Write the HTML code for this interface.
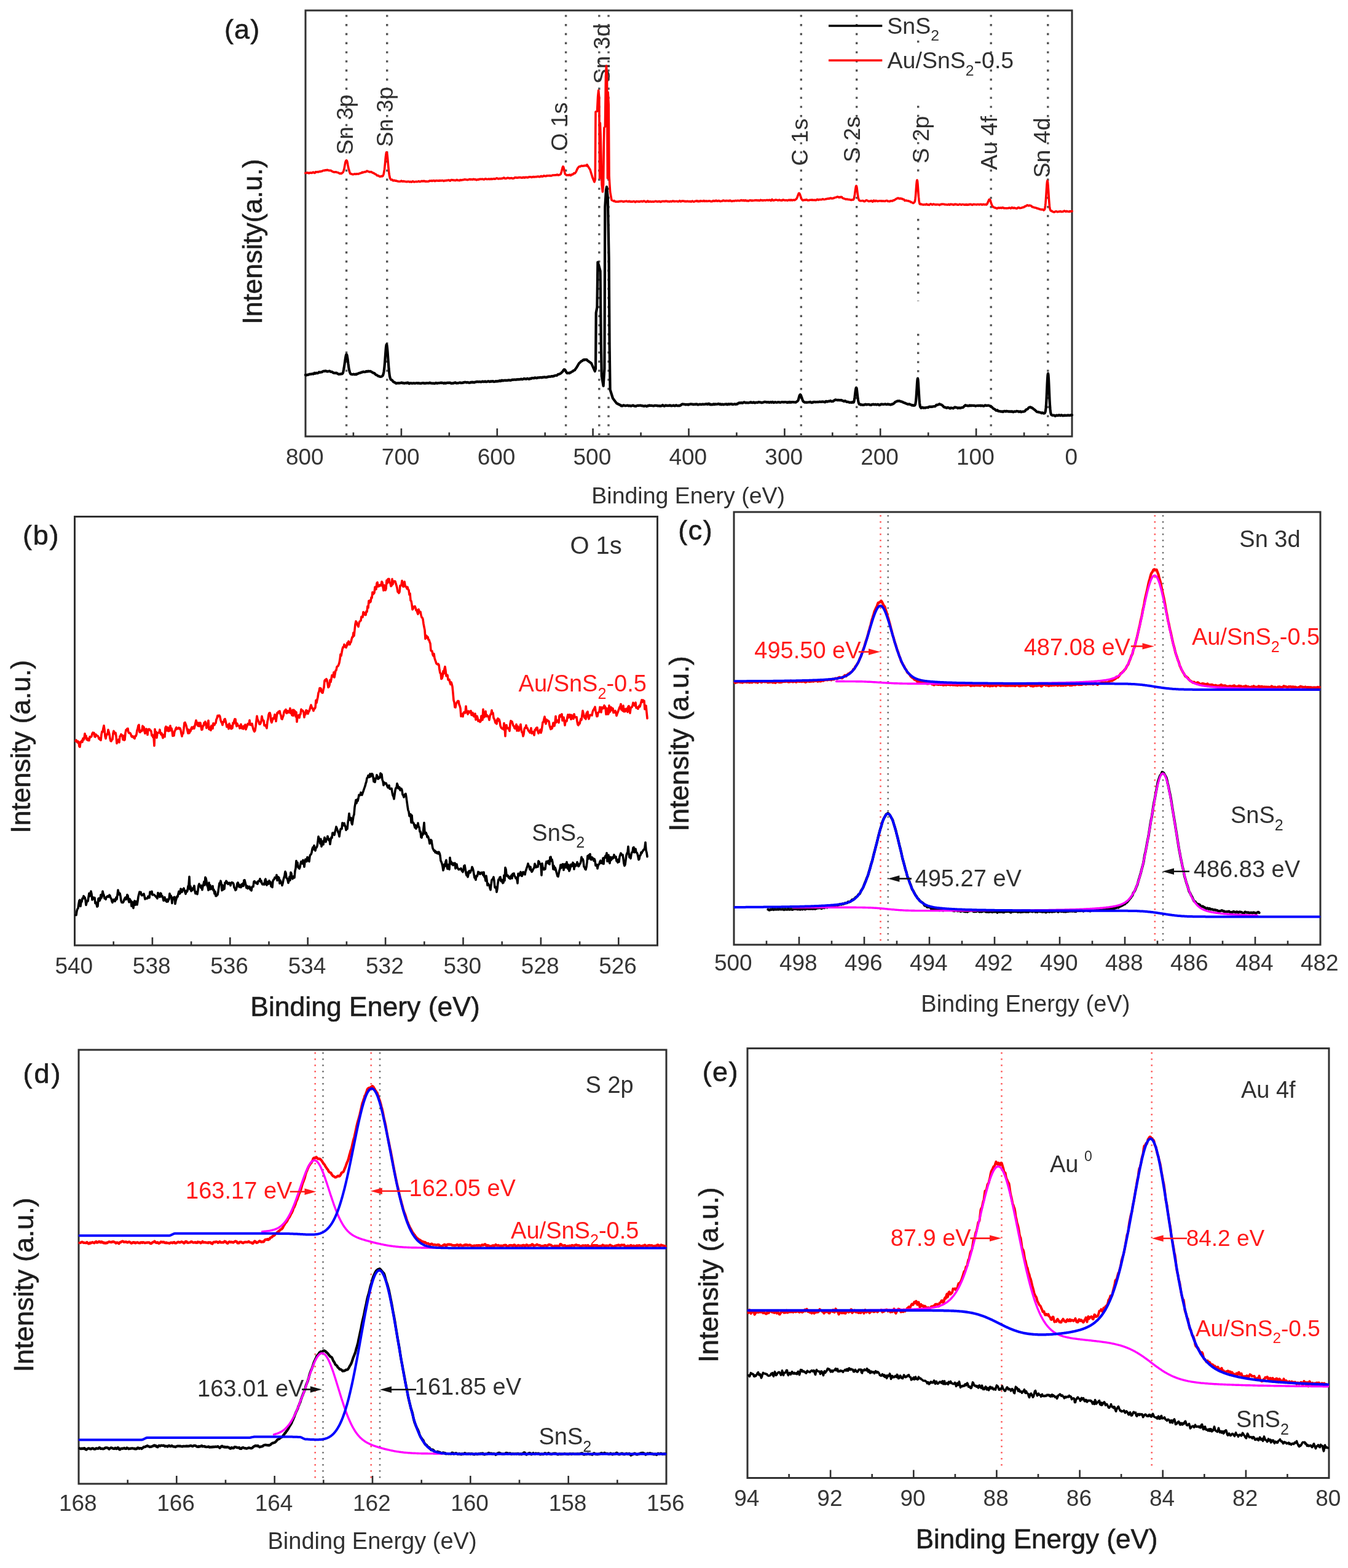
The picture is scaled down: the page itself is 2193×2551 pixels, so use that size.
<!DOCTYPE html>
<html><head><meta charset="utf-8"><style>
html,body{margin:0;padding:0;background:#fff;}
svg{display:block;font-family:"Liberation Sans",Arial,sans-serif;font-kerning:none;}
</style></head><body>
<svg width="2193" height="2551" viewBox="0 0 2193 2551">
<rect width="2193" height="2551" fill="#fff"/>
<rect x="497" y="17" width="1247" height="693" fill="none" stroke="#303030" stroke-width="3"/>
<path d="M1588.1 710V697M1432.2 710V697M1276.4 710V697M1120.5 710V697M964.6 710V697M808.8 710V697M652.9 710V697M1666.1 710V703.5M1510.2 710V703.5M1354.3 710V703.5M1198.4 710V703.5M1042.6 710V703.5M886.7 710V703.5M730.8 710V703.5M574.9 710V703.5" stroke="#303030" stroke-width="2.6" fill="none"/>
<text x="495.8" y="756" font-size="37" fill="#353535" text-anchor="middle">800</text>
<text x="651.7" y="756" font-size="37" fill="#353535" text-anchor="middle">700</text>
<text x="807.5" y="756" font-size="37" fill="#353535" text-anchor="middle">600</text>
<text x="963.4" y="756" font-size="37" fill="#353535" text-anchor="middle">500</text>
<text x="1119.3" y="756" font-size="37" fill="#353535" text-anchor="middle">400</text>
<text x="1275.2" y="756" font-size="37" fill="#353535" text-anchor="middle">300</text>
<text x="1431" y="756" font-size="37" fill="#353535" text-anchor="middle">200</text>
<text x="1586.9" y="756" font-size="37" fill="#353535" text-anchor="middle">100</text>
<text x="1742.8" y="756" font-size="37" fill="#353535" text-anchor="middle">0</text>
<text x="962.3" y="819.3" font-size="37.5" fill="#303030">Binding Enery (eV)</text>
<text transform="translate(425.6,527.5) rotate(-90)" font-size="44.4" fill="#1c1c1c" stroke="#1c1c1c" stroke-width="0.6">Intensity(a.u.)</text>
<text x="364.9" y="62.5" font-size="45" fill="#1c1c1c" letter-spacing="1.2" stroke="#1c1c1c" stroke-width="0.6">(a)</text>
<line x1="563.6" y1="24.2" x2="563.6" y2="708" stroke="#555" stroke-width="3.4" stroke-dasharray="3.4 11.4" opacity="1.0"/>
<line x1="629.7" y1="24.2" x2="629.7" y2="708" stroke="#555" stroke-width="3.4" stroke-dasharray="3.4 11.4" opacity="1.0"/>
<line x1="920.6" y1="24.2" x2="920.6" y2="708" stroke="#555" stroke-width="3.4" stroke-dasharray="3.4 11.4" opacity="1.0"/>
<line x1="974.8" y1="24.2" x2="974.8" y2="708" stroke="#555" stroke-width="3.4" stroke-dasharray="3.4 11.4" opacity="1.0"/>
<line x1="990" y1="24.2" x2="990" y2="708" stroke="#555" stroke-width="3.4" stroke-dasharray="3.4 11.4" opacity="1.0"/>
<line x1="1303.3" y1="24.2" x2="1303.3" y2="708" stroke="#555" stroke-width="3.4" stroke-dasharray="3.4 11.4" opacity="1.0"/>
<line x1="1393.7" y1="24.2" x2="1393.7" y2="708" stroke="#555" stroke-width="3.4" stroke-dasharray="3.4 11.4" opacity="1.0"/>
<line x1="1612.2" y1="24.2" x2="1612.2" y2="708" stroke="#555" stroke-width="3.4" stroke-dasharray="3.4 11.4" opacity="1.0"/>
<line x1="1704.8" y1="24.2" x2="1704.8" y2="708" stroke="#555" stroke-width="3.4" stroke-dasharray="3.4 11.4" opacity="1.0"/>
<line x1="1493.7" y1="66" x2="1493.7" y2="72" stroke="#555" stroke-width="3.4" stroke-dasharray="3.4 11.4" opacity="1.0"/>
<line x1="1493.7" y1="172" x2="1493.7" y2="282" stroke="#555" stroke-width="3.4" stroke-dasharray="3.4 11.4" opacity="1.0"/>
<line x1="1493.7" y1="356" x2="1493.7" y2="490" stroke="#555" stroke-width="3.4" stroke-dasharray="3.4 11.4" opacity="1.0"/>
<line x1="1493.7" y1="543" x2="1493.7" y2="607" stroke="#555" stroke-width="3.4" stroke-dasharray="3.4 11.4" opacity="1.0"/>
<text transform="translate(573.6,251.7) rotate(-90)" font-size="37.5" fill="#303030">Sn 3p</text>
<text transform="translate(639.3,239.2) rotate(-90)" font-size="37.5" fill="#303030">Sn 3p</text>
<text transform="translate(922.8,245.8) rotate(-90)" font-size="37.5" fill="#303030">O 1s</text>
<text transform="translate(992,136.7) rotate(-90)" font-size="37.5" fill="#303030">Sn 3d</text>
<text transform="translate(1314,269.9) rotate(-90)" font-size="37.5" fill="#303030">C 1s</text>
<text transform="translate(1398.8,264.2) rotate(-90)" font-size="37.5" fill="#303030">S 2s</text>
<text transform="translate(1510.5,265.7) rotate(-90)" font-size="37.5" fill="#303030">S 2p</text>
<text transform="translate(1622,276.6) rotate(-90)" font-size="37.5" fill="#303030">Au 4f</text>
<text transform="translate(1707.6,289.5) rotate(-90)" font-size="37.5" fill="#303030">Sn 4d</text>
<line x1="1348" y1="42.1" x2="1435.3" y2="42.1" stroke="#000" stroke-width="3.5"/>
<line x1="1348" y1="98.3" x2="1435.3" y2="98.3" stroke="#ff0000" stroke-width="3.5"/>
<text x="1443.3" y="54.7" font-size="37.5" fill="#303030"><tspan>SnS</tspan><tspan font-size="24.8" dy="11.6">2</tspan></text>
<text x="1443.6" y="110.9" font-size="37.5" fill="#303030"><tspan>Au/SnS</tspan><tspan font-size="24.8" dy="11.6">2</tspan><tspan dy="-11.6">-0.5</tspan></text>
<rect x="121.5" y="840.5" width="948" height="697.5" fill="none" stroke="#303030" stroke-width="3"/>
<path d="M247.9 1538V1525M374.3 1538V1525M500.7 1538V1525M627.1 1538V1525M753.5 1538V1525M879.9 1538V1525M1006.3 1538V1525M184.7 1538V1531.5M311.1 1538V1531.5M437.5 1538V1531.5M563.9 1538V1531.5M690.3 1538V1531.5M816.7 1538V1531.5M943.1 1538V1531.5" stroke="#303030" stroke-width="2.6" fill="none"/>
<text x="120.3" y="1584" font-size="37" fill="#353535" text-anchor="middle">540</text>
<text x="246.7" y="1584" font-size="37" fill="#353535" text-anchor="middle">538</text>
<text x="373.1" y="1584" font-size="37" fill="#353535" text-anchor="middle">536</text>
<text x="499.5" y="1584" font-size="37" fill="#353535" text-anchor="middle">534</text>
<text x="625.9" y="1584" font-size="37" fill="#353535" text-anchor="middle">532</text>
<text x="752.3" y="1584" font-size="37" fill="#353535" text-anchor="middle">530</text>
<text x="878.7" y="1584" font-size="37" fill="#353535" text-anchor="middle">528</text>
<text x="1005.1" y="1584" font-size="37" fill="#353535" text-anchor="middle">526</text>
<text x="407.3" y="1652.7" font-size="44.5" fill="#1c1c1c" stroke="#1c1c1c" stroke-width="0.6">Binding Enery (eV)</text>
<text transform="translate(49,1355.6) rotate(-90)" font-size="44.5" fill="#1c1c1c" stroke="#1c1c1c" stroke-width="0.6">Intensity (a.u.)</text>
<text x="37" y="886.3" font-size="45" fill="#1c1c1c" letter-spacing="1.8" stroke="#1c1c1c" stroke-width="0.6">(b)</text>
<text x="927.4" y="901" font-size="40" fill="#303030">O 1s</text>
<text x="843.6" y="1124.8" font-size="38" fill="#ff1a1a"><tspan>Au/SnS</tspan><tspan font-size="25.1" dy="11.8">2</tspan><tspan dy="-11.8">-0.5</tspan></text>
<text x="865.3" y="1367.5" font-size="38" fill="#303030"><tspan>SnS</tspan><tspan font-size="25.1" dy="11.8">2</tspan></text>
<rect x="1194" y="833" width="954" height="704" fill="none" stroke="#303030" stroke-width="3"/>
<path d="M1300 1537V1524M1406 1537V1524M1512 1537V1524M1618 1537V1524M1724 1537V1524M1830 1537V1524M1936 1537V1524M2042 1537V1524M1247 1537V1530.5M1353 1537V1530.5M1459 1537V1530.5M1565 1537V1530.5M1671 1537V1530.5M1777 1537V1530.5M1883 1537V1530.5M1989 1537V1530.5M2095 1537V1530.5" stroke="#303030" stroke-width="2.6" fill="none"/>
<text x="1192.8" y="1578.6" font-size="37" fill="#353535" text-anchor="middle">500</text>
<text x="1298.8" y="1578.6" font-size="37" fill="#353535" text-anchor="middle">498</text>
<text x="1404.8" y="1578.6" font-size="37" fill="#353535" text-anchor="middle">496</text>
<text x="1510.8" y="1578.6" font-size="37" fill="#353535" text-anchor="middle">494</text>
<text x="1616.8" y="1578.6" font-size="37" fill="#353535" text-anchor="middle">492</text>
<text x="1722.8" y="1578.6" font-size="37" fill="#353535" text-anchor="middle">490</text>
<text x="1828.8" y="1578.6" font-size="37" fill="#353535" text-anchor="middle">488</text>
<text x="1934.8" y="1578.6" font-size="37" fill="#353535" text-anchor="middle">486</text>
<text x="2040.8" y="1578.6" font-size="37" fill="#353535" text-anchor="middle">484</text>
<text x="2146.8" y="1578.6" font-size="37" fill="#353535" text-anchor="middle">482</text>
<text x="1498.3" y="1646" font-size="38" fill="#303030">Binding Energy (eV)</text>
<text transform="translate(1119.5,1352.5) rotate(-90)" font-size="45" fill="#1c1c1c" stroke="#1c1c1c" stroke-width="0.6">Intensity (a.u.)</text>
<text x="1103.2" y="878" font-size="45" fill="#1c1c1c" letter-spacing="1.6" stroke="#1c1c1c" stroke-width="0.6">(c)</text>
<text x="2016.3" y="890" font-size="38" fill="#303030">Sn 3d</text>
<text x="1227.3" y="1071" font-size="38" fill="#ff1a1a">495.50 eV</text>
<text x="1665.7" y="1066.4" font-size="38" fill="#ff1a1a">487.08 eV</text>
<text x="1938.9" y="1049" font-size="38" fill="#ff1a1a"><tspan>Au/SnS</tspan><tspan font-size="25.1" dy="11.8">2</tspan><tspan dy="-11.8">-0.5</tspan></text>
<text x="1488.6" y="1442" font-size="38" fill="#303030">495.27 eV</text>
<text x="1941.8" y="1427.4" font-size="38" fill="#303030">486.83 eV</text>
<text x="2002" y="1339" font-size="38" fill="#303030"><tspan>SnS</tspan><tspan font-size="25.1" dy="11.8">2</tspan></text>
<line x1="1432.5" y1="838" x2="1432.5" y2="1533" stroke="#ff2a2a" stroke-width="2.6" stroke-dasharray="2.6 7.4" opacity="0.75"/>
<line x1="1878.8" y1="838" x2="1878.8" y2="1533" stroke="#ff2a2a" stroke-width="2.6" stroke-dasharray="2.6 7.4" opacity="0.75"/>
<line x1="1444.7" y1="838" x2="1444.7" y2="1533" stroke="#444" stroke-width="2.6" stroke-dasharray="2.6 7.4" opacity="0.75"/>
<line x1="1892" y1="838" x2="1892" y2="1533" stroke="#444" stroke-width="2.6" stroke-dasharray="2.6 7.4" opacity="0.75"/>
<rect x="128" y="1708" width="956" height="706" fill="none" stroke="#303030" stroke-width="3"/>
<path d="M287.3 2414V2401M446.7 2414V2401M606 2414V2401M765.3 2414V2401M924.7 2414V2401M207.7 2414V2407.5M367 2414V2407.5M526.3 2414V2407.5M685.7 2414V2407.5M845 2414V2407.5M1004.3 2414V2407.5" stroke="#303030" stroke-width="2.6" fill="none"/>
<text x="126.8" y="2457.7" font-size="37" fill="#353535" text-anchor="middle">168</text>
<text x="286.1" y="2457.7" font-size="37" fill="#353535" text-anchor="middle">166</text>
<text x="445.5" y="2457.7" font-size="37" fill="#353535" text-anchor="middle">164</text>
<text x="604.8" y="2457.7" font-size="37" fill="#353535" text-anchor="middle">162</text>
<text x="764.1" y="2457.7" font-size="37" fill="#353535" text-anchor="middle">160</text>
<text x="923.5" y="2457.7" font-size="37" fill="#353535" text-anchor="middle">158</text>
<text x="1082.8" y="2457.7" font-size="37" fill="#353535" text-anchor="middle">156</text>
<text x="435.5" y="2520" font-size="38" fill="#303030">Binding Energy (eV)</text>
<text transform="translate(53.7,2232.3) rotate(-90)" font-size="44.8" fill="#1c1c1c" stroke="#1c1c1c" stroke-width="0.6">Intensity (a.u.)</text>
<text x="37.6" y="1761.5" font-size="45" fill="#1c1c1c" letter-spacing="3" stroke="#1c1c1c" stroke-width="0.6">(d)</text>
<text x="952.5" y="1777.7" font-size="38" fill="#303030">S 2p</text>
<text x="302.1" y="1949.5" font-size="38" fill="#ff1a1a">163.17 eV</text>
<text x="665.6" y="1946" font-size="38" fill="#ff1a1a">162.05 eV</text>
<text x="831.1" y="2014.6" font-size="38" fill="#ff1a1a"><tspan>Au/SnS</tspan><tspan font-size="25.1" dy="11.8">2</tspan><tspan dy="-11.8">-0.5</tspan></text>
<text x="321.1" y="2272.4" font-size="38" fill="#303030">163.01 eV</text>
<text x="674.8" y="2269" font-size="38" fill="#303030">161.85 eV</text>
<text x="876.5" y="2350" font-size="38" fill="#303030"><tspan>SnS</tspan><tspan font-size="25.1" dy="11.8">2</tspan></text>
<line x1="512.7" y1="1712" x2="512.7" y2="2410" stroke="#ff2a2a" stroke-width="2.6" stroke-dasharray="2.6 7.4" opacity="0.75"/>
<line x1="603.7" y1="1712" x2="603.7" y2="2410" stroke="#ff2a2a" stroke-width="2.6" stroke-dasharray="2.6 7.4" opacity="0.75"/>
<line x1="525.5" y1="1712" x2="525.5" y2="2410" stroke="#444" stroke-width="2.6" stroke-dasharray="2.6 7.4" opacity="0.75"/>
<line x1="618" y1="1712" x2="618" y2="2410" stroke="#444" stroke-width="2.6" stroke-dasharray="2.6 7.4" opacity="0.75"/>
<rect x="1216" y="1705.6" width="946" height="698.9" fill="none" stroke="#303030" stroke-width="3"/>
<path d="M1351.1 2404.5V2391.5M1486.3 2404.5V2391.5M1621.4 2404.5V2391.5M1756.6 2404.5V2391.5M1891.7 2404.5V2391.5M2026.9 2404.5V2391.5M1283.6 2404.5V2398M1418.7 2404.5V2398M1553.9 2404.5V2398M1689 2404.5V2398M1824.1 2404.5V2398M1959.3 2404.5V2398M2094.4 2404.5V2398" stroke="#303030" stroke-width="2.6" fill="none"/>
<text x="1214.8" y="2450" font-size="37" fill="#353535" text-anchor="middle">94</text>
<text x="1349.9" y="2450" font-size="37" fill="#353535" text-anchor="middle">92</text>
<text x="1485.1" y="2450" font-size="37" fill="#353535" text-anchor="middle">90</text>
<text x="1620.2" y="2450" font-size="37" fill="#353535" text-anchor="middle">88</text>
<text x="1755.4" y="2450" font-size="37" fill="#353535" text-anchor="middle">86</text>
<text x="1890.5" y="2450" font-size="37" fill="#353535" text-anchor="middle">84</text>
<text x="2025.7" y="2450" font-size="37" fill="#353535" text-anchor="middle">82</text>
<text x="2160.8" y="2450" font-size="37" fill="#353535" text-anchor="middle">80</text>
<text x="1489.7" y="2519" font-size="44" fill="#1c1c1c" stroke="#1c1c1c" stroke-width="0.6">Binding Energy (eV)</text>
<text transform="translate(1168,2216.7) rotate(-90)" font-size="45" fill="#1c1c1c" stroke="#1c1c1c" stroke-width="0.6">Intensity (a.u.)</text>
<text x="1142.7" y="1759" font-size="45" fill="#1c1c1c" letter-spacing="1.4" stroke="#1c1c1c" stroke-width="0.6">(e)</text>
<text x="2018.9" y="1786" font-size="38" fill="#303030">Au 4f</text>
<text x="1707.9" y="1907.4" font-size="38" fill="#303030">Au</text>
<text x="1763.9" y="1888.5" font-size="23" fill="#303030">0</text>
<text x="1448.7" y="2027" font-size="38" fill="#ff1a1a">87.9 eV</text>
<text x="1929.7" y="2027.3" font-size="37" fill="#ff1a1a">84.2 eV</text>
<text x="1944.9" y="2173.8" font-size="37" fill="#ff1a1a"><tspan>Au/SnS</tspan><tspan font-size="24.4" dy="11.5">2</tspan><tspan dy="-11.5">-0.5</tspan></text>
<text x="2011.1" y="2322.4" font-size="38" fill="#303030"><tspan>SnS</tspan><tspan font-size="25.1" dy="11.8">2</tspan></text>
<line x1="1629.5" y1="1712" x2="1629.5" y2="2392" stroke="#ff2a2a" stroke-width="2.6" stroke-dasharray="2.6 7.4" opacity="0.75"/>
<line x1="1873.7" y1="1712" x2="1873.7" y2="2392" stroke="#ff2a2a" stroke-width="2.6" stroke-dasharray="2.6 7.4" opacity="0.75"/>
<polyline points="497.0,610.0 497.5,610.2 498.0,610.3 498.5,610.3 499.0,610.4 499.5,610.0 500.0,609.6 500.5,609.7 501.0,609.9 501.5,609.7 502.0,609.5 502.5,609.4 503.0,608.9 503.5,608.8 504.0,608.8 504.5,608.5 505.0,608.7 505.5,608.6 506.0,608.8 506.5,608.7 507.0,608.3 507.5,608.3 508.0,608.0 508.5,608.2 509.0,608.4 509.5,608.6 510.0,608.0 510.5,607.6 511.0,607.4 511.5,606.8 512.0,607.3 512.5,607.8 513.0,607.3 513.5,607.4 514.0,607.3 514.5,606.7 515.0,607.2 515.5,607.0 516.0,607.1 516.5,607.2 517.0,607.1 517.5,606.7 518.0,606.3 518.5,605.8 519.0,605.3 519.5,605.5 520.0,605.9 520.5,605.9 521.0,605.8 521.5,605.7 522.0,605.5 522.5,605.4 523.0,605.4 523.5,605.5 524.0,605.2 524.5,604.8 525.0,604.4 525.5,604.3 526.0,603.8 526.5,604.0 527.0,603.9 527.5,603.7 528.0,604.0 528.5,603.7 529.0,603.8 529.5,603.5 530.0,603.4 530.5,603.8 531.0,603.9 531.5,604.1 532.0,604.4 532.5,604.2 533.0,604.4 533.5,604.4 534.0,604.2 534.5,604.2 535.0,603.9 535.5,603.7 536.0,603.6 536.5,603.9 537.0,604.2 537.5,604.4 538.0,605.0 538.5,604.9 539.0,604.9 539.5,605.0 540.0,604.8 540.5,605.3 541.0,605.6 541.5,605.9 542.0,606.4 542.5,606.4 543.0,606.5 543.5,607.0 544.0,607.0 544.5,607.0 545.0,606.9 545.5,607.1 546.0,606.7 546.5,606.8 547.0,606.8 547.5,606.6 548.0,607.2 548.5,607.4 549.0,607.8 549.5,608.0 550.0,608.3 550.5,608.7 551.0,608.9 551.5,608.9 552.0,608.6 552.5,608.5 553.0,608.5 553.5,608.7 554.0,608.6 554.5,608.3 555.0,608.1 555.5,608.1 556.0,607.9 556.5,608.3 557.0,608.0 557.5,607.3 558.0,606.5 558.5,604.3 559.0,601.9 559.5,599.2 560.0,596.0 560.5,592.7 561.0,589.4 561.5,585.9 562.0,582.5 562.5,579.7 563.0,577.5 563.5,576.6 564.0,576.7 564.5,578.0 565.0,580.6 565.5,583.5 566.0,587.5 566.5,591.7 567.0,595.2 567.5,598.9 568.0,601.6 568.5,603.3 569.0,605.3 569.5,606.5 570.0,607.6 570.5,608.4 571.0,608.7 571.5,608.8 572.0,608.9 572.5,609.0 573.0,609.2 573.5,609.2 574.0,609.1 574.5,608.9 575.0,608.7 575.5,609.0 576.0,608.9 576.5,609.1 577.0,609.3 577.5,608.9 578.0,609.2 578.5,609.0 579.0,608.7 579.5,609.2 580.0,608.4 580.5,608.7 581.0,608.7 581.5,608.3 582.0,608.2 582.5,607.8 583.0,607.3 583.5,607.3 584.0,607.2 584.5,606.9 585.0,606.9 585.5,606.5 586.0,606.6 586.5,606.6 587.0,606.4 587.5,606.1 588.0,605.6 588.5,605.5 589.0,605.6 589.5,605.5 590.0,605.3 590.5,605.0 591.0,604.7 591.5,604.9 592.0,605.1 592.5,605.1 593.0,605.2 593.5,605.2 594.0,605.1 594.5,605.0 595.0,604.7 595.5,604.2 596.0,604.2 596.5,604.2 597.0,604.5 597.5,604.7 598.0,604.3 598.5,604.1 599.0,603.7 599.5,603.8 600.0,604.3 600.5,604.2 601.0,604.2 601.5,604.1 602.0,603.9 602.5,604.0 603.0,604.3 603.5,604.5 604.0,604.7 604.5,605.1 605.0,605.2 605.5,605.7 606.0,605.9 606.5,606.2 607.0,606.7 607.5,606.8 608.0,606.8 608.5,607.0 609.0,607.1 609.5,607.5 610.0,608.3 610.5,608.8 611.0,609.2 611.5,609.7 612.0,609.6 612.5,610.0 613.0,610.4 613.5,610.5 614.0,610.9 614.5,611.1 615.0,611.6 615.5,611.9 616.0,612.0 616.5,612.2 617.0,612.2 617.5,612.5 618.0,612.8 618.5,612.8 619.0,612.9 619.5,612.8 620.0,612.7 620.5,612.6 621.0,612.3 621.5,612.2 622.0,611.8 622.5,611.3 623.0,610.6 623.5,609.0 624.0,607.1 624.5,604.6 625.0,600.7 625.5,596.0 626.0,590.4 626.5,583.8 627.0,576.9 627.5,570.3 628.0,564.5 628.5,561.2 629.0,560.3 629.5,562.1 630.0,566.4 630.5,571.7 631.0,578.6 631.5,585.8 632.0,592.6 632.5,599.3 633.0,604.3 633.5,608.4 634.0,612.1 634.5,614.0 635.0,615.8 635.5,617.1 636.0,617.5 636.5,617.9 637.0,618.2 637.5,618.5 638.0,618.6 638.5,619.5 639.0,620.0 639.5,620.6 640.0,621.3 640.5,621.5 641.0,621.7 641.5,621.7 642.0,622.1 642.5,622.4 643.0,623.0 643.5,623.2 644.0,623.3 644.5,623.8 645.0,623.3 645.5,623.3 646.0,623.3 646.5,623.2 647.0,623.3 647.5,623.5 648.0,623.4 648.5,623.0 649.0,623.2 649.5,623.4 650.0,623.4 650.5,623.3 651.0,623.2 651.5,623.0 652.0,622.8 652.5,622.9 653.0,622.9 653.5,622.5 654.0,623.1 654.5,622.9 655.0,623.0 655.5,623.3 656.0,622.9 656.5,623.4 657.0,623.4 657.5,623.3 658.0,623.6 658.5,623.5 659.0,623.3 659.5,623.2 660.0,623.1 660.5,623.0 661.0,622.9 661.5,623.3 662.0,622.9 662.5,622.8 663.0,622.9 663.5,622.5 664.0,622.8 664.5,623.6 665.0,623.8 665.5,624.2 666.0,624.1 666.5,623.4 667.0,623.4 667.5,623.4 668.0,623.4 668.5,623.4 669.0,623.3 669.5,623.3 670.0,623.6 670.5,623.7 671.0,623.7 671.5,623.5 672.0,623.5 672.5,623.3 673.0,623.3 673.5,623.5 674.0,623.4 674.5,623.7 675.0,623.5 675.5,623.6 676.0,623.5 676.5,623.4 677.0,623.4 677.5,623.2 678.0,623.1 678.5,623.3 679.0,623.4 679.5,623.6 680.0,623.6 680.5,623.1 681.0,623.3 681.5,623.3 682.0,623.4 682.5,623.7 683.0,623.7 683.5,623.5 684.0,623.8 684.5,623.7 685.0,623.8 685.5,623.6 686.0,623.3 686.5,623.5 687.0,623.2 687.5,623.1 688.0,623.2 688.5,623.2 689.0,623.2 689.5,623.6 690.0,623.4 690.5,623.4 691.0,623.6 691.5,623.7 692.0,623.7 692.5,623.5 693.0,623.3 693.5,623.2 694.0,623.4 694.5,623.3 695.0,623.2 695.5,623.3 696.0,623.2 696.5,623.5 697.0,623.5 697.5,623.5 698.0,623.2 698.5,622.9 699.0,622.7 699.5,622.7 700.0,623.2 700.5,623.4 701.0,623.5 701.5,623.4 702.0,623.5 702.5,623.6 703.0,623.7 703.5,623.7 704.0,623.5 704.5,623.6 705.0,623.7 705.5,623.6 706.0,623.8 706.5,623.5 707.0,623.8 707.5,623.8 708.0,623.5 708.5,623.5 709.0,622.9 709.5,623.1 710.0,623.3 710.5,623.2 711.0,623.6 711.5,623.6 712.0,623.3 712.5,623.4 713.0,623.2 713.5,623.1 714.0,623.2 714.5,623.1 715.0,623.2 715.5,623.1 716.0,622.9 716.5,622.7 717.0,623.0 717.5,622.7 718.0,623.1 718.5,623.1 719.0,622.7 719.5,622.9 720.0,623.0 720.5,623.0 721.0,623.4 721.5,623.6 722.0,623.4 722.5,623.6 723.0,623.3 723.5,622.9 724.0,623.2 724.5,623.3 725.0,623.7 725.5,623.5 726.0,623.2 726.5,622.8 727.0,623.0 727.5,623.0 728.0,622.8 728.5,622.9 729.0,622.6 729.5,622.7 730.0,622.9 730.5,623.0 731.0,623.0 731.5,622.7 732.0,622.5 732.5,622.8 733.0,622.8 733.5,623.4 734.0,623.8 734.5,623.7 735.0,623.7 735.5,623.7 736.0,623.3 736.5,623.5 737.0,623.6 737.5,623.4 738.0,623.4 738.5,622.9 739.0,622.8 739.5,622.6 740.0,622.5 740.5,622.4 741.0,622.4 741.5,622.7 742.0,623.2 742.5,623.5 743.0,623.4 743.5,623.3 744.0,623.3 744.5,623.2 745.0,623.3 745.5,623.3 746.0,623.0 746.5,622.9 747.0,622.8 747.5,622.6 748.0,622.4 748.5,622.5 749.0,622.5 749.5,622.8 750.0,623.1 750.5,623.0 751.0,622.8 751.5,622.8 752.0,623.0 752.5,622.6 753.0,622.8 753.5,622.6 754.0,622.2 754.5,622.5 755.0,622.2 755.5,621.9 756.0,622.0 756.5,621.9 757.0,622.0 757.5,621.9 758.0,622.0 758.5,622.3 759.0,622.1 759.5,622.4 760.0,622.1 760.5,621.9 761.0,622.1 761.5,622.1 762.0,622.4 762.5,622.6 763.0,622.8 763.5,622.7 764.0,622.6 764.5,622.7 765.0,622.2 765.5,622.0 766.0,622.1 766.5,621.7 767.0,621.8 767.5,622.1 768.0,621.7 768.5,621.9 769.0,622.1 769.5,621.7 770.0,622.0 770.5,622.1 771.0,621.9 771.5,622.3 772.0,621.9 772.5,621.7 773.0,621.8 773.5,621.5 774.0,621.4 774.5,621.5 775.0,621.1 775.5,621.0 776.0,621.0 776.5,620.8 777.0,621.1 777.5,621.2 778.0,621.2 778.5,621.3 779.0,621.1 779.5,620.9 780.0,621.2 780.5,621.0 781.0,621.2 781.5,621.3 782.0,621.2 782.5,621.4 783.0,621.4 783.5,621.2 784.0,621.1 784.5,620.5 785.0,620.6 785.5,620.6 786.0,620.6 786.5,621.1 787.0,621.2 787.5,621.2 788.0,620.8 788.5,620.8 789.0,620.4 789.5,620.5 790.0,621.0 790.5,620.8 791.0,621.0 791.5,621.2 792.0,621.1 792.5,620.9 793.0,620.8 793.5,620.5 794.0,620.2 794.5,620.4 795.0,620.3 795.5,620.6 796.0,620.9 796.5,621.1 797.0,621.0 797.5,621.0 798.0,620.5 798.5,620.3 799.0,620.6 799.5,620.3 800.0,620.6 800.5,620.6 801.0,620.2 801.5,620.3 802.0,620.1 802.5,620.4 803.0,620.9 803.5,621.1 804.0,621.0 804.5,621.0 805.0,620.7 805.5,620.5 806.0,620.7 806.5,620.2 807.0,620.2 807.5,620.2 808.0,620.4 808.5,620.6 809.0,620.5 809.5,620.3 810.0,619.9 810.5,620.1 811.0,620.2 811.5,620.3 812.0,620.0 812.5,619.4 813.0,619.3 813.5,619.4 814.0,619.8 814.5,620.1 815.0,619.9 815.5,619.4 816.0,619.0 816.5,618.6 817.0,618.7 817.5,619.1 818.0,619.4 818.5,619.5 819.0,619.1 819.5,619.1 820.0,618.9 820.5,618.8 821.0,618.9 821.5,618.8 822.0,618.6 822.5,619.0 823.0,619.1 823.5,618.9 824.0,619.0 824.5,618.9 825.0,619.1 825.5,618.9 826.0,618.7 826.5,618.6 827.0,618.3 827.5,618.6 828.0,618.7 828.5,618.4 829.0,618.6 829.5,618.6 830.0,618.5 830.5,618.9 831.0,618.8 831.5,618.7 832.0,618.3 832.5,618.1 833.0,617.9 833.5,617.7 834.0,617.9 834.5,618.1 835.0,617.9 835.5,617.8 836.0,617.6 836.5,617.5 837.0,617.7 837.5,617.6 838.0,617.8 838.5,617.7 839.0,617.8 839.5,617.6 840.0,617.4 840.5,617.7 841.0,617.3 841.5,617.5 842.0,617.3 842.5,617.2 843.0,617.1 843.5,617.4 844.0,617.5 844.5,617.3 845.0,617.3 845.5,617.1 846.0,617.2 846.5,617.2 847.0,617.0 847.5,616.6 848.0,616.5 848.5,616.9 849.0,617.0 849.5,617.3 850.0,617.1 850.5,616.9 851.0,616.7 851.5,616.6 852.0,616.4 852.5,616.0 853.0,616.3 853.5,616.1 854.0,616.3 854.5,616.5 855.0,616.4 855.5,616.7 856.0,616.8 856.5,616.5 857.0,616.4 857.5,616.0 858.0,615.7 858.5,616.2 859.0,616.0 859.5,616.3 860.0,616.6 860.5,616.7 861.0,616.8 861.5,616.5 862.0,616.3 862.5,615.7 863.0,616.0 863.5,616.2 864.0,615.7 864.5,615.7 865.0,615.5 865.5,615.0 866.0,615.2 866.5,615.2 867.0,615.0 867.5,615.1 868.0,615.1 868.5,615.4 869.0,614.9 869.5,614.8 870.0,614.6 870.5,614.3 871.0,614.6 871.5,614.7 872.0,614.9 872.5,615.2 873.0,615.0 873.5,614.8 874.0,614.9 874.5,614.4 875.0,614.6 875.5,614.4 876.0,614.3 876.5,614.3 877.0,614.3 877.5,614.4 878.0,614.1 878.5,614.0 879.0,614.1 879.5,613.9 880.0,614.1 880.5,614.2 881.0,614.1 881.5,614.4 882.0,614.1 882.5,614.2 883.0,613.6 883.5,613.7 884.0,613.8 884.5,613.5 885.0,613.7 885.5,613.6 886.0,613.3 886.5,613.6 887.0,613.6 887.5,613.7 888.0,614.0 888.5,614.0 889.0,613.8 889.5,613.6 890.0,613.6 890.5,613.1 891.0,613.4 891.5,613.1 892.0,612.9 892.5,612.9 893.0,612.6 893.5,612.5 894.0,612.6 894.5,612.8 895.0,612.8 895.5,612.7 896.0,612.7 896.5,612.4 897.0,612.2 897.5,612.0 898.0,612.1 898.5,612.1 899.0,612.5 899.5,612.4 900.0,611.9 900.5,612.1 901.0,611.7 901.5,611.7 902.0,611.7 902.5,611.1 903.0,611.2 903.5,610.8 904.0,610.8 904.5,610.7 905.0,610.8 905.5,610.9 906.0,610.8 906.5,610.5 907.0,609.9 907.5,609.5 908.0,608.9 908.5,608.9 909.0,608.8 909.5,608.7 910.0,608.6 910.5,608.4 911.0,608.0 911.5,607.7 912.0,607.5 912.5,607.2 913.0,606.8 913.5,606.2 914.0,605.7 914.5,605.4 915.0,604.7 915.5,604.5 916.0,603.4 916.5,602.4 917.0,602.0 917.5,601.3 918.0,601.1 918.5,601.3 919.0,601.5 919.5,602.3 920.0,603.4 920.5,604.2 921.0,605.1 921.5,605.9 922.0,606.5 922.5,607.0 923.0,607.2 923.5,606.9 924.0,606.7 924.5,606.8 925.0,606.7 925.5,606.9 926.0,607.2 926.5,606.7 927.0,606.8 927.5,606.4 928.0,605.9 928.5,606.1 929.0,605.6 929.5,605.3 930.0,605.0 930.5,604.6 931.0,604.4 931.5,604.2 932.0,604.0 932.5,603.5 933.0,602.9 933.5,602.8 934.0,602.6 934.5,602.4 935.0,602.3 935.5,601.6 936.0,600.6 936.5,599.9 937.0,599.3 937.5,598.6 938.0,597.8 938.5,597.3 939.0,596.1 939.5,595.5 940.0,594.7 940.5,593.5 941.0,592.9 941.5,591.9 942.0,591.1 942.5,590.5 943.0,590.2 943.5,589.8 944.0,589.4 944.5,588.8 945.0,588.1 945.5,587.8 946.0,587.5 946.5,587.4 947.0,587.2 947.5,587.0 948.0,586.3 948.5,585.9 949.0,585.5 949.5,585.3 950.0,585.2 950.5,585.1 951.0,585.5 951.5,585.1 952.0,585.2 952.5,585.2 953.0,585.0 953.5,585.3 954.0,585.0 954.5,585.0 955.0,586.0 962.0,591.0 967.8,604.0 969.0,600.0 969.7,509.0 971.4,500.0 972.4,426.5 974.0,431.0 976.6,441.0 977.8,560.0 978.8,612.0 981.6,628.0 983.4,600.0 984.3,337.0 986.0,309.0 987.0,304.0 988.8,322.0 990.6,420.0 991.6,562.0 992.6,634.0 997.0,648.0 1003.0,656.0 1010.0,659.5 1010.5,660.2 1011.0,659.8 1011.5,660.0 1012.0,660.4 1012.5,660.2 1013.0,660.4 1013.5,659.8 1014.0,659.4 1014.5,659.5 1015.0,659.4 1015.5,659.5 1016.0,659.8 1016.5,659.8 1017.0,660.1 1017.5,660.2 1018.0,660.1 1018.5,659.9 1019.0,660.0 1019.5,659.8 1020.0,659.7 1020.5,659.7 1021.0,659.6 1021.5,659.6 1022.0,659.8 1022.5,660.4 1023.0,660.3 1023.5,660.1 1024.0,660.2 1024.5,659.9 1025.0,659.9 1025.5,660.4 1026.0,660.4 1026.5,660.6 1027.0,660.5 1027.5,660.2 1028.0,660.0 1028.5,659.9 1029.0,659.6 1029.5,659.9 1030.0,659.5 1030.5,659.6 1031.0,660.3 1031.5,660.4 1032.0,660.6 1032.5,660.6 1033.0,660.5 1033.5,660.6 1034.0,661.0 1034.5,661.0 1035.0,660.6 1035.5,660.3 1036.0,660.1 1036.5,659.9 1037.0,659.8 1037.5,659.8 1038.0,659.6 1038.5,659.6 1039.0,660.0 1039.5,659.8 1040.0,659.8 1040.5,659.7 1041.0,659.5 1041.5,659.7 1042.0,659.7 1042.5,659.6 1043.0,659.9 1043.5,659.9 1044.0,659.9 1044.5,660.3 1045.0,660.1 1045.5,660.1 1046.0,660.2 1046.5,660.5 1047.0,660.7 1047.5,660.8 1048.0,660.8 1048.5,660.4 1049.0,660.5 1049.5,660.1 1050.0,660.3 1050.5,660.4 1051.0,660.5 1051.5,660.8 1052.0,661.1 1052.5,660.7 1053.0,660.6 1053.5,660.6 1054.0,660.0 1054.5,660.3 1055.0,659.9 1055.5,659.7 1056.0,659.9 1056.5,659.5 1057.0,659.9 1057.5,659.9 1058.0,659.7 1058.5,660.0 1059.0,659.8 1059.5,659.7 1060.0,659.8 1060.5,659.9 1061.0,660.1 1061.5,660.0 1062.0,660.2 1062.5,660.3 1063.0,660.3 1063.5,660.5 1064.0,660.2 1064.5,660.0 1065.0,659.7 1065.5,659.7 1066.0,659.8 1066.5,659.7 1067.0,659.8 1067.5,659.8 1068.0,660.0 1068.5,660.0 1069.0,659.9 1069.5,660.2 1070.0,660.4 1070.5,660.5 1071.0,660.4 1071.5,660.3 1072.0,660.1 1072.5,660.1 1073.0,660.3 1073.5,660.6 1074.0,660.7 1074.5,660.4 1075.0,660.5 1075.5,660.3 1076.0,660.5 1076.5,660.2 1077.0,659.9 1077.5,659.5 1078.0,659.0 1078.5,659.5 1079.0,659.7 1079.5,660.1 1080.0,660.5 1080.5,660.5 1081.0,660.7 1081.5,660.5 1082.0,659.9 1082.5,659.8 1083.0,659.4 1083.5,659.4 1084.0,659.8 1084.5,659.8 1085.0,660.2 1085.5,660.0 1086.0,659.8 1086.5,659.9 1087.0,659.8 1087.5,659.9 1088.0,660.1 1088.5,660.0 1089.0,659.6 1089.5,659.5 1090.0,659.3 1090.5,659.6 1091.0,659.8 1091.5,660.2 1092.0,660.4 1092.5,660.0 1093.0,660.1 1093.5,659.9 1094.0,660.1 1094.5,659.9 1095.0,659.8 1095.5,659.9 1096.0,659.5 1096.5,659.9 1097.0,659.9 1097.5,660.1 1098.0,660.4 1098.5,660.0 1099.0,659.8 1099.5,659.4 1100.0,659.2 1100.5,659.5 1101.0,659.7 1101.5,660.0 1102.0,660.1 1102.5,660.2 1103.0,660.2 1103.5,660.1 1104.0,659.8 1104.5,659.9 1105.0,660.1 1105.5,659.9 1106.0,660.1 1106.5,659.7 1107.0,659.4 1107.5,659.3 1108.0,658.7 1108.5,658.5 1109.0,657.9 1109.5,657.7 1110.0,657.5 1110.5,657.4 1111.0,657.6 1111.5,657.6 1112.0,657.7 1112.5,657.7 1113.0,657.8 1113.5,657.8 1114.0,657.8 1114.5,658.0 1115.0,658.3 1115.5,658.1 1116.0,658.4 1116.5,658.2 1117.0,658.0 1117.5,658.2 1118.0,657.8 1118.5,658.1 1119.0,658.4 1119.5,658.4 1120.0,658.6 1120.5,658.2 1121.0,657.7 1121.5,657.8 1122.0,657.8 1122.5,657.6 1123.0,657.6 1123.5,657.4 1124.0,657.3 1124.5,657.4 1125.0,657.6 1125.5,657.7 1126.0,657.5 1126.5,657.8 1127.0,657.6 1127.5,657.9 1128.0,658.2 1128.5,658.1 1129.0,658.0 1129.5,657.8 1130.0,657.7 1130.5,657.6 1131.0,657.8 1131.5,657.7 1132.0,657.9 1132.5,657.7 1133.0,657.4 1133.5,657.6 1134.0,657.5 1134.5,657.9 1135.0,658.4 1135.5,658.4 1136.0,658.5 1136.5,658.3 1137.0,658.1 1137.5,658.0 1138.0,657.9 1138.5,657.7 1139.0,657.7 1139.5,657.8 1140.0,657.9 1140.5,658.2 1141.0,658.1 1141.5,657.9 1142.0,657.9 1142.5,657.6 1143.0,657.5 1143.5,657.7 1144.0,657.5 1144.5,657.8 1145.0,658.0 1145.5,657.8 1146.0,657.7 1146.5,657.7 1147.0,657.7 1147.5,657.6 1148.0,657.6 1148.5,657.1 1149.0,657.1 1149.5,657.4 1150.0,657.5 1150.5,657.8 1151.0,657.9 1151.5,657.1 1152.0,657.0 1152.5,657.1 1153.0,656.7 1153.5,657.5 1154.0,657.7 1154.5,657.3 1155.0,658.0 1155.5,657.7 1156.0,658.0 1156.5,658.4 1157.0,657.9 1157.5,658.1 1158.0,658.2 1158.5,658.3 1159.0,658.3 1159.5,658.2 1160.0,657.6 1160.5,657.3 1161.0,657.8 1161.5,657.4 1162.0,658.1 1162.5,657.9 1163.0,657.4 1163.5,657.8 1164.0,657.3 1164.5,657.6 1165.0,657.6 1165.5,657.6 1166.0,657.7 1166.5,657.7 1167.0,657.7 1167.5,657.3 1168.0,657.3 1168.5,656.9 1169.0,656.9 1169.5,657.3 1170.0,657.5 1170.5,657.8 1171.0,657.4 1171.5,657.4 1172.0,657.4 1172.5,657.5 1173.0,658.2 1173.5,658.3 1174.0,657.8 1174.5,657.8 1175.0,657.5 1175.5,657.6 1176.0,658.1 1176.5,658.1 1177.0,658.3 1177.5,658.2 1178.0,657.9 1178.5,657.8 1179.0,657.7 1179.5,657.5 1180.0,657.5 1180.5,657.6 1181.0,657.4 1181.5,657.3 1182.0,657.5 1182.5,657.7 1183.0,658.3 1183.5,658.2 1184.0,658.1 1184.5,657.7 1185.0,657.2 1185.5,657.5 1186.0,657.5 1186.5,657.8 1187.0,657.4 1187.5,657.4 1188.0,657.5 1188.5,657.4 1189.0,657.5 1189.5,657.5 1190.0,657.1 1190.5,657.3 1191.0,657.9 1191.5,657.9 1192.0,658.1 1192.5,657.9 1193.0,657.7 1193.5,657.8 1194.0,657.5 1194.5,657.5 1195.0,657.2 1195.5,657.5 1196.0,657.6 1196.5,657.8 1197.0,657.8 1197.5,657.4 1198.0,657.6 1198.5,657.3 1199.0,657.5 1199.5,657.5 1200.0,656.8 1200.5,656.6 1201.0,656.2 1201.5,655.5 1202.0,655.5 1202.5,655.6 1203.0,655.2 1203.5,655.5 1204.0,655.6 1204.5,655.3 1205.0,655.3 1205.5,655.1 1206.0,655.0 1206.5,655.3 1207.0,655.6 1207.5,655.6 1208.0,655.7 1208.5,655.5 1209.0,655.0 1209.5,654.8 1210.0,654.7 1210.5,654.4 1211.0,654.3 1211.5,654.6 1212.0,654.7 1212.5,655.0 1213.0,655.3 1213.5,655.1 1214.0,655.3 1214.5,655.1 1215.0,655.1 1215.5,655.2 1216.0,655.3 1216.5,655.2 1217.0,655.4 1217.5,655.3 1218.0,655.2 1218.5,655.3 1219.0,655.0 1219.5,655.0 1220.0,654.7 1220.5,654.4 1221.0,654.4 1221.5,654.3 1222.0,654.3 1222.5,655.0 1223.0,655.0 1223.5,654.9 1224.0,655.2 1224.5,654.9 1225.0,654.8 1225.5,654.9 1226.0,654.4 1226.5,654.4 1227.0,654.8 1227.5,655.0 1228.0,655.5 1228.5,655.4 1229.0,654.8 1229.5,654.8 1230.0,654.6 1230.5,654.7 1231.0,654.8 1231.5,654.8 1232.0,654.9 1232.5,654.8 1233.0,654.8 1233.5,654.4 1234.0,654.0 1234.5,654.2 1235.0,654.1 1235.5,654.3 1236.0,654.5 1236.5,654.6 1237.0,654.6 1237.5,654.7 1238.0,654.6 1238.5,654.8 1239.0,655.1 1239.5,655.2 1240.0,655.0 1240.5,654.7 1241.0,654.6 1241.5,654.5 1242.0,654.6 1242.5,654.4 1243.0,654.0 1243.5,653.9 1244.0,654.0 1244.5,653.9 1245.0,654.1 1245.5,653.9 1246.0,654.2 1246.5,654.3 1247.0,654.2 1247.5,654.6 1248.0,654.5 1248.5,654.4 1249.0,654.4 1249.5,654.2 1250.0,654.2 1250.5,654.4 1251.0,654.8 1251.5,654.9 1252.0,654.6 1252.5,654.5 1253.0,654.0 1253.5,654.0 1254.0,654.3 1254.5,654.5 1255.0,654.8 1255.5,654.6 1256.0,654.5 1256.5,653.8 1257.0,653.8 1257.5,654.2 1258.0,654.5 1258.5,655.0 1259.0,655.1 1259.5,654.7 1260.0,654.4 1260.5,654.4 1261.0,654.4 1261.5,654.2 1262.0,654.4 1262.5,654.6 1263.0,654.7 1263.5,654.8 1264.0,654.7 1264.5,654.6 1265.0,654.4 1265.5,654.2 1266.0,654.5 1266.5,654.3 1267.0,654.2 1267.5,654.4 1268.0,654.3 1268.5,654.6 1269.0,654.8 1269.5,654.8 1270.0,654.7 1270.5,654.3 1271.0,654.3 1271.5,654.1 1272.0,654.0 1272.5,654.1 1273.0,654.2 1273.5,654.1 1274.0,654.3 1274.5,654.3 1275.0,654.1 1275.5,654.3 1276.0,654.3 1276.5,654.0 1277.0,654.0 1277.5,654.1 1278.0,654.1 1278.5,654.1 1279.0,654.3 1279.5,654.4 1280.0,654.4 1280.5,654.9 1281.0,654.9 1281.5,654.6 1282.0,654.3 1282.5,654.1 1283.0,654.6 1283.5,654.5 1284.0,654.6 1284.5,654.7 1285.0,653.9 1285.5,654.3 1286.0,654.6 1286.5,654.5 1287.0,654.7 1287.5,654.2 1288.0,654.1 1288.5,654.2 1289.0,654.0 1289.5,654.3 1290.0,654.2 1290.5,654.0 1291.0,654.4 1291.5,654.4 1292.0,654.4 1292.5,654.4 1293.0,654.5 1293.5,654.3 1294.0,654.4 1294.5,654.7 1295.0,654.3 1295.5,654.0 1296.0,653.7 1296.5,653.1 1297.0,652.9 1297.5,652.7 1298.0,651.9 1298.5,651.2 1299.0,649.8 1299.5,647.6 1300.0,646.0 1300.5,644.1 1301.0,642.9 1301.5,642.2 1302.0,641.9 1302.5,642.4 1303.0,643.2 1303.5,644.6 1304.0,646.0 1304.5,647.3 1305.0,648.9 1305.5,650.3 1306.0,652.0 1306.5,652.8 1307.0,653.0 1307.5,653.7 1308.0,653.7 1308.5,654.0 1309.0,654.6 1309.5,654.4 1310.0,654.6 1310.5,654.5 1311.0,654.6 1311.5,654.7 1312.0,654.6 1312.5,654.8 1313.0,654.5 1313.5,654.6 1314.0,654.5 1314.5,654.5 1315.0,654.5 1315.5,654.4 1316.0,654.5 1316.5,654.5 1317.0,654.3 1317.5,654.3 1318.0,653.9 1318.5,653.8 1319.0,654.2 1319.5,654.6 1320.0,655.0 1320.5,655.1 1321.0,655.2 1321.5,654.9 1322.0,654.5 1322.5,654.2 1323.0,654.0 1323.5,653.9 1324.0,654.3 1324.5,654.2 1325.0,653.8 1325.5,653.8 1326.0,654.0 1326.5,654.0 1327.0,654.4 1327.5,654.3 1328.0,654.0 1328.5,654.0 1329.0,654.0 1329.5,653.9 1330.0,654.0 1330.5,654.2 1331.0,654.0 1331.5,654.0 1332.0,654.0 1332.5,653.8 1333.0,653.5 1333.5,653.7 1334.0,653.6 1334.5,653.7 1335.0,653.8 1335.5,653.8 1336.0,653.9 1336.5,653.5 1337.0,653.7 1337.5,653.7 1338.0,653.4 1338.5,653.7 1339.0,653.7 1339.5,653.5 1340.0,653.6 1340.5,653.8 1341.0,653.8 1341.5,654.3 1342.0,654.4 1342.5,653.9 1343.0,653.5 1343.5,653.0 1344.0,652.8 1344.5,653.0 1345.0,653.4 1345.5,653.2 1346.0,653.6 1346.5,653.4 1347.0,653.0 1347.5,652.9 1348.0,652.7 1348.5,652.9 1349.0,653.0 1349.5,652.7 1350.0,652.4 1350.5,652.4 1351.0,651.9 1351.5,652.6 1352.0,652.7 1352.5,652.8 1353.0,653.1 1353.5,652.8 1354.0,652.8 1354.5,653.0 1355.0,652.7 1355.5,652.8 1356.0,652.2 1356.5,651.7 1357.0,651.7 1357.5,651.2 1358.0,650.9 1358.5,650.7 1359.0,650.4 1359.5,650.3 1360.0,650.6 1360.5,650.6 1361.0,650.7 1361.5,650.9 1362.0,650.9 1362.5,650.9 1363.0,651.2 1363.5,650.9 1364.0,650.9 1364.5,651.0 1365.0,650.8 1365.5,651.1 1366.0,651.0 1366.5,651.0 1367.0,651.1 1367.5,650.9 1368.0,651.2 1368.5,651.3 1369.0,651.0 1369.5,651.4 1370.0,651.5 1370.5,651.8 1371.0,652.2 1371.5,652.3 1372.0,652.3 1372.5,652.6 1373.0,652.9 1373.5,652.9 1374.0,652.7 1374.5,652.2 1375.0,652.3 1375.5,652.4 1376.0,652.9 1376.5,653.3 1377.0,653.7 1377.5,653.8 1378.0,654.0 1378.5,654.0 1379.0,653.7 1379.5,653.9 1380.0,654.0 1380.5,654.1 1381.0,654.4 1381.5,654.4 1382.0,654.6 1382.5,654.9 1383.0,654.7 1383.5,654.6 1384.0,654.7 1384.5,654.5 1385.0,654.9 1385.5,655.0 1386.0,654.5 1386.5,654.2 1387.0,654.0 1387.5,654.0 1388.0,654.7 1388.5,654.7 1389.0,654.0 1389.5,652.7 1390.0,649.6 1390.5,646.2 1391.0,642.1 1391.5,638.0 1392.0,634.4 1392.5,631.6 1393.0,630.8 1393.5,631.5 1394.0,634.5 1394.5,638.9 1395.0,643.4 1395.5,647.5 1396.0,651.0 1396.5,654.0 1397.0,655.7 1397.5,657.0 1398.0,657.6 1398.5,657.2 1399.0,657.7 1399.5,657.7 1400.0,658.2 1400.5,658.7 1401.0,658.6 1401.5,658.4 1402.0,658.5 1402.5,658.3 1403.0,658.7 1403.5,658.9 1404.0,658.8 1404.5,658.9 1405.0,658.6 1405.5,658.4 1406.0,658.7 1406.5,658.4 1407.0,658.1 1407.5,658.2 1408.0,657.7 1408.5,658.0 1409.0,658.2 1409.5,658.4 1410.0,658.5 1410.5,658.2 1411.0,658.2 1411.5,658.1 1412.0,658.0 1412.5,658.0 1413.0,658.0 1413.5,657.9 1414.0,658.2 1414.5,658.5 1415.0,658.6 1415.5,658.6 1416.0,658.7 1416.5,659.0 1417.0,658.7 1417.5,658.8 1418.0,658.4 1418.5,658.1 1419.0,658.2 1419.5,658.0 1420.0,657.8 1420.5,657.7 1421.0,657.7 1421.5,658.0 1422.0,658.3 1422.5,658.3 1423.0,658.2 1423.5,657.8 1424.0,657.8 1424.5,657.9 1425.0,658.1 1425.5,658.5 1426.0,658.5 1426.5,658.4 1427.0,658.3 1427.5,658.0 1428.0,657.8 1428.5,657.9 1429.0,658.3 1429.5,658.4 1430.0,658.6 1430.5,659.0 1431.0,658.7 1431.5,658.7 1432.0,658.6 1432.5,658.0 1433.0,657.7 1433.5,657.9 1434.0,657.6 1434.5,657.5 1435.0,657.7 1435.5,657.7 1436.0,657.9 1436.5,657.9 1437.0,657.9 1437.5,657.8 1438.0,657.8 1438.5,657.7 1439.0,657.7 1439.5,657.5 1440.0,657.5 1440.5,657.4 1441.0,657.6 1441.5,657.8 1442.0,658.0 1442.5,658.1 1443.0,657.9 1443.5,657.9 1444.0,657.6 1444.5,657.3 1445.0,657.7 1445.5,657.7 1446.0,657.8 1446.5,658.1 1447.0,658.0 1447.5,657.9 1448.0,658.1 1448.5,658.4 1449.0,658.6 1449.5,658.4 1450.0,658.0 1450.5,657.7 1451.0,657.3 1451.5,657.6 1452.0,657.6 1452.5,657.3 1453.0,657.0 1453.5,656.8 1454.0,656.3 1454.5,656.2 1455.0,655.6 1455.5,654.8 1456.0,654.4 1456.5,653.9 1457.0,653.8 1457.5,653.6 1458.0,653.5 1458.5,653.0 1459.0,652.7 1459.5,652.6 1460.0,652.3 1460.5,652.7 1461.0,652.6 1461.5,652.4 1462.0,652.3 1462.5,652.3 1463.0,652.2 1463.5,652.3 1464.0,652.6 1464.5,652.7 1465.0,653.1 1465.5,653.2 1466.0,653.5 1466.5,653.4 1467.0,653.5 1467.5,653.6 1468.0,653.7 1468.5,654.2 1469.0,654.2 1469.5,654.7 1470.0,655.0 1470.5,655.1 1471.0,655.3 1471.5,655.5 1472.0,655.6 1472.5,655.6 1473.0,656.1 1473.5,656.3 1474.0,656.5 1474.5,656.8 1475.0,656.9 1475.5,657.1 1476.0,657.2 1476.5,657.5 1477.0,657.7 1477.5,657.7 1478.0,657.6 1478.5,657.6 1479.0,657.3 1479.5,657.4 1480.0,657.6 1480.5,657.9 1481.0,658.2 1481.5,658.4 1482.0,658.6 1482.5,658.6 1483.0,658.9 1483.5,659.4 1484.0,659.3 1484.5,659.5 1485.0,659.6 1485.5,659.2 1486.0,659.7 1486.5,659.8 1487.0,659.6 1487.5,659.6 1488.0,659.6 1488.5,659.0 1489.0,658.2 1489.5,655.9 1490.0,652.2 1490.5,647.1 1491.0,639.7 1491.5,631.8 1492.0,623.5 1492.5,617.7 1493.0,615.6 1493.5,617.8 1494.0,623.9 1494.5,632.5 1495.0,641.2 1495.5,649.1 1496.0,655.2 1496.5,659.0 1497.0,661.5 1497.5,662.5 1498.0,663.0 1498.5,663.8 1499.0,663.7 1499.5,663.4 1500.0,663.1 1500.5,662.6 1501.0,662.8 1501.5,663.1 1502.0,663.5 1502.5,663.6 1503.0,663.6 1503.5,663.3 1504.0,663.3 1504.5,663.5 1505.0,663.4 1505.5,663.6 1506.0,663.3 1506.5,663.0 1507.0,663.0 1507.5,663.0 1508.0,662.8 1508.5,662.8 1509.0,662.9 1509.5,662.7 1510.0,663.0 1510.5,662.5 1511.0,662.1 1511.5,661.9 1512.0,661.6 1512.5,661.6 1513.0,661.8 1513.5,661.9 1514.0,661.6 1514.5,661.8 1515.0,661.6 1515.5,661.6 1516.0,662.0 1516.5,661.8 1517.0,661.6 1517.5,661.4 1518.0,661.3 1518.5,661.4 1519.0,661.3 1519.5,661.2 1520.0,661.0 1520.5,661.2 1521.0,661.2 1521.5,661.1 1522.0,660.6 1522.5,659.8 1523.0,659.2 1523.5,658.7 1524.0,658.8 1524.5,658.8 1525.0,658.9 1525.5,658.6 1526.0,658.5 1526.5,658.5 1527.0,657.9 1527.5,657.7 1528.0,657.3 1528.5,657.2 1529.0,657.6 1529.5,658.1 1530.0,658.1 1530.5,658.2 1531.0,658.4 1531.5,658.4 1532.0,659.0 1532.5,659.0 1533.0,659.5 1533.5,660.0 1534.0,660.2 1534.5,661.3 1535.0,661.6 1535.5,662.1 1536.0,662.5 1536.5,662.3 1537.0,662.6 1537.5,662.7 1538.0,662.7 1538.5,663.1 1539.0,663.4 1539.5,663.6 1540.0,663.7 1540.5,663.5 1541.0,663.4 1541.5,662.9 1542.0,662.8 1542.5,663.2 1543.0,663.1 1543.5,663.5 1544.0,663.6 1544.5,663.8 1545.0,664.3 1545.5,664.2 1546.0,664.4 1546.5,663.9 1547.0,663.4 1547.5,663.7 1548.0,663.7 1548.5,663.8 1549.0,663.8 1549.5,664.0 1550.0,664.0 1550.5,664.3 1551.0,664.3 1551.5,663.8 1552.0,663.4 1552.5,663.0 1553.0,662.6 1553.5,662.4 1554.0,662.5 1554.5,662.8 1555.0,662.8 1555.5,663.0 1556.0,662.8 1556.5,663.2 1557.0,663.4 1557.5,663.3 1558.0,664.0 1558.5,663.5 1559.0,663.6 1559.5,663.6 1560.0,663.4 1560.5,663.3 1561.0,663.6 1561.5,663.8 1562.0,663.7 1562.5,664.0 1563.0,663.7 1563.5,663.4 1564.0,663.4 1564.5,663.2 1565.0,663.0 1565.5,663.0 1566.0,663.1 1566.5,662.7 1567.0,662.7 1567.5,662.0 1568.0,661.4 1568.5,661.0 1569.0,660.5 1569.5,660.2 1570.0,659.6 1570.5,659.2 1571.0,659.8 1571.5,659.6 1572.0,659.8 1572.5,660.0 1573.0,659.6 1573.5,660.0 1574.0,660.3 1574.5,660.4 1575.0,660.3 1575.5,660.0 1576.0,660.1 1576.5,660.3 1577.0,659.7 1577.5,659.8 1578.0,659.4 1578.5,659.9 1579.0,660.1 1579.5,660.0 1580.0,660.1 1580.5,659.5 1581.0,659.6 1581.5,659.7 1582.0,659.8 1582.5,659.9 1583.0,660.0 1583.5,660.0 1584.0,659.7 1584.5,659.8 1585.0,659.8 1585.5,660.0 1586.0,660.3 1586.5,660.4 1587.0,660.6 1587.5,660.3 1588.0,660.3 1588.5,660.2 1589.0,660.0 1589.5,660.0 1590.0,660.0 1590.5,659.9 1591.0,660.0 1591.5,660.1 1592.0,659.8 1592.5,660.0 1593.0,659.8 1593.5,660.0 1594.0,660.0 1594.5,659.8 1595.0,660.2 1595.5,659.7 1596.0,660.0 1596.5,660.1 1597.0,659.9 1597.5,660.2 1598.0,659.9 1598.5,660.2 1599.0,660.2 1599.5,660.3 1600.0,660.6 1600.5,660.5 1601.0,660.5 1601.5,660.2 1602.0,659.8 1602.5,659.4 1603.0,659.3 1603.5,659.6 1604.0,659.6 1604.5,659.8 1605.0,660.0 1605.5,659.7 1606.0,659.9 1606.5,659.8 1607.0,659.7 1607.5,659.6 1608.0,659.6 1608.5,659.7 1609.0,659.8 1609.5,660.2 1610.0,660.3 1610.5,660.7 1611.0,660.7 1611.5,660.5 1612.0,660.9 1612.5,661.2 1613.0,661.7 1613.5,662.5 1614.0,662.6 1614.5,663.3 1615.0,663.8 1615.5,664.3 1616.0,664.7 1616.5,665.0 1617.0,665.1 1617.5,665.2 1618.0,665.9 1618.5,665.8 1619.0,666.4 1619.5,666.9 1620.0,667.2 1620.5,667.9 1621.0,667.6 1621.5,667.5 1622.0,667.5 1622.5,667.2 1623.0,667.8 1623.5,668.5 1624.0,668.5 1624.5,669.0 1625.0,669.0 1625.5,668.8 1626.0,669.1 1626.5,669.2 1627.0,669.2 1627.5,669.2 1628.0,669.6 1628.5,669.5 1629.0,669.7 1629.5,669.5 1630.0,669.3 1630.5,669.4 1631.0,669.4 1631.5,670.0 1632.0,669.6 1632.5,669.6 1633.0,669.3 1633.5,668.8 1634.0,668.8 1634.5,668.8 1635.0,669.1 1635.5,669.2 1636.0,669.5 1636.5,669.0 1637.0,668.9 1637.5,669.0 1638.0,668.9 1638.5,669.3 1639.0,669.1 1639.5,669.1 1640.0,669.1 1640.5,669.2 1641.0,669.7 1641.5,669.7 1642.0,669.6 1642.5,669.7 1643.0,669.2 1643.5,669.5 1644.0,669.6 1644.5,669.5 1645.0,669.8 1645.5,669.3 1646.0,669.3 1646.5,669.2 1647.0,669.5 1647.5,670.0 1648.0,670.3 1648.5,670.4 1649.0,670.0 1649.5,669.9 1650.0,669.5 1650.5,669.3 1651.0,669.6 1651.5,669.5 1652.0,669.7 1652.5,669.5 1653.0,669.2 1653.5,669.0 1654.0,668.8 1654.5,669.2 1655.0,669.1 1655.5,669.0 1656.0,669.4 1656.5,669.5 1657.0,669.4 1657.5,670.0 1658.0,669.8 1658.5,669.8 1659.0,669.5 1659.5,669.4 1660.0,669.3 1660.5,669.5 1661.0,670.2 1661.5,669.8 1662.0,670.1 1662.5,670.0 1663.0,669.7 1663.5,669.6 1664.0,669.6 1664.5,669.5 1665.0,669.6 1665.5,669.7 1666.0,669.4 1666.5,669.2 1667.0,669.1 1667.5,668.9 1668.0,668.1 1668.5,667.5 1669.0,666.6 1669.5,666.4 1670.0,666.3 1670.5,666.0 1671.0,665.9 1671.5,665.7 1672.0,665.3 1672.5,664.6 1673.0,663.9 1673.5,663.3 1674.0,662.9 1674.5,662.9 1675.0,662.7 1675.5,662.3 1676.0,662.3 1676.5,662.5 1677.0,662.6 1677.5,663.1 1678.0,663.4 1678.5,663.2 1679.0,663.4 1679.5,663.9 1680.0,664.0 1680.5,664.6 1681.0,665.2 1681.5,665.5 1682.0,665.9 1682.5,666.2 1683.0,666.5 1683.5,666.8 1684.0,667.4 1684.5,667.8 1685.0,668.2 1685.5,668.8 1686.0,669.3 1686.5,669.7 1687.0,670.0 1687.5,670.2 1688.0,670.2 1688.5,670.3 1689.0,670.2 1689.5,670.5 1690.0,670.7 1690.5,670.6 1691.0,670.8 1691.5,670.9 1692.0,671.0 1692.5,671.0 1693.0,671.5 1693.5,671.5 1694.0,671.6 1694.5,672.0 1695.0,671.6 1695.5,671.4 1696.0,671.5 1696.5,671.7 1697.0,671.9 1697.5,672.4 1698.0,672.6 1698.5,672.5 1699.0,672.4 1699.5,672.3 1700.0,671.3 1700.5,670.5 1701.0,667.9 1701.5,663.9 1702.0,657.8 1702.5,648.5 1703.0,638.2 1703.5,626.7 1704.0,616.6 1704.5,610.0 1705.0,607.6 1705.5,609.7 1706.0,617.0 1706.5,627.2 1707.0,638.5 1707.5,649.9 1708.0,658.7 1708.5,665.2 1709.0,669.9 1709.5,672.5 1710.0,674.1 1710.5,675.1 1711.0,675.3 1711.5,675.4 1712.0,675.7 1712.5,675.6 1713.0,675.8 1713.5,675.7 1714.0,675.5 1714.5,675.6 1715.0,675.6 1715.5,676.0 1716.0,676.3 1716.5,676.9 1717.0,676.6 1717.5,676.7 1718.0,676.1 1718.5,675.5 1719.0,675.6 1719.5,675.6 1720.0,675.9 1720.5,676.0 1721.0,676.2 1721.5,675.9 1722.0,675.6 1722.5,675.6 1723.0,675.1 1723.5,675.5 1724.0,675.7 1724.5,675.6 1725.0,676.0 1725.5,675.6 1726.0,675.6 1726.5,675.3 1727.0,675.2 1727.5,675.5 1728.0,675.8 1728.5,676.1 1729.0,676.3 1729.5,676.3 1730.0,675.8 1730.5,675.9 1731.0,675.7 1731.5,675.6 1732.0,676.0 1732.5,675.7 1733.0,675.6 1733.5,675.8 1734.0,675.8 1734.5,675.9 1735.0,676.0 1735.5,675.9 1736.0,675.9 1736.5,675.9 1737.0,675.5 1737.5,675.4 1738.0,675.6 1738.5,675.5 1739.0,675.8 1739.5,676.0 1740.0,675.7 1740.5,675.7 1741.0,675.7 1741.5,675.5 1742.0,675.4 1742.5,675.6 1743.0,675.3 1743.5,675.1 1744.0,675.3" fill="none" stroke="#000" stroke-width="4.2" stroke-linejoin="round" stroke-linecap="round"/>
<polyline points="497.0,281.6 497.5,281.4 498.0,281.3 498.5,281.5 499.0,281.1 499.5,281.0 500.0,281.2 500.5,281.2 501.0,281.0 501.5,281.6 502.0,281.6 502.5,281.4 503.0,281.8 503.5,281.3 504.0,281.1 504.5,281.3 505.0,280.9 505.5,281.0 506.0,281.2 506.5,281.3 507.0,281.4 507.5,281.4 508.0,280.8 508.5,280.5 509.0,280.6 509.5,280.1 510.0,280.4 510.5,280.6 511.0,281.0 511.5,281.3 512.0,281.4 512.5,280.9 513.0,280.1 513.5,279.7 514.0,279.6 514.5,279.8 515.0,279.9 515.5,279.8 516.0,279.7 516.5,279.6 517.0,279.6 517.5,279.9 518.0,279.8 518.5,279.6 519.0,279.3 519.5,279.0 520.0,279.2 520.5,279.1 521.0,279.2 521.5,279.1 522.0,278.8 522.5,278.8 523.0,278.8 523.5,278.7 524.0,278.4 524.5,278.2 525.0,277.8 525.5,277.6 526.0,277.4 526.5,277.3 527.0,277.5 527.5,277.3 528.0,277.5 528.5,277.1 529.0,276.8 529.5,276.9 530.0,276.7 530.5,277.0 531.0,276.9 531.5,276.6 532.0,276.5 532.5,276.4 533.0,276.7 533.5,276.7 534.0,276.9 534.5,277.3 535.0,277.2 535.5,277.3 536.0,277.5 536.5,277.3 537.0,277.4 537.5,277.3 538.0,277.5 538.5,277.6 539.0,277.9 539.5,278.2 540.0,278.5 540.5,278.9 541.0,279.2 541.5,279.5 542.0,279.5 542.5,279.7 543.0,279.9 543.5,280.1 544.0,280.1 544.5,280.0 545.0,279.8 545.5,279.7 546.0,279.9 546.5,280.0 547.0,279.9 547.5,280.2 548.0,280.4 548.5,280.5 549.0,280.6 549.5,280.7 550.0,280.8 550.5,281.0 551.0,281.3 551.5,281.7 552.0,282.0 552.5,282.1 553.0,282.4 553.5,282.2 554.0,282.0 554.5,282.4 555.0,282.4 555.5,282.3 556.0,282.0 556.5,281.4 557.0,281.0 557.5,280.7 558.0,280.2 558.5,279.3 559.0,278.1 559.5,276.2 560.0,274.2 560.5,271.7 561.0,268.8 561.5,266.2 562.0,263.7 562.5,262.3 563.0,261.3 563.5,260.9 564.0,261.1 564.5,261.9 565.0,263.6 565.5,266.1 566.0,269.0 566.5,271.4 567.0,274.1 567.5,275.7 568.0,277.3 568.5,279.3 569.0,280.5 569.5,282.0 570.0,282.7 570.5,282.7 571.0,282.6 571.5,282.8 572.0,283.2 572.5,283.2 573.0,283.6 573.5,283.7 574.0,283.6 574.5,283.8 575.0,283.6 575.5,283.5 576.0,283.2 576.5,283.1 577.0,283.0 577.5,283.0 578.0,283.2 578.5,283.3 579.0,283.4 579.5,283.2 580.0,282.9 580.5,283.0 581.0,282.9 581.5,282.9 582.0,283.0 582.5,282.9 583.0,283.0 583.5,283.0 584.0,282.6 584.5,282.3 585.0,282.0 585.5,282.0 586.0,281.9 586.5,281.8 587.0,281.7 587.5,281.5 588.0,281.0 588.5,280.8 589.0,280.8 589.5,280.2 590.0,280.9 590.5,280.7 591.0,280.4 591.5,280.3 592.0,279.9 592.5,279.8 593.0,279.6 593.5,279.7 594.0,279.5 594.5,279.6 595.0,279.6 595.5,279.3 596.0,279.0 596.5,278.3 597.0,278.1 597.5,278.3 598.0,278.5 598.5,278.9 599.0,279.0 599.5,279.2 600.0,279.3 600.5,279.5 601.0,279.8 601.5,279.6 602.0,279.9 602.5,279.7 603.0,279.6 603.5,279.8 604.0,279.6 604.5,279.9 605.0,280.2 605.5,280.7 606.0,281.0 606.5,281.3 607.0,281.4 607.5,281.3 608.0,281.7 608.5,281.7 609.0,282.5 609.5,282.7 610.0,282.9 610.5,283.3 611.0,283.4 611.5,283.7 612.0,283.9 612.5,284.6 613.0,284.8 613.5,285.6 614.0,285.8 614.5,285.5 615.0,285.8 615.5,285.5 616.0,286.0 616.5,286.5 617.0,286.8 617.5,287.1 618.0,287.3 618.5,287.3 619.0,287.3 619.5,287.1 620.0,286.6 620.5,286.5 621.0,286.6 621.5,286.9 622.0,286.8 622.5,286.6 623.0,286.0 623.5,284.8 624.0,283.7 624.5,281.1 625.0,278.3 625.5,275.2 626.0,270.4 626.5,265.7 627.0,260.0 627.5,254.5 628.0,250.8 628.5,248.0 629.0,247.6 629.5,248.9 630.0,251.7 630.5,256.4 631.0,261.8 631.5,267.8 632.0,273.5 632.5,278.3 633.0,282.6 633.5,285.8 634.0,287.8 634.5,289.8 635.0,290.8 635.5,291.6 636.0,292.5 636.5,292.5 637.0,292.6 637.5,292.2 638.0,292.3 638.5,293.0 639.0,293.3 639.5,294.0 640.0,294.0 640.5,293.6 641.0,293.4 641.5,293.4 642.0,293.5 642.5,293.7 643.0,294.2 643.5,294.0 644.0,294.1 644.5,294.2 645.0,294.1 645.5,294.5 646.0,294.6 646.5,294.8 647.0,294.9 647.5,295.0 648.0,295.2 648.5,295.2 649.0,295.3 649.5,295.2 650.0,295.3 650.5,295.2 651.0,295.4 651.5,295.0 652.0,294.7 652.5,294.5 653.0,294.2 653.5,294.7 654.0,294.8 654.5,295.3 655.0,295.0 655.5,295.0 656.0,295.1 656.5,294.7 657.0,295.1 657.5,295.3 658.0,295.2 658.5,295.1 659.0,295.3 659.5,295.3 660.0,295.5 660.5,295.8 661.0,295.6 661.5,295.6 662.0,295.6 662.5,295.4 663.0,295.6 663.5,295.4 664.0,295.3 664.5,295.2 665.0,295.3 665.5,295.4 666.0,295.9 666.5,296.0 667.0,295.6 667.5,295.6 668.0,295.5 668.5,295.7 669.0,295.9 669.5,296.2 670.0,295.8 670.5,295.5 671.0,295.3 671.5,294.9 672.0,295.1 672.5,295.5 673.0,295.7 673.5,296.0 674.0,295.8 674.5,295.9 675.0,295.7 675.5,295.7 676.0,295.6 676.5,295.4 677.0,295.5 677.5,295.4 678.0,295.7 678.5,295.6 679.0,295.6 679.5,295.5 680.0,295.2 680.5,295.1 681.0,294.8 681.5,294.8 682.0,295.4 682.5,295.6 683.0,295.7 683.5,295.6 684.0,295.4 684.5,295.1 685.0,295.0 685.5,294.9 686.0,294.5 686.5,294.4 687.0,294.8 687.5,295.0 688.0,294.9 688.5,294.9 689.0,294.6 689.5,294.3 690.0,294.3 690.5,294.7 691.0,294.8 691.5,295.1 692.0,295.4 692.5,295.0 693.0,295.2 693.5,295.1 694.0,295.0 694.5,295.4 695.0,295.3 695.5,295.2 696.0,295.2 696.5,295.1 697.0,295.2 697.5,295.1 698.0,294.8 698.5,294.3 699.0,294.0 699.5,294.2 700.0,294.4 700.5,294.2 701.0,294.3 701.5,294.0 702.0,293.9 702.5,294.5 703.0,294.3 703.5,294.4 704.0,294.1 704.5,294.0 705.0,293.8 705.5,293.7 706.0,293.7 706.5,293.9 707.0,294.5 707.5,294.7 708.0,294.6 708.5,294.4 709.0,293.8 709.5,293.9 710.0,293.9 710.5,293.8 711.0,293.9 711.5,293.9 712.0,294.0 712.5,294.3 713.0,294.3 713.5,293.9 714.0,294.1 714.5,293.8 715.0,293.6 715.5,294.2 716.0,293.8 716.5,293.9 717.0,293.8 717.5,293.8 718.0,293.9 718.5,293.9 719.0,293.8 719.5,293.8 720.0,293.6 720.5,293.7 721.0,294.1 721.5,294.1 722.0,294.6 722.5,294.2 723.0,294.0 723.5,293.8 724.0,293.6 724.5,294.0 725.0,293.9 725.5,293.7 726.0,293.6 726.5,293.7 727.0,293.4 727.5,293.6 728.0,293.4 728.5,293.3 729.0,293.2 729.5,293.1 730.0,293.2 730.5,293.0 731.0,293.7 731.5,294.0 732.0,293.9 732.5,294.2 733.0,293.6 733.5,293.0 734.0,292.9 734.5,292.5 735.0,292.8 735.5,292.7 736.0,293.0 736.5,292.9 737.0,292.9 737.5,293.2 738.0,293.3 738.5,293.4 739.0,293.1 739.5,293.4 740.0,293.3 740.5,293.3 741.0,293.7 741.5,293.2 742.0,293.2 742.5,292.9 743.0,292.5 743.5,292.7 744.0,292.8 744.5,293.1 745.0,293.5 745.5,293.4 746.0,293.2 746.5,293.5 747.0,293.6 747.5,293.6 748.0,293.6 748.5,292.9 749.0,292.6 749.5,292.8 750.0,293.1 750.5,293.2 751.0,293.1 751.5,292.9 752.0,292.7 752.5,292.6 753.0,292.6 753.5,292.7 754.0,292.4 754.5,292.3 755.0,292.3 755.5,291.9 756.0,292.2 756.5,292.1 757.0,292.0 757.5,292.1 758.0,292.1 758.5,292.2 759.0,292.5 759.5,292.5 760.0,292.6 760.5,292.7 761.0,292.4 761.5,292.2 762.0,292.3 762.5,292.2 763.0,292.0 763.5,291.7 764.0,291.6 764.5,291.5 765.0,291.8 765.5,292.1 766.0,291.9 766.5,292.0 767.0,291.8 767.5,291.9 768.0,292.1 768.5,292.2 769.0,292.1 769.5,291.9 770.0,291.5 770.5,291.3 771.0,291.7 771.5,292.0 772.0,291.9 772.5,291.9 773.0,291.9 773.5,291.8 774.0,292.4 774.5,292.2 775.0,292.3 775.5,292.8 776.0,292.2 776.5,292.2 777.0,292.1 777.5,292.2 778.0,292.1 778.5,292.3 779.0,292.2 779.5,291.5 780.0,291.7 780.5,291.5 781.0,291.4 781.5,291.2 782.0,291.6 782.5,291.5 783.0,291.4 783.5,291.5 784.0,291.2 784.5,291.4 785.0,291.3 785.5,291.3 786.0,291.7 786.5,291.8 787.0,291.9 787.5,292.1 788.0,291.6 788.5,291.5 789.0,291.2 789.5,290.9 790.0,290.8 790.5,291.0 791.0,291.3 791.5,291.5 792.0,291.7 792.5,291.5 793.0,291.5 793.5,291.6 794.0,291.5 794.5,291.3 795.0,291.1 795.5,291.1 796.0,291.3 796.5,291.6 797.0,291.4 797.5,291.4 798.0,291.2 798.5,291.1 799.0,291.4 799.5,291.0 800.0,291.2 800.5,291.5 801.0,291.3 801.5,291.3 802.0,291.0 802.5,291.0 803.0,290.7 803.5,290.9 804.0,291.1 804.5,290.8 805.0,291.2 805.5,291.2 806.0,291.0 806.5,290.8 807.0,290.5 807.5,290.1 808.0,289.8 808.5,290.0 809.0,290.1 809.5,290.3 810.0,290.6 810.5,290.9 811.0,291.0 811.5,290.7 812.0,290.8 812.5,290.4 813.0,290.5 813.5,290.8 814.0,290.6 814.5,290.5 815.0,290.3 815.5,290.6 816.0,290.4 816.5,290.4 817.0,290.4 817.5,290.1 818.0,289.8 818.5,289.9 819.0,289.3 819.5,289.1 820.0,289.4 820.5,289.4 821.0,290.0 821.5,290.4 822.0,290.5 822.5,290.4 823.0,290.4 823.5,290.2 824.0,290.3 824.5,289.9 825.0,289.5 825.5,289.4 826.0,289.2 826.5,289.2 827.0,289.5 827.5,289.7 828.0,289.8 828.5,290.1 829.0,290.2 829.5,289.9 830.0,289.9 830.5,290.0 831.0,289.7 831.5,289.7 832.0,289.6 832.5,289.7 833.0,290.0 833.5,290.2 834.0,290.4 834.5,290.3 835.0,290.1 835.5,290.1 836.0,289.8 836.5,289.6 837.0,289.5 837.5,288.9 838.0,288.9 838.5,289.0 839.0,288.7 839.5,288.9 840.0,289.1 840.5,289.0 841.0,289.2 841.5,289.4 842.0,289.2 842.5,289.0 843.0,288.9 843.5,288.8 844.0,288.6 844.5,288.9 845.0,288.8 845.5,288.6 846.0,288.8 846.5,288.6 847.0,288.8 847.5,288.9 848.0,289.2 848.5,289.1 849.0,289.2 849.5,289.3 850.0,289.2 850.5,288.7 851.0,288.4 851.5,288.7 852.0,288.6 852.5,288.9 853.0,289.2 853.5,288.5 854.0,288.6 854.5,288.9 855.0,288.3 855.5,288.4 856.0,288.5 856.5,288.3 857.0,288.6 857.5,288.6 858.0,288.5 858.5,288.9 859.0,288.6 859.5,288.5 860.0,288.3 860.5,287.9 861.0,287.9 861.5,287.9 862.0,287.7 862.5,287.7 863.0,287.9 863.5,288.0 864.0,288.2 864.5,288.4 865.0,288.5 865.5,288.1 866.0,287.9 866.5,287.8 867.0,287.7 867.5,287.6 868.0,287.9 868.5,287.7 869.0,287.6 869.5,288.0 870.0,287.8 870.5,287.8 871.0,287.7 871.5,287.6 872.0,287.5 872.5,287.7 873.0,287.8 873.5,287.5 874.0,287.2 874.5,287.3 875.0,287.0 875.5,287.2 876.0,287.5 876.5,287.3 877.0,287.7 877.5,287.7 878.0,287.7 878.5,287.6 879.0,287.0 879.5,286.8 880.0,286.6 880.5,286.4 881.0,287.0 881.5,286.9 882.0,287.3 882.5,287.2 883.0,287.0 883.5,286.9 884.0,286.2 884.5,286.1 885.0,285.9 885.5,286.0 886.0,286.4 886.5,286.4 887.0,286.6 887.5,286.6 888.0,286.5 888.5,286.6 889.0,286.0 889.5,285.8 890.0,285.8 890.5,285.8 891.0,286.0 891.5,285.8 892.0,285.8 892.5,285.8 893.0,285.8 893.5,286.0 894.0,285.8 894.5,285.5 895.0,285.7 895.5,286.0 896.0,286.1 896.5,286.0 897.0,286.0 897.5,285.7 898.0,285.5 898.5,285.4 899.0,285.0 899.5,285.0 900.0,284.9 900.5,285.0 901.0,285.0 901.5,285.0 902.0,285.0 902.5,284.8 903.0,284.8 903.5,284.7 904.0,284.7 904.5,285.0 905.0,284.7 905.5,284.3 906.0,284.4 906.5,284.1 907.0,284.5 907.5,284.9 908.0,284.5 908.5,284.9 909.0,284.7 909.5,284.7 910.0,284.7 910.5,284.3 911.0,284.0 911.5,283.8 912.0,283.6 912.5,282.3 913.0,281.0 913.5,279.2 914.0,277.1 914.5,275.2 915.0,273.1 915.5,271.8 916.0,271.0 916.5,271.3 917.0,273.0 917.5,274.6 918.0,277.6 918.5,280.1 919.0,281.9 919.5,283.4 920.0,283.6 920.5,284.1 921.0,284.5 921.5,284.7 922.0,285.0 922.5,285.1 923.0,285.0 923.5,284.7 924.0,284.9 924.5,284.8 925.0,285.0 925.5,285.2 926.0,284.6 926.5,284.3 927.0,284.2 927.5,284.6 928.0,285.3 928.5,285.5 929.0,285.0 929.5,284.5 930.0,284.0 930.5,283.8 931.0,283.9 931.5,284.0 932.0,283.6 932.5,282.9 933.0,282.5 933.5,281.9 934.0,282.2 934.5,282.3 935.0,281.9 935.5,281.8 936.0,281.0 936.5,280.3 937.0,279.7 937.5,278.8 938.0,277.6 938.5,276.4 939.0,275.4 939.5,274.4 940.0,273.4 940.5,272.9 941.0,272.2 941.5,271.5 942.0,271.2 942.5,271.0 943.0,270.7 943.5,270.9 944.0,271.0 944.5,270.4 945.0,270.4 945.5,270.0 946.0,269.6 946.5,269.9 947.0,269.8 947.5,270.0 948.0,270.1 948.5,270.1 949.0,269.9 949.5,269.7 950.0,269.8 950.5,269.3 951.0,269.7 951.5,269.6 952.0,269.6 952.5,269.5 953.0,269.1 953.5,269.3 954.0,269.2 954.5,269.8 955.0,268.0 960.0,276.0 964.0,289.0 967.0,296.0 968.3,292.0 969.0,182.0 971.5,181.0 972.6,158.0 973.7,147.0 974.8,160.0 975.6,290.0 976.3,200.0 977.0,217.0 978.0,255.0 979.0,300.0 980.4,312.0 981.6,300.0 982.4,230.0 982.9,208.0 984.4,206.0 985.5,125.0 986.4,107.0 987.5,122.0 988.4,290.0 989.1,150.0 990.2,170.0 991.0,286.0 992.6,312.0 995.0,325.5 999.0,327.5 999.5,326.6 1000.0,327.3 1000.5,327.7 1001.0,327.8 1001.5,328.2 1002.0,328.2 1002.5,328.2 1003.0,328.2 1003.5,328.0 1004.0,328.0 1004.5,328.1 1005.0,328.2 1005.5,328.3 1006.0,328.1 1006.5,328.0 1007.0,327.5 1007.5,327.5 1008.0,327.9 1008.5,327.7 1009.0,327.6 1009.5,327.6 1010.0,327.2 1010.5,327.3 1011.0,327.5 1011.5,327.5 1012.0,327.4 1012.5,327.7 1013.0,327.8 1013.5,327.9 1014.0,328.2 1014.5,327.9 1015.0,328.0 1015.5,327.9 1016.0,327.6 1016.5,327.6 1017.0,327.6 1017.5,327.5 1018.0,327.4 1018.5,327.3 1019.0,327.1 1019.5,327.5 1020.0,327.7 1020.5,327.7 1021.0,327.9 1021.5,327.9 1022.0,327.7 1022.5,328.0 1023.0,327.5 1023.5,327.2 1024.0,327.6 1024.5,327.7 1025.0,328.1 1025.5,328.2 1026.0,328.1 1026.5,327.7 1027.0,328.0 1027.5,328.3 1028.0,328.2 1028.5,328.2 1029.0,328.1 1029.5,327.8 1030.0,327.6 1030.5,327.7 1031.0,327.5 1031.5,327.7 1032.0,327.8 1032.5,328.1 1033.0,328.7 1033.5,328.5 1034.0,328.6 1034.5,328.3 1035.0,327.7 1035.5,327.6 1036.0,327.6 1036.5,327.7 1037.0,327.8 1037.5,328.0 1038.0,327.9 1038.5,327.8 1039.0,327.8 1039.5,328.3 1040.0,328.1 1040.5,328.1 1041.0,327.8 1041.5,327.5 1042.0,327.6 1042.5,327.6 1043.0,327.6 1043.5,327.4 1044.0,327.3 1044.5,327.8 1045.0,327.9 1045.5,327.8 1046.0,328.0 1046.5,327.3 1047.0,327.1 1047.5,327.1 1048.0,327.1 1048.5,327.2 1049.0,327.7 1049.5,327.9 1050.0,328.1 1050.5,328.5 1051.0,328.2 1051.5,328.5 1052.0,328.3 1052.5,327.8 1053.0,327.4 1053.5,327.0 1054.0,327.1 1054.5,327.4 1055.0,328.2 1055.5,328.1 1056.0,328.1 1056.5,328.2 1057.0,327.7 1057.5,327.8 1058.0,327.7 1058.5,327.8 1059.0,328.2 1059.5,328.3 1060.0,328.1 1060.5,328.1 1061.0,328.0 1061.5,327.9 1062.0,328.1 1062.5,328.1 1063.0,328.1 1063.5,328.2 1064.0,328.1 1064.5,328.0 1065.0,327.8 1065.5,327.7 1066.0,327.5 1066.5,327.3 1067.0,327.3 1067.5,327.5 1068.0,327.6 1068.5,328.0 1069.0,328.0 1069.5,328.1 1070.0,327.9 1070.5,327.9 1071.0,328.0 1071.5,327.6 1072.0,327.6 1072.5,327.6 1073.0,327.5 1073.5,327.7 1074.0,328.4 1074.5,328.3 1075.0,328.3 1075.5,328.4 1076.0,327.8 1076.5,327.6 1077.0,327.7 1077.5,327.4 1078.0,327.5 1078.5,327.5 1079.0,327.5 1079.5,327.3 1080.0,327.6 1080.5,327.6 1081.0,327.7 1081.5,327.8 1082.0,327.3 1082.5,327.3 1083.0,327.1 1083.5,327.4 1084.0,327.5 1084.5,327.3 1085.0,327.4 1085.5,327.4 1086.0,327.8 1086.5,327.9 1087.0,327.9 1087.5,327.7 1088.0,327.7 1088.5,327.9 1089.0,328.1 1089.5,327.9 1090.0,327.9 1090.5,327.5 1091.0,327.4 1091.5,327.8 1092.0,327.8 1092.5,327.9 1093.0,327.8 1093.5,327.5 1094.0,327.1 1094.5,327.2 1095.0,327.1 1095.5,327.4 1096.0,327.6 1096.5,327.4 1097.0,327.7 1097.5,327.7 1098.0,327.6 1098.5,327.7 1099.0,327.5 1099.5,327.5 1100.0,327.5 1100.5,327.5 1101.0,327.4 1101.5,327.4 1102.0,327.7 1102.5,327.7 1103.0,328.0 1103.5,328.0 1104.0,327.7 1104.5,327.5 1105.0,327.1 1105.5,326.6 1106.0,326.8 1106.5,327.1 1107.0,327.4 1107.5,327.9 1108.0,327.6 1108.5,327.5 1109.0,327.4 1109.5,326.9 1110.0,327.0 1110.5,327.2 1111.0,327.1 1111.5,327.1 1112.0,327.2 1112.5,327.1 1113.0,327.4 1113.5,327.7 1114.0,327.6 1114.5,327.6 1115.0,327.3 1115.5,327.5 1116.0,327.9 1116.5,327.9 1117.0,327.5 1117.5,327.5 1118.0,327.2 1118.5,327.4 1119.0,327.8 1119.5,327.6 1120.0,327.8 1120.5,327.8 1121.0,327.6 1121.5,327.9 1122.0,327.8 1122.5,327.6 1123.0,327.6 1123.5,327.6 1124.0,328.1 1124.5,328.1 1125.0,327.9 1125.5,327.7 1126.0,327.1 1126.5,327.1 1127.0,327.3 1127.5,327.7 1128.0,328.0 1128.5,328.2 1129.0,328.1 1129.5,327.7 1130.0,327.9 1130.5,327.3 1131.0,327.4 1131.5,327.2 1132.0,327.1 1132.5,327.1 1133.0,327.0 1133.5,327.3 1134.0,326.7 1134.5,327.4 1135.0,327.4 1135.5,327.7 1136.0,327.9 1136.5,327.2 1137.0,327.2 1137.5,327.0 1138.0,327.6 1138.5,327.7 1139.0,327.4 1139.5,327.2 1140.0,326.7 1140.5,327.0 1141.0,327.1 1141.5,327.2 1142.0,327.2 1142.5,327.3 1143.0,327.3 1143.5,327.4 1144.0,326.8 1144.5,326.5 1145.0,326.6 1145.5,326.6 1146.0,327.1 1146.5,327.5 1147.0,327.4 1147.5,327.2 1148.0,327.2 1148.5,327.0 1149.0,326.8 1149.5,327.2 1150.0,327.5 1150.5,327.3 1151.0,327.3 1151.5,327.2 1152.0,327.1 1152.5,327.1 1153.0,327.1 1153.5,327.0 1154.0,326.8 1154.5,326.9 1155.0,327.0 1155.5,327.3 1156.0,327.7 1156.5,327.5 1157.0,327.8 1157.5,327.6 1158.0,327.7 1158.5,327.6 1159.0,327.4 1159.5,327.4 1160.0,326.6 1160.5,326.7 1161.0,326.9 1161.5,326.6 1162.0,326.9 1162.5,327.2 1163.0,327.0 1163.5,327.1 1164.0,326.6 1164.5,326.3 1165.0,326.1 1165.5,326.3 1166.0,327.0 1166.5,327.1 1167.0,327.3 1167.5,327.3 1168.0,326.9 1168.5,326.6 1169.0,326.7 1169.5,326.6 1170.0,326.6 1170.5,326.9 1171.0,327.3 1171.5,327.4 1172.0,327.6 1172.5,327.4 1173.0,327.2 1173.5,327.2 1174.0,327.2 1174.5,327.2 1175.0,327.0 1175.5,326.5 1176.0,326.3 1176.5,326.2 1177.0,326.0 1177.5,326.7 1178.0,326.5 1178.5,326.6 1179.0,326.8 1179.5,326.6 1180.0,327.0 1180.5,326.7 1181.0,326.7 1181.5,326.4 1182.0,326.4 1182.5,326.8 1183.0,326.8 1183.5,326.8 1184.0,326.5 1184.5,326.4 1185.0,326.8 1185.5,326.9 1186.0,327.0 1186.5,326.8 1187.0,326.4 1187.5,326.0 1188.0,326.4 1188.5,326.6 1189.0,326.6 1189.5,327.3 1190.0,327.0 1190.5,327.3 1191.0,327.4 1191.5,327.2 1192.0,327.1 1192.5,326.8 1193.0,326.8 1193.5,326.7 1194.0,326.9 1194.5,327.0 1195.0,326.9 1195.5,326.7 1196.0,326.5 1196.5,326.4 1197.0,326.4 1197.5,326.5 1198.0,326.6 1198.5,326.8 1199.0,326.7 1199.5,326.3 1200.0,326.3 1200.5,326.2 1201.0,326.2 1201.5,326.5 1202.0,326.6 1202.5,326.6 1203.0,326.7 1203.5,326.5 1204.0,326.3 1204.5,326.2 1205.0,325.8 1205.5,326.1 1206.0,325.6 1206.5,325.7 1207.0,326.1 1207.5,326.1 1208.0,326.3 1208.5,326.4 1209.0,325.9 1209.5,325.7 1210.0,326.2 1210.5,326.1 1211.0,326.7 1211.5,326.6 1212.0,326.0 1212.5,325.8 1213.0,325.8 1213.5,326.2 1214.0,326.7 1214.5,326.8 1215.0,326.6 1215.5,326.4 1216.0,326.7 1216.5,326.7 1217.0,327.0 1217.5,327.0 1218.0,326.7 1218.5,326.5 1219.0,326.1 1219.5,326.2 1220.0,325.9 1220.5,326.0 1221.0,326.0 1221.5,325.8 1222.0,326.2 1222.5,326.5 1223.0,326.2 1223.5,326.6 1224.0,326.3 1224.5,326.1 1225.0,326.3 1225.5,326.2 1226.0,326.3 1226.5,326.2 1227.0,326.2 1227.5,325.8 1228.0,326.0 1228.5,326.0 1229.0,325.8 1229.5,325.9 1230.0,325.6 1230.5,325.9 1231.0,325.9 1231.5,326.1 1232.0,326.0 1232.5,326.1 1233.0,326.2 1233.5,325.8 1234.0,326.2 1234.5,326.0 1235.0,326.3 1235.5,326.4 1236.0,326.1 1236.5,326.0 1237.0,325.4 1237.5,325.4 1238.0,325.7 1238.5,325.9 1239.0,325.7 1239.5,326.0 1240.0,325.8 1240.5,325.8 1241.0,326.3 1241.5,326.1 1242.0,326.0 1242.5,325.9 1243.0,325.7 1243.5,325.8 1244.0,325.8 1244.5,325.9 1245.0,326.1 1245.5,325.9 1246.0,325.8 1246.5,325.5 1247.0,325.5 1247.5,325.6 1248.0,325.6 1248.5,325.5 1249.0,325.7 1249.5,325.6 1250.0,325.6 1250.5,325.9 1251.0,325.5 1251.5,325.5 1252.0,325.3 1252.5,325.2 1253.0,325.7 1253.5,326.0 1254.0,326.5 1254.5,326.5 1255.0,325.8 1255.5,325.4 1256.0,324.5 1256.5,324.8 1257.0,325.4 1257.5,325.6 1258.0,326.2 1258.5,326.0 1259.0,325.8 1259.5,325.9 1260.0,325.6 1260.5,325.5 1261.0,325.5 1261.5,325.1 1262.0,325.1 1262.5,325.2 1263.0,325.3 1263.5,325.2 1264.0,325.5 1264.5,325.5 1265.0,325.5 1265.5,326.0 1266.0,325.9 1266.5,325.6 1267.0,325.4 1267.5,325.3 1268.0,325.1 1268.5,325.5 1269.0,325.8 1269.5,326.0 1270.0,326.0 1270.5,325.9 1271.0,325.7 1271.5,326.1 1272.0,326.2 1272.5,325.7 1273.0,325.6 1273.5,325.2 1274.0,325.0 1274.5,325.4 1275.0,325.4 1275.5,325.4 1276.0,325.8 1276.5,325.8 1277.0,325.9 1277.5,326.0 1278.0,325.9 1278.5,325.7 1279.0,325.8 1279.5,325.7 1280.0,325.8 1280.5,326.2 1281.0,326.1 1281.5,326.1 1282.0,325.8 1282.5,325.7 1283.0,325.3 1283.5,325.3 1284.0,325.2 1284.5,325.3 1285.0,325.9 1285.5,325.8 1286.0,325.8 1286.5,325.4 1287.0,325.1 1287.5,325.4 1288.0,325.8 1288.5,325.8 1289.0,325.9 1289.5,325.8 1290.0,325.3 1290.5,325.5 1291.0,325.2 1291.5,325.3 1292.0,325.4 1292.5,325.6 1293.0,325.6 1293.5,325.2 1294.0,324.9 1294.5,324.5 1295.0,324.0 1295.5,323.7 1296.0,323.2 1296.5,321.9 1297.0,321.0 1297.5,319.8 1298.0,318.1 1298.5,316.9 1299.0,315.5 1299.5,314.5 1300.0,314.3 1300.5,314.6 1301.0,315.5 1301.5,316.6 1302.0,317.9 1302.5,319.8 1303.0,321.0 1303.5,322.4 1304.0,323.8 1304.5,324.3 1305.0,324.9 1305.5,325.6 1306.0,326.0 1306.5,325.9 1307.0,325.8 1307.5,325.6 1308.0,325.3 1308.5,325.3 1309.0,325.4 1309.5,325.2 1310.0,325.2 1310.5,325.5 1311.0,325.2 1311.5,324.9 1312.0,325.1 1312.5,324.8 1313.0,325.2 1313.5,325.7 1314.0,325.7 1314.5,326.0 1315.0,325.9 1315.5,325.8 1316.0,325.7 1316.5,325.6 1317.0,325.6 1317.5,325.3 1318.0,325.3 1318.5,325.2 1319.0,325.2 1319.5,325.3 1320.0,325.4 1320.5,325.1 1321.0,325.1 1321.5,325.5 1322.0,325.1 1322.5,325.5 1323.0,325.7 1323.5,325.5 1324.0,325.4 1324.5,325.5 1325.0,325.4 1325.5,325.4 1326.0,325.7 1326.5,325.5 1327.0,325.7 1327.5,325.8 1328.0,325.4 1328.5,325.2 1329.0,325.0 1329.5,324.3 1330.0,324.8 1330.5,324.8 1331.0,324.9 1331.5,325.3 1332.0,324.9 1332.5,324.9 1333.0,324.7 1333.5,324.6 1334.0,324.7 1334.5,324.8 1335.0,324.8 1335.5,324.6 1336.0,324.7 1336.5,324.7 1337.0,324.6 1337.5,324.4 1338.0,324.0 1338.5,323.8 1339.0,323.8 1339.5,324.2 1340.0,324.3 1340.5,324.5 1341.0,324.5 1341.5,324.5 1342.0,324.2 1342.5,324.2 1343.0,324.0 1343.5,323.7 1344.0,323.8 1344.5,323.6 1345.0,323.7 1345.5,323.2 1346.0,323.2 1346.5,323.3 1347.0,323.0 1347.5,323.1 1348.0,323.4 1348.5,323.0 1349.0,323.1 1349.5,323.1 1350.0,322.6 1350.5,322.5 1351.0,322.2 1351.5,322.6 1352.0,322.5 1352.5,322.6 1353.0,322.9 1353.5,322.6 1354.0,322.7 1354.5,322.8 1355.0,322.9 1355.5,322.7 1356.0,322.4 1356.5,322.3 1357.0,321.7 1357.5,321.6 1358.0,321.6 1358.5,321.4 1359.0,321.3 1359.5,321.3 1360.0,321.0 1360.5,320.9 1361.0,320.8 1361.5,320.4 1362.0,320.4 1362.5,320.1 1363.0,320.2 1363.5,320.5 1364.0,320.6 1364.5,320.8 1365.0,321.3 1365.5,320.7 1366.0,321.0 1366.5,321.0 1367.0,320.6 1367.5,320.9 1368.0,320.4 1368.5,320.4 1369.0,320.5 1369.5,320.6 1370.0,321.3 1370.5,321.9 1371.0,322.3 1371.5,322.7 1372.0,322.8 1372.5,322.8 1373.0,323.1 1373.5,323.2 1374.0,323.4 1374.5,323.6 1375.0,323.7 1375.5,324.1 1376.0,324.1 1376.5,324.2 1377.0,324.1 1377.5,324.1 1378.0,324.0 1378.5,324.1 1379.0,324.4 1379.5,324.3 1380.0,324.5 1380.5,324.7 1381.0,324.6 1381.5,324.8 1382.0,324.6 1382.5,324.7 1383.0,325.0 1383.5,325.0 1384.0,325.3 1384.5,325.4 1385.0,325.4 1385.5,325.1 1386.0,325.1 1386.5,325.0 1387.0,325.0 1387.5,325.1 1388.0,325.0 1388.5,324.6 1389.0,323.6 1389.5,322.1 1390.0,319.5 1390.5,316.6 1391.0,312.9 1391.5,309.2 1392.0,306.0 1392.5,303.4 1393.0,302.4 1393.5,303.1 1394.0,305.7 1394.5,309.4 1395.0,313.6 1395.5,317.4 1396.0,320.4 1396.5,322.8 1397.0,324.4 1397.5,325.6 1398.0,326.1 1398.5,326.4 1399.0,326.5 1399.5,326.7 1400.0,326.9 1400.5,326.7 1401.0,326.7 1401.5,326.7 1402.0,326.7 1402.5,326.6 1403.0,326.5 1403.5,326.6 1404.0,326.5 1404.5,326.8 1405.0,327.3 1405.5,327.5 1406.0,327.7 1406.5,327.7 1407.0,327.4 1407.5,327.1 1408.0,326.6 1408.5,326.3 1409.0,325.9 1409.5,325.8 1410.0,325.9 1410.5,326.0 1411.0,326.4 1411.5,326.5 1412.0,326.9 1412.5,327.2 1413.0,327.4 1413.5,327.6 1414.0,327.5 1414.5,327.3 1415.0,327.2 1415.5,327.0 1416.0,326.9 1416.5,327.1 1417.0,326.8 1417.5,326.6 1418.0,326.7 1418.5,326.9 1419.0,327.3 1419.5,328.2 1420.0,327.9 1420.5,327.5 1421.0,326.9 1421.5,326.1 1422.0,326.7 1422.5,327.1 1423.0,327.3 1423.5,327.4 1424.0,326.9 1424.5,326.4 1425.0,326.5 1425.5,326.5 1426.0,326.7 1426.5,327.0 1427.0,327.1 1427.5,327.4 1428.0,327.4 1428.5,327.3 1429.0,327.2 1429.5,327.0 1430.0,327.0 1430.5,326.9 1431.0,326.8 1431.5,326.8 1432.0,326.7 1432.5,327.0 1433.0,326.8 1433.5,326.8 1434.0,327.1 1434.5,326.9 1435.0,327.2 1435.5,327.0 1436.0,327.2 1436.5,327.2 1437.0,327.0 1437.5,327.2 1438.0,327.1 1438.5,327.2 1439.0,327.3 1439.5,327.4 1440.0,327.1 1440.5,326.9 1441.0,326.7 1441.5,326.7 1442.0,326.5 1442.5,326.4 1443.0,326.6 1443.5,326.5 1444.0,327.2 1444.5,327.5 1445.0,327.4 1445.5,327.5 1446.0,327.4 1446.5,327.5 1447.0,327.8 1447.5,327.7 1448.0,327.2 1448.5,326.8 1449.0,327.0 1449.5,326.9 1450.0,326.8 1450.5,327.0 1451.0,326.8 1451.5,326.7 1452.0,326.9 1452.5,326.4 1453.0,326.0 1453.5,325.7 1454.0,325.8 1454.5,325.9 1455.0,325.7 1455.5,325.4 1456.0,324.8 1456.5,324.6 1457.0,324.2 1457.5,323.9 1458.0,323.5 1458.5,323.2 1459.0,323.0 1459.5,323.0 1460.0,322.7 1460.5,322.5 1461.0,322.1 1461.5,322.3 1462.0,322.7 1462.5,322.9 1463.0,323.3 1463.5,323.2 1464.0,322.9 1464.5,322.7 1465.0,323.0 1465.5,322.9 1466.0,323.3 1466.5,323.5 1467.0,323.1 1467.5,323.3 1468.0,323.6 1468.5,324.1 1469.0,324.3 1469.5,324.3 1470.0,324.3 1470.5,324.4 1471.0,325.2 1471.5,325.9 1472.0,326.4 1472.5,326.3 1473.0,326.1 1473.5,326.1 1474.0,326.0 1474.5,326.2 1475.0,326.5 1475.5,326.4 1476.0,326.8 1476.5,326.7 1477.0,326.7 1477.5,326.8 1478.0,326.8 1478.5,327.1 1479.0,327.5 1479.5,327.5 1480.0,327.5 1480.5,327.9 1481.0,328.0 1481.5,328.4 1482.0,328.9 1482.5,328.7 1483.0,329.0 1483.5,329.3 1484.0,329.4 1484.5,329.8 1485.0,330.2 1485.5,330.5 1486.0,330.3 1486.5,330.0 1487.0,329.5 1487.5,329.0 1488.0,328.4 1488.5,326.9 1489.0,324.0 1489.5,319.1 1490.0,312.7 1490.5,305.7 1491.0,299.1 1491.5,294.7 1492.0,293.0 1492.5,294.6 1493.0,299.5 1493.5,306.5 1494.0,313.8 1494.5,320.5 1495.0,325.5 1495.5,328.8 1496.0,331.2 1496.5,332.0 1497.0,332.2 1497.5,332.4 1498.0,331.9 1498.5,332.1 1499.0,332.4 1499.5,332.3 1500.0,332.6 1500.5,332.8 1501.0,332.8 1501.5,333.0 1502.0,333.1 1502.5,332.9 1503.0,333.0 1503.5,332.9 1504.0,332.7 1504.5,332.7 1505.0,332.9 1505.5,332.9 1506.0,332.7 1506.5,332.9 1507.0,332.1 1507.5,332.1 1508.0,332.5 1508.5,332.6 1509.0,333.1 1509.5,333.0 1510.0,333.2 1510.5,333.1 1511.0,333.3 1511.5,333.4 1512.0,333.1 1512.5,332.6 1513.0,332.5 1513.5,332.2 1514.0,331.9 1514.5,331.9 1515.0,332.1 1515.5,332.6 1516.0,332.7 1516.5,333.1 1517.0,332.9 1517.5,332.4 1518.0,332.5 1518.5,332.0 1519.0,332.0 1519.5,332.4 1520.0,332.3 1520.5,332.7 1521.0,332.9 1521.5,332.7 1522.0,332.9 1522.5,332.8 1523.0,332.5 1523.5,333.0 1524.0,332.8 1524.5,332.7 1525.0,332.8 1525.5,332.6 1526.0,332.8 1526.5,332.7 1527.0,333.0 1527.5,333.2 1528.0,333.4 1528.5,333.6 1529.0,333.3 1529.5,332.8 1530.0,332.5 1530.5,332.4 1531.0,332.5 1531.5,332.6 1532.0,332.1 1532.5,332.1 1533.0,332.1 1533.5,332.1 1534.0,332.3 1534.5,332.3 1535.0,332.3 1535.5,332.1 1536.0,332.5 1536.5,332.5 1537.0,332.6 1537.5,332.9 1538.0,332.7 1538.5,332.7 1539.0,332.8 1539.5,332.8 1540.0,333.0 1540.5,333.0 1541.0,333.1 1541.5,333.1 1542.0,332.7 1542.5,332.7 1543.0,332.5 1543.5,332.3 1544.0,332.9 1544.5,333.2 1545.0,333.2 1545.5,333.1 1546.0,332.6 1546.5,332.2 1547.0,332.5 1547.5,332.2 1548.0,332.5 1548.5,332.6 1549.0,332.3 1549.5,332.6 1550.0,332.8 1550.5,333.0 1551.0,333.1 1551.5,333.3 1552.0,332.6 1552.5,332.9 1553.0,332.5 1553.5,332.2 1554.0,332.7 1554.5,332.2 1555.0,332.2 1555.5,332.5 1556.0,332.3 1556.5,332.7 1557.0,333.1 1557.5,332.8 1558.0,333.2 1558.5,333.0 1559.0,333.3 1559.5,333.1 1560.0,332.7 1560.5,332.6 1561.0,332.3 1561.5,332.2 1562.0,332.3 1562.5,332.7 1563.0,332.7 1563.5,333.1 1564.0,333.2 1564.5,332.9 1565.0,332.7 1565.5,332.6 1566.0,332.5 1566.5,332.5 1567.0,332.6 1567.5,332.8 1568.0,332.9 1568.5,333.1 1569.0,333.1 1569.5,332.8 1570.0,333.0 1570.5,332.8 1571.0,333.3 1571.5,333.2 1572.0,332.6 1572.5,333.1 1573.0,332.7 1573.5,333.0 1574.0,333.4 1574.5,333.0 1575.0,333.2 1575.5,332.9 1576.0,332.9 1576.5,332.9 1577.0,332.4 1577.5,332.5 1578.0,332.3 1578.5,332.3 1579.0,332.7 1579.5,332.4 1580.0,332.6 1580.5,332.7 1581.0,333.0 1581.5,333.4 1582.0,333.3 1582.5,333.1 1583.0,332.8 1583.5,332.4 1584.0,332.4 1584.5,332.5 1585.0,332.4 1585.5,332.7 1586.0,332.7 1586.5,332.8 1587.0,332.6 1587.5,332.8 1588.0,332.8 1588.5,332.8 1589.0,333.0 1589.5,332.6 1590.0,332.6 1590.5,332.5 1591.0,332.4 1591.5,332.5 1592.0,332.6 1592.5,332.8 1593.0,333.0 1593.5,332.8 1594.0,332.7 1594.5,332.5 1595.0,332.2 1595.5,332.5 1596.0,332.6 1596.5,332.4 1597.0,332.9 1597.5,333.1 1598.0,332.8 1598.5,333.0 1599.0,332.6 1599.5,332.4 1600.0,332.4 1600.5,332.5 1601.0,332.8 1601.5,332.9 1602.0,332.8 1602.5,332.6 1603.0,332.6 1603.5,332.6 1604.0,332.9 1604.5,333.0 1605.0,332.9 1605.5,332.3 1606.0,331.6 1606.5,330.7 1607.0,329.5 1607.5,328.3 1608.0,327.2 1608.5,326.1 1609.0,324.9 1609.5,324.6 1610.0,324.3 1610.5,324.5 1611.0,326.0 1611.5,327.2 1612.0,328.9 1612.5,330.7 1613.0,332.0 1613.5,333.1 1614.0,334.3 1614.5,335.1 1615.0,335.9 1615.5,336.7 1616.0,336.8 1616.5,337.0 1617.0,337.2 1617.5,337.7 1618.0,337.9 1618.5,338.1 1619.0,338.2 1619.5,338.0 1620.0,338.3 1620.5,338.5 1621.0,338.9 1621.5,339.1 1622.0,339.2 1622.5,339.0 1623.0,338.6 1623.5,338.4 1624.0,338.0 1624.5,338.0 1625.0,338.1 1625.5,338.5 1626.0,338.5 1626.5,338.3 1627.0,338.2 1627.5,338.0 1628.0,337.9 1628.5,338.3 1629.0,338.5 1629.5,338.4 1630.0,338.4 1630.5,337.8 1631.0,337.5 1631.5,337.8 1632.0,337.7 1632.5,338.3 1633.0,338.6 1633.5,338.5 1634.0,338.8 1634.5,338.6 1635.0,338.7 1635.5,338.8 1636.0,338.7 1636.5,338.7 1637.0,338.8 1637.5,338.9 1638.0,338.7 1638.5,338.8 1639.0,338.6 1639.5,338.8 1640.0,338.8 1640.5,338.6 1641.0,338.4 1641.5,338.2 1642.0,338.0 1642.5,338.3 1643.0,338.3 1643.5,338.4 1644.0,338.9 1644.5,339.0 1645.0,338.7 1645.5,338.2 1646.0,337.5 1646.5,337.7 1647.0,338.0 1647.5,338.1 1648.0,338.6 1648.5,338.3 1649.0,338.3 1649.5,338.4 1650.0,338.4 1650.5,338.1 1651.0,338.4 1651.5,338.7 1652.0,338.7 1652.5,338.9 1653.0,338.9 1653.5,339.1 1654.0,339.1 1654.5,339.2 1655.0,338.8 1655.5,338.4 1656.0,338.0 1656.5,337.5 1657.0,337.6 1657.5,337.5 1658.0,338.1 1658.5,338.5 1659.0,338.5 1659.5,338.6 1660.0,338.5 1660.5,338.5 1661.0,338.2 1661.5,338.3 1662.0,338.1 1662.5,337.8 1663.0,337.8 1663.5,337.3 1664.0,337.4 1664.5,337.5 1665.0,337.2 1665.5,337.0 1666.0,336.9 1666.5,336.4 1667.0,335.8 1667.5,336.0 1668.0,335.5 1668.5,335.3 1669.0,335.4 1669.5,334.8 1670.0,334.7 1670.5,334.3 1671.0,333.8 1671.5,333.8 1672.0,334.0 1672.5,334.3 1673.0,334.7 1673.5,334.8 1674.0,334.6 1674.5,334.2 1675.0,334.1 1675.5,334.4 1676.0,334.4 1676.5,334.6 1677.0,334.6 1677.5,334.8 1678.0,335.3 1678.5,335.8 1679.0,336.6 1679.5,336.5 1680.0,336.6 1680.5,336.9 1681.0,337.1 1681.5,337.2 1682.0,337.5 1682.5,337.7 1683.0,337.5 1683.5,337.9 1684.0,337.8 1684.5,338.0 1685.0,338.1 1685.5,338.2 1686.0,338.4 1686.5,338.5 1687.0,338.9 1687.5,339.3 1688.0,339.1 1688.5,339.3 1689.0,339.4 1689.5,339.4 1690.0,339.6 1690.5,339.9 1691.0,340.3 1691.5,340.4 1692.0,340.6 1692.5,340.7 1693.0,340.5 1693.5,340.7 1694.0,341.0 1694.5,340.9 1695.0,341.0 1695.5,341.0 1696.0,340.7 1696.5,341.1 1697.0,341.2 1697.5,341.4 1698.0,342.0 1698.5,341.6 1699.0,341.3 1699.5,340.5 1700.0,338.3 1700.5,335.0 1701.0,330.2 1701.5,323.7 1702.0,316.3 1702.5,308.2 1703.0,300.8 1703.5,295.8 1704.0,293.9 1704.5,296.1 1705.0,301.5 1705.5,308.5 1706.0,316.6 1706.5,324.3 1707.0,330.5 1707.5,335.9 1708.0,339.2 1708.5,341.1 1709.0,342.3 1709.5,343.0 1710.0,342.9 1710.5,343.2 1711.0,343.4 1711.5,343.4 1712.0,344.2 1712.5,344.3 1713.0,344.5 1713.5,344.8 1714.0,344.8 1714.5,344.8 1715.0,345.1 1715.5,344.9 1716.0,344.7 1716.5,344.5 1717.0,344.1 1717.5,344.0 1718.0,343.8 1718.5,343.8 1719.0,344.3 1719.5,344.4 1720.0,344.5 1720.5,344.8 1721.0,344.7 1721.5,344.4 1722.0,344.3 1722.5,344.3 1723.0,344.0 1723.5,344.3 1724.0,344.3 1724.5,343.8 1725.0,344.0 1725.5,343.8 1726.0,344.0 1726.5,344.5 1727.0,344.4 1727.5,344.5 1728.0,344.5 1728.5,344.3 1729.0,344.1 1729.5,344.2 1730.0,343.9 1730.5,343.5 1731.0,343.4 1731.5,343.1 1732.0,343.2 1732.5,343.5 1733.0,343.6 1733.5,344.2 1734.0,344.2 1734.5,344.1 1735.0,344.0 1735.5,343.5 1736.0,344.0 1736.5,344.0 1737.0,344.0 1737.5,344.2 1738.0,344.2 1738.5,344.3 1739.0,344.2 1739.5,344.5 1740.0,343.9 1740.5,343.6 1741.0,343.9 1741.5,343.9 1742.0,343.7 1742.5,343.9 1743.0,343.7 1743.5,343.3 1744.0,343.6" fill="none" stroke="#ff0000" stroke-width="3.6" stroke-linejoin="round" stroke-linecap="round"/>
<polyline points="123.0,1205.6 124.0,1204.1 125.0,1207.0 126.0,1207.9 127.0,1206.1 128.0,1207.5 129.0,1214.5 130.0,1215.1 131.0,1207.0 132.0,1207.9 133.0,1205.1 134.0,1207.1 135.0,1201.3 136.0,1203.7 137.0,1201.5 138.0,1193.5 139.0,1199.5 140.0,1197.1 141.0,1203.3 142.0,1201.1 143.0,1204.5 144.0,1204.5 145.0,1204.7 146.0,1198.6 147.0,1199.5 148.0,1198.8 149.0,1197.9 150.0,1193.6 151.0,1191.9 152.0,1193.0 153.0,1192.3 154.0,1198.4 155.0,1198.8 156.0,1194.9 157.0,1196.7 158.0,1196.8 159.0,1197.3 160.0,1198.7 161.0,1201.9 162.0,1200.9 163.0,1203.5 164.0,1204.2 165.0,1195.2 166.0,1190.2 167.0,1190.7 168.0,1184.8 169.0,1180.6 170.0,1187.2 171.0,1197.7 172.0,1201.6 173.0,1196.6 174.0,1194.4 175.0,1194.7 176.0,1187.2 177.0,1190.8 178.0,1194.7 179.0,1201.3 180.0,1205.3 181.0,1205.8 182.0,1203.6 183.0,1202.9 184.0,1193.0 185.0,1189.3 186.0,1191.9 187.0,1193.5 188.0,1192.1 189.0,1198.1 190.0,1209.4 191.0,1204.6 192.0,1205.3 193.0,1203.2 194.0,1207.8 195.0,1198.0 196.0,1197.4 197.0,1194.6 198.0,1195.8 199.0,1196.4 200.0,1203.2 201.0,1197.1 202.0,1204.1 203.0,1203.6 204.0,1192.5 205.0,1187.5 206.0,1188.2 207.0,1185.4 208.0,1185.2 209.0,1191.7 210.0,1192.6 211.0,1192.2 212.0,1192.9 213.0,1195.1 214.0,1198.3 215.0,1198.9 216.0,1197.7 217.0,1199.0 218.0,1200.6 219.0,1201.5 220.0,1197.4 221.0,1197.5 222.0,1194.8 223.0,1188.4 224.0,1185.6 225.0,1180.6 226.0,1179.3 227.0,1190.9 228.0,1191.3 229.0,1189.9 230.0,1188.3 231.0,1189.0 232.0,1181.1 233.0,1184.4 234.0,1183.0 235.0,1190.0 236.0,1193.2 237.0,1191.1 238.0,1185.9 239.0,1188.2 240.0,1195.5 241.0,1186.9 242.0,1186.3 243.0,1186.2 244.0,1188.1 245.0,1188.3 246.0,1190.2 247.0,1196.7 248.0,1195.5 249.0,1199.5 250.0,1198.4 251.0,1213.3 252.0,1186.4 253.0,1195.7 254.0,1190.7 255.0,1200.2 256.0,1193.1 257.0,1192.3 258.0,1191.8 259.0,1192.0 260.0,1187.2 261.0,1193.0 262.0,1195.0 263.0,1192.8 264.0,1197.0 265.0,1200.6 266.0,1195.6 267.0,1197.9 268.0,1198.6 269.0,1184.3 270.0,1182.1 271.0,1188.8 272.0,1184.2 273.0,1183.5 274.0,1189.5 275.0,1189.1 276.0,1188.8 277.0,1180.7 278.0,1188.3 279.0,1184.9 280.0,1189.1 281.0,1197.3 282.0,1193.7 283.0,1196.8 284.0,1190.0 285.0,1188.3 286.0,1185.4 287.0,1183.5 288.0,1185.9 289.0,1185.4 290.0,1185.3 291.0,1183.9 292.0,1185.8 293.0,1185.0 294.0,1187.7 295.0,1193.6 296.0,1197.8 297.0,1193.1 298.0,1193.2 299.0,1185.5 300.0,1176.1 301.0,1175.5 302.0,1178.0 303.0,1180.6 304.0,1184.8 305.0,1188.9 306.0,1193.0 307.0,1187.0 308.0,1192.7 309.0,1190.0 310.0,1189.7 311.0,1185.4 312.0,1183.2 313.0,1185.7 314.0,1184.4 315.0,1182.3 316.0,1185.2 317.0,1180.9 318.0,1176.1 319.0,1172.0 320.0,1175.5 321.0,1179.3 322.0,1180.9 323.0,1176.2 324.0,1181.5 325.0,1176.0 326.0,1176.1 327.0,1181.6 328.0,1187.2 329.0,1186.9 330.0,1181.1 331.0,1181.0 332.0,1176.1 333.0,1178.6 334.0,1174.2 335.0,1177.8 336.0,1184.4 337.0,1177.9 338.0,1178.1 339.0,1172.2 340.0,1186.4 341.0,1183.3 342.0,1187.3 343.0,1188.0 344.0,1180.6 345.0,1184.5 346.0,1185.2 347.0,1176.8 348.0,1177.8 349.0,1179.4 350.0,1176.9 351.0,1176.2 352.0,1170.3 353.0,1168.5 354.0,1164.3 355.0,1165.6 356.0,1164.0 357.0,1164.0 358.0,1166.2 359.0,1171.7 360.0,1174.8 361.0,1176.0 362.0,1179.5 363.0,1174.2 364.0,1174.6 365.0,1170.4 366.0,1169.6 367.0,1172.8 368.0,1177.5 369.0,1182.6 370.0,1179.7 371.0,1179.6 372.0,1185.7 373.0,1177.2 374.0,1181.7 375.0,1180.6 376.0,1185.7 377.0,1185.1 378.0,1184.5 379.0,1176.0 380.0,1177.5 381.0,1172.7 382.0,1169.9 383.0,1170.1 384.0,1177.7 385.0,1181.6 386.0,1177.2 387.0,1180.3 388.0,1180.7 389.0,1180.9 390.0,1184.8 391.0,1184.4 392.0,1178.4 393.0,1182.3 394.0,1185.1 395.0,1182.0 396.0,1185.8 397.0,1181.2 398.0,1182.8 399.0,1179.0 400.0,1186.8 401.0,1183.7 402.0,1181.1 403.0,1177.7 404.0,1178.8 405.0,1178.6 406.0,1171.8 407.0,1179.3 408.0,1179.0 409.0,1179.7 410.0,1177.4 411.0,1181.8 412.0,1186.0 413.0,1188.7 414.0,1190.1 415.0,1188.3 416.0,1182.0 417.0,1173.2 418.0,1165.1 419.0,1170.2 420.0,1172.2 421.0,1174.5 422.0,1178.1 423.0,1178.2 424.0,1176.4 425.0,1173.3 426.0,1165.4 427.0,1170.4 428.0,1171.7 429.0,1172.4 430.0,1180.3 431.0,1180.6 432.0,1179.8 433.0,1182.0 434.0,1184.7 435.0,1174.1 436.0,1170.4 437.0,1163.1 438.0,1160.0 439.0,1159.8 440.0,1163.4 441.0,1173.0 442.0,1175.5 443.0,1172.5 444.0,1168.5 445.0,1169.5 446.0,1167.2 447.0,1162.6 448.0,1166.8 449.0,1173.4 450.0,1166.3 451.0,1159.7 452.0,1160.4 453.0,1157.8 454.0,1157.7 455.0,1156.8 456.0,1161.6 457.0,1163.5 458.0,1169.3 459.0,1170.0 460.0,1166.9 461.0,1164.4 462.0,1159.0 463.0,1156.5 464.0,1155.8 465.0,1154.3 466.0,1160.1 467.0,1160.1 468.0,1156.5 469.0,1158.0 470.0,1159.1 471.0,1157.6 472.0,1152.4 473.0,1160.3 474.0,1159.6 475.0,1163.6 476.0,1155.0 477.0,1164.4 478.0,1155.0 479.0,1159.6 480.0,1156.9 481.0,1165.8 482.0,1158.9 483.0,1174.3 484.0,1165.9 485.0,1164.6 486.0,1163.3 487.0,1167.7 488.0,1162.7 489.0,1161.6 490.0,1154.0 491.0,1156.4 492.0,1155.8 493.0,1156.6 494.0,1159.2 495.0,1166.9 496.0,1159.5 497.0,1162.3 498.0,1155.5 499.0,1157.6 500.0,1156.5 501.0,1161.3 502.0,1158.2 503.0,1156.9 504.0,1154.1 505.0,1150.0 506.0,1147.0 507.0,1150.2 508.0,1152.6 509.0,1153.4 510.0,1156.5 511.0,1152.7 512.0,1153.0 513.0,1151.2 514.0,1139.4 515.0,1143.4 516.0,1138.5 517.0,1134.3 518.0,1127.3 519.0,1125.2 520.0,1119.6 521.0,1119.5 522.0,1120.1 523.0,1125.7 524.0,1127.0 525.0,1127.2 526.0,1122.1 527.0,1118.5 528.0,1107.5 529.0,1106.1 530.0,1107.6 531.0,1104.7 532.0,1106.8 533.0,1112.0 534.0,1118.2 535.0,1117.5 536.0,1114.5 537.0,1106.2 538.0,1109.6 539.0,1104.3 540.0,1098.6 541.0,1099.8 542.0,1100.8 543.0,1093.8 544.0,1102.0 545.0,1096.4 546.0,1090.9 547.0,1090.5 548.0,1085.1 549.0,1084.1 550.0,1083.5 551.0,1081.3 552.0,1078.1 553.0,1072.7 554.0,1064.5 555.0,1066.8 556.0,1061.6 557.0,1056.1 558.0,1052.9 559.0,1053.1 560.0,1048.6 561.0,1050.0 562.0,1052.2 563.0,1053.5 564.0,1051.1 565.0,1046.0 566.0,1048.8 567.0,1043.3 568.0,1047.2 569.0,1048.6 570.0,1045.6 571.0,1044.6 572.0,1040.0 573.0,1036.5 574.0,1036.5 575.0,1029.2 576.0,1034.4 577.0,1024.9 578.0,1015.3 579.0,1010.8 580.0,1012.1 581.0,1015.6 582.0,1017.4 583.0,1019.6 584.0,1014.0 585.0,1011.1 586.0,1010.4 587.0,1009.6 588.0,1003.4 589.0,1003.6 590.0,1004.0 591.0,995.7 592.0,997.6 593.0,997.1 594.0,1000.4 595.0,1000.5 596.0,994.5 597.0,995.4 598.0,986.3 599.0,988.8 600.0,977.6 601.0,980.9 602.0,976.9 603.0,979.1 604.0,972.0 605.0,972.9 606.0,963.5 607.0,966.7 608.0,965.9 609.0,964.3 610.0,955.1 611.0,959.0 612.0,958.4 613.0,948.9 614.0,947.5 615.0,954.3 616.0,952.5 617.0,953.5 618.0,951.6 619.0,952.8 620.0,952.7 621.0,946.2 622.0,947.7 623.0,955.0 624.0,960.6 625.0,952.1 626.0,959.5 627.0,960.2 628.0,957.8 629.0,944.2 630.0,949.0 631.0,942.5 632.0,941.7 633.0,942.0 634.0,948.2 635.0,949.0 636.0,953.7 637.0,952.8 638.0,942.1 639.0,950.6 640.0,946.7 641.0,945.5 642.0,945.5 643.0,945.9 644.0,949.6 645.0,952.8 646.0,956.5 647.0,962.8 648.0,963.5 649.0,964.9 650.0,963.2 651.0,952.7 652.0,952.8 653.0,951.6 654.0,944.8 655.0,952.2 656.0,954.5 657.0,953.9 658.0,946.4 659.0,952.0 660.0,954.5 661.0,954.7 662.0,957.6 663.0,955.2 664.0,959.1 665.0,960.1 666.0,967.5 667.0,965.6 668.0,976.9 669.0,977.8 670.0,983.4 671.0,991.6 672.0,990.5 673.0,987.0 674.0,987.4 675.0,986.3 676.0,988.9 677.0,993.0 678.0,992.5 679.0,996.7 680.0,999.1 681.0,991.3 682.0,995.0 683.0,996.5 684.0,995.4 685.0,1000.7 686.0,1004.4 687.0,1004.8 688.0,1007.4 689.0,1014.8 690.0,1020.1 691.0,1025.0 692.0,1039.3 693.0,1033.8 694.0,1034.7 695.0,1037.8 696.0,1036.5 697.0,1040.8 698.0,1041.0 699.0,1044.5 700.0,1046.9 701.0,1058.2 702.0,1059.2 703.0,1059.2 704.0,1064.9 705.0,1067.1 706.0,1063.7 707.0,1070.7 708.0,1073.9 709.0,1076.6 710.0,1079.6 711.0,1080.4 712.0,1081.0 713.0,1080.1 714.0,1081.8 715.0,1089.7 716.0,1095.0 717.0,1095.5 718.0,1104.5 719.0,1103.7 720.0,1100.4 721.0,1091.9 722.0,1096.0 723.0,1088.2 724.0,1084.7 725.0,1091.1 726.0,1099.8 727.0,1098.5 728.0,1098.4 729.0,1105.8 730.0,1106.6 731.0,1105.7 732.0,1110.5 733.0,1113.4 734.0,1109.9 735.0,1112.8 736.0,1117.2 737.0,1127.6 738.0,1139.2 739.0,1142.4 740.0,1150.5 741.0,1150.9 742.0,1145.0 743.0,1143.4 744.0,1141.7 745.0,1140.4 746.0,1140.6 747.0,1146.4 748.0,1148.4 749.0,1152.4 750.0,1165.4 751.0,1161.5 752.0,1164.8 753.0,1165.7 754.0,1159.8 755.0,1158.5 756.0,1158.5 757.0,1159.9 758.0,1149.0 759.0,1158.1 760.0,1157.3 761.0,1161.9 762.0,1157.1 763.0,1159.5 764.0,1157.6 765.0,1159.2 766.0,1156.5 767.0,1163.3 768.0,1163.4 769.0,1159.5 770.0,1163.9 771.0,1165.7 772.0,1164.6 773.0,1161.2 774.0,1170.9 775.0,1168.7 776.0,1165.1 777.0,1168.1 778.0,1173.3 779.0,1171.5 780.0,1172.9 781.0,1174.5 782.0,1173.6 783.0,1164.8 784.0,1171.0 785.0,1171.2 786.0,1154.1 787.0,1167.4 788.0,1166.2 789.0,1161.6 790.0,1157.3 791.0,1165.6 792.0,1163.4 793.0,1164.8 794.0,1165.4 795.0,1167.4 796.0,1171.3 797.0,1165.3 798.0,1162.2 799.0,1161.6 800.0,1155.5 801.0,1161.2 802.0,1159.9 803.0,1167.8 804.0,1169.7 805.0,1172.4 806.0,1176.0 807.0,1172.7 808.0,1177.8 809.0,1170.4 810.0,1169.0 811.0,1172.6 812.0,1170.3 813.0,1173.8 814.0,1180.7 815.0,1183.1 816.0,1184.8 817.0,1185.4 818.0,1184.8 819.0,1186.6 820.0,1176.6 821.0,1183.2 822.0,1197.7 823.0,1180.0 824.0,1179.9 825.0,1184.9 826.0,1184.9 827.0,1184.5 828.0,1185.9 829.0,1189.2 830.0,1177.5 831.0,1172.8 832.0,1174.6 833.0,1174.1 834.0,1177.2 835.0,1180.9 836.0,1181.1 837.0,1184.6 838.0,1185.4 839.0,1184.7 840.0,1178.6 841.0,1188.9 842.0,1181.6 843.0,1184.0 844.0,1189.0 845.0,1184.8 846.0,1182.1 847.0,1178.5 848.0,1187.3 849.0,1191.2 850.0,1192.0 851.0,1197.7 852.0,1194.4 853.0,1186.3 854.0,1184.0 855.0,1184.2 856.0,1180.0 857.0,1184.7 858.0,1184.5 859.0,1187.4 860.0,1189.2 861.0,1190.1 862.0,1192.0 863.0,1189.7 864.0,1184.5 865.0,1193.1 866.0,1190.5 867.0,1190.8 868.0,1193.0 869.0,1196.0 870.0,1187.6 871.0,1188.0 872.0,1184.9 873.0,1183.9 874.0,1183.9 875.0,1189.6 876.0,1193.1 877.0,1189.9 878.0,1190.1 879.0,1187.1 880.0,1192.2 881.0,1189.0 882.0,1182.3 883.0,1175.1 884.0,1175.1 885.0,1170.2 886.0,1166.1 887.0,1170.2 888.0,1177.6 889.0,1170.7 890.0,1171.4 891.0,1172.9 892.0,1172.5 893.0,1173.8 894.0,1179.9 895.0,1183.4 896.0,1186.3 897.0,1182.5 898.0,1185.3 899.0,1182.3 900.0,1176.1 901.0,1177.1 902.0,1181.0 903.0,1175.6 904.0,1165.2 905.0,1175.1 906.0,1173.2 907.0,1172.1 908.0,1172.3 909.0,1175.7 910.0,1164.7 911.0,1163.3 912.0,1165.9 913.0,1164.6 914.0,1161.9 915.0,1172.3 916.0,1168.7 917.0,1167.1 918.0,1172.9 919.0,1180.0 920.0,1172.7 921.0,1173.8 922.0,1173.1 923.0,1166.8 924.0,1162.8 925.0,1167.5 926.0,1164.0 927.0,1162.6 928.0,1165.1 929.0,1170.3 930.0,1163.3 931.0,1168.5 932.0,1169.0 933.0,1169.3 934.0,1161.7 935.0,1166.1 936.0,1166.4 937.0,1167.6 938.0,1166.6 939.0,1174.2 940.0,1178.9 941.0,1179.8 942.0,1176.0 943.0,1177.3 944.0,1173.1 945.0,1169.5 946.0,1171.1 947.0,1163.8 948.0,1156.3 949.0,1160.5 950.0,1164.4 951.0,1167.9 952.0,1164.8 953.0,1169.9 954.0,1160.7 955.0,1159.3 956.0,1157.8 957.0,1166.7 958.0,1169.6 959.0,1165.9 960.0,1163.2 961.0,1163.3 962.0,1163.4 963.0,1163.8 964.0,1158.6 965.0,1155.5 966.0,1154.2 967.0,1152.4 968.0,1150.1 969.0,1156.6 970.0,1160.9 971.0,1165.5 972.0,1165.3 973.0,1159.3 974.0,1158.8 975.0,1157.9 976.0,1150.4 977.0,1155.2 978.0,1158.8 979.0,1150.8 980.0,1152.9 981.0,1151.1 982.0,1152.4 983.0,1147.8 984.0,1149.3 985.0,1150.9 986.0,1162.2 987.0,1155.4 988.0,1152.6 989.0,1162.0 990.0,1161.2 991.0,1147.8 992.0,1158.5 993.0,1155.3 994.0,1150.5 995.0,1155.8 996.0,1152.2 997.0,1152.6 998.0,1159.4 999.0,1158.5 1000.0,1159.0 1001.0,1156.4 1002.0,1159.4 1003.0,1164.4 1004.0,1161.4 1005.0,1159.0 1006.0,1156.0 1007.0,1153.6 1008.0,1150.7 1009.0,1149.5 1010.0,1145.5 1011.0,1154.8 1012.0,1151.8 1013.0,1156.4 1014.0,1148.1 1015.0,1157.6 1016.0,1153.6 1017.0,1157.6 1018.0,1154.1 1019.0,1153.0 1020.0,1154.3 1021.0,1158.4 1022.0,1149.6 1023.0,1148.7 1024.0,1153.4 1025.0,1160.1 1026.0,1152.2 1027.0,1150.6 1028.0,1150.7 1029.0,1148.1 1030.0,1143.3 1031.0,1147.3 1032.0,1145.1 1033.0,1148.1 1034.0,1143.0 1035.0,1151.6 1036.0,1151.5 1037.0,1150.8 1038.0,1153.2 1039.0,1150.2 1040.0,1148.2 1041.0,1149.8 1042.0,1146.2 1043.0,1142.4 1044.0,1138.9 1045.0,1142.1 1046.0,1139.0 1047.0,1140.9 1048.0,1140.3 1049.0,1153.8 1050.0,1152.3 1051.0,1148.2 1052.0,1158.9 1053.0,1168.7" fill="none" stroke="#ff0000" stroke-width="3.6" stroke-linejoin="round" stroke-linecap="round"/>
<polyline points="123.0,1488.7 124.0,1488.7 125.0,1482.0 126.0,1478.8 127.0,1477.6 128.0,1470.5 129.0,1465.1 130.0,1464.2 131.0,1474.5 132.0,1467.2 133.0,1467.2 134.0,1461.6 135.0,1462.0 136.0,1457.8 137.0,1459.1 138.0,1460.2 139.0,1463.9 140.0,1472.4 141.0,1468.0 142.0,1465.8 143.0,1466.1 144.0,1459.6 145.0,1453.3 146.0,1457.9 147.0,1455.3 148.0,1450.1 149.0,1454.4 150.0,1463.9 151.0,1459.6 152.0,1462.4 153.0,1462.5 154.0,1460.5 155.0,1469.5 156.0,1467.7 157.0,1471.3 158.0,1475.1 159.0,1474.4 160.0,1462.2 161.0,1461.3 162.0,1465.5 163.0,1463.4 164.0,1455.7 165.0,1460.8 166.0,1456.7 167.0,1450.0 168.0,1454.4 169.0,1456.4 170.0,1461.7 171.0,1461.5 172.0,1463.2 173.0,1459.6 174.0,1458.8 175.0,1457.8 176.0,1459.1 177.0,1459.0 178.0,1456.1 179.0,1457.6 180.0,1460.9 181.0,1461.8 182.0,1466.5 183.0,1468.3 184.0,1464.0 185.0,1463.5 186.0,1463.3 187.0,1466.4 188.0,1464.4 189.0,1460.1 190.0,1463.1 191.0,1456.0 192.0,1448.1 193.0,1452.5 194.0,1455.5 195.0,1453.3 196.0,1458.1 197.0,1465.3 198.0,1468.1 199.0,1467.5 200.0,1468.3 201.0,1467.0 202.0,1463.5 203.0,1461.5 204.0,1460.1 205.0,1463.4 206.0,1460.6 207.0,1455.7 208.0,1457.3 209.0,1464.6 210.0,1467.7 211.0,1462.6 212.0,1464.4 213.0,1465.6 214.0,1474.3 215.0,1467.4 216.0,1472.1 217.0,1477.4 218.0,1468.4 219.0,1465.7 220.0,1472.2 221.0,1471.2 222.0,1466.6 223.0,1472.0 224.0,1466.1 225.0,1459.0 226.0,1454.9 227.0,1451.2 228.0,1453.5 229.0,1451.3 230.0,1455.9 231.0,1456.8 232.0,1456.4 233.0,1455.0 234.0,1454.2 235.0,1458.3 236.0,1462.8 237.0,1461.2 238.0,1461.5 239.0,1461.9 240.0,1461.5 241.0,1458.2 242.0,1458.3 243.0,1460.5 244.0,1451.1 245.0,1452.4 246.0,1453.9 247.0,1450.3 248.0,1456.0 249.0,1455.1 250.0,1455.8 251.0,1455.7 252.0,1457.2 253.0,1458.0 254.0,1459.2 255.0,1460.2 256.0,1461.7 257.0,1452.5 258.0,1458.5 259.0,1457.7 260.0,1459.3 261.0,1453.1 262.0,1453.8 263.0,1458.8 264.0,1457.6 265.0,1460.4 266.0,1465.2 267.0,1464.3 268.0,1459.8 269.0,1465.1 270.0,1464.8 271.0,1467.1 272.0,1463.2 273.0,1466.9 274.0,1464.4 275.0,1462.8 276.0,1453.7 277.0,1459.3 278.0,1457.1 279.0,1461.6 280.0,1469.4 281.0,1460.3 282.0,1462.5 283.0,1459.8 284.0,1459.3 285.0,1470.5 286.0,1465.1 287.0,1462.0 288.0,1458.4 289.0,1458.9 290.0,1454.2 291.0,1450.3 292.0,1454.1 293.0,1453.5 294.0,1446.0 295.0,1450.5 296.0,1451.2 297.0,1447.1 298.0,1447.4 299.0,1445.2 300.0,1448.8 301.0,1451.2 302.0,1454.3 303.0,1449.2 304.0,1451.0 305.0,1449.1 306.0,1441.9 307.0,1440.0 308.0,1426.4 309.0,1446.8 310.0,1441.9 311.0,1449.8 312.0,1448.5 313.0,1448.2 314.0,1444.5 315.0,1444.3 316.0,1441.1 317.0,1449.9 318.0,1453.7 319.0,1451.5 320.0,1450.9 321.0,1454.7 322.0,1448.6 323.0,1440.9 324.0,1438.0 325.0,1441.9 326.0,1440.9 327.0,1444.4 328.0,1440.7 329.0,1447.8 330.0,1441.9 331.0,1438.5 332.0,1434.4 333.0,1440.0 334.0,1427.4 335.0,1429.2 336.0,1434.1 337.0,1440.9 338.0,1442.4 339.0,1448.2 340.0,1436.1 341.0,1447.0 342.0,1440.0 343.0,1446.6 344.0,1443.6 345.0,1445.9 346.0,1441.6 347.0,1448.5 348.0,1447.5 349.0,1453.9 350.0,1450.4 351.0,1457.7 352.0,1457.8 353.0,1456.3 354.0,1455.6 355.0,1450.0 356.0,1443.4 357.0,1436.7 358.0,1437.1 359.0,1433.2 360.0,1437.6 361.0,1448.6 362.0,1440.1 363.0,1447.4 364.0,1446.0 365.0,1446.1 366.0,1436.0 367.0,1437.2 368.0,1433.3 369.0,1434.5 370.0,1436.5 371.0,1438.4 372.0,1437.0 373.0,1436.1 374.0,1437.4 375.0,1440.7 376.0,1436.5 377.0,1435.6 378.0,1435.9 379.0,1436.4 380.0,1438.3 381.0,1443.9 382.0,1445.1 383.0,1448.3 384.0,1447.6 385.0,1443.9 386.0,1437.3 387.0,1435.9 388.0,1438.3 389.0,1443.0 390.0,1439.9 391.0,1443.4 392.0,1443.6 393.0,1438.7 394.0,1441.7 395.0,1437.3 396.0,1441.4 397.0,1432.0 398.0,1431.9 399.0,1435.9 400.0,1440.1 401.0,1444.5 402.0,1441.5 403.0,1445.6 404.0,1442.6 405.0,1442.8 406.0,1442.4 407.0,1447.2 408.0,1446.5 409.0,1448.9 410.0,1443.1 411.0,1442.2 412.0,1442.5 413.0,1434.6 414.0,1433.6 415.0,1435.9 416.0,1435.6 417.0,1437.1 418.0,1435.5 419.0,1438.1 420.0,1433.6 421.0,1433.2 422.0,1433.0 423.0,1429.8 424.0,1434.7 425.0,1432.8 426.0,1437.2 427.0,1439.0 428.0,1438.8 429.0,1437.7 430.0,1439.1 431.0,1432.2 432.0,1430.2 433.0,1438.6 434.0,1440.0 435.0,1434.4 436.0,1437.1 437.0,1438.1 438.0,1432.8 439.0,1436.6 440.0,1434.9 441.0,1441.9 442.0,1441.3 443.0,1443.5 444.0,1433.4 445.0,1431.2 446.0,1430.7 447.0,1427.7 448.0,1428.3 449.0,1428.6 450.0,1423.6 451.0,1432.4 452.0,1426.6 453.0,1427.0 454.0,1428.3 455.0,1437.2 456.0,1432.3 457.0,1435.6 458.0,1436.4 459.0,1440.6 460.0,1437.1 461.0,1431.2 462.0,1428.1 463.0,1424.1 464.0,1418.1 465.0,1420.3 466.0,1428.3 467.0,1429.0 468.0,1431.9 469.0,1436.4 470.0,1432.9 471.0,1426.2 472.0,1432.2 473.0,1419.3 474.0,1421.0 475.0,1428.3 476.0,1429.8 477.0,1426.1 478.0,1428.0 479.0,1427.9 480.0,1416.8 481.0,1412.9 482.0,1400.5 483.0,1405.1 484.0,1403.4 485.0,1411.3 486.0,1411.9 487.0,1413.2 488.0,1410.9 489.0,1404.7 490.0,1401.6 491.0,1402.4 492.0,1405.0 493.0,1399.3 494.0,1403.8 495.0,1410.3 496.0,1402.3 497.0,1398.0 498.0,1400.7 499.0,1401.6 500.0,1394.5 501.0,1396.0 502.0,1399.5 503.0,1401.6 504.0,1393.2 505.0,1390.5 506.0,1389.9 507.0,1387.2 508.0,1381.4 509.0,1378.5 510.0,1381.8 511.0,1375.6 512.0,1380.3 513.0,1383.9 514.0,1379.3 515.0,1378.9 516.0,1376.2 517.0,1369.9 518.0,1361.1 519.0,1363.9 520.0,1365.3 521.0,1372.5 522.0,1365.1 523.0,1377.2 524.0,1373.0 525.0,1368.8 526.0,1373.9 527.0,1367.5 528.0,1362.5 529.0,1366.2 530.0,1369.7 531.0,1365.9 532.0,1365.0 533.0,1360.5 534.0,1364.5 535.0,1367.0 536.0,1365.1 537.0,1373.5 538.0,1366.6 539.0,1362.4 540.0,1363.0 541.0,1355.0 542.0,1357.0 543.0,1355.3 544.0,1358.5 545.0,1353.3 546.0,1350.0 547.0,1345.2 548.0,1347.6 549.0,1350.6 550.0,1353.9 551.0,1355.8 552.0,1361.0 553.0,1353.4 554.0,1349.0 555.0,1348.2 556.0,1348.5 557.0,1338.7 558.0,1342.1 559.0,1342.8 560.0,1339.3 561.0,1342.7 562.0,1344.9 563.0,1350.5 564.0,1345.3 565.0,1348.6 566.0,1338.4 567.0,1332.5 568.0,1323.5 569.0,1333.9 570.0,1334.2 571.0,1330.5 572.0,1339.1 573.0,1341.3 574.0,1334.7 575.0,1328.0 576.0,1325.2 577.0,1313.3 578.0,1307.6 579.0,1301.6 580.0,1306.8 581.0,1300.7 582.0,1303.2 583.0,1298.7 584.0,1293.2 585.0,1294.0 586.0,1293.6 587.0,1289.4 588.0,1290.6 589.0,1293.3 590.0,1290.2 591.0,1287.4 592.0,1284.3 593.0,1281.5 594.0,1278.7 595.0,1274.7 596.0,1271.8 597.0,1266.0 598.0,1265.3 599.0,1261.7 600.0,1261.3 601.0,1264.3 602.0,1259.0 603.0,1263.3 604.0,1260.8 605.0,1258.8 606.0,1259.7 607.0,1264.0 608.0,1271.5 609.0,1266.4 610.0,1272.5 611.0,1267.3 612.0,1265.9 613.0,1260.9 614.0,1263.1 615.0,1267.3 616.0,1266.6 617.0,1264.7 618.0,1265.3 619.0,1258.0 620.0,1260.3 621.0,1259.9 622.0,1268.6 623.0,1271.2 624.0,1277.5 625.0,1272.9 626.0,1274.9 627.0,1275.1 628.0,1274.1 629.0,1276.5 630.0,1279.1 631.0,1281.4 632.0,1278.3 633.0,1277.8 634.0,1283.5 635.0,1283.5 636.0,1283.4 637.0,1282.8 638.0,1288.8 639.0,1294.0 640.0,1295.6 641.0,1299.8 642.0,1292.4 643.0,1285.7 644.0,1282.0 645.0,1281.9 646.0,1274.8 647.0,1277.3 648.0,1282.8 649.0,1280.4 650.0,1280.8 651.0,1285.7 652.0,1283.7 653.0,1283.1 654.0,1285.4 655.0,1292.8 656.0,1293.9 657.0,1297.0 658.0,1293.4 659.0,1292.1 660.0,1291.3 661.0,1297.2 662.0,1304.5 663.0,1311.8 664.0,1318.1 665.0,1320.5 666.0,1327.6 667.0,1324.5 668.0,1324.7 669.0,1338.1 670.0,1326.5 671.0,1338.4 672.0,1338.0 673.0,1339.5 674.0,1343.0 675.0,1346.4 676.0,1342.4 677.0,1348.2 678.0,1345.7 679.0,1345.3 680.0,1339.0 681.0,1344.6 682.0,1345.9 683.0,1352.9 684.0,1352.8 685.0,1362.0 686.0,1362.8 687.0,1356.1 688.0,1358.2 689.0,1347.8 690.0,1338.5 691.0,1354.5 692.0,1356.7 693.0,1354.7 694.0,1357.2 695.0,1362.0 696.0,1360.2 697.0,1362.7 698.0,1366.8 699.0,1372.4 700.0,1368.3 701.0,1366.3 702.0,1367.5 703.0,1374.4 704.0,1380.0 705.0,1382.1 706.0,1384.3 707.0,1383.6 708.0,1386.8 709.0,1385.2 710.0,1387.7 711.0,1388.1 712.0,1386.3 713.0,1388.9 714.0,1386.1 715.0,1388.0 716.0,1391.8 717.0,1400.2 718.0,1402.3 719.0,1405.1 720.0,1409.3 721.0,1415.9 722.0,1412.6 723.0,1406.1 724.0,1409.0 725.0,1402.2 726.0,1399.4 727.0,1409.7 728.0,1413.6 729.0,1406.8 730.0,1409.8 731.0,1414.4 732.0,1395.3 733.0,1402.7 734.0,1401.9 735.0,1406.1 736.0,1404.1 737.0,1407.6 738.0,1404.4 739.0,1404.8 740.0,1404.1 741.0,1413.0 742.0,1406.4 743.0,1406.0 744.0,1411.3 745.0,1412.9 746.0,1414.6 747.0,1414.7 748.0,1413.9 749.0,1413.5 750.0,1412.8 751.0,1416.2 752.0,1417.2 753.0,1418.7 754.0,1414.5 755.0,1408.6 756.0,1407.9 757.0,1413.5 758.0,1420.2 759.0,1424.1 760.0,1419.3 761.0,1426.8 762.0,1422.9 763.0,1417.1 764.0,1416.8 765.0,1419.7 766.0,1416.7 767.0,1415.4 768.0,1410.5 769.0,1412.6 770.0,1416.2 771.0,1422.1 772.0,1428.0 773.0,1428.6 774.0,1431.4 775.0,1424.9 776.0,1425.8 777.0,1423.5 778.0,1418.4 779.0,1421.1 780.0,1419.5 781.0,1422.1 782.0,1420.1 783.0,1421.1 784.0,1419.4 785.0,1420.0 786.0,1423.8 787.0,1419.1 788.0,1426.8 789.0,1427.4 790.0,1433.0 791.0,1425.0 792.0,1431.8 793.0,1440.4 794.0,1437.4 795.0,1440.0 796.0,1440.1 797.0,1444.7 798.0,1447.7 799.0,1438.8 800.0,1431.7 801.0,1430.6 802.0,1429.4 803.0,1426.9 804.0,1433.4 805.0,1443.4 806.0,1444.6 807.0,1443.3 808.0,1451.2 809.0,1446.1 810.0,1436.9 811.0,1430.8 812.0,1431.2 813.0,1427.4 814.0,1426.9 815.0,1433.6 816.0,1431.2 817.0,1434.3 818.0,1436.7 819.0,1435.8 820.0,1424.0 821.0,1432.7 822.0,1411.5 823.0,1414.3 824.0,1423.6 825.0,1425.5 826.0,1424.1 827.0,1426.5 828.0,1428.4 829.0,1426.3 830.0,1429.7 831.0,1427.0 832.0,1424.2 833.0,1429.0 834.0,1421.6 835.0,1421.6 836.0,1421.0 837.0,1424.9 838.0,1426.3 839.0,1428.7 840.0,1428.0 841.0,1430.7 842.0,1436.9 843.0,1421.3 844.0,1425.3 845.0,1421.4 846.0,1422.9 847.0,1418.5 848.0,1424.7 849.0,1425.2 850.0,1423.6 851.0,1418.7 852.0,1420.5 853.0,1419.5 854.0,1422.8 855.0,1417.7 856.0,1414.8 857.0,1411.7 858.0,1409.2 859.0,1405.1 860.0,1408.2 861.0,1409.9 862.0,1414.7 863.0,1410.3 864.0,1416.1 865.0,1418.3 866.0,1417.4 867.0,1415.0 868.0,1413.1 869.0,1411.7 870.0,1405.4 871.0,1407.5 872.0,1411.1 873.0,1409.8 874.0,1409.8 875.0,1410.3 876.0,1400.9 877.0,1401.9 878.0,1405.2 879.0,1405.5 880.0,1408.2 881.0,1424.0 882.0,1404.8 883.0,1411.2 884.0,1413.5 885.0,1414.8 886.0,1412.7 887.0,1413.8 888.0,1405.6 889.0,1401.5 890.0,1403.8 891.0,1402.9 892.0,1400.5 893.0,1405.4 894.0,1406.0 895.0,1394.6 896.0,1394.1 897.0,1400.7 898.0,1398.5 899.0,1403.1 900.0,1414.0 901.0,1408.6 902.0,1414.6 903.0,1411.4 904.0,1414.3 905.0,1418.2 906.0,1421.9 907.0,1425.4 908.0,1426.2 909.0,1421.5 910.0,1416.3 911.0,1413.4 912.0,1407.0 913.0,1412.2 914.0,1410.4 915.0,1406.0 916.0,1405.9 917.0,1415.5 918.0,1407.0 919.0,1406.0 920.0,1411.4 921.0,1407.4 922.0,1402.6 923.0,1411.9 924.0,1413.6 925.0,1406.8 926.0,1417.0 927.0,1414.7 928.0,1410.9 929.0,1406.3 930.0,1409.4 931.0,1408.5 932.0,1403.4 933.0,1405.0 934.0,1414.1 935.0,1406.1 936.0,1409.3 937.0,1406.7 938.0,1408.0 939.0,1402.5 940.0,1405.3 941.0,1409.5 942.0,1408.8 943.0,1405.8 944.0,1404.9 945.0,1401.8 946.0,1394.4 947.0,1398.1 948.0,1397.6 949.0,1400.6 950.0,1410.1 951.0,1411.1 952.0,1414.0 953.0,1414.7 954.0,1410.4 955.0,1403.0 956.0,1392.5 957.0,1397.4 958.0,1391.0 959.0,1393.9 960.0,1389.5 961.0,1398.2 962.0,1398.6 963.0,1394.8 964.0,1395.7 965.0,1397.6 966.0,1400.3 967.0,1397.4 968.0,1400.4 969.0,1408.2 970.0,1408.3 971.0,1406.8 972.0,1413.0 973.0,1408.4 974.0,1406.5 975.0,1405.4 976.0,1401.9 977.0,1400.1 978.0,1404.1 979.0,1402.2 980.0,1404.6 981.0,1396.0 982.0,1405.5 983.0,1395.3 984.0,1395.5 985.0,1392.4 986.0,1395.2 987.0,1387.7 988.0,1401.3 989.0,1398.0 990.0,1391.1 991.0,1401.6 992.0,1404.4 993.0,1394.2 994.0,1399.5 995.0,1398.0 996.0,1394.8 997.0,1396.7 998.0,1394.5 999.0,1390.7 1000.0,1393.6 1001.0,1395.9 1002.0,1393.8 1003.0,1400.7 1004.0,1400.1 1005.0,1403.2 1006.0,1398.4 1007.0,1402.2 1008.0,1394.0 1009.0,1390.9 1010.0,1388.1 1011.0,1389.9 1012.0,1391.1 1013.0,1390.6 1014.0,1396.7 1015.0,1404.8 1016.0,1408.6 1017.0,1406.5 1018.0,1399.2 1019.0,1391.4 1020.0,1388.2 1021.0,1386.9 1022.0,1377.3 1023.0,1388.6 1024.0,1394.8 1025.0,1393.8 1026.0,1396.6 1027.0,1389.7 1028.0,1386.6 1029.0,1386.3 1030.0,1379.2 1031.0,1378.5 1032.0,1386.7 1033.0,1383.2 1034.0,1381.1 1035.0,1386.6 1036.0,1387.2 1037.0,1389.1 1038.0,1393.3 1039.0,1398.8 1040.0,1397.4 1041.0,1391.9 1042.0,1391.4 1043.0,1386.9 1044.0,1387.9 1045.0,1385.3 1046.0,1384.4 1047.0,1382.4 1048.0,1382.0 1049.0,1379.0 1050.0,1370.5 1051.0,1383.5 1052.0,1386.9 1053.0,1393.7" fill="none" stroke="#000" stroke-width="3.6" stroke-linejoin="round" stroke-linecap="round"/>
<polyline points="1195.5,1110.2 1196.5,1110.8 1197.5,1110.3 1198.5,1109.3 1199.5,1110.0 1200.5,1109.8 1201.5,1109.2 1202.5,1109.5 1203.5,1109.8 1204.5,1110.2 1205.5,1109.6 1206.5,1109.9 1207.5,1110.6 1208.5,1110.1 1209.5,1109.6 1210.5,1109.6 1211.5,1109.2 1212.5,1109.1 1213.5,1109.6 1214.5,1109.9 1215.5,1109.9 1216.5,1109.5 1217.5,1109.7 1218.5,1110.2 1219.5,1110.4 1220.5,1109.9 1221.5,1109.5 1222.5,1110.1 1223.5,1110.3 1224.5,1109.2 1225.5,1109.3 1226.5,1109.0 1227.5,1108.7 1228.5,1109.7 1229.5,1109.9 1230.5,1109.5 1231.5,1109.8 1232.5,1110.5 1233.5,1109.7 1234.5,1108.8 1235.5,1108.9 1236.5,1108.8 1237.5,1109.3 1238.5,1110.1 1239.5,1109.9 1240.5,1109.1 1241.5,1108.5 1242.5,1108.8 1243.5,1109.2 1244.5,1109.4 1245.5,1109.2 1246.5,1108.8 1247.5,1109.1 1248.5,1109.8 1249.5,1110.3 1250.5,1110.0 1251.5,1109.8 1252.5,1109.9 1253.5,1109.0 1254.5,1109.1 1255.5,1109.7 1256.5,1110.0 1257.5,1110.5 1258.5,1110.3 1259.5,1109.7 1260.5,1110.4 1261.5,1110.9 1262.5,1109.8 1263.5,1109.3 1264.5,1109.3 1265.5,1108.7 1266.5,1109.1 1267.5,1110.2 1268.5,1109.6 1269.5,1109.9 1270.5,1110.1 1271.5,1109.8 1272.5,1109.3 1273.5,1109.2 1274.5,1109.0 1275.5,1108.3 1276.5,1108.9 1277.5,1109.1 1278.5,1108.4 1279.5,1108.6 1280.5,1108.4 1281.5,1109.1 1282.5,1109.5 1283.5,1108.4 1284.5,1109.4 1285.5,1109.2 1286.5,1107.6 1287.5,1108.2 1288.5,1109.0 1289.5,1109.4 1290.5,1109.4 1291.5,1108.3 1292.5,1108.4 1293.5,1108.9 1294.5,1109.4 1295.5,1109.6 1296.5,1108.7 1297.5,1108.2 1298.5,1108.6 1299.5,1108.7 1300.5,1108.8 1301.5,1109.0 1302.5,1108.4 1303.5,1108.4 1304.5,1109.2 1305.5,1108.6 1306.5,1107.6 1307.5,1108.4 1308.5,1109.2 1309.5,1109.3 1310.5,1109.8 1311.5,1109.3 1312.5,1108.1 1313.5,1108.2 1314.5,1108.3 1315.5,1108.4 1316.5,1108.9 1317.5,1108.8 1318.5,1108.7 1319.5,1108.6 1320.5,1108.4 1321.5,1107.9 1322.5,1108.5 1323.5,1108.6 1324.5,1107.7 1325.5,1107.7 1326.5,1107.7 1327.5,1107.8 1328.5,1107.0 1329.5,1107.8 1330.5,1108.7 1331.5,1107.9 1332.5,1107.7 1333.5,1108.2 1334.5,1108.5 1335.5,1108.1 1336.5,1108.0 1337.5,1106.7 1338.5,1106.6 1339.5,1107.5 1340.5,1106.7 1341.5,1106.2 1342.5,1106.4 1343.5,1106.0 1344.5,1106.0 1345.5,1106.3 1346.5,1106.3 1347.5,1105.7 1348.5,1105.5 1349.5,1105.9 1350.5,1105.1 1351.5,1105.6 1352.5,1106.4 1353.5,1105.3 1354.5,1104.6 1355.5,1105.4 1356.5,1105.4 1357.5,1104.4 1358.5,1103.7 1359.5,1103.5 1360.5,1103.9 1361.5,1104.4 1362.5,1103.8 1363.5,1102.8 1364.5,1102.4 1365.5,1101.8 1366.5,1102.1 1367.5,1102.6 1368.5,1102.6 1369.5,1103.3 1370.5,1103.1 1371.5,1101.7 1372.5,1100.6 1373.5,1099.9 1374.5,1098.7 1375.5,1099.6 1376.5,1100.2 1377.5,1098.2 1378.5,1097.8 1379.5,1097.0 1380.5,1095.9 1381.5,1096.2 1382.5,1095.2 1383.5,1094.1 1384.5,1093.8 1385.5,1092.9 1386.5,1092.0 1387.5,1090.3 1388.5,1088.5 1389.5,1088.7 1390.5,1087.1 1391.5,1084.5 1392.5,1083.4 1393.5,1081.9 1394.5,1080.3 1395.5,1079.0 1396.5,1077.2 1397.5,1074.8 1398.5,1072.2 1399.5,1069.9 1400.5,1068.0 1401.5,1065.0 1402.5,1061.8 1403.5,1059.0 1404.5,1056.3 1405.5,1053.9 1406.5,1050.6 1407.5,1047.0 1408.5,1043.6 1409.5,1041.1 1410.5,1037.8 1411.5,1034.4 1412.5,1030.8 1413.5,1026.6 1414.5,1023.6 1415.5,1019.9 1416.5,1016.5 1417.5,1012.2 1418.5,1008.2 1419.5,1005.4 1420.5,1001.8 1421.5,998.8 1422.5,995.0 1423.5,992.8 1424.5,990.7 1425.5,988.3 1426.5,986.6 1427.5,983.6 1428.5,981.0 1429.5,980.3 1430.5,980.4 1431.5,979.6 1432.5,978.5 1433.5,977.5 1434.5,978.7 1435.5,980.7 1436.5,982.7 1437.5,984.7 1438.5,986.1 1439.5,987.4 1440.5,990.8 1441.5,993.8 1442.5,996.6 1443.5,1001.2 1444.5,1004.5 1445.5,1007.3 1446.5,1011.2 1447.5,1014.7 1448.5,1018.5 1449.5,1022.5 1450.5,1026.0 1451.5,1030.2 1452.5,1034.2 1453.5,1036.7 1454.5,1040.5 1455.5,1044.5 1456.5,1047.2 1457.5,1050.1 1458.5,1053.7 1459.5,1057.1 1460.5,1059.5 1461.5,1062.0 1462.5,1065.7 1463.5,1068.6 1464.5,1070.5 1465.5,1074.2 1466.5,1076.8 1467.5,1078.3 1468.5,1080.3 1469.5,1082.0 1470.5,1083.4 1471.5,1085.5 1472.5,1087.8 1473.5,1088.8 1474.5,1090.2 1475.5,1092.8 1476.5,1094.4 1477.5,1095.0 1478.5,1095.9 1479.5,1096.9 1480.5,1098.5 1481.5,1100.2 1482.5,1101.1 1483.5,1102.1 1484.5,1102.6 1485.5,1102.8 1486.5,1104.2 1487.5,1105.6 1488.5,1105.9 1489.5,1106.5 1490.5,1106.9 1491.5,1107.5 1492.5,1109.0 1493.5,1108.9 1494.5,1108.9 1495.5,1109.8 1496.5,1109.7 1497.5,1109.6 1498.5,1109.9 1499.5,1110.6 1500.5,1111.4 1501.5,1110.9 1502.5,1110.4 1503.5,1111.2 1504.5,1111.4 1505.5,1111.2 1506.5,1112.0 1507.5,1112.2 1508.5,1112.4 1509.5,1112.5 1510.5,1112.2 1511.5,1111.9 1512.5,1111.1 1513.5,1111.3 1514.5,1111.6 1515.5,1112.2 1516.5,1113.4 1517.5,1113.3 1518.5,1113.5 1519.5,1114.3 1520.5,1113.1 1521.5,1112.3 1522.5,1113.4 1523.5,1113.4 1524.5,1113.1 1525.5,1113.7 1526.5,1114.0 1527.5,1113.0 1528.5,1113.5 1529.5,1113.8 1530.5,1113.3 1531.5,1113.9 1532.5,1113.2 1533.5,1113.7 1534.5,1114.7 1535.5,1114.2 1536.5,1114.3 1537.5,1114.1 1538.5,1114.1 1539.5,1114.5 1540.5,1113.3 1541.5,1112.6 1542.5,1113.9 1543.5,1114.0 1544.5,1113.9 1545.5,1114.3 1546.5,1114.4 1547.5,1113.7 1548.5,1113.5 1549.5,1114.3 1550.5,1114.4 1551.5,1114.5 1552.5,1114.5 1553.5,1114.5 1554.5,1114.7 1555.5,1114.4 1556.5,1114.8 1557.5,1115.1 1558.5,1114.2 1559.5,1114.5 1560.5,1114.2 1561.5,1114.4 1562.5,1114.9 1563.5,1114.4 1564.5,1114.6 1565.5,1114.8 1566.5,1114.5 1567.5,1114.2 1568.5,1114.6 1569.5,1114.5 1570.5,1114.4 1571.5,1114.6 1572.5,1114.5 1573.5,1114.2 1574.5,1114.0 1575.5,1114.2 1576.5,1114.0 1577.5,1113.7 1578.5,1115.4 1579.5,1115.9 1580.5,1115.2 1581.5,1115.3 1582.5,1115.2 1583.5,1115.2 1584.5,1115.3 1585.5,1115.4 1586.5,1115.1 1587.5,1114.5 1588.5,1114.8 1589.5,1115.2 1590.5,1114.8 1591.5,1115.1 1592.5,1115.2 1593.5,1115.0 1594.5,1115.5 1595.5,1115.1 1596.5,1113.8 1597.5,1114.0 1598.5,1113.9 1599.5,1114.0 1600.5,1115.5 1601.5,1116.2 1602.5,1115.2 1603.5,1114.7 1604.5,1114.7 1605.5,1114.7 1606.5,1115.8 1607.5,1115.4 1608.5,1115.4 1609.5,1115.8 1610.5,1116.3 1611.5,1115.9 1612.5,1114.5 1613.5,1115.3 1614.5,1116.0 1615.5,1115.8 1616.5,1115.1 1617.5,1114.9 1618.5,1115.0 1619.5,1115.6 1620.5,1116.1 1621.5,1115.2 1622.5,1114.6 1623.5,1114.2 1624.5,1114.3 1625.5,1114.9 1626.5,1115.4 1627.5,1115.8 1628.5,1115.5 1629.5,1115.5 1630.5,1114.9 1631.5,1114.3 1632.5,1115.5 1633.5,1115.3 1634.5,1115.1 1635.5,1115.7 1636.5,1115.3 1637.5,1115.1 1638.5,1115.8 1639.5,1115.2 1640.5,1115.2 1641.5,1115.7 1642.5,1114.6 1643.5,1114.8 1644.5,1115.7 1645.5,1115.5 1646.5,1115.3 1647.5,1115.6 1648.5,1115.5 1649.5,1115.3 1650.5,1115.7 1651.5,1115.9 1652.5,1115.6 1653.5,1114.5 1654.5,1113.9 1655.5,1114.5 1656.5,1115.6 1657.5,1115.9 1658.5,1116.2 1659.5,1116.2 1660.5,1115.6 1661.5,1115.3 1662.5,1115.6 1663.5,1115.2 1664.5,1114.8 1665.5,1115.3 1666.5,1114.9 1667.5,1115.4 1668.5,1115.9 1669.5,1115.6 1670.5,1115.2 1671.5,1114.4 1672.5,1114.0 1673.5,1113.5 1674.5,1113.5 1675.5,1114.7 1676.5,1115.9 1677.5,1115.3 1678.5,1115.2 1679.5,1116.4 1680.5,1116.4 1681.5,1116.3 1682.5,1115.8 1683.5,1114.9 1684.5,1115.0 1685.5,1115.6 1686.5,1115.7 1687.5,1115.4 1688.5,1115.5 1689.5,1115.0 1690.5,1115.0 1691.5,1114.6 1692.5,1114.8 1693.5,1116.2 1694.5,1116.6 1695.5,1115.6 1696.5,1114.4 1697.5,1114.3 1698.5,1113.9 1699.5,1113.4 1700.5,1114.3 1701.5,1115.2 1702.5,1114.8 1703.5,1114.1 1704.5,1114.2 1705.5,1115.8 1706.5,1115.8 1707.5,1115.3 1708.5,1114.7 1709.5,1114.8 1710.5,1115.3 1711.5,1114.9 1712.5,1115.0 1713.5,1114.8 1714.5,1115.0 1715.5,1115.0 1716.5,1114.5 1717.5,1114.1 1718.5,1113.8 1719.5,1114.6 1720.5,1115.5 1721.5,1115.1 1722.5,1114.5 1723.5,1114.3 1724.5,1114.5 1725.5,1115.3 1726.5,1115.3 1727.5,1114.4 1728.5,1114.8 1729.5,1115.3 1730.5,1114.1 1731.5,1113.5 1732.5,1114.8 1733.5,1115.1 1734.5,1114.6 1735.5,1114.5 1736.5,1114.0 1737.5,1113.3 1738.5,1113.8 1739.5,1114.3 1740.5,1115.0 1741.5,1114.9 1742.5,1114.3 1743.5,1115.0 1744.5,1114.6 1745.5,1113.8 1746.5,1114.0 1747.5,1114.2 1748.5,1114.2 1749.5,1114.4 1750.5,1113.7 1751.5,1112.8 1752.5,1113.3 1753.5,1113.1 1754.5,1113.8 1755.5,1114.1 1756.5,1113.1 1757.5,1113.7 1758.5,1114.0 1759.5,1114.0 1760.5,1113.8 1761.5,1112.9 1762.5,1112.8 1763.5,1113.0 1764.5,1112.3 1765.5,1112.4 1766.5,1113.5 1767.5,1113.2 1768.5,1112.4 1769.5,1112.4 1770.5,1113.0 1771.5,1112.4 1772.5,1112.2 1773.5,1113.0 1774.5,1112.7 1775.5,1112.2 1776.5,1112.1 1777.5,1113.2 1778.5,1113.4 1779.5,1112.3 1780.5,1112.5 1781.5,1112.0 1782.5,1112.1 1783.5,1112.5 1784.5,1113.0 1785.5,1113.9 1786.5,1113.0 1787.5,1112.1 1788.5,1111.6 1789.5,1111.6 1790.5,1111.9 1791.5,1111.0 1792.5,1109.9 1793.5,1110.6 1794.5,1110.9 1795.5,1110.6 1796.5,1110.7 1797.5,1110.6 1798.5,1110.3 1799.5,1110.3 1800.5,1110.9 1801.5,1111.1 1802.5,1110.1 1803.5,1109.2 1804.5,1109.1 1805.5,1108.0 1806.5,1107.0 1807.5,1107.1 1808.5,1107.6 1809.5,1107.5 1810.5,1106.5 1811.5,1105.9 1812.5,1105.6 1813.5,1104.5 1814.5,1104.4 1815.5,1103.2 1816.5,1101.1 1817.5,1101.9 1818.5,1102.1 1819.5,1100.8 1820.5,1099.9 1821.5,1098.4 1822.5,1097.0 1823.5,1095.5 1824.5,1095.1 1825.5,1094.3 1826.5,1093.0 1827.5,1092.4 1828.5,1091.1 1829.5,1089.7 1830.5,1088.9 1831.5,1087.5 1832.5,1085.3 1833.5,1083.4 1834.5,1082.0 1835.5,1080.7 1836.5,1077.7 1837.5,1075.1 1838.5,1072.9 1839.5,1070.1 1840.5,1067.1 1841.5,1065.3 1842.5,1063.0 1843.5,1058.2 1844.5,1055.2 1845.5,1053.5 1846.5,1049.6 1847.5,1045.2 1848.5,1041.4 1849.5,1037.9 1850.5,1033.5 1851.5,1029.1 1852.5,1024.4 1853.5,1020.3 1854.5,1015.9 1855.5,1010.5 1856.5,1006.4 1857.5,1002.2 1858.5,996.8 1859.5,991.2 1860.5,987.2 1861.5,982.2 1862.5,976.2 1863.5,971.4 1864.5,967.2 1865.5,962.9 1866.5,958.4 1867.5,953.9 1868.5,949.0 1869.5,945.1 1870.5,941.8 1871.5,937.8 1872.5,934.2 1873.5,932.0 1874.5,930.8 1875.5,928.9 1876.5,927.0 1877.5,926.4 1878.5,926.3 1879.5,926.8 1880.5,927.0 1881.5,926.9 1882.5,929.4 1883.5,932.0 1884.5,934.5 1885.5,938.7 1886.5,942.4 1887.5,945.6 1888.5,949.6 1889.5,954.8 1890.5,959.6 1891.5,964.6 1892.5,968.9 1893.5,973.2 1894.5,978.6 1895.5,984.0 1896.5,989.8 1897.5,995.4 1898.5,1000.2 1899.5,1005.7 1900.5,1011.0 1901.5,1014.8 1902.5,1020.0 1903.5,1024.7 1904.5,1028.3 1905.5,1033.2 1906.5,1038.0 1907.5,1042.4 1908.5,1046.8 1909.5,1050.5 1910.5,1054.0 1911.5,1058.4 1912.5,1062.4 1913.5,1065.4 1914.5,1068.2 1915.5,1071.4 1916.5,1074.3 1917.5,1076.5 1918.5,1080.0 1919.5,1083.4 1920.5,1085.2 1921.5,1087.8 1922.5,1090.0 1923.5,1091.6 1924.5,1093.7 1925.5,1095.2 1926.5,1096.7 1927.5,1098.8 1928.5,1100.6 1929.5,1100.4 1930.5,1101.5 1931.5,1102.5 1932.5,1102.8 1933.5,1104.9 1934.5,1105.7 1935.5,1106.8 1936.5,1107.8 1937.5,1108.1 1938.5,1108.9 1939.5,1109.5 1940.5,1110.4 1941.5,1109.8 1942.5,1109.6 1943.5,1110.6 1944.5,1111.3 1945.5,1111.7 1946.5,1111.4 1947.5,1110.7 1948.5,1110.3 1949.5,1110.7 1950.5,1111.6 1951.5,1112.2 1952.5,1112.8 1953.5,1113.0 1954.5,1112.8 1955.5,1112.2 1956.5,1112.1 1957.5,1112.6 1958.5,1112.4 1959.5,1113.3 1960.5,1113.7 1961.5,1113.2 1962.5,1113.4 1963.5,1113.0 1964.5,1112.4 1965.5,1113.9 1966.5,1114.7 1967.5,1114.0 1968.5,1114.2 1969.5,1114.1 1970.5,1114.0 1971.5,1113.9 1972.5,1114.3 1973.5,1114.7 1974.5,1115.1 1975.5,1115.9 1976.5,1115.1 1977.5,1114.8 1978.5,1115.1 1979.5,1115.8 1980.5,1116.2 1981.5,1115.7 1982.5,1115.5 1983.5,1115.7 1984.5,1115.6 1985.5,1114.6 1986.5,1114.0 1987.5,1114.5 1988.5,1115.5 1989.5,1115.6 1990.5,1115.5 1991.5,1115.4 1992.5,1115.8 1993.5,1115.4 1994.5,1116.3 1995.5,1117.8 1996.5,1117.1 1997.5,1116.5 1998.5,1116.7 1999.5,1116.8 2000.5,1116.2 2001.5,1116.1 2002.5,1117.2 2003.5,1117.1 2004.5,1116.3 2005.5,1116.0 2006.5,1115.9 2007.5,1115.4 2008.5,1115.6 2009.5,1117.1 2010.5,1117.3 2011.5,1116.9 2012.5,1116.8 2013.5,1116.8 2014.5,1116.4 2015.5,1115.6 2016.5,1116.9 2017.5,1117.9 2018.5,1116.2 2019.5,1116.7 2020.5,1117.5 2021.5,1117.3 2022.5,1117.4 2023.5,1116.7 2024.5,1117.2 2025.5,1117.3 2026.5,1115.9 2027.5,1116.4 2028.5,1117.4 2029.5,1117.1 2030.5,1117.1 2031.5,1117.3 2032.5,1118.1 2033.5,1118.4 2034.5,1117.9 2035.5,1117.5 2036.5,1117.1 2037.5,1117.8 2038.5,1117.3 2039.5,1116.2 2040.5,1117.0 2041.5,1117.5 2042.5,1117.7 2043.5,1117.5 2044.5,1118.2 2045.5,1118.9 2046.5,1117.3 2047.5,1116.4 2048.5,1116.6 2049.5,1117.6 2050.5,1118.1 2051.5,1116.8 2052.5,1116.9 2053.5,1117.0 2054.5,1117.2 2055.5,1118.0 2056.5,1117.5 2057.5,1117.3 2058.5,1118.0 2059.5,1117.6 2060.5,1117.7 2061.5,1117.7 2062.5,1117.8 2063.5,1118.1 2064.5,1117.6 2065.5,1118.3 2066.5,1118.9 2067.5,1118.2 2068.5,1116.4 2069.5,1116.7 2070.5,1117.8 2071.5,1117.9 2072.5,1118.1 2073.5,1117.8 2074.5,1117.7 2075.5,1118.4 2076.5,1119.2 2077.5,1119.2 2078.5,1118.0 2079.5,1117.3 2080.5,1117.9 2081.5,1117.2 2082.5,1117.6 2083.5,1118.0 2084.5,1118.0 2085.5,1118.2 2086.5,1118.0 2087.5,1117.4 2088.5,1116.2 2089.5,1116.6 2090.5,1117.1 2091.5,1116.9 2092.5,1117.2 2093.5,1117.9 2094.5,1118.5 2095.5,1118.0 2096.5,1117.0 2097.5,1117.3 2098.5,1117.5 2099.5,1117.0 2100.5,1117.3 2101.5,1118.3 2102.5,1118.6 2103.5,1117.3 2104.5,1118.0 2105.5,1118.3 2106.5,1117.5 2107.5,1117.8 2108.5,1118.1 2109.5,1118.7 2110.5,1118.8 2111.5,1118.7 2112.5,1118.1 2113.5,1118.6 2114.5,1117.8 2115.5,1116.7 2116.5,1116.9 2117.5,1117.4 2118.5,1117.9 2119.5,1117.6 2120.5,1118.1 2121.5,1118.7 2122.5,1118.2 2123.5,1117.4 2124.5,1118.5 2125.5,1119.3 2126.5,1118.1 2127.5,1118.0 2128.5,1118.5 2129.5,1118.1 2130.5,1118.3 2131.5,1118.6 2132.5,1118.1 2133.5,1118.6 2134.5,1118.6 2135.5,1118.7 2136.5,1118.9 2137.5,1118.3 2138.5,1118.7 2139.5,1118.7 2140.5,1118.4 2141.5,1119.2 2142.5,1118.8 2143.5,1117.9 2144.5,1118.4 2145.5,1119.1 2146.5,1117.9" fill="none" stroke="#ff0000" stroke-width="4.2" stroke-linejoin="round" stroke-linecap="round"/>
<polyline points="1360.5,1108.5 1361.5,1108.5 1362.5,1108.5 1363.5,1108.5 1364.5,1108.5 1365.5,1108.5 1366.5,1108.5 1367.5,1108.5 1368.5,1108.5 1369.5,1108.5 1370.5,1108.5 1371.5,1108.5 1372.5,1108.5 1373.5,1108.5 1374.5,1108.6 1375.5,1108.6 1376.5,1108.6 1377.5,1108.6 1378.5,1108.6 1379.5,1108.6 1380.5,1108.6 1381.5,1108.6 1382.5,1108.6 1383.5,1108.6 1384.5,1108.6 1385.5,1108.6 1386.5,1108.6 1387.5,1108.6 1388.5,1108.6 1389.5,1108.6 1390.5,1108.6 1391.5,1108.6 1392.5,1108.7 1393.5,1108.7 1394.5,1108.7 1395.5,1108.7 1396.5,1108.7 1397.5,1108.7 1398.5,1108.8 1399.5,1108.8 1400.5,1108.8 1401.5,1108.8 1402.5,1108.8 1403.5,1108.9 1404.5,1108.9 1405.5,1108.9 1406.5,1109.0 1407.5,1109.0 1408.5,1109.0 1409.5,1109.1 1410.5,1109.1 1411.5,1109.2 1412.5,1109.2 1413.5,1109.2 1414.5,1109.3 1415.5,1109.3 1416.5,1109.4 1417.5,1109.4 1418.5,1109.5 1419.5,1109.6 1420.5,1109.6 1421.5,1109.7 1422.5,1109.7 1423.5,1109.8 1424.5,1109.9 1425.5,1109.9 1426.5,1110.0 1427.5,1110.1 1428.5,1110.1 1429.5,1110.2 1430.5,1110.3 1431.5,1110.3 1432.5,1110.4 1433.5,1110.5 1434.5,1110.5 1435.5,1110.6 1436.5,1110.7 1437.5,1110.7 1438.5,1110.8 1439.5,1110.9 1440.5,1110.9 1441.5,1111.0 1442.5,1111.0 1443.5,1111.1 1444.5,1111.2 1445.5,1111.2 1446.5,1111.3 1447.5,1111.3 1448.5,1111.4 1449.5,1111.4 1450.5,1111.5 1451.5,1111.5 1452.5,1111.6 1453.5,1111.6 1454.5,1111.7 1455.5,1111.7 1456.5,1111.7 1457.5,1111.8 1458.5,1111.8 1459.5,1111.8 1460.5,1111.9 1461.5,1111.9 1462.5,1111.9 1463.5,1112.0 1464.5,1112.0 1465.5,1112.0 1466.5,1112.0 1467.5,1112.0 1468.5,1112.1 1469.5,1112.1 1470.5,1112.1 1471.5,1112.1 1472.5,1112.1 1473.5,1112.1 1474.5,1112.1 1475.5,1112.1 1476.5,1112.2 1477.5,1112.2 1478.5,1112.2 1479.5,1112.2 1480.5,1112.2 1481.5,1112.2 1482.5,1112.2 1483.5,1112.2 1484.5,1112.2 1485.5,1112.2 1486.5,1112.2 1487.5,1112.2 1488.5,1112.2 1489.5,1112.2 1490.5,1112.2 1491.5,1112.2 1492.5,1112.2 1493.5,1112.2 1494.5,1112.2 1495.5,1112.2 1496.5,1112.2 1497.5,1112.2 1498.5,1112.2 1499.5,1112.2 1500.5,1112.2 1501.5,1112.2 1502.5,1112.2 1503.5,1112.2 1504.5,1112.2 1505.5,1112.2 1506.5,1112.2 1507.5,1112.2 1508.5,1112.2 1509.5,1112.2 1510.5,1112.2 1511.5,1112.2 1512.5,1112.2 1513.5,1112.2 1514.5,1112.2 1515.5,1112.2 1516.5,1112.2 1517.5,1112.2 1518.5,1112.2 1519.5,1112.2 1520.5,1112.2 1521.5,1112.2 1522.5,1112.2 1523.5,1112.2 1524.5,1112.2 1525.5,1112.2 1526.5,1112.2 1527.5,1112.2 1528.5,1112.2 1529.5,1112.2 1530.5,1112.2 1531.5,1112.2 1532.5,1112.2 1533.5,1112.1 1534.5,1112.1 1535.5,1112.1 1536.5,1112.1 1537.5,1112.1 1538.5,1112.1 1539.5,1112.1 1540.5,1112.1 1541.5,1112.1 1542.5,1112.1 1543.5,1112.1 1544.5,1112.1 1545.5,1112.1 1546.5,1112.1 1547.5,1112.1 1548.5,1112.1 1549.5,1112.1 1550.5,1112.1 1551.5,1112.1 1552.5,1112.1 1553.5,1112.1 1554.5,1112.1 1555.5,1112.1 1556.5,1112.1 1557.5,1112.1 1558.5,1112.1 1559.5,1112.1 1560.5,1112.1 1561.5,1112.1 1562.5,1112.1 1563.5,1112.1 1564.5,1112.1 1565.5,1112.1 1566.5,1112.1 1567.5,1112.1 1568.5,1112.1 1569.5,1112.1 1570.5,1112.1 1571.5,1112.1 1572.5,1112.1 1573.5,1112.1 1574.5,1112.0 1575.5,1112.0 1576.5,1112.0 1577.5,1112.0 1578.5,1112.0 1579.5,1112.0 1580.5,1112.0 1581.5,1112.0 1582.5,1112.0 1583.5,1112.0 1584.5,1112.0 1585.5,1112.0 1586.5,1112.0 1587.5,1112.0 1588.5,1112.0 1589.5,1112.0 1590.5,1112.0 1591.5,1112.0 1592.5,1112.0 1593.5,1112.0 1594.5,1112.0 1595.5,1112.0 1596.5,1112.0 1597.5,1112.0 1598.5,1112.0 1599.5,1112.0 1600.5,1112.0 1601.5,1112.0 1602.5,1112.0 1603.5,1112.0 1604.5,1111.9 1605.5,1111.9 1606.5,1111.9 1607.5,1111.9 1608.5,1111.9 1609.5,1111.9 1610.5,1111.9 1611.5,1111.9 1612.5,1111.9 1613.5,1111.9 1614.5,1111.9 1615.5,1111.9 1616.5,1111.9 1617.5,1111.9 1618.5,1111.9 1619.5,1111.9 1620.5,1111.9 1621.5,1111.9 1622.5,1111.9 1623.5,1111.9 1624.5,1111.9 1625.5,1111.9 1626.5,1111.8 1627.5,1111.8 1628.5,1111.8 1629.5,1111.8 1630.5,1111.8 1631.5,1111.8 1632.5,1111.8 1633.5,1111.8 1634.5,1111.8 1635.5,1111.8 1636.5,1111.8 1637.5,1111.8 1638.5,1111.8 1639.5,1111.8 1640.5,1111.8 1641.5,1111.8 1642.5,1111.8 1643.5,1111.8 1644.5,1111.7 1645.5,1111.7 1646.5,1111.7 1647.5,1111.7 1648.5,1111.7 1649.5,1111.7 1650.5,1111.7 1651.5,1111.7 1652.5,1111.7 1653.5,1111.7 1654.5,1111.7 1655.5,1111.7 1656.5,1111.7 1657.5,1111.7 1658.5,1111.6 1659.5,1111.6 1660.5,1111.6 1661.5,1111.6 1662.5,1111.6 1663.5,1111.6 1664.5,1111.6 1665.5,1111.6 1666.5,1111.6 1667.5,1111.6 1668.5,1111.6 1669.5,1111.6 1670.5,1111.5 1671.5,1111.5 1672.5,1111.5 1673.5,1111.5 1674.5,1111.5 1675.5,1111.5 1676.5,1111.5 1677.5,1111.5 1678.5,1111.5 1679.5,1111.5 1680.5,1111.4 1681.5,1111.4 1682.5,1111.4 1683.5,1111.4 1684.5,1111.4 1685.5,1111.4 1686.5,1111.4 1687.5,1111.4 1688.5,1111.4 1689.5,1111.3 1690.5,1111.3 1691.5,1111.3 1692.5,1111.3 1693.5,1111.3 1694.5,1111.3 1695.5,1111.3 1696.5,1111.3 1697.5,1111.2 1698.5,1111.2 1699.5,1111.2 1700.5,1111.2 1701.5,1111.2 1702.5,1111.2 1703.5,1111.2 1704.5,1111.1 1705.5,1111.1 1706.5,1111.1 1707.5,1111.1 1708.5,1111.1 1709.5,1111.1 1710.5,1111.1 1711.5,1111.0 1712.5,1111.0 1713.5,1111.0 1714.5,1111.0 1715.5,1111.0 1716.5,1110.9 1717.5,1110.9 1718.5,1110.9 1719.5,1110.9 1720.5,1110.9 1721.5,1110.8 1722.5,1110.8 1723.5,1110.8 1724.5,1110.8 1725.5,1110.8 1726.5,1110.7 1727.5,1110.7 1728.5,1110.7 1729.5,1110.7 1730.5,1110.6 1731.5,1110.6 1732.5,1110.6 1733.5,1110.6 1734.5,1110.5 1735.5,1110.5 1736.5,1110.5 1737.5,1110.5 1738.5,1110.4 1739.5,1110.4 1740.5,1110.4 1741.5,1110.3 1742.5,1110.3 1743.5,1110.3 1744.5,1110.3 1745.5,1110.2 1746.5,1110.2 1747.5,1110.2 1748.5,1110.1 1749.5,1110.1 1750.5,1110.0 1751.5,1110.0 1752.5,1110.0 1753.5,1109.9 1754.5,1109.9 1755.5,1109.9 1756.5,1109.8 1757.5,1109.8 1758.5,1109.7 1759.5,1109.7 1760.5,1109.6 1761.5,1109.6 1762.5,1109.5 1763.5,1109.5 1764.5,1109.4 1765.5,1109.4 1766.5,1109.3 1767.5,1109.3 1768.5,1109.2 1769.5,1109.2 1770.5,1109.1 1771.5,1109.0 1772.5,1109.0 1773.5,1108.9 1774.5,1108.9 1775.5,1108.8 1776.5,1108.7 1777.5,1108.6 1778.5,1108.6 1779.5,1108.5 1780.5,1108.4 1781.5,1108.3 1782.5,1108.3 1783.5,1108.2 1784.5,1108.1 1785.5,1108.0 1786.5,1107.9 1787.5,1107.8 1788.5,1107.7 1789.5,1107.6 1790.5,1107.5 1791.5,1107.4 1792.5,1107.3 1793.5,1107.1 1794.5,1107.0 1795.5,1106.9 1796.5,1106.7 1797.5,1106.6 1798.5,1106.5 1799.5,1106.3 1800.5,1106.1 1801.5,1105.9 1802.5,1105.8 1803.5,1105.6 1804.5,1105.3 1805.5,1105.1 1806.5,1104.9 1807.5,1104.6 1808.5,1104.3 1809.5,1104.0 1810.5,1103.7 1811.5,1103.4 1812.5,1103.0 1813.5,1102.6 1814.5,1102.2 1815.5,1101.7 1816.5,1101.2 1817.5,1100.7 1818.5,1100.1 1819.5,1099.5 1820.5,1098.8 1821.5,1098.1 1822.5,1097.3 1823.5,1096.5 1824.5,1095.5 1825.5,1094.6 1826.5,1093.5 1827.5,1092.3 1828.5,1091.1 1829.5,1089.8 1830.5,1088.4 1831.5,1086.8 1832.5,1085.2 1833.5,1083.5 1834.5,1081.6 1835.5,1079.6 1836.5,1077.5 1837.5,1075.3 1838.5,1072.9 1839.5,1070.4 1840.5,1067.8 1841.5,1065.0 1842.5,1062.1 1843.5,1059.1 1844.5,1055.9 1845.5,1052.5 1846.5,1049.1 1847.5,1045.4 1848.5,1041.7 1849.5,1037.8 1850.5,1033.8 1851.5,1029.7 1852.5,1025.5 1853.5,1021.2 1854.5,1016.8 1855.5,1012.4 1856.5,1007.8 1857.5,1003.3 1858.5,998.7 1859.5,994.0 1860.5,989.4 1861.5,984.9 1862.5,980.3 1863.5,975.9 1864.5,971.5 1865.5,967.3 1866.5,963.2 1867.5,959.3 1868.5,955.6 1869.5,952.2 1870.5,949.0 1871.5,946.1 1872.5,943.5 1873.5,941.3 1874.5,939.5 1875.5,938.0 1876.5,937.0 1877.5,936.4 1878.5,936.2 1879.5,936.5 1880.5,937.2 1881.5,938.3 1882.5,939.9 1883.5,941.8 1884.5,944.1 1885.5,946.8 1886.5,949.8 1887.5,953.2 1888.5,956.8 1889.5,960.6 1890.5,964.7 1891.5,969.0 1892.5,973.4 1893.5,978.0 1894.5,982.6 1895.5,987.4 1896.5,992.2 1897.5,997.0 1898.5,1001.9 1899.5,1006.7 1900.5,1011.5 1901.5,1016.3 1902.5,1021.0 1903.5,1025.6 1904.5,1030.1 1905.5,1034.5 1906.5,1038.9 1907.5,1043.1 1908.5,1047.2 1909.5,1051.1 1910.5,1054.9 1911.5,1058.6 1912.5,1062.1 1913.5,1065.5 1914.5,1068.8 1915.5,1071.8 1916.5,1074.8 1917.5,1077.6 1918.5,1080.2 1919.5,1082.7 1920.5,1085.1 1921.5,1087.3 1922.5,1089.4 1923.5,1091.4 1924.5,1093.3 1925.5,1095.0 1926.5,1096.6 1927.5,1098.2 1928.5,1099.6 1929.5,1100.9 1930.5,1102.1 1931.5,1103.2 1932.5,1104.3 1933.5,1105.3 1934.5,1106.2 1935.5,1107.0 1936.5,1107.8 1937.5,1108.5 1938.5,1109.2 1939.5,1109.8 1940.5,1110.4 1941.5,1110.9 1942.5,1111.4 1943.5,1111.8 1944.5,1112.3 1945.5,1112.6 1946.5,1113.0 1947.5,1113.3 1948.5,1113.7 1949.5,1113.9 1950.5,1114.2 1951.5,1114.5 1952.5,1114.7 1953.5,1114.9 1954.5,1115.1 1955.5,1115.3 1956.5,1115.5 1957.5,1115.7 1958.5,1115.9 1959.5,1116.0 1960.5,1116.2 1961.5,1116.3 1962.5,1116.4 1963.5,1116.6 1964.5,1116.7 1965.5,1116.8 1966.5,1116.9 1967.5,1117.0 1968.5,1117.2 1969.5,1117.3 1970.5,1117.4 1971.5,1117.5 1972.5,1117.5 1973.5,1117.6 1974.5,1117.7 1975.5,1117.8 1976.5,1117.9 1977.5,1118.0 1978.5,1118.0 1979.5,1118.1 1980.5,1118.2 1981.5,1118.3 1982.5,1118.3 1983.5,1118.4 1984.5,1118.5 1985.5,1118.5 1986.5,1118.6 1987.5,1118.6 1988.5,1118.7 1989.5,1118.8 1990.5,1118.8 1991.5,1118.9 1992.5,1118.9 1993.5,1119.0 1994.5,1119.0 1995.5,1119.1 1996.5,1119.1 1997.5,1119.2 1998.5,1119.2 1999.5,1119.2 2000.5,1119.3 2001.5,1119.3 2002.5,1119.4 2003.5,1119.4 2004.5,1119.5 2005.5,1119.5 2006.5,1119.5 2007.5,1119.6 2008.5,1119.6 2009.5,1119.6 2010.5,1119.7 2011.5,1119.7 2012.5,1119.7 2013.5,1119.8 2014.5,1119.8 2015.5,1119.8 2016.5,1119.9 2017.5,1119.9 2018.5,1119.9 2019.5,1119.9 2020.5,1120.0 2021.5,1120.0 2022.5,1120.0 2023.5,1120.1 2024.5,1120.1 2025.5,1120.1 2026.5,1120.1 2027.5,1120.2 2028.5,1120.2 2029.5,1120.2 2030.5,1120.2 2031.5,1120.2 2032.5,1120.3 2033.5,1120.3 2034.5,1120.3 2035.5,1120.3 2036.5,1120.4 2037.5,1120.4 2038.5,1120.4 2039.5,1120.4 2040.5,1120.4 2041.5,1120.5 2042.5,1120.5 2043.5,1120.5 2044.5,1120.5 2045.5,1120.5 2046.5,1120.5 2047.5,1120.6 2048.5,1120.6 2049.5,1120.6 2050.5,1120.6 2051.5,1120.6 2052.5,1120.6 2053.5,1120.7 2054.5,1120.7 2055.5,1120.7 2056.5,1120.7 2057.5,1120.7 2058.5,1120.7 2059.5,1120.7 2060.5,1120.8 2061.5,1120.8 2062.5,1120.8 2063.5,1120.8 2064.5,1120.8 2065.5,1120.8 2066.5,1120.8 2067.5,1120.8 2068.5,1120.9 2069.5,1120.9 2070.5,1120.9 2071.5,1120.9 2072.5,1120.9 2073.5,1120.9 2074.5,1120.9 2075.5,1120.9 2076.5,1120.9 2077.5,1121.0 2078.5,1121.0 2079.5,1121.0 2080.5,1121.0 2081.5,1121.0 2082.5,1121.0 2083.5,1121.0 2084.5,1121.0 2085.5,1121.0 2086.5,1121.0 2087.5,1121.1 2088.5,1121.1 2089.5,1121.1 2090.5,1121.1 2091.5,1121.1 2092.5,1121.1 2093.5,1121.1 2094.5,1121.1 2095.5,1121.1 2096.5,1121.1 2097.5,1121.1 2098.5,1121.1 2099.5,1121.1 2100.5,1121.2 2101.5,1121.2 2102.5,1121.2 2103.5,1121.2 2104.5,1121.2 2105.5,1121.2 2106.5,1121.2 2107.5,1121.2 2108.5,1121.2 2109.5,1121.2 2110.5,1121.2 2111.5,1121.2 2112.5,1121.2 2113.5,1121.2 2114.5,1121.3 2115.5,1121.3 2116.5,1121.3 2117.5,1121.3 2118.5,1121.3 2119.5,1121.3 2120.5,1121.3 2121.5,1121.3 2122.5,1121.3 2123.5,1121.3 2124.5,1121.3" fill="none" stroke="#ff00ff" stroke-width="3.4" stroke-linejoin="round" stroke-linecap="round"/>
<polyline points="1195.5,1108.2 1196.5,1108.2 1197.5,1108.2 1198.5,1108.2 1199.5,1108.2 1200.5,1108.2 1201.5,1108.2 1202.5,1108.2 1203.5,1108.2 1204.5,1108.2 1205.5,1108.2 1206.5,1108.2 1207.5,1108.2 1208.5,1108.2 1209.5,1108.2 1210.5,1108.2 1211.5,1108.2 1212.5,1108.2 1213.5,1108.2 1214.5,1108.2 1215.5,1108.1 1216.5,1108.1 1217.5,1108.1 1218.5,1108.1 1219.5,1108.1 1220.5,1108.1 1221.5,1108.1 1222.5,1108.1 1223.5,1108.1 1224.5,1108.1 1225.5,1108.1 1226.5,1108.1 1227.5,1108.1 1228.5,1108.1 1229.5,1108.1 1230.5,1108.1 1231.5,1108.1 1232.5,1108.1 1233.5,1108.0 1234.5,1108.0 1235.5,1108.0 1236.5,1108.0 1237.5,1108.0 1238.5,1108.0 1239.5,1108.0 1240.5,1108.0 1241.5,1108.0 1242.5,1108.0 1243.5,1108.0 1244.5,1108.0 1245.5,1108.0 1246.5,1108.0 1247.5,1107.9 1248.5,1107.9 1249.5,1107.9 1250.5,1107.9 1251.5,1107.9 1252.5,1107.9 1253.5,1107.9 1254.5,1107.9 1255.5,1107.9 1256.5,1107.9 1257.5,1107.9 1258.5,1107.8 1259.5,1107.8 1260.5,1107.8 1261.5,1107.8 1262.5,1107.8 1263.5,1107.8 1264.5,1107.8 1265.5,1107.8 1266.5,1107.8 1267.5,1107.8 1268.5,1107.7 1269.5,1107.7 1270.5,1107.7 1271.5,1107.7 1272.5,1107.7 1273.5,1107.7 1274.5,1107.7 1275.5,1107.7 1276.5,1107.6 1277.5,1107.6 1278.5,1107.6 1279.5,1107.6 1280.5,1107.6 1281.5,1107.6 1282.5,1107.6 1283.5,1107.5 1284.5,1107.5 1285.5,1107.5 1286.5,1107.5 1287.5,1107.5 1288.5,1107.5 1289.5,1107.5 1290.5,1107.4 1291.5,1107.4 1292.5,1107.4 1293.5,1107.4 1294.5,1107.4 1295.5,1107.3 1296.5,1107.3 1297.5,1107.3 1298.5,1107.3 1299.5,1107.3 1300.5,1107.2 1301.5,1107.2 1302.5,1107.2 1303.5,1107.2 1304.5,1107.2 1305.5,1107.1 1306.5,1107.1 1307.5,1107.1 1308.5,1107.1 1309.5,1107.0 1310.5,1107.0 1311.5,1107.0 1312.5,1106.9 1313.5,1106.9 1314.5,1106.9 1315.5,1106.9 1316.5,1106.8 1317.5,1106.8 1318.5,1106.8 1319.5,1106.7 1320.5,1106.7 1321.5,1106.7 1322.5,1106.6 1323.5,1106.6 1324.5,1106.6 1325.5,1106.5 1326.5,1106.5 1327.5,1106.4 1328.5,1106.4 1329.5,1106.4 1330.5,1106.3 1331.5,1106.3 1332.5,1106.2 1333.5,1106.2 1334.5,1106.1 1335.5,1106.1 1336.5,1106.0 1337.5,1106.0 1338.5,1105.9 1339.5,1105.9 1340.5,1105.8 1341.5,1105.7 1342.5,1105.7 1343.5,1105.6 1344.5,1105.5 1345.5,1105.5 1346.5,1105.4 1347.5,1105.3 1348.5,1105.2 1349.5,1105.2 1350.5,1105.1 1351.5,1105.0 1352.5,1104.9 1353.5,1104.8 1354.5,1104.7 1355.5,1104.6 1356.5,1104.5 1357.5,1104.4 1358.5,1104.2 1359.5,1104.1 1360.5,1104.0 1361.5,1103.8 1362.5,1103.6 1363.5,1103.5 1364.5,1103.3 1365.5,1103.1 1366.5,1102.9 1367.5,1102.6 1368.5,1102.4 1369.5,1102.1 1370.5,1101.8 1371.5,1101.5 1372.5,1101.2 1373.5,1100.8 1374.5,1100.4 1375.5,1100.0 1376.5,1099.5 1377.5,1099.0 1378.5,1098.5 1379.5,1097.9 1380.5,1097.2 1381.5,1096.5 1382.5,1095.7 1383.5,1094.9 1384.5,1094.0 1385.5,1093.1 1386.5,1092.0 1387.5,1090.9 1388.5,1089.7 1389.5,1088.5 1390.5,1087.1 1391.5,1085.6 1392.5,1084.1 1393.5,1082.4 1394.5,1080.7 1395.5,1078.8 1396.5,1076.9 1397.5,1074.8 1398.5,1072.6 1399.5,1070.3 1400.5,1067.9 1401.5,1065.4 1402.5,1062.8 1403.5,1060.1 1404.5,1057.3 1405.5,1054.3 1406.5,1051.4 1407.5,1048.3 1408.5,1045.1 1409.5,1041.9 1410.5,1038.6 1411.5,1035.3 1412.5,1031.9 1413.5,1028.6 1414.5,1025.2 1415.5,1021.8 1416.5,1018.5 1417.5,1015.2 1418.5,1011.9 1419.5,1008.8 1420.5,1005.7 1421.5,1002.8 1422.5,1000.0 1423.5,997.5 1424.5,995.1 1425.5,992.9 1426.5,991.0 1427.5,989.3 1428.5,987.9 1429.5,986.9 1430.5,986.1 1431.5,985.7 1432.5,985.6 1433.5,985.8 1434.5,986.4 1435.5,987.3 1436.5,988.5 1437.5,990.0 1438.5,991.8 1439.5,993.8 1440.5,996.1 1441.5,998.7 1442.5,1001.4 1443.5,1004.3 1444.5,1007.3 1445.5,1010.5 1446.5,1013.7 1447.5,1017.1 1448.5,1020.5 1449.5,1023.9 1450.5,1027.4 1451.5,1030.9 1452.5,1034.4 1453.5,1037.8 1454.5,1041.2 1455.5,1044.6 1456.5,1047.9 1457.5,1051.1 1458.5,1054.2 1459.5,1057.3 1460.5,1060.3 1461.5,1063.2 1462.5,1065.9 1463.5,1068.6 1464.5,1071.1 1465.5,1073.6 1466.5,1075.9 1467.5,1078.2 1468.5,1080.3 1469.5,1082.3 1470.5,1084.2 1471.5,1085.9 1472.5,1087.6 1473.5,1089.2 1474.5,1090.7 1475.5,1092.1 1476.5,1093.4 1477.5,1094.6 1478.5,1095.7 1479.5,1096.8 1480.5,1097.7 1481.5,1098.6 1482.5,1099.5 1483.5,1100.2 1484.5,1100.9 1485.5,1101.6 1486.5,1102.2 1487.5,1102.8 1488.5,1103.3 1489.5,1103.8 1490.5,1104.2 1491.5,1104.6 1492.5,1105.0 1493.5,1105.3 1494.5,1105.6 1495.5,1105.9 1496.5,1106.2 1497.5,1106.4 1498.5,1106.7 1499.5,1106.9 1500.5,1107.1 1501.5,1107.3 1502.5,1107.4 1503.5,1107.6 1504.5,1107.8 1505.5,1107.9 1506.5,1108.0 1507.5,1108.2 1508.5,1108.3 1509.5,1108.4 1510.5,1108.5 1511.5,1108.6 1512.5,1108.7 1513.5,1108.8 1514.5,1108.9 1515.5,1109.0 1516.5,1109.0 1517.5,1109.1 1518.5,1109.2 1519.5,1109.3 1520.5,1109.3 1521.5,1109.4 1522.5,1109.5 1523.5,1109.5 1524.5,1109.6 1525.5,1109.7 1526.5,1109.7 1527.5,1109.8 1528.5,1109.8 1529.5,1109.9 1530.5,1109.9 1531.5,1110.0 1532.5,1110.0 1533.5,1110.1 1534.5,1110.1 1535.5,1110.2 1536.5,1110.2 1537.5,1110.2 1538.5,1110.3 1539.5,1110.3 1540.5,1110.4 1541.5,1110.4 1542.5,1110.4 1543.5,1110.5 1544.5,1110.5 1545.5,1110.5 1546.5,1110.6 1547.5,1110.6 1548.5,1110.6 1549.5,1110.7 1550.5,1110.7 1551.5,1110.7 1552.5,1110.7 1553.5,1110.8 1554.5,1110.8 1555.5,1110.8 1556.5,1110.9 1557.5,1110.9 1558.5,1110.9 1559.5,1110.9 1560.5,1111.0 1561.5,1111.0 1562.5,1111.0 1563.5,1111.0 1564.5,1111.0 1565.5,1111.1 1566.5,1111.1 1567.5,1111.1 1568.5,1111.1 1569.5,1111.1 1570.5,1111.2 1571.5,1111.2 1572.5,1111.2 1573.5,1111.2 1574.5,1111.2 1575.5,1111.3 1576.5,1111.3 1577.5,1111.3 1578.5,1111.3 1579.5,1111.3 1580.5,1111.3 1581.5,1111.3 1582.5,1111.4 1583.5,1111.4 1584.5,1111.4 1585.5,1111.4 1586.5,1111.4 1587.5,1111.4 1588.5,1111.4 1589.5,1111.5 1590.5,1111.5 1591.5,1111.5 1592.5,1111.5 1593.5,1111.5 1594.5,1111.5 1595.5,1111.5 1596.5,1111.5 1597.5,1111.6 1598.5,1111.6 1599.5,1111.6 1600.5,1111.6 1601.5,1111.6 1602.5,1111.6 1603.5,1111.6 1604.5,1111.6 1605.5,1111.6 1606.5,1111.6 1607.5,1111.7 1608.5,1111.7 1609.5,1111.7 1610.5,1111.7 1611.5,1111.7 1612.5,1111.7 1613.5,1111.7 1614.5,1111.7 1615.5,1111.7 1616.5,1111.7 1617.5,1111.7 1618.5,1111.8 1619.5,1111.8 1620.5,1111.8 1621.5,1111.8 1622.5,1111.8 1623.5,1111.8 1624.5,1111.8 1625.5,1111.8 1626.5,1111.8 1627.5,1111.8 1628.5,1111.8 1629.5,1111.8 1630.5,1111.8 1631.5,1111.8 1632.5,1111.9 1633.5,1111.9 1634.5,1111.9 1635.5,1111.9 1636.5,1111.9 1637.5,1111.9 1638.5,1111.9 1639.5,1111.9 1640.5,1111.9 1641.5,1111.9 1642.5,1111.9 1643.5,1111.9 1644.5,1111.9 1645.5,1111.9 1646.5,1111.9 1647.5,1111.9 1648.5,1111.9 1649.5,1111.9 1650.5,1112.0 1651.5,1112.0 1652.5,1112.0 1653.5,1112.0 1654.5,1112.0 1655.5,1112.0 1656.5,1112.0 1657.5,1112.0 1658.5,1112.0 1659.5,1112.0 1660.5,1112.0 1661.5,1112.0 1662.5,1112.0 1663.5,1112.0 1664.5,1112.0 1665.5,1112.0 1666.5,1112.0 1667.5,1112.0 1668.5,1112.0 1669.5,1112.0 1670.5,1112.0 1671.5,1112.0 1672.5,1112.0 1673.5,1112.1 1674.5,1112.1 1675.5,1112.1 1676.5,1112.1 1677.5,1112.1 1678.5,1112.1 1679.5,1112.1 1680.5,1112.1 1681.5,1112.1 1682.5,1112.1 1683.5,1112.1 1684.5,1112.1 1685.5,1112.1 1686.5,1112.1 1687.5,1112.1 1688.5,1112.1 1689.5,1112.1 1690.5,1112.1 1691.5,1112.1 1692.5,1112.1 1693.5,1112.1 1694.5,1112.1 1695.5,1112.1 1696.5,1112.1 1697.5,1112.1 1698.5,1112.1 1699.5,1112.1 1700.5,1112.1 1701.5,1112.1 1702.5,1112.1 1703.5,1112.1 1704.5,1112.1 1705.5,1112.2 1706.5,1112.2 1707.5,1112.2 1708.5,1112.2 1709.5,1112.2 1710.5,1112.2 1711.5,1112.2 1712.5,1112.2 1713.5,1112.2 1714.5,1112.2 1715.5,1112.2 1716.5,1112.2 1717.5,1112.2 1718.5,1112.2 1719.5,1112.2 1720.5,1112.2 1721.5,1112.2 1722.5,1112.2 1723.5,1112.2 1724.5,1112.2 1725.5,1112.2 1726.5,1112.2 1727.5,1112.2 1728.5,1112.2 1729.5,1112.2 1730.5,1112.2 1731.5,1112.2 1732.5,1112.2 1733.5,1112.2 1734.5,1112.2 1735.5,1112.2 1736.5,1112.2 1737.5,1112.2 1738.5,1112.2 1739.5,1112.2 1740.5,1112.2 1741.5,1112.2 1742.5,1112.2 1743.5,1112.2 1744.5,1112.2 1745.5,1112.2 1746.5,1112.2 1747.5,1112.2 1748.5,1112.2 1749.5,1112.2 1750.5,1112.2 1751.5,1112.2 1752.5,1112.2 1753.5,1112.2 1754.5,1112.2 1755.5,1112.2 1756.5,1112.3 1757.5,1112.3 1758.5,1112.3 1759.5,1112.3 1760.5,1112.3 1761.5,1112.3 1762.5,1112.3 1763.5,1112.3 1764.5,1112.3 1765.5,1112.3 1766.5,1112.3 1767.5,1112.3 1768.5,1112.3 1769.5,1112.3 1770.5,1112.3 1771.5,1112.3 1772.5,1112.3 1773.5,1112.3 1774.5,1112.3 1775.5,1112.3 1776.5,1112.3 1777.5,1112.3 1778.5,1112.3 1779.5,1112.3 1780.5,1112.3 1781.5,1112.3 1782.5,1112.3 1783.5,1112.3 1784.5,1112.3 1785.5,1112.3 1786.5,1112.3 1787.5,1112.3 1788.5,1112.3 1789.5,1112.3 1790.5,1112.3 1791.5,1112.3 1792.5,1112.3 1793.5,1112.3 1794.5,1112.3 1795.5,1112.3 1796.5,1112.3 1797.5,1112.3 1798.5,1112.3 1799.5,1112.3 1800.5,1112.3 1801.5,1112.3 1802.5,1112.3 1803.5,1112.3 1804.5,1112.3 1805.5,1112.3 1806.5,1112.3 1807.5,1112.3 1808.5,1112.3 1809.5,1112.3 1810.5,1112.3 1811.5,1112.3 1812.5,1112.3 1813.5,1112.4 1814.5,1112.4 1815.5,1112.4 1816.5,1112.4 1817.5,1112.4 1818.5,1112.4 1819.5,1112.4 1820.5,1112.4 1821.5,1112.4 1822.5,1112.4 1823.5,1112.4 1824.5,1112.4 1825.5,1112.5 1826.5,1112.5 1827.5,1112.5 1828.5,1112.5 1829.5,1112.5 1830.5,1112.5 1831.5,1112.6 1832.5,1112.6 1833.5,1112.6 1834.5,1112.6 1835.5,1112.7 1836.5,1112.7 1837.5,1112.7 1838.5,1112.8 1839.5,1112.8 1840.5,1112.9 1841.5,1112.9 1842.5,1113.0 1843.5,1113.0 1844.5,1113.1 1845.5,1113.1 1846.5,1113.2 1847.5,1113.3 1848.5,1113.3 1849.5,1113.4 1850.5,1113.5 1851.5,1113.6 1852.5,1113.7 1853.5,1113.7 1854.5,1113.8 1855.5,1113.9 1856.5,1114.0 1857.5,1114.1 1858.5,1114.2 1859.5,1114.4 1860.5,1114.5 1861.5,1114.6 1862.5,1114.7 1863.5,1114.9 1864.5,1115.0 1865.5,1115.1 1866.5,1115.3 1867.5,1115.4 1868.5,1115.5 1869.5,1115.7 1870.5,1115.8 1871.5,1116.0 1872.5,1116.1 1873.5,1116.3 1874.5,1116.4 1875.5,1116.6 1876.5,1116.8 1877.5,1116.9 1878.5,1117.1 1879.5,1117.2 1880.5,1117.4 1881.5,1117.6 1882.5,1117.7 1883.5,1117.9 1884.5,1118.0 1885.5,1118.2 1886.5,1118.3 1887.5,1118.5 1888.5,1118.6 1889.5,1118.8 1890.5,1118.9 1891.5,1119.0 1892.5,1119.2 1893.5,1119.3 1894.5,1119.4 1895.5,1119.6 1896.5,1119.7 1897.5,1119.8 1898.5,1119.9 1899.5,1120.0 1900.5,1120.1 1901.5,1120.2 1902.5,1120.3 1903.5,1120.4 1904.5,1120.5 1905.5,1120.6 1906.5,1120.7 1907.5,1120.8 1908.5,1120.9 1909.5,1120.9 1910.5,1121.0 1911.5,1121.1 1912.5,1121.1 1913.5,1121.2 1914.5,1121.2 1915.5,1121.3 1916.5,1121.3 1917.5,1121.4 1918.5,1121.4 1919.5,1121.5 1920.5,1121.5 1921.5,1121.5 1922.5,1121.6 1923.5,1121.6 1924.5,1121.6 1925.5,1121.6 1926.5,1121.7 1927.5,1121.7 1928.5,1121.7 1929.5,1121.7 1930.5,1121.7 1931.5,1121.8 1932.5,1121.8 1933.5,1121.8 1934.5,1121.8 1935.5,1121.8 1936.5,1121.8 1937.5,1121.8 1938.5,1121.8 1939.5,1121.8 1940.5,1121.9 1941.5,1121.9 1942.5,1121.9 1943.5,1121.9 1944.5,1121.9 1945.5,1121.9 1946.5,1121.9 1947.5,1121.9 1948.5,1121.9 1949.5,1121.9 1950.5,1121.9 1951.5,1121.9 1952.5,1121.9 1953.5,1121.9 1954.5,1121.9 1955.5,1121.9 1956.5,1121.9 1957.5,1121.9 1958.5,1121.9 1959.5,1121.9 1960.5,1121.9 1961.5,1121.9 1962.5,1121.9 1963.5,1121.9 1964.5,1121.9 1965.5,1121.9 1966.5,1121.9 1967.5,1121.9 1968.5,1121.9 1969.5,1121.9 1970.5,1121.9 1971.5,1121.9 1972.5,1121.9 1973.5,1121.9 1974.5,1121.9 1975.5,1121.9 1976.5,1121.9 1977.5,1121.9 1978.5,1121.9 1979.5,1121.9 1980.5,1121.9 1981.5,1121.9 1982.5,1121.9 1983.5,1121.9 1984.5,1121.9 1985.5,1121.9 1986.5,1121.9 1987.5,1121.9 1988.5,1121.9 1989.5,1121.9 1990.5,1121.9 1991.5,1121.9 1992.5,1121.9 1993.5,1121.9 1994.5,1121.9 1995.5,1121.9 1996.5,1121.9 1997.5,1121.9 1998.5,1121.9 1999.5,1121.9 2000.5,1121.9 2001.5,1121.9 2002.5,1121.9 2003.5,1121.9 2004.5,1121.9 2005.5,1121.9 2006.5,1121.9 2007.5,1121.9 2008.5,1121.9 2009.5,1121.9 2010.5,1121.9 2011.5,1121.9 2012.5,1121.9 2013.5,1121.9 2014.5,1121.9 2015.5,1121.9 2016.5,1121.9 2017.5,1121.9 2018.5,1121.9 2019.5,1121.9 2020.5,1121.9 2021.5,1121.9 2022.5,1121.9 2023.5,1121.9 2024.5,1121.9 2025.5,1121.9 2026.5,1121.9 2027.5,1121.9 2028.5,1121.9 2029.5,1121.9 2030.5,1121.9 2031.5,1121.9 2032.5,1121.9 2033.5,1121.9 2034.5,1121.9 2035.5,1121.9 2036.5,1121.9 2037.5,1121.9 2038.5,1121.9 2039.5,1121.9 2040.5,1121.9 2041.5,1121.9 2042.5,1121.9 2043.5,1121.9 2044.5,1121.9 2045.5,1121.9 2046.5,1121.9 2047.5,1121.9 2048.5,1121.9 2049.5,1121.9 2050.5,1121.9 2051.5,1121.9 2052.5,1121.9 2053.5,1121.9 2054.5,1121.9 2055.5,1121.9 2056.5,1121.9 2057.5,1121.9 2058.5,1121.9 2059.5,1121.9 2060.5,1121.9 2061.5,1121.9 2062.5,1121.9 2063.5,1121.9 2064.5,1121.9 2065.5,1121.9 2066.5,1121.9 2067.5,1121.9 2068.5,1121.9 2069.5,1121.9 2070.5,1121.9 2071.5,1121.9 2072.5,1121.9 2073.5,1121.9 2074.5,1121.9 2075.5,1121.9 2076.5,1121.9 2077.5,1121.9 2078.5,1121.9 2079.5,1121.9 2080.5,1121.9 2081.5,1121.9 2082.5,1121.9 2083.5,1121.9 2084.5,1121.9 2085.5,1121.9 2086.5,1121.9 2087.5,1121.9 2088.5,1121.9 2089.5,1121.9 2090.5,1121.9 2091.5,1121.9 2092.5,1121.9 2093.5,1121.9 2094.5,1121.9 2095.5,1121.9 2096.5,1121.9 2097.5,1121.9 2098.5,1121.9 2099.5,1121.9 2100.5,1121.9 2101.5,1121.9 2102.5,1121.9 2103.5,1121.9 2104.5,1121.9 2105.5,1121.9 2106.5,1121.9 2107.5,1121.9 2108.5,1121.9 2109.5,1121.9 2110.5,1121.9 2111.5,1121.9 2112.5,1121.9 2113.5,1121.9 2114.5,1121.9 2115.5,1121.9 2116.5,1121.9 2117.5,1121.9 2118.5,1121.9 2119.5,1121.9 2120.5,1121.9 2121.5,1121.9 2122.5,1121.9 2123.5,1121.9 2124.5,1121.9 2125.5,1121.9 2126.5,1121.9 2127.5,1121.9 2128.5,1121.9 2129.5,1121.9 2130.5,1121.9 2131.5,1121.9 2132.5,1121.9 2133.5,1121.9 2134.5,1121.9 2135.5,1121.9 2136.5,1121.9 2137.5,1121.9 2138.5,1121.9 2139.5,1121.9 2140.5,1121.9 2141.5,1121.9 2142.5,1121.9 2143.5,1121.9 2144.5,1121.9 2145.5,1121.9 2146.5,1121.9" fill="none" stroke="#0000ff" stroke-width="4.0" stroke-linejoin="round" stroke-linecap="round"/>
<polyline points="1249.5,1479.5 1250.5,1480.1 1251.5,1480.7 1252.5,1480.4 1253.5,1479.4 1254.5,1479.5 1255.5,1479.9 1256.5,1478.8 1257.5,1479.1 1258.5,1480.1 1259.5,1479.3 1260.5,1479.2 1261.5,1479.7 1262.5,1479.3 1263.5,1479.6 1264.5,1479.5 1265.5,1479.0 1266.5,1479.6 1267.5,1478.8 1268.5,1478.8 1269.5,1479.3 1270.5,1479.3 1271.5,1479.4 1272.5,1479.4 1273.5,1479.2 1274.5,1479.3 1275.5,1480.1 1276.5,1479.3 1277.5,1479.1 1278.5,1479.6 1279.5,1479.6 1280.5,1479.4 1281.5,1479.6 1282.5,1478.8 1283.5,1479.4 1284.5,1479.8 1285.5,1479.2 1286.5,1479.4 1287.5,1479.2 1288.5,1479.9 1289.5,1480.0 1290.5,1479.1 1291.5,1479.0 1292.5,1478.9 1293.5,1478.4 1294.5,1479.0 1295.5,1479.0 1296.5,1479.1 1297.5,1479.5 1298.5,1479.3 1299.5,1479.2 1300.5,1478.7 1301.5,1479.7 1302.5,1479.6 1303.5,1478.2 1304.5,1478.6 1305.5,1479.5 1306.5,1478.8 1307.5,1477.9 1308.5,1478.8 1309.5,1479.4 1310.5,1479.3 1311.5,1478.6 1312.5,1478.5 1313.5,1478.3 1314.5,1478.4 1315.5,1478.7 1316.5,1478.6 1317.5,1478.4 1318.5,1478.6 1319.5,1478.7 1320.5,1478.0 1321.5,1478.6 1322.5,1478.9 1323.5,1478.2 1324.5,1478.0 1325.5,1478.7 1326.5,1478.8 1327.5,1478.2 1328.5,1477.8 1329.5,1477.4 1330.5,1477.5 1331.5,1477.2 1332.5,1477.0 1333.5,1477.1 1334.5,1476.9 1335.5,1477.2 1336.5,1478.0 1337.5,1477.2 1338.5,1476.9 1339.5,1476.9 1340.5,1476.7 1341.5,1477.1 1342.5,1476.1 1343.5,1474.7 1344.5,1475.4 1345.5,1476.5 1346.5,1476.1 1347.5,1475.5 1348.5,1475.0 1349.5,1473.9 1350.5,1474.6 1351.5,1474.6 1352.5,1473.9 1353.5,1474.5 1354.5,1474.4 1355.5,1473.7 1356.5,1473.0 1357.5,1473.5 1358.5,1473.2 1359.5,1472.8 1360.5,1472.5 1361.5,1472.3 1362.5,1472.8 1363.5,1472.5 1364.5,1472.3 1365.5,1471.6 1366.5,1470.9 1367.5,1471.0 1368.5,1471.6 1369.5,1471.2 1370.5,1470.4 1371.5,1470.8 1372.5,1470.7 1373.5,1470.2 1374.5,1469.4 1375.5,1469.2 1376.5,1469.3 1377.5,1468.8 1378.5,1468.8 1379.5,1467.4 1380.5,1467.2 1381.5,1467.5 1382.5,1467.1 1383.5,1466.7 1384.5,1465.8 1385.5,1464.7 1386.5,1463.6 1387.5,1464.1 1388.5,1463.5 1389.5,1462.5 1390.5,1462.0 1391.5,1460.6 1392.5,1459.6 1393.5,1459.1 1394.5,1458.4 1395.5,1457.2 1396.5,1455.4 1397.5,1454.9 1398.5,1454.4 1399.5,1452.4 1400.5,1449.7 1401.5,1448.2 1402.5,1446.6 1403.5,1445.1 1404.5,1443.3 1405.5,1440.3 1406.5,1437.9 1407.5,1435.4 1408.5,1433.0 1409.5,1430.2 1410.5,1427.6 1411.5,1425.6 1412.5,1422.7 1413.5,1418.9 1414.5,1415.6 1415.5,1412.4 1416.5,1408.2 1417.5,1404.8 1418.5,1402.1 1419.5,1398.5 1420.5,1394.1 1421.5,1389.9 1422.5,1386.1 1423.5,1382.5 1424.5,1378.6 1425.5,1374.9 1426.5,1371.1 1427.5,1367.1 1428.5,1362.6 1429.5,1358.5 1430.5,1354.8 1431.5,1351.1 1432.5,1347.6 1433.5,1345.1 1434.5,1341.2 1435.5,1337.3 1436.5,1334.8 1437.5,1332.3 1438.5,1330.4 1439.5,1328.9 1440.5,1327.1 1441.5,1324.9 1442.5,1324.2 1443.5,1324.0 1444.5,1322.9 1445.5,1323.7 1446.5,1324.8 1447.5,1325.7 1448.5,1327.9 1449.5,1329.5 1450.5,1331.1 1451.5,1332.6 1452.5,1334.8 1453.5,1338.5 1454.5,1341.8 1455.5,1344.8 1456.5,1348.3 1457.5,1351.6 1458.5,1356.0 1459.5,1359.8 1460.5,1363.3 1461.5,1367.7 1462.5,1372.0 1463.5,1376.2 1464.5,1379.9 1465.5,1383.9 1466.5,1388.3 1467.5,1393.4 1468.5,1397.9 1469.5,1401.0 1470.5,1404.6 1471.5,1408.3 1472.5,1412.6 1473.5,1416.2 1474.5,1418.6 1475.5,1423.7 1476.5,1427.0 1477.5,1428.2 1478.5,1431.1 1479.5,1434.4 1480.5,1437.3 1481.5,1439.4 1482.5,1442.5 1483.5,1445.8 1484.5,1447.8 1485.5,1448.8 1486.5,1450.9 1487.5,1452.9 1488.5,1454.6 1489.5,1456.6 1490.5,1457.6 1491.5,1459.3 1492.5,1461.1 1493.5,1462.1 1494.5,1462.9 1495.5,1464.4 1496.5,1465.7 1497.5,1466.4 1498.5,1467.2 1499.5,1467.6 1500.5,1468.4 1501.5,1469.1 1502.5,1470.2 1503.5,1472.1 1504.5,1473.5 1505.5,1473.2 1506.5,1473.0 1507.5,1474.6 1508.5,1475.8 1509.5,1475.7 1510.5,1475.7 1511.5,1475.9 1512.5,1475.5 1513.5,1475.8 1514.5,1478.0 1515.5,1479.2 1516.5,1478.5 1517.5,1478.5 1518.5,1479.1 1519.5,1478.7 1520.5,1478.2 1521.5,1478.4 1522.5,1479.0 1523.5,1479.9 1524.5,1480.1 1525.5,1479.7 1526.5,1479.6 1527.5,1480.2 1528.5,1481.1 1529.5,1480.8 1530.5,1480.1 1531.5,1480.3 1532.5,1480.7 1533.5,1481.1 1534.5,1481.4 1535.5,1480.7 1536.5,1480.3 1537.5,1480.5 1538.5,1480.9 1539.5,1480.7 1540.5,1479.8 1541.5,1480.3 1542.5,1480.9 1543.5,1480.8 1544.5,1481.0 1545.5,1480.8 1546.5,1481.0 1547.5,1480.9 1548.5,1480.5 1549.5,1481.2 1550.5,1481.6 1551.5,1481.9 1552.5,1482.2 1553.5,1481.5 1554.5,1481.2 1555.5,1481.1 1556.5,1481.4 1557.5,1482.1 1558.5,1482.1 1559.5,1482.0 1560.5,1481.7 1561.5,1482.1 1562.5,1482.8 1563.5,1482.7 1564.5,1482.1 1565.5,1481.6 1566.5,1481.8 1567.5,1482.6 1568.5,1482.8 1569.5,1483.1 1570.5,1483.4 1571.5,1482.3 1572.5,1482.6 1573.5,1483.6 1574.5,1483.1 1575.5,1482.1 1576.5,1482.2 1577.5,1482.0 1578.5,1481.6 1579.5,1481.2 1580.5,1481.4 1581.5,1481.8 1582.5,1482.1 1583.5,1482.8 1584.5,1483.2 1585.5,1483.2 1586.5,1482.7 1587.5,1483.1 1588.5,1483.0 1589.5,1481.6 1590.5,1481.3 1591.5,1482.0 1592.5,1482.8 1593.5,1483.5 1594.5,1482.8 1595.5,1482.9 1596.5,1483.5 1597.5,1483.3 1598.5,1482.7 1599.5,1482.4 1600.5,1481.9 1601.5,1482.1 1602.5,1482.8 1603.5,1483.1 1604.5,1483.7 1605.5,1483.1 1606.5,1483.0 1607.5,1483.8 1608.5,1483.4 1609.5,1483.7 1610.5,1483.5 1611.5,1482.2 1612.5,1482.5 1613.5,1483.8 1614.5,1484.0 1615.5,1482.6 1616.5,1482.2 1617.5,1483.4 1618.5,1483.3 1619.5,1482.8 1620.5,1482.7 1621.5,1483.5 1622.5,1484.7 1623.5,1483.3 1624.5,1481.9 1625.5,1482.7 1626.5,1483.6 1627.5,1483.4 1628.5,1483.3 1629.5,1483.2 1630.5,1483.5 1631.5,1484.0 1632.5,1484.1 1633.5,1484.2 1634.5,1483.4 1635.5,1482.9 1636.5,1483.0 1637.5,1483.2 1638.5,1483.0 1639.5,1482.7 1640.5,1482.8 1641.5,1483.0 1642.5,1483.0 1643.5,1483.9 1644.5,1484.5 1645.5,1483.6 1646.5,1483.1 1647.5,1483.2 1648.5,1482.8 1649.5,1483.2 1650.5,1482.7 1651.5,1482.6 1652.5,1483.2 1653.5,1482.6 1654.5,1482.9 1655.5,1483.8 1656.5,1483.7 1657.5,1483.5 1658.5,1483.0 1659.5,1483.0 1660.5,1484.0 1661.5,1483.4 1662.5,1483.7 1663.5,1483.4 1664.5,1482.8 1665.5,1483.3 1666.5,1483.0 1667.5,1483.3 1668.5,1483.2 1669.5,1483.6 1670.5,1483.5 1671.5,1483.1 1672.5,1483.7 1673.5,1483.6 1674.5,1482.2 1675.5,1482.1 1676.5,1482.7 1677.5,1482.6 1678.5,1483.0 1679.5,1483.4 1680.5,1482.9 1681.5,1482.6 1682.5,1482.3 1683.5,1482.3 1684.5,1483.7 1685.5,1483.2 1686.5,1483.2 1687.5,1483.9 1688.5,1483.0 1689.5,1482.8 1690.5,1482.3 1691.5,1482.8 1692.5,1483.2 1693.5,1482.6 1694.5,1482.7 1695.5,1483.6 1696.5,1483.5 1697.5,1482.8 1698.5,1483.5 1699.5,1483.1 1700.5,1482.9 1701.5,1484.3 1702.5,1484.0 1703.5,1482.3 1704.5,1482.7 1705.5,1483.2 1706.5,1483.3 1707.5,1483.7 1708.5,1483.2 1709.5,1482.7 1710.5,1483.0 1711.5,1483.6 1712.5,1483.2 1713.5,1483.2 1714.5,1483.2 1715.5,1483.1 1716.5,1482.9 1717.5,1482.1 1718.5,1481.9 1719.5,1482.4 1720.5,1483.1 1721.5,1483.7 1722.5,1482.8 1723.5,1482.1 1724.5,1482.3 1725.5,1482.6 1726.5,1482.9 1727.5,1483.0 1728.5,1482.6 1729.5,1482.2 1730.5,1483.3 1731.5,1483.0 1732.5,1482.7 1733.5,1483.5 1734.5,1483.3 1735.5,1483.0 1736.5,1482.6 1737.5,1482.8 1738.5,1482.7 1739.5,1482.4 1740.5,1482.3 1741.5,1482.5 1742.5,1482.5 1743.5,1482.2 1744.5,1482.5 1745.5,1482.6 1746.5,1481.8 1747.5,1481.7 1748.5,1482.8 1749.5,1482.9 1750.5,1483.0 1751.5,1482.1 1752.5,1481.6 1753.5,1481.4 1754.5,1481.5 1755.5,1482.0 1756.5,1481.6 1757.5,1482.0 1758.5,1481.7 1759.5,1481.2 1760.5,1481.3 1761.5,1481.9 1762.5,1482.6 1763.5,1481.9 1764.5,1480.9 1765.5,1481.2 1766.5,1481.1 1767.5,1480.4 1768.5,1481.1 1769.5,1481.4 1770.5,1481.7 1771.5,1481.5 1772.5,1481.5 1773.5,1482.3 1774.5,1481.5 1775.5,1481.0 1776.5,1480.0 1777.5,1479.9 1778.5,1481.0 1779.5,1480.5 1780.5,1481.0 1781.5,1480.3 1782.5,1479.9 1783.5,1480.9 1784.5,1480.6 1785.5,1479.9 1786.5,1480.0 1787.5,1480.3 1788.5,1480.0 1789.5,1480.5 1790.5,1480.0 1791.5,1478.4 1792.5,1478.8 1793.5,1480.0 1794.5,1479.7 1795.5,1479.2 1796.5,1478.8 1797.5,1479.0 1798.5,1479.6 1799.5,1479.2 1800.5,1479.4 1801.5,1479.4 1802.5,1479.0 1803.5,1478.9 1804.5,1478.5 1805.5,1478.9 1806.5,1479.0 1807.5,1478.9 1808.5,1479.0 1809.5,1478.4 1810.5,1478.0 1811.5,1478.1 1812.5,1477.8 1813.5,1477.7 1814.5,1477.3 1815.5,1476.9 1816.5,1476.8 1817.5,1476.1 1818.5,1476.0 1819.5,1476.5 1820.5,1475.0 1821.5,1474.6 1822.5,1474.7 1823.5,1473.7 1824.5,1473.8 1825.5,1473.2 1826.5,1472.5 1827.5,1472.0 1828.5,1470.8 1829.5,1471.1 1830.5,1470.5 1831.5,1468.5 1832.5,1467.8 1833.5,1468.1 1834.5,1466.6 1835.5,1465.2 1836.5,1464.5 1837.5,1462.9 1838.5,1461.8 1839.5,1460.8 1840.5,1459.0 1841.5,1457.8 1842.5,1456.3 1843.5,1453.1 1844.5,1451.5 1845.5,1450.3 1846.5,1448.4 1847.5,1446.2 1848.5,1443.4 1849.5,1441.1 1850.5,1438.8 1851.5,1435.0 1852.5,1431.4 1853.5,1428.3 1854.5,1424.9 1855.5,1421.7 1856.5,1417.9 1857.5,1413.8 1858.5,1410.1 1859.5,1406.2 1860.5,1402.0 1861.5,1395.6 1862.5,1389.9 1863.5,1385.9 1864.5,1380.7 1865.5,1375.3 1866.5,1369.6 1867.5,1364.6 1868.5,1359.8 1869.5,1353.2 1870.5,1347.1 1871.5,1340.6 1872.5,1334.5 1873.5,1330.1 1874.5,1324.2 1875.5,1317.2 1876.5,1310.5 1877.5,1304.9 1878.5,1300.1 1879.5,1294.9 1880.5,1289.2 1881.5,1284.2 1882.5,1278.9 1883.5,1273.4 1884.5,1269.6 1885.5,1266.7 1886.5,1263.9 1887.5,1261.5 1888.5,1260.5 1889.5,1258.8 1890.5,1256.2 1891.5,1256.5 1892.5,1256.9 1893.5,1257.9 1894.5,1260.0 1895.5,1261.4 1896.5,1263.4 1897.5,1265.3 1898.5,1269.0 1899.5,1273.7 1900.5,1277.7 1901.5,1282.7 1902.5,1287.5 1903.5,1292.0 1904.5,1297.3 1905.5,1303.1 1906.5,1309.6 1907.5,1316.1 1908.5,1321.9 1909.5,1328.0 1910.5,1334.2 1911.5,1340.1 1912.5,1346.5 1913.5,1352.7 1914.5,1358.9 1915.5,1365.3 1916.5,1371.3 1917.5,1377.7 1918.5,1383.4 1919.5,1388.5 1920.5,1394.1 1921.5,1399.0 1922.5,1403.6 1923.5,1408.9 1924.5,1412.9 1925.5,1417.0 1926.5,1422.7 1927.5,1427.1 1928.5,1430.2 1929.5,1434.1 1930.5,1437.4 1931.5,1440.3 1932.5,1443.3 1933.5,1446.8 1934.5,1450.3 1935.5,1452.1 1936.5,1453.7 1937.5,1456.2 1938.5,1457.8 1939.5,1459.5 1940.5,1462.1 1941.5,1464.0 1942.5,1466.0 1943.5,1466.7 1944.5,1466.9 1945.5,1468.5 1946.5,1469.6 1947.5,1470.6 1948.5,1471.3 1949.5,1470.9 1950.5,1471.2 1951.5,1471.8 1952.5,1472.8 1953.5,1474.6 1954.5,1475.2 1955.5,1475.0 1956.5,1474.4 1957.5,1475.0 1958.5,1475.9 1959.5,1476.1 1960.5,1476.7 1961.5,1478.4 1962.5,1478.5 1963.5,1477.5 1964.5,1477.4 1965.5,1478.4 1966.5,1478.9 1967.5,1477.9 1968.5,1478.4 1969.5,1479.5 1970.5,1479.4 1971.5,1479.4 1972.5,1479.4 1973.5,1480.1 1974.5,1480.5 1975.5,1480.1 1976.5,1480.4 1977.5,1480.3 1978.5,1481.0 1979.5,1481.1 1980.5,1481.1 1981.5,1482.0 1982.5,1483.2 1983.5,1483.2 1984.5,1482.2 1985.5,1482.1 1986.5,1481.7 1987.5,1481.2 1988.5,1481.4 1989.5,1482.1 1990.5,1482.6 1991.5,1482.4 1992.5,1483.5 1993.5,1483.8 1994.5,1483.2 1995.5,1483.5 1996.5,1483.2 1997.5,1483.3 1998.5,1482.8 1999.5,1482.7 2000.5,1483.8 2001.5,1484.5 2002.5,1484.1 2003.5,1484.1 2004.5,1484.6 2005.5,1483.9 2006.5,1482.9 2007.5,1483.3 2008.5,1483.7 2009.5,1484.2 2010.5,1484.6 2011.5,1483.6 2012.5,1483.3 2013.5,1484.1 2014.5,1484.9 2015.5,1483.7 2016.5,1483.5 2017.5,1484.0 2018.5,1483.8 2019.5,1484.0 2020.5,1484.5 2021.5,1485.1 2022.5,1485.5 2023.5,1485.9 2024.5,1484.9 2025.5,1483.5 2026.5,1483.7 2027.5,1484.4 2028.5,1484.6 2029.5,1484.6 2030.5,1484.3 2031.5,1485.0 2032.5,1485.4 2033.5,1484.8 2034.5,1484.9 2035.5,1484.9 2036.5,1484.7 2037.5,1485.5 2038.5,1485.3 2039.5,1484.4 2040.5,1484.7 2041.5,1485.1 2042.5,1485.8 2043.5,1486.0 2044.5,1485.0 2045.5,1484.6 2046.5,1483.9 2047.5,1484.1 2048.5,1485.1" fill="none" stroke="#000" stroke-width="4.2" stroke-linejoin="round" stroke-linecap="round"/>
<polyline points="1290.5,1476.4 1291.5,1476.4 1292.5,1476.4 1293.5,1476.4 1294.5,1476.4 1295.5,1476.4 1296.5,1476.4 1297.5,1476.4 1298.5,1476.4 1299.5,1476.4 1300.5,1476.4 1301.5,1476.4 1302.5,1476.4 1303.5,1476.4 1304.5,1476.4 1305.5,1476.4 1306.5,1476.4 1307.5,1476.4 1308.5,1476.4 1309.5,1476.4 1310.5,1476.3 1311.5,1476.3 1312.5,1476.3 1313.5,1476.3 1314.5,1476.3 1315.5,1476.3 1316.5,1476.3 1317.5,1476.3 1318.5,1476.3 1319.5,1476.3 1320.5,1476.3 1321.5,1476.3 1322.5,1476.3 1323.5,1476.3 1324.5,1476.3 1325.5,1476.3 1326.5,1476.3 1327.5,1476.3 1328.5,1476.3 1329.5,1476.3 1330.5,1476.3 1331.5,1476.3 1332.5,1476.3 1333.5,1476.3 1334.5,1476.3 1335.5,1476.3 1336.5,1476.3 1337.5,1476.3 1338.5,1476.3 1339.5,1476.3 1340.5,1476.3 1341.5,1476.3 1342.5,1476.3 1343.5,1476.3 1344.5,1476.3 1345.5,1476.3 1346.5,1476.3 1347.5,1476.3 1348.5,1476.3 1349.5,1476.3 1350.5,1476.3 1351.5,1476.3 1352.5,1476.3 1353.5,1476.3 1354.5,1476.3 1355.5,1476.3 1356.5,1476.3 1357.5,1476.3 1358.5,1476.3 1359.5,1476.3 1360.5,1476.3 1361.5,1476.3 1362.5,1476.3 1363.5,1476.3 1364.5,1476.3 1365.5,1476.3 1366.5,1476.3 1367.5,1476.3 1368.5,1476.3 1369.5,1476.3 1370.5,1476.3 1371.5,1476.3 1372.5,1476.3 1373.5,1476.3 1374.5,1476.3 1375.5,1476.3 1376.5,1476.3 1377.5,1476.3 1378.5,1476.3 1379.5,1476.3 1380.5,1476.3 1381.5,1476.3 1382.5,1476.3 1383.5,1476.3 1384.5,1476.3 1385.5,1476.3 1386.5,1476.3 1387.5,1476.3 1388.5,1476.3 1389.5,1476.3 1390.5,1476.3 1391.5,1476.3 1392.5,1476.3 1393.5,1476.4 1394.5,1476.4 1395.5,1476.4 1396.5,1476.4 1397.5,1476.4 1398.5,1476.4 1399.5,1476.4 1400.5,1476.4 1401.5,1476.4 1402.5,1476.4 1403.5,1476.5 1404.5,1476.5 1405.5,1476.5 1406.5,1476.5 1407.5,1476.5 1408.5,1476.6 1409.5,1476.6 1410.5,1476.6 1411.5,1476.6 1412.5,1476.7 1413.5,1476.7 1414.5,1476.7 1415.5,1476.8 1416.5,1476.8 1417.5,1476.9 1418.5,1476.9 1419.5,1477.0 1420.5,1477.0 1421.5,1477.1 1422.5,1477.1 1423.5,1477.2 1424.5,1477.3 1425.5,1477.3 1426.5,1477.4 1427.5,1477.5 1428.5,1477.5 1429.5,1477.6 1430.5,1477.7 1431.5,1477.8 1432.5,1477.9 1433.5,1477.9 1434.5,1478.0 1435.5,1478.1 1436.5,1478.2 1437.5,1478.3 1438.5,1478.4 1439.5,1478.5 1440.5,1478.6 1441.5,1478.7 1442.5,1478.8 1443.5,1478.9 1444.5,1479.0 1445.5,1479.1 1446.5,1479.2 1447.5,1479.3 1448.5,1479.4 1449.5,1479.5 1450.5,1479.6 1451.5,1479.7 1452.5,1479.7 1453.5,1479.8 1454.5,1479.9 1455.5,1480.0 1456.5,1480.1 1457.5,1480.2 1458.5,1480.3 1459.5,1480.4 1460.5,1480.4 1461.5,1480.5 1462.5,1480.6 1463.5,1480.6 1464.5,1480.7 1465.5,1480.8 1466.5,1480.8 1467.5,1480.9 1468.5,1480.9 1469.5,1481.0 1470.5,1481.1 1471.5,1481.1 1472.5,1481.1 1473.5,1481.2 1474.5,1481.2 1475.5,1481.3 1476.5,1481.3 1477.5,1481.3 1478.5,1481.4 1479.5,1481.4 1480.5,1481.4 1481.5,1481.4 1482.5,1481.5 1483.5,1481.5 1484.5,1481.5 1485.5,1481.5 1486.5,1481.5 1487.5,1481.5 1488.5,1481.6 1489.5,1481.6 1490.5,1481.6 1491.5,1481.6 1492.5,1481.6 1493.5,1481.6 1494.5,1481.6 1495.5,1481.6 1496.5,1481.6 1497.5,1481.6 1498.5,1481.6 1499.5,1481.6 1500.5,1481.6 1501.5,1481.6 1502.5,1481.6 1503.5,1481.6 1504.5,1481.6 1505.5,1481.6 1506.5,1481.6 1507.5,1481.6 1508.5,1481.6 1509.5,1481.6 1510.5,1481.6 1511.5,1481.6 1512.5,1481.6 1513.5,1481.6 1514.5,1481.6 1515.5,1481.6 1516.5,1481.6 1517.5,1481.6 1518.5,1481.6 1519.5,1481.6 1520.5,1481.6 1521.5,1481.6 1522.5,1481.6 1523.5,1481.6 1524.5,1481.6 1525.5,1481.6 1526.5,1481.6 1527.5,1481.6 1528.5,1481.6 1529.5,1481.6 1530.5,1481.6 1531.5,1481.6 1532.5,1481.6 1533.5,1481.6 1534.5,1481.6 1535.5,1481.6 1536.5,1481.6 1537.5,1481.6 1538.5,1481.6 1539.5,1481.6 1540.5,1481.6 1541.5,1481.6 1542.5,1481.6 1543.5,1481.6 1544.5,1481.6 1545.5,1481.6 1546.5,1481.6 1547.5,1481.6 1548.5,1481.6 1549.5,1481.6 1550.5,1481.6 1551.5,1481.6 1552.5,1481.6 1553.5,1481.6 1554.5,1481.6 1555.5,1481.6 1556.5,1481.5 1557.5,1481.5 1558.5,1481.5 1559.5,1481.5 1560.5,1481.5 1561.5,1481.5 1562.5,1481.5 1563.5,1481.5 1564.5,1481.5 1565.5,1481.5 1566.5,1481.5 1567.5,1481.5 1568.5,1481.5 1569.5,1481.5 1570.5,1481.5 1571.5,1481.5 1572.5,1481.5 1573.5,1481.5 1574.5,1481.5 1575.5,1481.5 1576.5,1481.5 1577.5,1481.5 1578.5,1481.5 1579.5,1481.5 1580.5,1481.5 1581.5,1481.5 1582.5,1481.5 1583.5,1481.5 1584.5,1481.5 1585.5,1481.5 1586.5,1481.5 1587.5,1481.5 1588.5,1481.5 1589.5,1481.4 1590.5,1481.4 1591.5,1481.4 1592.5,1481.4 1593.5,1481.4 1594.5,1481.4 1595.5,1481.4 1596.5,1481.4 1597.5,1481.4 1598.5,1481.4 1599.5,1481.4 1600.5,1481.4 1601.5,1481.4 1602.5,1481.4 1603.5,1481.4 1604.5,1481.4 1605.5,1481.4 1606.5,1481.4 1607.5,1481.4 1608.5,1481.4 1609.5,1481.4 1610.5,1481.4 1611.5,1481.4 1612.5,1481.4 1613.5,1481.3 1614.5,1481.3 1615.5,1481.3 1616.5,1481.3 1617.5,1481.3 1618.5,1481.3 1619.5,1481.3 1620.5,1481.3 1621.5,1481.3 1622.5,1481.3 1623.5,1481.3 1624.5,1481.3 1625.5,1481.3 1626.5,1481.3 1627.5,1481.3 1628.5,1481.3 1629.5,1481.3 1630.5,1481.3 1631.5,1481.3 1632.5,1481.2 1633.5,1481.2 1634.5,1481.2 1635.5,1481.2 1636.5,1481.2 1637.5,1481.2 1638.5,1481.2 1639.5,1481.2 1640.5,1481.2 1641.5,1481.2 1642.5,1481.2 1643.5,1481.2 1644.5,1481.2 1645.5,1481.2 1646.5,1481.2 1647.5,1481.2 1648.5,1481.1 1649.5,1481.1 1650.5,1481.1 1651.5,1481.1 1652.5,1481.1 1653.5,1481.1 1654.5,1481.1 1655.5,1481.1 1656.5,1481.1 1657.5,1481.1 1658.5,1481.1 1659.5,1481.1 1660.5,1481.1 1661.5,1481.1 1662.5,1481.0 1663.5,1481.0 1664.5,1481.0 1665.5,1481.0 1666.5,1481.0 1667.5,1481.0 1668.5,1481.0 1669.5,1481.0 1670.5,1481.0 1671.5,1481.0 1672.5,1481.0 1673.5,1480.9 1674.5,1480.9 1675.5,1480.9 1676.5,1480.9 1677.5,1480.9 1678.5,1480.9 1679.5,1480.9 1680.5,1480.9 1681.5,1480.9 1682.5,1480.9 1683.5,1480.8 1684.5,1480.8 1685.5,1480.8 1686.5,1480.8 1687.5,1480.8 1688.5,1480.8 1689.5,1480.8 1690.5,1480.8 1691.5,1480.8 1692.5,1480.7 1693.5,1480.7 1694.5,1480.7 1695.5,1480.7 1696.5,1480.7 1697.5,1480.7 1698.5,1480.7 1699.5,1480.6 1700.5,1480.6 1701.5,1480.6 1702.5,1480.6 1703.5,1480.6 1704.5,1480.6 1705.5,1480.6 1706.5,1480.5 1707.5,1480.5 1708.5,1480.5 1709.5,1480.5 1710.5,1480.5 1711.5,1480.5 1712.5,1480.4 1713.5,1480.4 1714.5,1480.4 1715.5,1480.4 1716.5,1480.4 1717.5,1480.4 1718.5,1480.3 1719.5,1480.3 1720.5,1480.3 1721.5,1480.3 1722.5,1480.3 1723.5,1480.2 1724.5,1480.2 1725.5,1480.2 1726.5,1480.2 1727.5,1480.2 1728.5,1480.1 1729.5,1480.1 1730.5,1480.1 1731.5,1480.1 1732.5,1480.0 1733.5,1480.0 1734.5,1480.0 1735.5,1480.0 1736.5,1479.9 1737.5,1479.9 1738.5,1479.9 1739.5,1479.9 1740.5,1479.8 1741.5,1479.8 1742.5,1479.8 1743.5,1479.8 1744.5,1479.7 1745.5,1479.7 1746.5,1479.7 1747.5,1479.6 1748.5,1479.6 1749.5,1479.6 1750.5,1479.5 1751.5,1479.5 1752.5,1479.5 1753.5,1479.4 1754.5,1479.4 1755.5,1479.4 1756.5,1479.3 1757.5,1479.3 1758.5,1479.2 1759.5,1479.2 1760.5,1479.2 1761.5,1479.1 1762.5,1479.1 1763.5,1479.0 1764.5,1479.0 1765.5,1478.9 1766.5,1478.9 1767.5,1478.8 1768.5,1478.8 1769.5,1478.7 1770.5,1478.7 1771.5,1478.6 1772.5,1478.6 1773.5,1478.5 1774.5,1478.5 1775.5,1478.4 1776.5,1478.4 1777.5,1478.3 1778.5,1478.2 1779.5,1478.2 1780.5,1478.1 1781.5,1478.0 1782.5,1478.0 1783.5,1477.9 1784.5,1477.8 1785.5,1477.7 1786.5,1477.7 1787.5,1477.6 1788.5,1477.5 1789.5,1477.4 1790.5,1477.3 1791.5,1477.2 1792.5,1477.2 1793.5,1477.1 1794.5,1477.0 1795.5,1476.9 1796.5,1476.8 1797.5,1476.7 1798.5,1476.6 1799.5,1476.4 1800.5,1476.3 1801.5,1476.2 1802.5,1476.1 1803.5,1476.0 1804.5,1475.8 1805.5,1475.7 1806.5,1475.5 1807.5,1475.4 1808.5,1475.2 1809.5,1475.1 1810.5,1474.9 1811.5,1474.7 1812.5,1474.5 1813.5,1474.3 1814.5,1474.1 1815.5,1473.9 1816.5,1473.7 1817.5,1473.4 1818.5,1473.2 1819.5,1472.9 1820.5,1472.6 1821.5,1472.3 1822.5,1471.9 1823.5,1471.6 1824.5,1471.2 1825.5,1470.7 1826.5,1470.3 1827.5,1469.8 1828.5,1469.3 1829.5,1468.7 1830.5,1468.1 1831.5,1467.4 1832.5,1466.7 1833.5,1465.9 1834.5,1465.1 1835.5,1464.2 1836.5,1463.2 1837.5,1462.1 1838.5,1461.0 1839.5,1459.7 1840.5,1458.4 1841.5,1456.9 1842.5,1455.3 1843.5,1453.7 1844.5,1451.8 1845.5,1449.9 1846.5,1447.8 1847.5,1445.6 1848.5,1443.2 1849.5,1440.7 1850.5,1438.0 1851.5,1435.1 1852.5,1432.1 1853.5,1428.9 1854.5,1425.4 1855.5,1421.9 1856.5,1418.1 1857.5,1414.1 1858.5,1410.0 1859.5,1405.7 1860.5,1401.2 1861.5,1396.5 1862.5,1391.6 1863.5,1386.6 1864.5,1381.4 1865.5,1376.1 1866.5,1370.6 1867.5,1365.0 1868.5,1359.3 1869.5,1353.5 1870.5,1347.6 1871.5,1341.7 1872.5,1335.7 1873.5,1329.7 1874.5,1323.8 1875.5,1317.9 1876.5,1312.0 1877.5,1306.3 1878.5,1300.8 1879.5,1295.4 1880.5,1290.2 1881.5,1285.3 1882.5,1280.6 1883.5,1276.3 1884.5,1272.4 1885.5,1268.9 1886.5,1265.8 1887.5,1263.3 1888.5,1261.2 1889.5,1259.7 1890.5,1258.7 1891.5,1258.2 1892.5,1258.4 1893.5,1259.1 1894.5,1260.4 1895.5,1262.3 1896.5,1264.6 1897.5,1267.5 1898.5,1270.9 1899.5,1274.7 1900.5,1278.9 1901.5,1283.5 1902.5,1288.4 1903.5,1293.6 1904.5,1299.0 1905.5,1304.7 1906.5,1310.5 1907.5,1316.5 1908.5,1322.6 1909.5,1328.7 1910.5,1334.9 1911.5,1341.1 1912.5,1347.3 1913.5,1353.5 1914.5,1359.5 1915.5,1365.5 1916.5,1371.5 1917.5,1377.2 1918.5,1382.9 1919.5,1388.4 1920.5,1393.7 1921.5,1398.9 1922.5,1403.9 1923.5,1408.8 1924.5,1413.4 1925.5,1417.9 1926.5,1422.1 1927.5,1426.2 1928.5,1430.1 1929.5,1433.8 1930.5,1437.3 1931.5,1440.6 1932.5,1443.7 1933.5,1446.6 1934.5,1449.4 1935.5,1452.0 1936.5,1454.4 1937.5,1456.7 1938.5,1458.9 1939.5,1460.9 1940.5,1462.7 1941.5,1464.4 1942.5,1466.0 1943.5,1467.5 1944.5,1468.9 1945.5,1470.2 1946.5,1471.4 1947.5,1472.5 1948.5,1473.5 1949.5,1474.4 1950.5,1475.3 1951.5,1476.1 1952.5,1476.8 1953.5,1477.5 1954.5,1478.1 1955.5,1478.7 1956.5,1479.2 1957.5,1479.7 1958.5,1480.2 1959.5,1480.6 1960.5,1481.0 1961.5,1481.4 1962.5,1481.7 1963.5,1482.0 1964.5,1482.3 1965.5,1482.6 1966.5,1482.9 1967.5,1483.1 1968.5,1483.4 1969.5,1483.6 1970.5,1483.8 1971.5,1484.0 1972.5,1484.2 1973.5,1484.4 1974.5,1484.6 1975.5,1484.7 1976.5,1484.9 1977.5,1485.0 1978.5,1485.2 1979.5,1485.3 1980.5,1485.4 1981.5,1485.6 1982.5,1485.7 1983.5,1485.8 1984.5,1485.9 1985.5,1486.1 1986.5,1486.2 1987.5,1486.3 1988.5,1486.4 1989.5,1486.5 1990.5,1486.6 1991.5,1486.7 1992.5,1486.7 1993.5,1486.8 1994.5,1486.9 1995.5,1487.0 1996.5,1487.1 1997.5,1487.2 1998.5,1487.2 1999.5,1487.3 2000.5,1487.4 2001.5,1487.5 2002.5,1487.5 2003.5,1487.6 2004.5,1487.7 2005.5,1487.7 2006.5,1487.8 2007.5,1487.9 2008.5,1487.9 2009.5,1488.0 2010.5,1488.0 2011.5,1488.1 2012.5,1488.1 2013.5,1488.2 2014.5,1488.2 2015.5,1488.3 2016.5,1488.3 2017.5,1488.4 2018.5,1488.4 2019.5,1488.5 2020.5,1488.5 2021.5,1488.6 2022.5,1488.6 2023.5,1488.7 2024.5,1488.7 2025.5,1488.7 2026.5,1488.8 2027.5,1488.8 2028.5,1488.9 2029.5,1488.9 2030.5,1488.9 2031.5,1489.0 2032.5,1489.0 2033.5,1489.0 2034.5,1489.1 2035.5,1489.1 2036.5,1489.1 2037.5,1489.2 2038.5,1489.2 2039.5,1489.2 2040.5,1489.3 2041.5,1489.3 2042.5,1489.3 2043.5,1489.3 2044.5,1489.4 2045.5,1489.4" fill="none" stroke="#ff00ff" stroke-width="3.4" stroke-linejoin="round" stroke-linecap="round"/>
<polyline points="1195.5,1475.9 1196.5,1475.9 1197.5,1475.9 1198.5,1475.9 1199.5,1475.9 1200.5,1475.9 1201.5,1475.9 1202.5,1475.9 1203.5,1475.9 1204.5,1475.9 1205.5,1475.9 1206.5,1475.9 1207.5,1475.9 1208.5,1475.9 1209.5,1475.9 1210.5,1475.9 1211.5,1475.9 1212.5,1475.9 1213.5,1475.8 1214.5,1475.8 1215.5,1475.8 1216.5,1475.8 1217.5,1475.8 1218.5,1475.8 1219.5,1475.8 1220.5,1475.8 1221.5,1475.8 1222.5,1475.8 1223.5,1475.8 1224.5,1475.8 1225.5,1475.8 1226.5,1475.8 1227.5,1475.8 1228.5,1475.8 1229.5,1475.7 1230.5,1475.7 1231.5,1475.7 1232.5,1475.7 1233.5,1475.7 1234.5,1475.7 1235.5,1475.7 1236.5,1475.7 1237.5,1475.7 1238.5,1475.7 1239.5,1475.7 1240.5,1475.7 1241.5,1475.7 1242.5,1475.6 1243.5,1475.6 1244.5,1475.6 1245.5,1475.6 1246.5,1475.6 1247.5,1475.6 1248.5,1475.6 1249.5,1475.6 1250.5,1475.6 1251.5,1475.6 1252.5,1475.6 1253.5,1475.5 1254.5,1475.5 1255.5,1475.5 1256.5,1475.5 1257.5,1475.5 1258.5,1475.5 1259.5,1475.5 1260.5,1475.5 1261.5,1475.5 1262.5,1475.5 1263.5,1475.4 1264.5,1475.4 1265.5,1475.4 1266.5,1475.4 1267.5,1475.4 1268.5,1475.4 1269.5,1475.4 1270.5,1475.4 1271.5,1475.3 1272.5,1475.3 1273.5,1475.3 1274.5,1475.3 1275.5,1475.3 1276.5,1475.3 1277.5,1475.3 1278.5,1475.2 1279.5,1475.2 1280.5,1475.2 1281.5,1475.2 1282.5,1475.2 1283.5,1475.2 1284.5,1475.2 1285.5,1475.1 1286.5,1475.1 1287.5,1475.1 1288.5,1475.1 1289.5,1475.1 1290.5,1475.1 1291.5,1475.0 1292.5,1475.0 1293.5,1475.0 1294.5,1475.0 1295.5,1475.0 1296.5,1474.9 1297.5,1474.9 1298.5,1474.9 1299.5,1474.9 1300.5,1474.9 1301.5,1474.8 1302.5,1474.8 1303.5,1474.8 1304.5,1474.8 1305.5,1474.7 1306.5,1474.7 1307.5,1474.7 1308.5,1474.7 1309.5,1474.6 1310.5,1474.6 1311.5,1474.6 1312.5,1474.5 1313.5,1474.5 1314.5,1474.5 1315.5,1474.5 1316.5,1474.4 1317.5,1474.4 1318.5,1474.4 1319.5,1474.3 1320.5,1474.3 1321.5,1474.3 1322.5,1474.2 1323.5,1474.2 1324.5,1474.2 1325.5,1474.1 1326.5,1474.1 1327.5,1474.0 1328.5,1474.0 1329.5,1474.0 1330.5,1473.9 1331.5,1473.9 1332.5,1473.8 1333.5,1473.8 1334.5,1473.7 1335.5,1473.7 1336.5,1473.6 1337.5,1473.6 1338.5,1473.5 1339.5,1473.5 1340.5,1473.4 1341.5,1473.4 1342.5,1473.3 1343.5,1473.3 1344.5,1473.2 1345.5,1473.1 1346.5,1473.1 1347.5,1473.0 1348.5,1472.9 1349.5,1472.9 1350.5,1472.8 1351.5,1472.7 1352.5,1472.6 1353.5,1472.5 1354.5,1472.5 1355.5,1472.4 1356.5,1472.3 1357.5,1472.2 1358.5,1472.1 1359.5,1472.0 1360.5,1471.9 1361.5,1471.8 1362.5,1471.7 1363.5,1471.5 1364.5,1471.4 1365.5,1471.3 1366.5,1471.1 1367.5,1471.0 1368.5,1470.8 1369.5,1470.7 1370.5,1470.5 1371.5,1470.3 1372.5,1470.1 1373.5,1469.9 1374.5,1469.6 1375.5,1469.4 1376.5,1469.1 1377.5,1468.8 1378.5,1468.5 1379.5,1468.2 1380.5,1467.9 1381.5,1467.5 1382.5,1467.1 1383.5,1466.6 1384.5,1466.1 1385.5,1465.6 1386.5,1465.0 1387.5,1464.4 1388.5,1463.8 1389.5,1463.0 1390.5,1462.3 1391.5,1461.4 1392.5,1460.5 1393.5,1459.6 1394.5,1458.5 1395.5,1457.4 1396.5,1456.2 1397.5,1454.9 1398.5,1453.5 1399.5,1452.0 1400.5,1450.5 1401.5,1448.8 1402.5,1447.0 1403.5,1445.1 1404.5,1443.0 1405.5,1440.9 1406.5,1438.6 1407.5,1436.3 1408.5,1433.8 1409.5,1431.1 1410.5,1428.4 1411.5,1425.5 1412.5,1422.5 1413.5,1419.4 1414.5,1416.1 1415.5,1412.8 1416.5,1409.3 1417.5,1405.8 1418.5,1402.1 1419.5,1398.4 1420.5,1394.5 1421.5,1390.6 1422.5,1386.7 1423.5,1382.7 1424.5,1378.7 1425.5,1374.7 1426.5,1370.7 1427.5,1366.7 1428.5,1362.7 1429.5,1358.8 1430.5,1355.0 1431.5,1351.3 1432.5,1347.7 1433.5,1344.3 1434.5,1341.0 1435.5,1338.0 1436.5,1335.2 1437.5,1332.7 1438.5,1330.4 1439.5,1328.5 1440.5,1326.8 1441.5,1325.6 1442.5,1324.6 1443.5,1324.1 1444.5,1323.9 1445.5,1324.2 1446.5,1324.8 1447.5,1325.7 1448.5,1327.1 1449.5,1328.8 1450.5,1330.8 1451.5,1333.1 1452.5,1335.7 1453.5,1338.6 1454.5,1341.7 1455.5,1345.1 1456.5,1348.6 1457.5,1352.3 1458.5,1356.1 1459.5,1360.1 1460.5,1364.1 1461.5,1368.2 1462.5,1372.3 1463.5,1376.5 1464.5,1380.7 1465.5,1384.8 1466.5,1388.9 1467.5,1393.0 1468.5,1397.0 1469.5,1401.0 1470.5,1404.9 1471.5,1408.7 1472.5,1412.3 1473.5,1415.9 1474.5,1419.4 1475.5,1422.8 1476.5,1426.0 1477.5,1429.1 1478.5,1432.1 1479.5,1435.0 1480.5,1437.7 1481.5,1440.3 1482.5,1442.8 1483.5,1445.1 1484.5,1447.4 1485.5,1449.5 1486.5,1451.4 1487.5,1453.3 1488.5,1455.1 1489.5,1456.7 1490.5,1458.3 1491.5,1459.7 1492.5,1461.1 1493.5,1462.3 1494.5,1463.5 1495.5,1464.6 1496.5,1465.6 1497.5,1466.5 1498.5,1467.4 1499.5,1468.2 1500.5,1468.9 1501.5,1469.6 1502.5,1470.3 1503.5,1470.8 1504.5,1471.4 1505.5,1471.9 1506.5,1472.4 1507.5,1472.8 1508.5,1473.2 1509.5,1473.6 1510.5,1473.9 1511.5,1474.2 1512.5,1474.5 1513.5,1474.8 1514.5,1475.0 1515.5,1475.3 1516.5,1475.5 1517.5,1475.7 1518.5,1475.9 1519.5,1476.1 1520.5,1476.3 1521.5,1476.4 1522.5,1476.6 1523.5,1476.7 1524.5,1476.9 1525.5,1477.0 1526.5,1477.1 1527.5,1477.2 1528.5,1477.3 1529.5,1477.4 1530.5,1477.5 1531.5,1477.6 1532.5,1477.7 1533.5,1477.8 1534.5,1477.9 1535.5,1478.0 1536.5,1478.1 1537.5,1478.2 1538.5,1478.3 1539.5,1478.3 1540.5,1478.4 1541.5,1478.5 1542.5,1478.5 1543.5,1478.6 1544.5,1478.7 1545.5,1478.7 1546.5,1478.8 1547.5,1478.8 1548.5,1478.9 1549.5,1479.0 1550.5,1479.0 1551.5,1479.1 1552.5,1479.1 1553.5,1479.2 1554.5,1479.2 1555.5,1479.3 1556.5,1479.3 1557.5,1479.4 1558.5,1479.4 1559.5,1479.4 1560.5,1479.5 1561.5,1479.5 1562.5,1479.6 1563.5,1479.6 1564.5,1479.6 1565.5,1479.7 1566.5,1479.7 1567.5,1479.8 1568.5,1479.8 1569.5,1479.8 1570.5,1479.9 1571.5,1479.9 1572.5,1479.9 1573.5,1480.0 1574.5,1480.0 1575.5,1480.0 1576.5,1480.0 1577.5,1480.1 1578.5,1480.1 1579.5,1480.1 1580.5,1480.1 1581.5,1480.2 1582.5,1480.2 1583.5,1480.2 1584.5,1480.3 1585.5,1480.3 1586.5,1480.3 1587.5,1480.3 1588.5,1480.3 1589.5,1480.4 1590.5,1480.4 1591.5,1480.4 1592.5,1480.4 1593.5,1480.4 1594.5,1480.5 1595.5,1480.5 1596.5,1480.5 1597.5,1480.5 1598.5,1480.5 1599.5,1480.6 1600.5,1480.6 1601.5,1480.6 1602.5,1480.6 1603.5,1480.6 1604.5,1480.7 1605.5,1480.7 1606.5,1480.7 1607.5,1480.7 1608.5,1480.7 1609.5,1480.7 1610.5,1480.7 1611.5,1480.8 1612.5,1480.8 1613.5,1480.8 1614.5,1480.8 1615.5,1480.8 1616.5,1480.8 1617.5,1480.8 1618.5,1480.9 1619.5,1480.9 1620.5,1480.9 1621.5,1480.9 1622.5,1480.9 1623.5,1480.9 1624.5,1480.9 1625.5,1480.9 1626.5,1481.0 1627.5,1481.0 1628.5,1481.0 1629.5,1481.0 1630.5,1481.0 1631.5,1481.0 1632.5,1481.0 1633.5,1481.0 1634.5,1481.0 1635.5,1481.0 1636.5,1481.1 1637.5,1481.1 1638.5,1481.1 1639.5,1481.1 1640.5,1481.1 1641.5,1481.1 1642.5,1481.1 1643.5,1481.1 1644.5,1481.1 1645.5,1481.1 1646.5,1481.1 1647.5,1481.2 1648.5,1481.2 1649.5,1481.2 1650.5,1481.2 1651.5,1481.2 1652.5,1481.2 1653.5,1481.2 1654.5,1481.2 1655.5,1481.2 1656.5,1481.2 1657.5,1481.2 1658.5,1481.2 1659.5,1481.2 1660.5,1481.3 1661.5,1481.3 1662.5,1481.3 1663.5,1481.3 1664.5,1481.3 1665.5,1481.3 1666.5,1481.3 1667.5,1481.3 1668.5,1481.3 1669.5,1481.3 1670.5,1481.3 1671.5,1481.3 1672.5,1481.3 1673.5,1481.3 1674.5,1481.3 1675.5,1481.3 1676.5,1481.4 1677.5,1481.4 1678.5,1481.4 1679.5,1481.4 1680.5,1481.4 1681.5,1481.4 1682.5,1481.4 1683.5,1481.4 1684.5,1481.4 1685.5,1481.4 1686.5,1481.4 1687.5,1481.4 1688.5,1481.4 1689.5,1481.4 1690.5,1481.4 1691.5,1481.4 1692.5,1481.4 1693.5,1481.4 1694.5,1481.4 1695.5,1481.4 1696.5,1481.4 1697.5,1481.5 1698.5,1481.5 1699.5,1481.5 1700.5,1481.5 1701.5,1481.5 1702.5,1481.5 1703.5,1481.5 1704.5,1481.5 1705.5,1481.5 1706.5,1481.5 1707.5,1481.5 1708.5,1481.5 1709.5,1481.5 1710.5,1481.5 1711.5,1481.5 1712.5,1481.5 1713.5,1481.5 1714.5,1481.5 1715.5,1481.5 1716.5,1481.5 1717.5,1481.5 1718.5,1481.5 1719.5,1481.5 1720.5,1481.5 1721.5,1481.5 1722.5,1481.5 1723.5,1481.5 1724.5,1481.6 1725.5,1481.6 1726.5,1481.6 1727.5,1481.6 1728.5,1481.6 1729.5,1481.6 1730.5,1481.6 1731.5,1481.6 1732.5,1481.6 1733.5,1481.6 1734.5,1481.6 1735.5,1481.6 1736.5,1481.6 1737.5,1481.6 1738.5,1481.6 1739.5,1481.6 1740.5,1481.6 1741.5,1481.6 1742.5,1481.6 1743.5,1481.6 1744.5,1481.6 1745.5,1481.6 1746.5,1481.6 1747.5,1481.6 1748.5,1481.6 1749.5,1481.6 1750.5,1481.6 1751.5,1481.6 1752.5,1481.6 1753.5,1481.6 1754.5,1481.6 1755.5,1481.6 1756.5,1481.6 1757.5,1481.6 1758.5,1481.6 1759.5,1481.6 1760.5,1481.6 1761.5,1481.7 1762.5,1481.7 1763.5,1481.7 1764.5,1481.7 1765.5,1481.7 1766.5,1481.7 1767.5,1481.7 1768.5,1481.7 1769.5,1481.7 1770.5,1481.7 1771.5,1481.7 1772.5,1481.7 1773.5,1481.7 1774.5,1481.7 1775.5,1481.7 1776.5,1481.7 1777.5,1481.7 1778.5,1481.7 1779.5,1481.7 1780.5,1481.7 1781.5,1481.7 1782.5,1481.7 1783.5,1481.7 1784.5,1481.7 1785.5,1481.7 1786.5,1481.7 1787.5,1481.7 1788.5,1481.7 1789.5,1481.7 1790.5,1481.7 1791.5,1481.7 1792.5,1481.7 1793.5,1481.7 1794.5,1481.7 1795.5,1481.7 1796.5,1481.7 1797.5,1481.7 1798.5,1481.7 1799.5,1481.7 1800.5,1481.7 1801.5,1481.7 1802.5,1481.7 1803.5,1481.7 1804.5,1481.7 1805.5,1481.7 1806.5,1481.7 1807.5,1481.7 1808.5,1481.7 1809.5,1481.7 1810.5,1481.7 1811.5,1481.7 1812.5,1481.7 1813.5,1481.7 1814.5,1481.7 1815.5,1481.8 1816.5,1481.8 1817.5,1481.8 1818.5,1481.8 1819.5,1481.8 1820.5,1481.8 1821.5,1481.8 1822.5,1481.8 1823.5,1481.8 1824.5,1481.8 1825.5,1481.8 1826.5,1481.8 1827.5,1481.8 1828.5,1481.8 1829.5,1481.8 1830.5,1481.8 1831.5,1481.8 1832.5,1481.8 1833.5,1481.8 1834.5,1481.8 1835.5,1481.9 1836.5,1481.9 1837.5,1481.9 1838.5,1481.9 1839.5,1481.9 1840.5,1481.9 1841.5,1481.9 1842.5,1482.0 1843.5,1482.0 1844.5,1482.0 1845.5,1482.0 1846.5,1482.1 1847.5,1482.1 1848.5,1482.1 1849.5,1482.1 1850.5,1482.2 1851.5,1482.2 1852.5,1482.3 1853.5,1482.3 1854.5,1482.4 1855.5,1482.4 1856.5,1482.5 1857.5,1482.5 1858.5,1482.6 1859.5,1482.6 1860.5,1482.7 1861.5,1482.8 1862.5,1482.8 1863.5,1482.9 1864.5,1483.0 1865.5,1483.1 1866.5,1483.2 1867.5,1483.3 1868.5,1483.4 1869.5,1483.5 1870.5,1483.6 1871.5,1483.7 1872.5,1483.8 1873.5,1483.9 1874.5,1484.0 1875.5,1484.1 1876.5,1484.3 1877.5,1484.4 1878.5,1484.5 1879.5,1484.7 1880.5,1484.8 1881.5,1485.0 1882.5,1485.1 1883.5,1485.3 1884.5,1485.4 1885.5,1485.6 1886.5,1485.7 1887.5,1485.9 1888.5,1486.0 1889.5,1486.2 1890.5,1486.3 1891.5,1486.5 1892.5,1486.7 1893.5,1486.8 1894.5,1487.0 1895.5,1487.1 1896.5,1487.3 1897.5,1487.4 1898.5,1487.6 1899.5,1487.7 1900.5,1487.9 1901.5,1488.0 1902.5,1488.2 1903.5,1488.3 1904.5,1488.5 1905.5,1488.6 1906.5,1488.7 1907.5,1488.9 1908.5,1489.0 1909.5,1489.1 1910.5,1489.2 1911.5,1489.4 1912.5,1489.5 1913.5,1489.6 1914.5,1489.7 1915.5,1489.8 1916.5,1489.9 1917.5,1490.0 1918.5,1490.1 1919.5,1490.1 1920.5,1490.2 1921.5,1490.3 1922.5,1490.4 1923.5,1490.4 1924.5,1490.5 1925.5,1490.6 1926.5,1490.6 1927.5,1490.7 1928.5,1490.7 1929.5,1490.8 1930.5,1490.8 1931.5,1490.9 1932.5,1490.9 1933.5,1491.0 1934.5,1491.0 1935.5,1491.0 1936.5,1491.1 1937.5,1491.1 1938.5,1491.1 1939.5,1491.1 1940.5,1491.2 1941.5,1491.2 1942.5,1491.2 1943.5,1491.2 1944.5,1491.2 1945.5,1491.2 1946.5,1491.2 1947.5,1491.3 1948.5,1491.3 1949.5,1491.3 1950.5,1491.3 1951.5,1491.3 1952.5,1491.3 1953.5,1491.3 1954.5,1491.3 1955.5,1491.3 1956.5,1491.3 1957.5,1491.3 1958.5,1491.3 1959.5,1491.3 1960.5,1491.3 1961.5,1491.4 1962.5,1491.4 1963.5,1491.4 1964.5,1491.4 1965.5,1491.4 1966.5,1491.4 1967.5,1491.4 1968.5,1491.4 1969.5,1491.4 1970.5,1491.4 1971.5,1491.4 1972.5,1491.4 1973.5,1491.4 1974.5,1491.4 1975.5,1491.4 1976.5,1491.4 1977.5,1491.4 1978.5,1491.4 1979.5,1491.4 1980.5,1491.4 1981.5,1491.4 1982.5,1491.4 1983.5,1491.4 1984.5,1491.4 1985.5,1491.4 1986.5,1491.4 1987.5,1491.4 1988.5,1491.4 1989.5,1491.4 1990.5,1491.4 1991.5,1491.4 1992.5,1491.4 1993.5,1491.4 1994.5,1491.4 1995.5,1491.4 1996.5,1491.4 1997.5,1491.4 1998.5,1491.4 1999.5,1491.4 2000.5,1491.4 2001.5,1491.4 2002.5,1491.4 2003.5,1491.4 2004.5,1491.4 2005.5,1491.4 2006.5,1491.4 2007.5,1491.4 2008.5,1491.4 2009.5,1491.4 2010.5,1491.4 2011.5,1491.4 2012.5,1491.4 2013.5,1491.4 2014.5,1491.4 2015.5,1491.4 2016.5,1491.4 2017.5,1491.4 2018.5,1491.4 2019.5,1491.4 2020.5,1491.4 2021.5,1491.4 2022.5,1491.4 2023.5,1491.4 2024.5,1491.4 2025.5,1491.4 2026.5,1491.4 2027.5,1491.4 2028.5,1491.4 2029.5,1491.4 2030.5,1491.4 2031.5,1491.4 2032.5,1491.4 2033.5,1491.4 2034.5,1491.4 2035.5,1491.4 2036.5,1491.4 2037.5,1491.4 2038.5,1491.4 2039.5,1491.4 2040.5,1491.4 2041.5,1491.4 2042.5,1491.4 2043.5,1491.4 2044.5,1491.4 2045.5,1491.4 2046.5,1491.4 2047.5,1491.4 2048.5,1491.4 2049.5,1491.4 2050.5,1491.4 2051.5,1491.4 2052.5,1491.4 2053.5,1491.4 2054.5,1491.4 2055.5,1491.4 2056.5,1491.4 2057.5,1491.4 2058.5,1491.4 2059.5,1491.4 2060.5,1491.4 2061.5,1491.4 2062.5,1491.4 2063.5,1491.4 2064.5,1491.4 2065.5,1491.4 2066.5,1491.4 2067.5,1491.4 2068.5,1491.4 2069.5,1491.4 2070.5,1491.4 2071.5,1491.4 2072.5,1491.4 2073.5,1491.4 2074.5,1491.4 2075.5,1491.4 2076.5,1491.4 2077.5,1491.4 2078.5,1491.4 2079.5,1491.4 2080.5,1491.4 2081.5,1491.4 2082.5,1491.4 2083.5,1491.4 2084.5,1491.4 2085.5,1491.4 2086.5,1491.4 2087.5,1491.4 2088.5,1491.4 2089.5,1491.4 2090.5,1491.4 2091.5,1491.4 2092.5,1491.4 2093.5,1491.4 2094.5,1491.4 2095.5,1491.4 2096.5,1491.4 2097.5,1491.4 2098.5,1491.4 2099.5,1491.4 2100.5,1491.4 2101.5,1491.4 2102.5,1491.4 2103.5,1491.4 2104.5,1491.4 2105.5,1491.4 2106.5,1491.4 2107.5,1491.4 2108.5,1491.4 2109.5,1491.4 2110.5,1491.4 2111.5,1491.4 2112.5,1491.4 2113.5,1491.4 2114.5,1491.4 2115.5,1491.4 2116.5,1491.4 2117.5,1491.4 2118.5,1491.4 2119.5,1491.4 2120.5,1491.4 2121.5,1491.4 2122.5,1491.4 2123.5,1491.4 2124.5,1491.4 2125.5,1491.4 2126.5,1491.4 2127.5,1491.4 2128.5,1491.4 2129.5,1491.4 2130.5,1491.4 2131.5,1491.4 2132.5,1491.4 2133.5,1491.4 2134.5,1491.4 2135.5,1491.4 2136.5,1491.4 2137.5,1491.4 2138.5,1491.4 2139.5,1491.4 2140.5,1491.4 2141.5,1491.4 2142.5,1491.4 2143.5,1491.4 2144.5,1491.4 2145.5,1491.4 2146.5,1491.4" fill="none" stroke="#0000ff" stroke-width="4.0" stroke-linejoin="round" stroke-linecap="round"/>
<polyline points="129.5,2022.0 130.5,2021.9 131.5,2021.6 132.5,2020.8 133.5,2020.7 134.5,2020.8 135.5,2021.6 136.5,2022.0 137.5,2021.8 138.5,2022.0 139.5,2022.1 140.5,2022.1 141.5,2021.0 142.5,2022.1 143.5,2023.1 144.5,2023.5 145.5,2022.8 146.5,2021.7 147.5,2022.6 148.5,2021.5 149.5,2021.6 150.5,2020.9 151.5,2021.6 152.5,2022.0 153.5,2022.3 154.5,2020.9 155.5,2020.5 156.5,2020.0 157.5,2021.7 158.5,2021.5 159.5,2021.0 160.5,2020.2 161.5,2019.8 162.5,2021.0 163.5,2020.5 164.5,2021.3 165.5,2020.3 166.5,2021.4 167.5,2021.2 168.5,2022.3 169.5,2021.6 170.5,2022.6 171.5,2022.2 172.5,2022.6 173.5,2021.6 174.5,2022.2 175.5,2021.3 176.5,2020.6 177.5,2020.2 178.5,2020.6 179.5,2020.8 180.5,2020.8 181.5,2021.1 182.5,2020.4 183.5,2020.3 184.5,2020.0 185.5,2020.6 186.5,2020.9 187.5,2021.5 188.5,2022.6 189.5,2022.0 190.5,2021.3 191.5,2021.8 192.5,2022.5 193.5,2023.2 194.5,2021.6 195.5,2021.0 196.5,2021.1 197.5,2020.1 198.5,2019.7 199.5,2019.4 200.5,2019.9 201.5,2020.8 202.5,2020.6 203.5,2020.7 204.5,2020.3 205.5,2020.4 206.5,2021.2 207.5,2021.5 208.5,2020.7 209.5,2020.5 210.5,2020.4 211.5,2021.3 212.5,2021.6 213.5,2022.7 214.5,2022.4 215.5,2022.0 216.5,2021.0 217.5,2021.1 218.5,2021.8 219.5,2021.4 220.5,2022.4 221.5,2021.6 222.5,2021.6 223.5,2021.2 224.5,2021.5 225.5,2022.1 226.5,2022.0 227.5,2022.4 228.5,2021.4 229.5,2021.5 230.5,2021.1 231.5,2021.9 232.5,2021.1 233.5,2021.3 234.5,2021.5 235.5,2022.1 236.5,2022.1 237.5,2021.8 238.5,2021.6 239.5,2021.6 240.5,2021.4 241.5,2021.5 242.5,2021.4 243.5,2022.0 244.5,2022.9 245.5,2023.2 246.5,2022.8 247.5,2021.6 248.5,2021.2 249.5,2020.7 250.5,2020.6 251.5,2019.6 252.5,2020.6 253.5,2021.6 254.5,2022.0 255.5,2021.5 256.5,2021.1 257.5,2022.3 258.5,2022.9 259.5,2022.4 260.5,2021.8 261.5,2020.4 262.5,2020.8 263.5,2020.6 264.5,2021.2 265.5,2020.8 266.5,2020.6 267.5,2021.7 268.5,2021.9 269.5,2022.1 270.5,2021.5 271.5,2022.2 272.5,2022.0 273.5,2022.3 274.5,2022.5 275.5,2022.8 276.5,2022.3 277.5,2021.6 278.5,2021.7 279.5,2021.7 280.5,2022.3 281.5,2021.3 282.5,2021.6 283.5,2021.0 284.5,2022.4 285.5,2022.5 286.5,2022.5 287.5,2021.9 288.5,2021.1 289.5,2020.7 290.5,2020.6 291.5,2021.2 292.5,2021.5 293.5,2021.0 294.5,2020.6 295.5,2020.2 296.5,2020.8 297.5,2021.1 298.5,2022.1 299.5,2022.6 300.5,2021.9 301.5,2020.2 302.5,2019.7 303.5,2020.0 304.5,2021.5 305.5,2021.8 306.5,2021.8 307.5,2021.5 308.5,2021.5 309.5,2021.3 310.5,2020.3 311.5,2020.1 312.5,2020.4 313.5,2021.2 314.5,2021.6 315.5,2021.5 316.5,2021.4 317.5,2020.9 318.5,2021.8 319.5,2021.6 320.5,2021.9 321.5,2020.5 322.5,2021.3 323.5,2020.7 324.5,2021.1 325.5,2021.1 326.5,2022.4 327.5,2021.8 328.5,2021.4 329.5,2019.8 330.5,2021.2 331.5,2021.3 332.5,2021.3 333.5,2021.1 334.5,2021.4 335.5,2021.7 336.5,2021.7 337.5,2021.6 338.5,2022.1 339.5,2021.2 340.5,2021.3 341.5,2021.3 342.5,2021.4 343.5,2022.7 344.5,2023.0 345.5,2023.5 346.5,2021.6 347.5,2020.8 348.5,2020.7 349.5,2021.1 350.5,2020.6 351.5,2020.1 352.5,2020.5 353.5,2020.5 354.5,2021.9 355.5,2021.3 356.5,2021.2 357.5,2019.9 358.5,2020.7 359.5,2021.5 360.5,2021.4 361.5,2021.2 362.5,2021.3 363.5,2021.5 364.5,2020.4 365.5,2019.4 366.5,2019.7 367.5,2020.5 368.5,2021.9 369.5,2022.6 370.5,2022.8 371.5,2021.4 372.5,2020.5 373.5,2020.2 374.5,2020.8 375.5,2021.1 376.5,2020.6 377.5,2020.8 378.5,2021.2 379.5,2021.6 380.5,2020.9 381.5,2020.2 382.5,2019.5 383.5,2019.4 384.5,2020.0 385.5,2020.5 386.5,2022.4 387.5,2022.2 388.5,2022.5 389.5,2021.1 390.5,2020.5 391.5,2020.6 392.5,2020.6 393.5,2021.6 394.5,2021.7 395.5,2022.4 396.5,2021.7 397.5,2020.8 398.5,2021.0 399.5,2020.6 400.5,2021.0 401.5,2020.8 402.5,2020.9 403.5,2020.7 404.5,2019.7 405.5,2020.3 406.5,2021.3 407.5,2021.5 408.5,2021.5 409.5,2021.6 410.5,2022.8 411.5,2022.8 412.5,2021.6 413.5,2020.1 414.5,2019.2 415.5,2019.8 416.5,2021.1 417.5,2022.0 418.5,2021.7 419.5,2021.2 420.5,2020.4 421.5,2019.5 422.5,2018.9 423.5,2019.5 424.5,2020.5 425.5,2020.7 426.5,2019.9 427.5,2020.4 428.5,2020.3 429.5,2019.8 430.5,2017.7 431.5,2016.8 432.5,2016.7 433.5,2016.7 434.5,2016.8 435.5,2015.9 436.5,2016.9 437.5,2015.9 438.5,2016.0 439.5,2013.8 440.5,2013.6 441.5,2012.9 442.5,2012.7 443.5,2011.1 444.5,2010.7 445.5,2010.2 446.5,2009.8 447.5,2008.1 448.5,2007.3 449.5,2006.5 450.5,2006.2 451.5,2004.4 452.5,2003.9 453.5,2003.0 454.5,2002.5 455.5,2001.5 456.5,2000.2 457.5,2000.0 458.5,1999.4 459.5,1998.2 460.5,1996.4 461.5,1994.4 462.5,1992.9 463.5,1991.2 464.5,1989.7 465.5,1988.8 466.5,1987.4 467.5,1985.8 468.5,1983.4 469.5,1981.8 470.5,1980.7 471.5,1979.0 472.5,1976.8 473.5,1974.7 474.5,1973.4 475.5,1971.2 476.5,1968.7 477.5,1965.1 478.5,1964.3 479.5,1961.6 480.5,1959.4 481.5,1955.8 482.5,1953.4 483.5,1951.6 484.5,1948.3 485.5,1945.7 486.5,1942.5 487.5,1940.3 488.5,1938.1 489.5,1935.0 490.5,1931.4 491.5,1927.8 492.5,1924.5 493.5,1922.4 494.5,1919.4 495.5,1916.9 496.5,1912.9 497.5,1909.3 498.5,1906.3 499.5,1904.4 500.5,1901.6 501.5,1899.3 502.5,1897.1 503.5,1895.6 504.5,1894.3 505.5,1892.5 506.5,1891.8 507.5,1889.5 508.5,1888.3 509.5,1885.1 510.5,1884.1 511.5,1883.5 512.5,1884.0 513.5,1883.8 514.5,1882.5 515.5,1883.5 516.5,1884.5 517.5,1885.4 518.5,1885.2 519.5,1885.3 520.5,1885.4 521.5,1886.4 522.5,1887.2 523.5,1888.6 524.5,1890.2 525.5,1891.8 526.5,1893.1 527.5,1894.3 528.5,1895.7 529.5,1897.8 530.5,1899.0 531.5,1900.7 532.5,1902.1 533.5,1903.2 534.5,1905.4 535.5,1906.7 536.5,1907.3 537.5,1907.9 538.5,1908.2 539.5,1910.6 540.5,1911.7 541.5,1913.1 542.5,1913.6 543.5,1914.0 544.5,1914.9 545.5,1915.5 546.5,1915.1 547.5,1914.9 548.5,1913.8 549.5,1913.5 550.5,1913.0 551.5,1913.7 552.5,1913.5 553.5,1912.2 554.5,1910.6 555.5,1908.3 556.5,1907.5 557.5,1907.1 558.5,1906.6 559.5,1904.6 560.5,1902.0 561.5,1899.7 562.5,1897.2 563.5,1894.2 564.5,1891.5 565.5,1889.6 566.5,1886.8 567.5,1883.4 568.5,1879.1 569.5,1875.9 570.5,1872.1 571.5,1869.8 572.5,1866.1 573.5,1861.2 574.5,1857.0 575.5,1852.9 576.5,1850.1 577.5,1845.3 578.5,1840.6 579.5,1835.9 580.5,1831.2 581.5,1827.1 582.5,1823.5 583.5,1820.5 584.5,1816.6 585.5,1812.8 586.5,1808.3 587.5,1804.0 588.5,1799.4 589.5,1794.9 590.5,1792.6 591.5,1789.1 592.5,1786.7 593.5,1782.7 594.5,1781.9 595.5,1778.5 596.5,1776.1 597.5,1772.7 598.5,1771.1 599.5,1770.5 600.5,1769.9 601.5,1769.9 602.5,1769.8 603.5,1768.6 604.5,1768.0 605.5,1767.0 606.5,1767.5 607.5,1768.3 608.5,1770.4 609.5,1771.6 610.5,1774.0 611.5,1774.9 612.5,1777.1 613.5,1777.8 614.5,1780.6 615.5,1783.7 616.5,1787.2 617.5,1789.7 618.5,1793.0 619.5,1796.6 620.5,1800.8 621.5,1804.0 622.5,1808.5 623.5,1813.3 624.5,1819.0 625.5,1822.9 626.5,1827.2 627.5,1831.9 628.5,1838.0 629.5,1843.4 630.5,1848.9 631.5,1853.4 632.5,1858.5 633.5,1863.2 634.5,1868.4 635.5,1872.6 636.5,1878.1 637.5,1883.4 638.5,1888.6 639.5,1894.3 640.5,1899.3 641.5,1905.3 642.5,1909.8 643.5,1914.8 644.5,1919.6 645.5,1924.6 646.5,1929.0 647.5,1932.8 648.5,1937.3 649.5,1942.2 650.5,1946.6 651.5,1950.7 652.5,1953.9 653.5,1958.1 654.5,1961.4 655.5,1965.6 656.5,1969.2 657.5,1972.1 658.5,1974.5 659.5,1977.0 660.5,1980.4 661.5,1984.0 662.5,1986.9 663.5,1989.0 664.5,1991.9 665.5,1993.9 666.5,1996.3 667.5,1998.0 668.5,1999.8 669.5,2001.8 670.5,2003.6 671.5,2006.0 672.5,2006.5 673.5,2008.3 674.5,2009.1 675.5,2011.0 676.5,2011.8 677.5,2013.5 678.5,2014.3 679.5,2015.2 680.5,2015.7 681.5,2016.7 682.5,2017.3 683.5,2017.6 684.5,2018.2 685.5,2019.4 686.5,2019.9 687.5,2019.7 688.5,2020.3 689.5,2020.5 690.5,2021.5 691.5,2020.9 692.5,2022.0 693.5,2022.3 694.5,2023.1 695.5,2023.0 696.5,2022.9 697.5,2024.1 698.5,2024.5 699.5,2025.5 700.5,2024.0 701.5,2023.8 702.5,2023.5 703.5,2024.7 704.5,2024.8 705.5,2025.3 706.5,2024.9 707.5,2025.0 708.5,2025.2 709.5,2025.6 710.5,2025.5 711.5,2025.5 712.5,2024.9 713.5,2025.6 714.5,2025.3 715.5,2027.0 716.5,2027.0 717.5,2028.1 718.5,2027.4 719.5,2027.0 720.5,2026.4 721.5,2025.4 722.5,2025.1 723.5,2024.7 724.5,2026.1 725.5,2027.1 726.5,2026.5 727.5,2024.9 728.5,2024.6 729.5,2024.5 730.5,2025.0 731.5,2024.5 732.5,2024.8 733.5,2024.9 734.5,2025.1 735.5,2026.0 736.5,2026.1 737.5,2026.2 738.5,2026.0 739.5,2026.5 740.5,2026.5 741.5,2025.9 742.5,2025.7 743.5,2025.0 744.5,2025.3 745.5,2026.0 746.5,2026.9 747.5,2025.6 748.5,2025.2 749.5,2025.2 750.5,2026.5 751.5,2026.5 752.5,2026.6 753.5,2026.7 754.5,2026.2 755.5,2025.4 756.5,2025.9 757.5,2025.0 758.5,2025.7 759.5,2025.1 760.5,2026.2 761.5,2025.8 762.5,2025.9 763.5,2025.5 764.5,2025.3 765.5,2026.1 766.5,2026.3 767.5,2027.4 768.5,2027.0 769.5,2027.2 770.5,2026.7 771.5,2026.4 772.5,2026.7 773.5,2026.5 774.5,2026.4 775.5,2026.2 776.5,2026.3 777.5,2026.7 778.5,2026.1 779.5,2026.1 780.5,2026.3 781.5,2027.0 782.5,2026.5 783.5,2026.1 784.5,2025.1 785.5,2026.0 786.5,2025.6 787.5,2025.3 788.5,2024.4 789.5,2024.3 790.5,2026.2 791.5,2026.4 792.5,2027.3 793.5,2025.9 794.5,2026.3 795.5,2026.6 796.5,2027.3 797.5,2027.8 798.5,2027.6 799.5,2027.1 800.5,2026.7 801.5,2026.4 802.5,2026.2 803.5,2027.0 804.5,2026.5 805.5,2026.1 806.5,2024.9 807.5,2025.9 808.5,2026.3 809.5,2026.6 810.5,2025.8 811.5,2026.5 812.5,2026.6 813.5,2027.0 814.5,2027.0 815.5,2026.5 816.5,2027.2 817.5,2026.9 818.5,2026.7 819.5,2026.0 820.5,2025.8 821.5,2025.9 822.5,2025.6 823.5,2026.0 824.5,2027.8 825.5,2028.9 826.5,2028.5 827.5,2027.3 828.5,2026.1 829.5,2026.2 830.5,2025.9 831.5,2026.4 832.5,2026.1 833.5,2026.7 834.5,2027.0 835.5,2025.9 836.5,2025.3 837.5,2025.5 838.5,2027.0 839.5,2027.7 840.5,2027.7 841.5,2026.6 842.5,2026.2 843.5,2025.8 844.5,2026.7 845.5,2026.8 846.5,2026.6 847.5,2026.6 848.5,2026.5 849.5,2027.1 850.5,2025.9 851.5,2025.9 852.5,2025.9 853.5,2027.3 854.5,2027.3 855.5,2026.3 856.5,2025.1 857.5,2025.5 858.5,2026.7 859.5,2027.2 860.5,2026.3 861.5,2026.3 862.5,2026.2 863.5,2026.5 864.5,2025.4 865.5,2024.4 866.5,2024.5 867.5,2026.0 868.5,2027.1 869.5,2026.4 870.5,2026.2 871.5,2025.9 872.5,2025.5 873.5,2024.6 874.5,2025.2 875.5,2025.8 876.5,2026.0 877.5,2025.9 878.5,2026.3 879.5,2027.0 880.5,2027.1 881.5,2027.3 882.5,2027.2 883.5,2027.0 884.5,2027.1 885.5,2026.3 886.5,2026.5 887.5,2026.0 888.5,2026.7 889.5,2027.1 890.5,2026.8 891.5,2025.9 892.5,2025.0 893.5,2024.9 894.5,2025.1 895.5,2025.5 896.5,2025.6 897.5,2026.7 898.5,2027.3 899.5,2028.7 900.5,2028.0 901.5,2027.8 902.5,2026.8 903.5,2027.1 904.5,2027.0 905.5,2027.1 906.5,2026.8 907.5,2027.4 908.5,2028.1 909.5,2028.0 910.5,2026.2 911.5,2024.2 912.5,2024.2 913.5,2025.0 914.5,2026.3 915.5,2026.5 916.5,2026.8 917.5,2026.4 918.5,2026.0 919.5,2026.5 920.5,2027.9 921.5,2028.2 922.5,2027.6 923.5,2027.0 924.5,2027.1 925.5,2027.0 926.5,2026.7 927.5,2027.2 928.5,2026.8 929.5,2027.1 930.5,2025.9 931.5,2026.5 932.5,2026.4 933.5,2026.8 934.5,2026.8 935.5,2025.8 936.5,2025.5 937.5,2025.2 938.5,2026.0 939.5,2026.3 940.5,2026.2 941.5,2026.2 942.5,2026.4 943.5,2027.8 944.5,2027.9 945.5,2027.9 946.5,2026.9 947.5,2026.7 948.5,2026.3 949.5,2026.5 950.5,2026.6 951.5,2026.5 952.5,2026.2 953.5,2027.0 954.5,2026.7 955.5,2026.6 956.5,2026.0 957.5,2026.8 958.5,2027.7 959.5,2028.5 960.5,2027.9 961.5,2027.5 962.5,2027.5 963.5,2028.3 964.5,2027.6 965.5,2026.4 966.5,2026.0 967.5,2026.7 968.5,2026.5 969.5,2026.9 970.5,2026.2 971.5,2027.0 972.5,2026.9 973.5,2027.4 974.5,2027.6 975.5,2027.3 976.5,2027.1 977.5,2027.3 978.5,2027.0 979.5,2026.6 980.5,2025.4 981.5,2026.4 982.5,2026.4 983.5,2027.4 984.5,2026.7 985.5,2027.2 986.5,2026.6 987.5,2026.5 988.5,2026.8 989.5,2027.0 990.5,2026.6 991.5,2026.1 992.5,2025.4 993.5,2026.1 994.5,2026.5 995.5,2027.2 996.5,2027.7 997.5,2028.0 998.5,2027.8 999.5,2027.6 1000.5,2026.8 1001.5,2026.9 1002.5,2026.3 1003.5,2026.5 1004.5,2025.9 1005.5,2025.9 1006.5,2025.3 1007.5,2026.5 1008.5,2026.4 1009.5,2026.9 1010.5,2025.5 1011.5,2025.4 1012.5,2025.7 1013.5,2025.5 1014.5,2025.9 1015.5,2025.5 1016.5,2027.4 1017.5,2027.6 1018.5,2028.2 1019.5,2027.4 1020.5,2027.6 1021.5,2026.6 1022.5,2027.3 1023.5,2027.2 1024.5,2027.0 1025.5,2026.4 1026.5,2026.0 1027.5,2027.5 1028.5,2027.2 1029.5,2027.2 1030.5,2026.7 1031.5,2026.8 1032.5,2027.5 1033.5,2027.5 1034.5,2027.3 1035.5,2026.6 1036.5,2026.3 1037.5,2027.4 1038.5,2026.8 1039.5,2026.1 1040.5,2026.3 1041.5,2026.8 1042.5,2028.1 1043.5,2027.2 1044.5,2027.0 1045.5,2026.7 1046.5,2026.8 1047.5,2026.7 1048.5,2025.6 1049.5,2025.7 1050.5,2026.6 1051.5,2028.0 1052.5,2027.2 1053.5,2027.2 1054.5,2026.1 1055.5,2026.5 1056.5,2025.9 1057.5,2026.5 1058.5,2026.4 1059.5,2026.2 1060.5,2026.3 1061.5,2026.7 1062.5,2027.1 1063.5,2027.5 1064.5,2027.5 1065.5,2026.9 1066.5,2026.8 1067.5,2026.7 1068.5,2026.7 1069.5,2025.3 1070.5,2025.4 1071.5,2026.0 1072.5,2027.6 1073.5,2027.1 1074.5,2026.7 1075.5,2025.4 1076.5,2025.9 1077.5,2026.1 1078.5,2026.5 1079.5,2026.6 1080.5,2027.0 1081.5,2027.8 1082.5,2027.5" fill="none" stroke="#ff0000" stroke-width="4.2" stroke-linejoin="round" stroke-linecap="round"/>
<polyline points="426.5,2003.6 427.5,2003.6 428.5,2003.5 429.5,2003.4 430.5,2003.3 431.5,2003.2 432.5,2003.1 433.5,2003.0 434.5,2002.9 435.5,2002.8 436.5,2002.6 437.5,2002.5 438.5,2002.3 439.5,2002.1 440.5,2001.9 441.5,2001.7 442.5,2001.5 443.5,2001.2 444.5,2000.9 445.5,2000.6 446.5,2000.3 447.5,2000.0 448.5,1999.6 449.5,1999.2 450.5,1998.7 451.5,1998.2 452.5,1997.7 453.5,1997.1 454.5,1996.5 455.5,1995.8 456.5,1995.1 457.5,1994.3 458.5,1993.5 459.5,1992.5 460.5,1991.6 461.5,1990.5 462.5,1989.4 463.5,1988.2 464.5,1986.9 465.5,1985.5 466.5,1984.1 467.5,1982.5 468.5,1980.9 469.5,1979.2 470.5,1977.4 471.5,1975.5 472.5,1973.6 473.5,1971.5 474.5,1969.3 475.5,1967.1 476.5,1964.8 477.5,1962.4 478.5,1959.9 479.5,1957.3 480.5,1954.7 481.5,1952.0 482.5,1949.2 483.5,1946.4 484.5,1943.6 485.5,1940.7 486.5,1937.8 487.5,1934.9 488.5,1932.0 489.5,1929.0 490.5,1926.1 491.5,1923.2 492.5,1920.4 493.5,1917.6 494.5,1914.8 495.5,1912.1 496.5,1909.5 497.5,1907.0 498.5,1904.6 499.5,1902.3 500.5,1900.1 501.5,1898.1 502.5,1896.2 503.5,1894.5 504.5,1893.0 505.5,1891.6 506.5,1890.5 507.5,1889.5 508.5,1888.8 509.5,1888.2 510.5,1887.9 511.5,1887.8 512.5,1887.9 513.5,1888.2 514.5,1888.8 515.5,1889.6 516.5,1890.5 517.5,1891.7 518.5,1893.1 519.5,1894.7 520.5,1896.4 521.5,1898.3 522.5,1900.4 523.5,1902.7 524.5,1905.0 525.5,1907.5 526.5,1910.1 527.5,1912.8 528.5,1915.6 529.5,1918.5 530.5,1921.5 531.5,1924.4 532.5,1927.5 533.5,1930.5 534.5,1933.6 535.5,1936.7 536.5,1939.8 537.5,1942.9 538.5,1945.9 539.5,1948.9 540.5,1951.9 541.5,1954.8 542.5,1957.7 543.5,1960.6 544.5,1963.3 545.5,1966.0 546.5,1968.6 547.5,1971.2 548.5,1973.6 549.5,1976.0 550.5,1978.3 551.5,1980.5 552.5,1982.6 553.5,1984.6 554.5,1986.6 555.5,1988.4 556.5,1990.2 557.5,1991.9 558.5,1993.5 559.5,1995.0 560.5,1996.5 561.5,1997.8 562.5,1999.1 563.5,2000.3 564.5,2001.5 565.5,2002.6 566.5,2003.6 567.5,2004.6 568.5,2005.5 569.5,2006.3 570.5,2007.1 571.5,2007.9 572.5,2008.6 573.5,2009.3 574.5,2009.9 575.5,2010.5 576.5,2011.0 577.5,2011.6 578.5,2012.1 579.5,2012.5 580.5,2013.0 581.5,2013.4 582.5,2013.8 583.5,2014.2 584.5,2014.6 585.5,2015.0 586.5,2015.3 587.5,2015.7 588.5,2016.0 589.5,2016.3 590.5,2016.6 591.5,2016.9 592.5,2017.2 593.5,2017.5 594.5,2017.8 595.5,2018.1 596.5,2018.4 597.5,2018.7 598.5,2018.9 599.5,2019.2 600.5,2019.5 601.5,2019.7 602.5,2020.0 603.5,2020.3 604.5,2020.5 605.5,2020.8 606.5,2021.0 607.5,2021.3 608.5,2021.5 609.5,2021.8 610.5,2022.0 611.5,2022.3 612.5,2022.5 613.5,2022.8 614.5,2023.0 615.5,2023.2 616.5,2023.4 617.5,2023.7 618.5,2023.9 619.5,2024.1 620.5,2024.3 621.5,2024.5 622.5,2024.7 623.5,2024.9 624.5,2025.1 625.5,2025.3 626.5,2025.5 627.5,2025.7 628.5,2025.9 629.5,2026.1 630.5,2026.2 631.5,2026.4 632.5,2026.6 633.5,2026.7 634.5,2026.9 635.5,2027.0 636.5,2027.2 637.5,2027.3 638.5,2027.4 639.5,2027.6 640.5,2027.7 641.5,2027.8 642.5,2027.9 643.5,2028.0 644.5,2028.1 645.5,2028.2 646.5,2028.3 647.5,2028.4 648.5,2028.5 649.5,2028.6 650.5,2028.7 651.5,2028.8 652.5,2028.8 653.5,2028.9 654.5,2029.0 655.5,2029.0 656.5,2029.1 657.5,2029.2 658.5,2029.2 659.5,2029.3 660.5,2029.3 661.5,2029.4 662.5,2029.4 663.5,2029.5 664.5,2029.5 665.5,2029.5 666.5,2029.6 667.5,2029.6 668.5,2029.6 669.5,2029.7 670.5,2029.7 671.5,2029.7 672.5,2029.7 673.5,2029.8 674.5,2029.8 675.5,2029.8 676.5,2029.8 677.5,2029.8 678.5,2029.9 679.5,2029.9 680.5,2029.9 681.5,2029.9 682.5,2029.9 683.5,2029.9 684.5,2029.9 685.5,2030.0 686.5,2030.0 687.5,2030.0 688.5,2030.0 689.5,2030.0 690.5,2030.0 691.5,2030.0 692.5,2030.0 693.5,2030.0 694.5,2030.0 695.5,2030.0 696.5,2030.0 697.5,2030.0 698.5,2030.0 699.5,2030.1 700.5,2030.1 701.5,2030.1 702.5,2030.1 703.5,2030.1 704.5,2030.1 705.5,2030.1 706.5,2030.1 707.5,2030.1 708.5,2030.1 709.5,2030.1 710.5,2030.1 711.5,2030.1 712.5,2030.1 713.5,2030.1 714.5,2030.1" fill="none" stroke="#ff00ff" stroke-width="3.4" stroke-linejoin="round" stroke-linecap="round"/>
<polyline points="129.5,2010.2 130.5,2010.2 131.5,2010.2 132.5,2010.2 133.5,2010.2 134.5,2010.2 135.5,2010.2 136.5,2010.2 137.5,2010.2 138.5,2010.2 139.5,2010.2 140.5,2010.2 141.5,2010.2 142.5,2010.2 143.5,2010.2 144.5,2010.2 145.5,2010.2 146.5,2010.2 147.5,2010.2 148.5,2010.2 149.5,2010.2 150.5,2010.2 151.5,2010.2 152.5,2010.2 153.5,2010.2 154.5,2010.2 155.5,2010.2 156.5,2010.2 157.5,2010.2 158.5,2010.2 159.5,2010.2 160.5,2010.2 161.5,2010.2 162.5,2010.2 163.5,2010.2 164.5,2010.2 165.5,2010.2 166.5,2010.2 167.5,2010.2 168.5,2010.2 169.5,2010.2 170.5,2010.2 171.5,2010.2 172.5,2010.2 173.5,2010.2 174.5,2010.2 175.5,2010.2 176.5,2010.2 177.5,2010.2 178.5,2010.2 179.5,2010.2 180.5,2010.2 181.5,2010.2 182.5,2010.2 183.5,2010.2 184.5,2010.2 185.5,2010.2 186.5,2010.2 187.5,2010.2 188.5,2010.2 189.5,2010.2 190.5,2010.2 191.5,2010.2 192.5,2010.2 193.5,2010.2 194.5,2010.2 195.5,2010.2 196.5,2010.2 197.5,2010.2 198.5,2010.2 199.5,2010.2 200.5,2010.2 201.5,2010.2 202.5,2010.2 203.5,2010.2 204.5,2010.2 205.5,2010.2 206.5,2010.2 207.5,2010.2 208.5,2010.2 209.5,2010.2 210.5,2010.2 211.5,2010.2 212.5,2010.2 213.5,2010.2 214.5,2010.2 215.5,2010.2 216.5,2010.2 217.5,2010.2 218.5,2010.2 219.5,2010.2 220.5,2010.2 221.5,2010.2 222.5,2010.2 223.5,2010.2 224.5,2010.2 225.5,2010.2 226.5,2010.2 227.5,2010.2 228.5,2010.2 229.5,2010.2 230.5,2010.2 231.5,2010.2 232.5,2010.2 233.5,2010.2 234.5,2010.2 235.5,2010.2 236.5,2010.2 237.5,2010.2 238.5,2010.2 239.5,2010.2 240.5,2010.2 241.5,2010.2 242.5,2010.2 243.5,2010.2 244.5,2010.2 245.5,2010.2 246.5,2010.2 247.5,2010.2 248.5,2010.2 249.5,2010.2 250.5,2010.2 251.5,2010.2 252.5,2010.2 253.5,2010.2 254.5,2010.2 255.5,2010.2 256.5,2010.2 257.5,2010.2 258.5,2010.2 259.5,2010.2 260.5,2010.2 261.5,2010.2 262.5,2010.2 263.5,2010.2 264.5,2010.2 265.5,2010.2 266.5,2010.2 267.5,2010.2 268.5,2010.2 269.5,2010.2 270.5,2010.2 271.5,2010.2 272.5,2010.2 273.5,2010.2 274.5,2010.2 275.5,2010.2 276.5,2010.0 277.5,2009.7 278.5,2009.2 279.5,2008.8 280.5,2008.2 281.5,2007.8 282.5,2007.3 283.5,2007.0 284.5,2006.8 285.5,2006.8 286.5,2006.8 287.5,2006.8 288.5,2006.8 289.5,2006.8 290.5,2006.8 291.5,2006.8 292.5,2006.8 293.5,2006.8 294.5,2006.8 295.5,2006.8 296.5,2006.8 297.5,2006.8 298.5,2006.8 299.5,2006.8 300.5,2006.8 301.5,2006.8 302.5,2006.8 303.5,2006.8 304.5,2006.8 305.5,2006.8 306.5,2006.8 307.5,2006.8 308.5,2006.8 309.5,2006.8 310.5,2006.8 311.5,2006.8 312.5,2006.8 313.5,2006.8 314.5,2006.8 315.5,2006.8 316.5,2006.8 317.5,2006.8 318.5,2006.8 319.5,2006.8 320.5,2006.8 321.5,2006.8 322.5,2006.8 323.5,2006.8 324.5,2006.8 325.5,2006.8 326.5,2006.8 327.5,2006.8 328.5,2006.8 329.5,2006.8 330.5,2006.8 331.5,2006.8 332.5,2006.8 333.5,2006.8 334.5,2006.8 335.5,2006.8 336.5,2006.8 337.5,2006.8 338.5,2006.8 339.5,2006.8 340.5,2006.8 341.5,2006.8 342.5,2006.8 343.5,2006.8 344.5,2006.8 345.5,2006.8 346.5,2006.8 347.5,2006.8 348.5,2006.8 349.5,2006.8 350.5,2006.8 351.5,2006.8 352.5,2006.8 353.5,2006.8 354.5,2006.8 355.5,2006.8 356.5,2006.8 357.5,2006.8 358.5,2006.8 359.5,2006.8 360.5,2006.8 361.5,2006.8 362.5,2006.8 363.5,2006.8 364.5,2006.8 365.5,2006.8 366.5,2006.8 367.5,2006.8 368.5,2006.8 369.5,2006.8 370.5,2006.8 371.5,2006.8 372.5,2006.8 373.5,2006.8 374.5,2006.8 375.5,2006.8 376.5,2006.8 377.5,2006.8 378.5,2006.8 379.5,2006.8 380.5,2006.8 381.5,2006.8 382.5,2006.8 383.5,2006.8 384.5,2006.8 385.5,2006.8 386.5,2006.8 387.5,2006.8 388.5,2006.8 389.5,2006.8 390.5,2006.8 391.5,2006.8 392.5,2006.8 393.5,2006.8 394.5,2006.8 395.5,2006.8 396.5,2006.8 397.5,2006.8 398.5,2006.8 399.5,2006.8 400.5,2006.8 401.5,2006.8 402.5,2006.8 403.5,2006.8 404.5,2006.8 405.5,2006.8 406.5,2006.8 407.5,2006.8 408.5,2006.8 409.5,2006.8 410.5,2006.8 411.5,2006.8 412.5,2006.8 413.5,2006.8 414.5,2006.8 415.5,2006.8 416.5,2006.8 417.5,2006.8 418.5,2006.8 419.5,2006.8 420.5,2006.8 421.5,2006.8 422.5,2006.8 423.5,2006.8 424.5,2006.8 425.5,2006.8 426.5,2006.8 427.5,2006.8 428.5,2006.8 429.5,2006.8 430.5,2006.8 431.5,2006.8 432.5,2006.8 433.5,2006.8 434.5,2006.8 435.5,2006.8 436.5,2006.8 437.5,2006.8 438.5,2006.8 439.5,2006.8 440.5,2006.8 441.5,2006.8 442.5,2006.8 443.5,2006.8 444.5,2006.8 445.5,2006.8 446.5,2006.8 447.5,2006.8 448.5,2006.8 449.5,2006.8 450.5,2006.8 451.5,2006.9 452.5,2006.9 453.5,2006.9 454.5,2006.9 455.5,2006.9 456.5,2006.9 457.5,2006.9 458.5,2006.9 459.5,2006.9 460.5,2006.9 461.5,2006.9 462.5,2007.0 463.5,2007.0 464.5,2007.0 465.5,2007.0 466.5,2007.0 467.5,2007.1 468.5,2007.1 469.5,2007.1 470.5,2007.1 471.5,2007.2 472.5,2007.2 473.5,2007.2 474.5,2007.2 475.5,2007.3 476.5,2007.3 477.5,2007.4 478.5,2007.4 479.5,2007.4 480.5,2007.5 481.5,2007.5 482.5,2007.6 483.5,2007.6 484.5,2007.7 485.5,2007.7 486.5,2007.8 487.5,2007.8 488.5,2007.9 489.5,2007.9 490.5,2008.0 491.5,2008.1 492.5,2008.1 493.5,2008.2 494.5,2008.2 495.5,2008.3 496.5,2008.3 497.5,2008.4 498.5,2008.4 499.5,2008.5 500.5,2008.5 501.5,2008.6 502.5,2008.6 503.5,2008.6 504.5,2008.6 505.5,2008.6 506.5,2008.6 507.5,2008.6 508.5,2008.6 509.5,2008.5 510.5,2008.5 511.5,2008.4 512.5,2008.3 513.5,2008.2 514.5,2008.1 515.5,2007.9 516.5,2007.8 517.5,2007.6 518.5,2007.3 519.5,2007.1 520.5,2006.8 521.5,2006.4 522.5,2006.0 523.5,2005.6 524.5,2005.2 525.5,2004.7 526.5,2004.1 527.5,2003.5 528.5,2002.8 529.5,2002.1 530.5,2001.3 531.5,2000.5 532.5,1999.5 533.5,1998.5 534.5,1997.5 535.5,1996.3 536.5,1995.1 537.5,1993.7 538.5,1992.3 539.5,1990.8 540.5,1989.2 541.5,1987.5 542.5,1985.7 543.5,1983.8 544.5,1981.8 545.5,1979.7 546.5,1977.4 547.5,1975.1 548.5,1972.6 549.5,1970.0 550.5,1967.3 551.5,1964.4 552.5,1961.5 553.5,1958.4 554.5,1955.2 555.5,1951.8 556.5,1948.4 557.5,1944.8 558.5,1941.1 559.5,1937.3 560.5,1933.4 561.5,1929.3 562.5,1925.2 563.5,1920.9 564.5,1916.6 565.5,1912.1 566.5,1907.6 567.5,1903.0 568.5,1898.3 569.5,1893.6 570.5,1888.8 571.5,1883.9 572.5,1879.0 573.5,1874.1 574.5,1869.2 575.5,1864.3 576.5,1859.3 577.5,1854.4 578.5,1849.5 579.5,1844.6 580.5,1839.8 581.5,1835.1 582.5,1830.4 583.5,1825.9 584.5,1821.4 585.5,1817.1 586.5,1812.8 587.5,1808.7 588.5,1804.8 589.5,1801.0 590.5,1797.4 591.5,1794.0 592.5,1790.8 593.5,1787.8 594.5,1785.1 595.5,1782.5 596.5,1780.2 597.5,1778.1 598.5,1776.3 599.5,1774.8 600.5,1773.5 601.5,1772.4 602.5,1771.7 603.5,1771.2 604.5,1771.0 605.5,1771.1 606.5,1771.5 607.5,1772.1 608.5,1773.0 609.5,1774.2 610.5,1775.7 611.5,1777.4 612.5,1779.4 613.5,1781.6 614.5,1784.1 615.5,1786.8 616.5,1789.8 617.5,1793.0 618.5,1796.4 619.5,1800.0 620.5,1803.8 621.5,1807.8 622.5,1811.9 623.5,1816.2 624.5,1820.7 625.5,1825.3 626.5,1830.0 627.5,1834.8 628.5,1839.7 629.5,1844.7 630.5,1849.7 631.5,1854.9 632.5,1860.0 633.5,1865.2 634.5,1870.4 635.5,1875.6 636.5,1880.8 637.5,1886.0 638.5,1891.2 639.5,1896.3 640.5,1901.4 641.5,1906.4 642.5,1911.4 643.5,1916.3 644.5,1921.1 645.5,1925.8 646.5,1930.4 647.5,1935.0 648.5,1939.4 649.5,1943.7 650.5,1947.9 651.5,1952.0 652.5,1956.0 653.5,1959.8 654.5,1963.5 655.5,1967.1 656.5,1970.6 657.5,1973.9 658.5,1977.1 659.5,1980.2 660.5,1983.2 661.5,1986.0 662.5,1988.7 663.5,1991.3 664.5,1993.8 665.5,1996.1 666.5,1998.4 667.5,2000.5 668.5,2002.5 669.5,2004.4 670.5,2006.2 671.5,2007.9 672.5,2009.5 673.5,2011.0 674.5,2012.5 675.5,2013.8 676.5,2015.0 677.5,2016.2 678.5,2017.3 679.5,2018.4 680.5,2019.3 681.5,2020.2 682.5,2021.0 683.5,2021.8 684.5,2022.5 685.5,2023.2 686.5,2023.8 687.5,2024.4 688.5,2024.9 689.5,2025.4 690.5,2025.9 691.5,2026.3 692.5,2026.6 693.5,2027.0 694.5,2027.3 695.5,2027.6 696.5,2027.9 697.5,2028.1 698.5,2028.3 699.5,2028.5 700.5,2028.7 701.5,2028.9 702.5,2029.1 703.5,2029.2 704.5,2029.3 705.5,2029.4 706.5,2029.5 707.5,2029.6 708.5,2029.7 709.5,2029.8 710.5,2029.9 711.5,2029.9 712.5,2030.0 713.5,2030.0 714.5,2030.1 715.5,2030.1 716.5,2030.1 717.5,2030.2 718.5,2030.2 719.5,2030.2 720.5,2030.2 721.5,2030.3 722.5,2030.3 723.5,2030.3 724.5,2030.3 725.5,2030.3 726.5,2030.3 727.5,2030.3 728.5,2030.3 729.5,2030.4 730.5,2030.4 731.5,2030.4 732.5,2030.4 733.5,2030.4 734.5,2030.4 735.5,2030.4 736.5,2030.4 737.5,2030.4 738.5,2030.4 739.5,2030.4 740.5,2030.4 741.5,2030.4 742.5,2030.4 743.5,2030.4 744.5,2030.4 745.5,2030.4 746.5,2030.4 747.5,2030.4 748.5,2030.4 749.5,2030.4 750.5,2030.4 751.5,2030.4 752.5,2030.4 753.5,2030.4 754.5,2030.4 755.5,2030.4 756.5,2030.4 757.5,2030.4 758.5,2030.4 759.5,2030.4 760.5,2030.4 761.5,2030.4 762.5,2030.4 763.5,2030.4 764.5,2030.4 765.5,2030.4 766.5,2030.4 767.5,2030.4 768.5,2030.4 769.5,2030.4 770.5,2030.4 771.5,2030.4 772.5,2030.4 773.5,2030.4 774.5,2030.4 775.5,2030.4 776.5,2030.4 777.5,2030.4 778.5,2030.4 779.5,2030.4 780.5,2030.4 781.5,2030.4 782.5,2030.4 783.5,2030.4 784.5,2030.4 785.5,2030.4 786.5,2030.4 787.5,2030.4 788.5,2030.4 789.5,2030.4 790.5,2030.4 791.5,2030.4 792.5,2030.4 793.5,2030.4 794.5,2030.4 795.5,2030.4 796.5,2030.4 797.5,2030.4 798.5,2030.4 799.5,2030.4 800.5,2030.4 801.5,2030.4 802.5,2030.4 803.5,2030.4 804.5,2030.4 805.5,2030.4 806.5,2030.4 807.5,2030.4 808.5,2030.4 809.5,2030.4 810.5,2030.4 811.5,2030.4 812.5,2030.4 813.5,2030.4 814.5,2030.4 815.5,2030.4 816.5,2030.4 817.5,2030.4 818.5,2030.4 819.5,2030.4 820.5,2030.4 821.5,2030.4 822.5,2030.4 823.5,2030.4 824.5,2030.4 825.5,2030.4 826.5,2030.4 827.5,2030.4 828.5,2030.4 829.5,2030.4 830.5,2030.4 831.5,2030.4 832.5,2030.4 833.5,2030.4 834.5,2030.4 835.5,2030.4 836.5,2030.4 837.5,2030.4 838.5,2030.4 839.5,2030.4 840.5,2030.4 841.5,2030.4 842.5,2030.4 843.5,2030.4 844.5,2030.4 845.5,2030.4 846.5,2030.4 847.5,2030.4 848.5,2030.4 849.5,2030.4 850.5,2030.4 851.5,2030.4 852.5,2030.4 853.5,2030.4 854.5,2030.4 855.5,2030.4 856.5,2030.4 857.5,2030.4 858.5,2030.4 859.5,2030.4 860.5,2030.4 861.5,2030.4 862.5,2030.4 863.5,2030.4 864.5,2030.4 865.5,2030.4 866.5,2030.4 867.5,2030.4 868.5,2030.4 869.5,2030.4 870.5,2030.4 871.5,2030.4 872.5,2030.4 873.5,2030.4 874.5,2030.4 875.5,2030.4 876.5,2030.4 877.5,2030.4 878.5,2030.4 879.5,2030.4 880.5,2030.4 881.5,2030.4 882.5,2030.4 883.5,2030.4 884.5,2030.4 885.5,2030.4 886.5,2030.4 887.5,2030.4 888.5,2030.4 889.5,2030.4 890.5,2030.4 891.5,2030.4 892.5,2030.4 893.5,2030.4 894.5,2030.4 895.5,2030.4 896.5,2030.4 897.5,2030.4 898.5,2030.4 899.5,2030.4 900.5,2030.4 901.5,2030.4 902.5,2030.4 903.5,2030.4 904.5,2030.4 905.5,2030.4 906.5,2030.4 907.5,2030.4 908.5,2030.4 909.5,2030.4 910.5,2030.4 911.5,2030.4 912.5,2030.4 913.5,2030.4 914.5,2030.4 915.5,2030.4 916.5,2030.4 917.5,2030.4 918.5,2030.4 919.5,2030.4 920.5,2030.4 921.5,2030.4 922.5,2030.4 923.5,2030.4 924.5,2030.4 925.5,2030.4 926.5,2030.4 927.5,2030.4 928.5,2030.4 929.5,2030.4 930.5,2030.4 931.5,2030.4 932.5,2030.4 933.5,2030.4 934.5,2030.4 935.5,2030.4 936.5,2030.4 937.5,2030.4 938.5,2030.4 939.5,2030.4 940.5,2030.4 941.5,2030.4 942.5,2030.4 943.5,2030.4 944.5,2030.4 945.5,2030.4 946.5,2030.4 947.5,2030.4 948.5,2030.4 949.5,2030.4 950.5,2030.4 951.5,2030.4 952.5,2030.4 953.5,2030.4 954.5,2030.4 955.5,2030.4 956.5,2030.4 957.5,2030.4 958.5,2030.4 959.5,2030.4 960.5,2030.4 961.5,2030.4 962.5,2030.4 963.5,2030.4 964.5,2030.4 965.5,2030.4 966.5,2030.4 967.5,2030.4 968.5,2030.4 969.5,2030.4 970.5,2030.4 971.5,2030.4 972.5,2030.4 973.5,2030.4 974.5,2030.4 975.5,2030.4 976.5,2030.4 977.5,2030.4 978.5,2030.4 979.5,2030.4 980.5,2030.4 981.5,2030.4 982.5,2030.4 983.5,2030.4 984.5,2030.4 985.5,2030.4 986.5,2030.4 987.5,2030.4 988.5,2030.4 989.5,2030.4 990.5,2030.4 991.5,2030.4 992.5,2030.4 993.5,2030.4 994.5,2030.4 995.5,2030.4 996.5,2030.4 997.5,2030.4 998.5,2030.4 999.5,2030.4 1000.5,2030.4 1001.5,2030.4 1002.5,2030.4 1003.5,2030.4 1004.5,2030.4 1005.5,2030.4 1006.5,2030.4 1007.5,2030.4 1008.5,2030.4 1009.5,2030.4 1010.5,2030.4 1011.5,2030.4 1012.5,2030.4 1013.5,2030.4 1014.5,2030.4 1015.5,2030.4 1016.5,2030.4 1017.5,2030.4 1018.5,2030.4 1019.5,2030.4 1020.5,2030.4 1021.5,2030.4 1022.5,2030.4 1023.5,2030.4 1024.5,2030.4 1025.5,2030.4 1026.5,2030.4 1027.5,2030.4 1028.5,2030.4 1029.5,2030.4 1030.5,2030.4 1031.5,2030.4 1032.5,2030.4 1033.5,2030.4 1034.5,2030.4 1035.5,2030.4 1036.5,2030.4 1037.5,2030.4 1038.5,2030.4 1039.5,2030.4 1040.5,2030.4 1041.5,2030.4 1042.5,2030.4 1043.5,2030.4 1044.5,2030.4 1045.5,2030.4 1046.5,2030.4 1047.5,2030.4 1048.5,2030.4 1049.5,2030.4 1050.5,2030.4 1051.5,2030.4 1052.5,2030.4 1053.5,2030.4 1054.5,2030.4 1055.5,2030.4 1056.5,2030.4 1057.5,2030.4 1058.5,2030.4 1059.5,2030.4 1060.5,2030.4 1061.5,2030.4 1062.5,2030.4 1063.5,2030.4 1064.5,2030.4 1065.5,2030.4 1066.5,2030.4 1067.5,2030.4 1068.5,2030.4 1069.5,2030.4 1070.5,2030.4 1071.5,2030.4 1072.5,2030.4 1073.5,2030.4 1074.5,2030.4 1075.5,2030.4 1076.5,2030.4 1077.5,2030.4 1078.5,2030.4 1079.5,2030.4 1080.5,2030.4 1081.5,2030.4 1082.5,2030.4" fill="none" stroke="#0000ff" stroke-width="4.0" stroke-linejoin="round" stroke-linecap="round"/>
<polyline points="129.5,2356.3 130.5,2356.8 131.5,2357.1 132.5,2356.9 133.5,2356.4 134.5,2356.8 135.5,2356.9 136.5,2356.2 137.5,2356.1 138.5,2357.4 139.5,2358.3 140.5,2358.6 141.5,2357.6 142.5,2357.3 143.5,2356.4 144.5,2356.4 145.5,2356.5 146.5,2357.3 147.5,2357.2 148.5,2357.4 149.5,2356.3 150.5,2356.3 151.5,2356.3 152.5,2357.2 153.5,2357.6 154.5,2357.4 155.5,2357.5 156.5,2356.2 157.5,2356.5 158.5,2356.5 159.5,2356.9 160.5,2355.8 161.5,2355.1 162.5,2355.4 163.5,2356.9 164.5,2356.8 165.5,2357.0 166.5,2356.6 167.5,2357.3 168.5,2356.8 169.5,2356.8 170.5,2356.0 171.5,2355.5 172.5,2355.2 173.5,2355.4 174.5,2355.3 175.5,2355.8 176.5,2356.5 177.5,2357.6 178.5,2356.7 179.5,2356.2 180.5,2355.3 181.5,2355.6 182.5,2355.8 183.5,2356.4 184.5,2357.0 185.5,2356.9 186.5,2356.9 187.5,2355.7 188.5,2356.5 189.5,2357.1 190.5,2356.8 191.5,2355.2 192.5,2355.4 193.5,2357.1 194.5,2358.3 195.5,2358.2 196.5,2356.9 197.5,2356.7 198.5,2356.4 199.5,2356.9 200.5,2356.5 201.5,2356.1 202.5,2355.8 203.5,2356.9 204.5,2356.8 205.5,2356.9 206.5,2355.4 207.5,2356.1 208.5,2356.3 209.5,2357.3 210.5,2356.7 211.5,2356.9 212.5,2356.6 213.5,2356.4 214.5,2356.5 215.5,2356.2 216.5,2356.5 217.5,2356.5 218.5,2357.1 219.5,2356.7 220.5,2357.5 221.5,2357.2 222.5,2357.1 223.5,2355.5 224.5,2355.4 225.5,2355.8 226.5,2356.8 227.5,2356.1 228.5,2356.1 229.5,2356.0 230.5,2357.0 231.5,2356.1 232.5,2355.3 233.5,2354.2 234.5,2354.3 235.5,2353.9 236.5,2353.8 237.5,2353.0 238.5,2353.0 239.5,2352.1 240.5,2352.4 241.5,2353.1 242.5,2353.3 243.5,2354.1 244.5,2353.7 245.5,2354.0 246.5,2353.4 247.5,2353.1 248.5,2352.9 249.5,2351.9 250.5,2351.5 251.5,2351.4 252.5,2352.5 253.5,2351.9 254.5,2353.3 255.5,2354.0 256.5,2354.4 257.5,2352.7 258.5,2351.9 259.5,2351.9 260.5,2352.7 261.5,2351.9 262.5,2351.6 263.5,2351.8 264.5,2351.9 265.5,2351.7 266.5,2351.7 267.5,2352.5 268.5,2353.2 269.5,2352.5 270.5,2352.9 271.5,2352.9 272.5,2353.6 273.5,2352.4 274.5,2352.0 275.5,2351.8 276.5,2353.0 277.5,2353.1 278.5,2352.8 279.5,2352.0 280.5,2353.0 281.5,2353.2 282.5,2353.6 283.5,2353.4 284.5,2353.7 285.5,2354.2 286.5,2353.3 287.5,2353.1 288.5,2352.6 289.5,2352.6 290.5,2352.6 291.5,2352.5 292.5,2352.9 293.5,2352.6 294.5,2353.0 295.5,2353.2 296.5,2353.5 297.5,2353.1 298.5,2352.8 299.5,2352.9 300.5,2353.0 301.5,2352.9 302.5,2352.8 303.5,2352.5 304.5,2353.0 305.5,2352.8 306.5,2352.9 307.5,2352.6 308.5,2352.4 309.5,2352.2 310.5,2351.8 311.5,2352.4 312.5,2352.8 313.5,2353.1 314.5,2352.4 315.5,2351.9 316.5,2351.8 317.5,2351.8 318.5,2352.4 319.5,2352.7 320.5,2353.6 321.5,2353.6 322.5,2353.9 323.5,2353.0 324.5,2353.6 325.5,2353.3 326.5,2353.0 327.5,2352.1 328.5,2352.1 329.5,2353.3 330.5,2353.0 331.5,2353.2 332.5,2352.9 333.5,2353.8 334.5,2353.7 335.5,2354.1 336.5,2354.0 337.5,2353.8 338.5,2353.8 339.5,2353.4 340.5,2354.4 341.5,2354.6 342.5,2354.3 343.5,2354.5 344.5,2354.0 345.5,2354.3 346.5,2353.7 347.5,2354.2 348.5,2353.9 349.5,2353.8 350.5,2353.5 351.5,2353.9 352.5,2353.7 353.5,2353.7 354.5,2353.1 355.5,2354.2 356.5,2354.6 357.5,2355.7 358.5,2354.8 359.5,2353.9 360.5,2352.7 361.5,2352.5 362.5,2353.5 363.5,2354.0 364.5,2354.4 365.5,2353.7 366.5,2354.6 367.5,2354.3 368.5,2354.7 369.5,2354.0 370.5,2354.5 371.5,2354.6 372.5,2354.9 373.5,2356.1 374.5,2356.6 375.5,2356.6 376.5,2355.1 377.5,2355.3 378.5,2355.9 379.5,2356.1 380.5,2355.7 381.5,2354.1 382.5,2354.0 383.5,2354.2 384.5,2354.5 385.5,2355.2 386.5,2355.2 387.5,2355.4 388.5,2355.1 389.5,2355.2 390.5,2356.9 391.5,2357.0 392.5,2357.0 393.5,2355.6 394.5,2355.3 395.5,2354.9 396.5,2355.6 397.5,2355.9 398.5,2356.2 399.5,2356.2 400.5,2356.7 401.5,2356.6 402.5,2356.3 403.5,2355.8 404.5,2355.4 405.5,2355.4 406.5,2355.7 407.5,2356.0 408.5,2356.3 409.5,2356.0 410.5,2355.6 411.5,2354.5 412.5,2353.7 413.5,2352.9 414.5,2352.8 415.5,2351.9 416.5,2352.3 417.5,2352.1 418.5,2352.7 419.5,2352.0 420.5,2353.1 421.5,2353.5 422.5,2354.3 423.5,2353.6 424.5,2353.7 425.5,2353.3 426.5,2353.2 427.5,2352.8 428.5,2351.7 429.5,2351.2 430.5,2351.0 431.5,2350.7 432.5,2351.0 433.5,2350.9 434.5,2351.3 435.5,2351.3 436.5,2351.1 437.5,2351.6 438.5,2351.0 439.5,2350.7 440.5,2350.0 441.5,2349.0 442.5,2348.2 443.5,2347.6 444.5,2347.7 445.5,2347.2 446.5,2347.0 447.5,2346.4 448.5,2345.4 449.5,2344.7 450.5,2343.2 451.5,2342.1 452.5,2341.7 453.5,2341.1 454.5,2341.0 455.5,2339.2 456.5,2339.1 457.5,2338.2 458.5,2338.1 459.5,2337.0 460.5,2336.3 461.5,2334.3 462.5,2333.5 463.5,2331.6 464.5,2331.0 465.5,2329.0 466.5,2328.2 467.5,2326.6 468.5,2325.2 469.5,2323.4 470.5,2321.6 471.5,2319.7 472.5,2318.3 473.5,2316.7 474.5,2314.8 475.5,2312.0 476.5,2310.2 477.5,2307.7 478.5,2305.6 479.5,2302.4 480.5,2300.1 481.5,2297.6 482.5,2295.8 483.5,2293.4 484.5,2291.3 485.5,2287.7 486.5,2285.9 487.5,2283.0 488.5,2281.1 489.5,2277.3 490.5,2274.9 491.5,2271.9 492.5,2269.7 493.5,2266.8 494.5,2264.7 495.5,2262.2 496.5,2258.8 497.5,2255.0 498.5,2252.1 499.5,2249.7 500.5,2247.3 501.5,2243.8 502.5,2240.6 503.5,2236.6 504.5,2233.4 505.5,2230.6 506.5,2228.5 507.5,2226.0 508.5,2223.1 509.5,2220.2 510.5,2217.1 511.5,2214.5 512.5,2212.8 513.5,2210.3 514.5,2208.7 515.5,2205.7 516.5,2205.4 517.5,2203.5 518.5,2202.9 519.5,2200.7 520.5,2200.2 521.5,2199.0 522.5,2199.1 523.5,2199.1 524.5,2199.1 525.5,2198.0 526.5,2197.5 527.5,2197.4 528.5,2198.0 529.5,2198.3 530.5,2199.7 531.5,2200.2 532.5,2201.3 533.5,2202.1 534.5,2203.7 535.5,2204.9 536.5,2206.0 537.5,2207.3 538.5,2207.6 539.5,2208.1 540.5,2209.7 541.5,2212.3 542.5,2214.4 543.5,2215.7 544.5,2217.6 545.5,2219.8 546.5,2220.6 547.5,2221.5 548.5,2222.4 549.5,2224.5 550.5,2225.4 551.5,2226.1 552.5,2227.7 553.5,2227.5 554.5,2228.1 555.5,2228.4 556.5,2229.8 557.5,2230.7 558.5,2230.1 559.5,2230.5 560.5,2230.0 561.5,2229.7 562.5,2228.5 563.5,2228.7 564.5,2228.4 565.5,2228.2 566.5,2226.9 567.5,2225.5 568.5,2223.3 569.5,2221.6 570.5,2220.1 571.5,2218.0 572.5,2215.4 573.5,2212.3 574.5,2209.3 575.5,2206.8 576.5,2204.3 577.5,2201.9 578.5,2198.5 579.5,2194.7 580.5,2191.4 581.5,2187.8 582.5,2184.0 583.5,2179.0 584.5,2174.5 585.5,2169.7 586.5,2165.0 587.5,2160.4 588.5,2155.0 589.5,2150.2 590.5,2145.7 591.5,2141.9 592.5,2136.8 593.5,2131.7 594.5,2126.8 595.5,2122.8 596.5,2117.5 597.5,2112.8 598.5,2108.8 599.5,2105.7 600.5,2102.1 601.5,2097.4 602.5,2093.2 603.5,2090.0 604.5,2086.8 605.5,2082.8 606.5,2079.4 607.5,2076.5 608.5,2074.5 609.5,2071.9 610.5,2070.1 611.5,2068.3 612.5,2067.0 613.5,2066.3 614.5,2065.5 615.5,2065.0 616.5,2064.6 617.5,2064.3 618.5,2065.0 619.5,2065.7 620.5,2067.2 621.5,2068.1 622.5,2069.5 623.5,2070.6 624.5,2071.7 625.5,2074.0 626.5,2077.7 627.5,2081.5 628.5,2085.1 629.5,2088.0 630.5,2091.0 631.5,2094.7 632.5,2098.3 633.5,2102.9 634.5,2107.8 635.5,2113.0 636.5,2117.8 637.5,2122.8 638.5,2128.5 639.5,2134.5 640.5,2139.1 641.5,2144.8 642.5,2150.3 643.5,2157.0 644.5,2163.0 645.5,2169.1 646.5,2175.3 647.5,2181.1 648.5,2186.7 649.5,2191.8 650.5,2198.2 651.5,2205.2 652.5,2211.1 653.5,2216.3 654.5,2221.3 655.5,2227.4 656.5,2232.2 657.5,2237.9 658.5,2243.0 659.5,2249.0 660.5,2253.7 661.5,2259.3 662.5,2264.0 663.5,2269.7 664.5,2274.5 665.5,2278.9 666.5,2283.0 667.5,2287.1 668.5,2291.3 669.5,2294.0 670.5,2297.3 671.5,2301.3 672.5,2306.7 673.5,2310.7 674.5,2314.3 675.5,2316.6 676.5,2319.5 677.5,2321.6 678.5,2323.9 679.5,2325.6 680.5,2327.9 681.5,2330.6 682.5,2334.1 683.5,2336.1 684.5,2338.3 685.5,2339.4 686.5,2341.0 687.5,2342.5 688.5,2343.2 689.5,2345.9 690.5,2347.7 691.5,2349.6 692.5,2350.2 693.5,2350.7 694.5,2351.9 695.5,2353.3 696.5,2354.0 697.5,2355.0 698.5,2355.0 699.5,2356.7 700.5,2357.6 701.5,2359.2 702.5,2358.9 703.5,2358.4 704.5,2358.7 705.5,2359.6 706.5,2361.5 707.5,2361.6 708.5,2362.1 709.5,2362.4 710.5,2362.5 711.5,2361.7 712.5,2361.8 713.5,2362.4 714.5,2363.3 715.5,2362.7 716.5,2363.5 717.5,2363.9 718.5,2364.6 719.5,2363.7 720.5,2363.4 721.5,2363.6 722.5,2363.5 723.5,2364.4 724.5,2364.2 725.5,2365.3 726.5,2365.0 727.5,2364.9 728.5,2365.2 729.5,2365.2 730.5,2365.4 731.5,2365.0 732.5,2365.2 733.5,2365.4 734.5,2364.3 735.5,2363.5 736.5,2363.8 737.5,2364.4 738.5,2365.4 739.5,2364.6 740.5,2365.0 741.5,2364.1 742.5,2364.3 743.5,2364.8 744.5,2365.7 745.5,2365.6 746.5,2365.0 747.5,2364.9 748.5,2365.8 749.5,2365.9 750.5,2366.1 751.5,2365.2 752.5,2365.3 753.5,2365.3 754.5,2365.3 755.5,2364.4 756.5,2364.1 757.5,2364.8 758.5,2365.3 759.5,2365.2 760.5,2365.2 761.5,2365.4 762.5,2364.8 763.5,2365.0 764.5,2365.1 765.5,2365.6 766.5,2364.9 767.5,2365.0 768.5,2365.1 769.5,2365.9 770.5,2365.9 771.5,2366.3 772.5,2365.7 773.5,2365.3 774.5,2365.2 775.5,2365.7 776.5,2365.8 777.5,2365.7 778.5,2365.1 779.5,2365.0 780.5,2365.4 781.5,2364.7 782.5,2365.2 783.5,2364.5 784.5,2364.8 785.5,2364.5 786.5,2366.0 787.5,2365.9 788.5,2366.4 789.5,2365.6 790.5,2365.5 791.5,2365.4 792.5,2365.3 793.5,2364.9 794.5,2363.8 795.5,2363.9 796.5,2364.6 797.5,2364.7 798.5,2364.7 799.5,2364.5 800.5,2365.3 801.5,2365.0 802.5,2365.1 803.5,2364.9 804.5,2365.4 805.5,2365.8 806.5,2366.7 807.5,2365.8 808.5,2365.5 809.5,2364.3 810.5,2364.5 811.5,2363.6 812.5,2363.8 813.5,2364.2 814.5,2364.8 815.5,2365.1 816.5,2365.2 817.5,2365.5 818.5,2365.4 819.5,2365.4 820.5,2365.3 821.5,2365.1 822.5,2364.4 823.5,2363.8 824.5,2364.1 825.5,2364.2 826.5,2365.1 827.5,2364.7 828.5,2364.8 829.5,2364.4 830.5,2364.6 831.5,2365.6 832.5,2365.6 833.5,2365.3 834.5,2364.8 835.5,2365.3 836.5,2365.5 837.5,2365.1 838.5,2365.0 839.5,2365.1 840.5,2365.5 841.5,2364.8 842.5,2365.0 843.5,2364.8 844.5,2365.8 845.5,2365.5 846.5,2365.6 847.5,2365.1 848.5,2366.0 849.5,2365.3 850.5,2365.0 851.5,2363.8 852.5,2363.2 853.5,2363.4 854.5,2364.3 855.5,2365.8 856.5,2366.5 857.5,2365.8 858.5,2365.2 859.5,2364.7 860.5,2364.3 861.5,2363.8 862.5,2364.3 863.5,2364.9 864.5,2366.1 865.5,2365.1 866.5,2365.2 867.5,2364.0 868.5,2365.2 869.5,2365.2 870.5,2365.4 871.5,2364.4 872.5,2364.8 873.5,2364.8 874.5,2365.1 875.5,2364.6 876.5,2364.6 877.5,2365.3 878.5,2366.1 879.5,2366.2 880.5,2365.7 881.5,2365.3 882.5,2365.8 883.5,2366.0 884.5,2365.2 885.5,2365.0 886.5,2364.2 887.5,2364.6 888.5,2364.8 889.5,2365.7 890.5,2364.9 891.5,2364.8 892.5,2363.9 893.5,2364.9 894.5,2365.0 895.5,2365.6 896.5,2365.8 897.5,2365.8 898.5,2365.4 899.5,2364.9 900.5,2364.9 901.5,2364.6 902.5,2364.6 903.5,2364.6 904.5,2364.8 905.5,2365.4 906.5,2365.7 907.5,2366.4 908.5,2365.8 909.5,2365.3 910.5,2365.3 911.5,2365.5 912.5,2366.0 913.5,2365.5 914.5,2365.6 915.5,2365.6 916.5,2365.5 917.5,2365.3 918.5,2364.9 919.5,2365.2 920.5,2365.5 921.5,2365.5 922.5,2365.8 923.5,2365.6 924.5,2366.0 925.5,2365.6 926.5,2365.2 927.5,2365.1 928.5,2365.2 929.5,2365.8 930.5,2365.4 931.5,2365.1 932.5,2365.1 933.5,2365.3 934.5,2365.5 935.5,2365.5 936.5,2365.4 937.5,2365.5 938.5,2365.4 939.5,2365.1 940.5,2365.4 941.5,2365.2 942.5,2365.5 943.5,2365.1 944.5,2364.9 945.5,2364.3 946.5,2364.3 947.5,2364.4 948.5,2365.7 949.5,2366.3 950.5,2366.3 951.5,2365.8 952.5,2365.6 953.5,2366.0 954.5,2365.8 955.5,2365.3 956.5,2364.7 957.5,2365.1 958.5,2365.5 959.5,2365.9 960.5,2365.6 961.5,2366.0 962.5,2366.1 963.5,2366.7 964.5,2365.5 965.5,2365.0 966.5,2364.2 967.5,2364.9 968.5,2365.1 969.5,2366.0 970.5,2365.7 971.5,2366.2 972.5,2365.6 973.5,2365.9 974.5,2365.4 975.5,2365.5 976.5,2364.8 977.5,2364.3 978.5,2363.8 979.5,2364.3 980.5,2365.1 981.5,2364.9 982.5,2364.4 983.5,2363.7 984.5,2364.6 985.5,2364.7 986.5,2364.8 987.5,2364.8 988.5,2364.9 989.5,2365.5 990.5,2365.6 991.5,2365.6 992.5,2364.8 993.5,2364.4 994.5,2365.4 995.5,2365.6 996.5,2366.3 997.5,2365.2 998.5,2365.2 999.5,2365.3 1000.5,2365.4 1001.5,2364.9 1002.5,2363.8 1003.5,2363.7 1004.5,2364.3 1005.5,2365.3 1006.5,2365.9 1007.5,2366.2 1008.5,2365.8 1009.5,2365.3 1010.5,2364.7 1011.5,2364.5 1012.5,2364.6 1013.5,2365.6 1014.5,2365.7 1015.5,2366.2 1016.5,2365.7 1017.5,2365.5 1018.5,2364.9 1019.5,2364.7 1020.5,2365.2 1021.5,2365.5 1022.5,2365.3 1023.5,2364.7 1024.5,2365.4 1025.5,2366.7 1026.5,2367.5 1027.5,2366.8 1028.5,2366.5 1029.5,2366.0 1030.5,2365.5 1031.5,2364.9 1032.5,2364.5 1033.5,2364.9 1034.5,2365.7 1035.5,2366.3 1036.5,2366.5 1037.5,2365.9 1038.5,2365.6 1039.5,2365.6 1040.5,2364.9 1041.5,2364.5 1042.5,2364.2 1043.5,2364.2 1044.5,2363.8 1045.5,2363.8 1046.5,2363.9 1047.5,2364.4 1048.5,2365.1 1049.5,2365.7 1050.5,2366.5 1051.5,2365.8 1052.5,2365.2 1053.5,2364.5 1054.5,2365.2 1055.5,2364.6 1056.5,2364.7 1057.5,2364.1 1058.5,2364.6 1059.5,2365.2 1060.5,2364.8 1061.5,2365.4 1062.5,2365.6 1063.5,2366.2 1064.5,2366.2 1065.5,2365.5 1066.5,2365.8 1067.5,2366.6 1068.5,2366.8 1069.5,2365.5 1070.5,2364.6 1071.5,2364.9 1072.5,2365.3 1073.5,2365.4 1074.5,2364.6 1075.5,2364.7 1076.5,2365.2 1077.5,2365.8 1078.5,2365.6 1079.5,2365.7 1080.5,2364.9 1081.5,2365.7 1082.5,2365.2" fill="none" stroke="#000" stroke-width="4.2" stroke-linejoin="round" stroke-linecap="round"/>
<polyline points="445.5,2333.8 446.5,2333.6 447.5,2333.3 448.5,2333.0 449.5,2332.7 450.5,2332.4 451.5,2332.1 452.5,2331.7 453.5,2331.3 454.5,2330.8 455.5,2330.3 456.5,2329.8 457.5,2329.3 458.5,2328.7 459.5,2328.0 460.5,2327.3 461.5,2326.6 462.5,2325.8 463.5,2324.9 464.5,2324.0 465.5,2323.0 466.5,2322.0 467.5,2320.9 468.5,2319.7 469.5,2318.5 470.5,2317.2 471.5,2315.8 472.5,2314.3 473.5,2312.8 474.5,2311.1 475.5,2309.4 476.5,2307.7 477.5,2305.8 478.5,2303.8 479.5,2301.8 480.5,2299.7 481.5,2297.5 482.5,2295.2 483.5,2292.8 484.5,2290.4 485.5,2287.9 486.5,2285.3 487.5,2282.6 488.5,2279.9 489.5,2277.3 490.5,2274.8 491.5,2272.4 492.5,2269.9 493.5,2267.4 494.5,2264.8 495.5,2262.1 496.5,2259.2 497.5,2256.1 498.5,2253.0 499.5,2249.9 500.5,2246.8 501.5,2243.8 502.5,2240.7 503.5,2237.7 504.5,2234.8 505.5,2231.9 506.5,2229.1 507.5,2226.4 508.5,2223.7 509.5,2221.2 510.5,2218.8 511.5,2216.5 512.5,2214.3 513.5,2212.3 514.5,2210.4 515.5,2208.7 516.5,2207.1 517.5,2205.8 518.5,2204.6 519.5,2203.6 520.5,2202.8 521.5,2202.2 522.5,2201.8 523.5,2201.6 524.5,2201.6 525.5,2201.8 526.5,2202.3 527.5,2202.9 528.5,2203.8 529.5,2204.8 530.5,2206.1 531.5,2207.5 532.5,2209.1 533.5,2210.9 534.5,2212.8 535.5,2214.9 536.5,2217.2 537.5,2219.6 538.5,2222.1 539.5,2224.8 540.5,2227.5 541.5,2230.4 542.5,2233.3 543.5,2236.3 544.5,2239.4 545.5,2242.5 546.5,2245.7 547.5,2248.9 548.5,2252.2 549.5,2255.4 550.5,2258.7 551.5,2262.0 552.5,2265.2 553.5,2268.5 554.5,2271.7 555.5,2274.9 556.5,2278.0 557.5,2281.1 558.5,2284.1 559.5,2287.1 560.5,2290.0 561.5,2292.9 562.5,2295.7 563.5,2298.4 564.5,2301.1 565.5,2303.6 566.5,2306.1 567.5,2308.5 568.5,2310.8 569.5,2313.0 570.5,2315.2 571.5,2317.3 572.5,2319.3 573.5,2321.2 574.5,2323.0 575.5,2324.7 576.5,2326.4 577.5,2328.0 578.5,2329.5 579.5,2330.9 580.5,2332.3 581.5,2333.6 582.5,2334.8 583.5,2336.0 584.5,2337.1 585.5,2338.2 586.5,2339.2 587.5,2340.1 588.5,2341.0 589.5,2341.9 590.5,2342.7 591.5,2343.4 592.5,2344.1 593.5,2344.8 594.5,2345.5 595.5,2346.1 596.5,2346.7 597.5,2347.3 598.5,2347.8 599.5,2348.3 600.5,2348.8 601.5,2349.3 602.5,2349.7 603.5,2350.2 604.5,2350.6 605.5,2351.0 606.5,2351.4 607.5,2351.8 608.5,2352.1 609.5,2352.5 610.5,2352.8 611.5,2353.2 612.5,2353.5 613.5,2353.8 614.5,2354.1 615.5,2354.5 616.5,2354.8 617.5,2355.1 618.5,2355.3 619.5,2355.6 620.5,2355.9 621.5,2356.2 622.5,2356.5 623.5,2356.7 624.5,2357.0 625.5,2357.3 626.5,2357.5 627.5,2357.8 628.5,2358.0 629.5,2358.2 630.5,2358.5 631.5,2358.7 632.5,2358.9 633.5,2359.2 634.5,2359.4 635.5,2359.6 636.5,2359.8 637.5,2360.0 638.5,2360.2 639.5,2360.4 640.5,2360.6 641.5,2360.8 642.5,2361.0 643.5,2361.1 644.5,2361.3 645.5,2361.5 646.5,2361.6 647.5,2361.8 648.5,2361.9 649.5,2362.1 650.5,2362.2 651.5,2362.3 652.5,2362.5 653.5,2362.6 654.5,2362.7 655.5,2362.8 656.5,2363.0 657.5,2363.1 658.5,2363.2 659.5,2363.3 660.5,2363.4 661.5,2363.4 662.5,2363.5 663.5,2363.6 664.5,2363.7 665.5,2363.8 666.5,2363.8 667.5,2363.9 668.5,2364.0 669.5,2364.0 670.5,2364.1 671.5,2364.1 672.5,2364.2 673.5,2364.3 674.5,2364.3 675.5,2364.3 676.5,2364.4 677.5,2364.4 678.5,2364.5 679.5,2364.5 680.5,2364.5 681.5,2364.6 682.5,2364.6 683.5,2364.6 684.5,2364.6 685.5,2364.7 686.5,2364.7 687.5,2364.7 688.5,2364.7 689.5,2364.8 690.5,2364.8 691.5,2364.8 692.5,2364.8 693.5,2364.8 694.5,2364.8 695.5,2364.8 696.5,2364.9 697.5,2364.9 698.5,2364.9 699.5,2364.9 700.5,2364.9 701.5,2364.9 702.5,2364.9 703.5,2364.9 704.5,2364.9 705.5,2365.0 706.5,2365.0 707.5,2365.0 708.5,2365.0 709.5,2365.0 710.5,2365.0 711.5,2365.0 712.5,2365.0 713.5,2365.0 714.5,2365.0 715.5,2365.0 716.5,2365.0 717.5,2365.0 718.5,2365.0 719.5,2365.0" fill="none" stroke="#ff00ff" stroke-width="3.4" stroke-linejoin="round" stroke-linecap="round"/>
<polyline points="129.5,2342.5 130.5,2342.5 131.5,2342.5 132.5,2342.5 133.5,2342.5 134.5,2342.5 135.5,2342.5 136.5,2342.5 137.5,2342.5 138.5,2342.5 139.5,2342.5 140.5,2342.5 141.5,2342.5 142.5,2342.5 143.5,2342.5 144.5,2342.5 145.5,2342.5 146.5,2342.5 147.5,2342.5 148.5,2342.5 149.5,2342.5 150.5,2342.5 151.5,2342.5 152.5,2342.5 153.5,2342.5 154.5,2342.5 155.5,2342.5 156.5,2342.5 157.5,2342.5 158.5,2342.5 159.5,2342.5 160.5,2342.5 161.5,2342.5 162.5,2342.5 163.5,2342.5 164.5,2342.5 165.5,2342.5 166.5,2342.5 167.5,2342.5 168.5,2342.5 169.5,2342.5 170.5,2342.5 171.5,2342.5 172.5,2342.5 173.5,2342.5 174.5,2342.5 175.5,2342.5 176.5,2342.5 177.5,2342.5 178.5,2342.5 179.5,2342.5 180.5,2342.5 181.5,2342.5 182.5,2342.5 183.5,2342.5 184.5,2342.5 185.5,2342.5 186.5,2342.5 187.5,2342.5 188.5,2342.5 189.5,2342.5 190.5,2342.5 191.5,2342.5 192.5,2342.5 193.5,2342.5 194.5,2342.5 195.5,2342.5 196.5,2342.5 197.5,2342.5 198.5,2342.5 199.5,2342.5 200.5,2342.5 201.5,2342.5 202.5,2342.5 203.5,2342.5 204.5,2342.5 205.5,2342.5 206.5,2342.5 207.5,2342.5 208.5,2342.5 209.5,2342.5 210.5,2342.5 211.5,2342.5 212.5,2342.5 213.5,2342.5 214.5,2342.5 215.5,2342.5 216.5,2342.5 217.5,2342.5 218.5,2342.5 219.5,2342.5 220.5,2342.5 221.5,2342.5 222.5,2342.5 223.5,2342.5 224.5,2342.5 225.5,2342.5 226.5,2342.5 227.5,2342.5 228.5,2342.5 229.5,2342.5 230.5,2342.5 231.5,2342.3 232.5,2342.0 233.5,2341.5 234.5,2341.0 235.5,2340.5 236.5,2340.0 237.5,2339.5 238.5,2339.2 239.5,2339.0 240.5,2339.0 241.5,2339.0 242.5,2339.0 243.5,2339.0 244.5,2339.0 245.5,2339.0 246.5,2339.0 247.5,2339.0 248.5,2339.0 249.5,2339.0 250.5,2339.0 251.5,2339.0 252.5,2339.0 253.5,2339.0 254.5,2339.0 255.5,2339.0 256.5,2339.0 257.5,2339.0 258.5,2339.0 259.5,2339.0 260.5,2339.0 261.5,2339.0 262.5,2339.0 263.5,2339.0 264.5,2339.0 265.5,2339.0 266.5,2339.0 267.5,2339.0 268.5,2339.0 269.5,2339.0 270.5,2339.0 271.5,2339.0 272.5,2339.0 273.5,2339.0 274.5,2339.0 275.5,2339.0 276.5,2339.0 277.5,2339.0 278.5,2339.0 279.5,2339.0 280.5,2339.0 281.5,2339.0 282.5,2339.0 283.5,2339.0 284.5,2339.0 285.5,2339.0 286.5,2339.0 287.5,2339.0 288.5,2339.0 289.5,2339.0 290.5,2339.0 291.5,2339.0 292.5,2339.0 293.5,2339.0 294.5,2339.0 295.5,2339.0 296.5,2339.0 297.5,2339.0 298.5,2339.0 299.5,2339.0 300.5,2339.0 301.5,2339.0 302.5,2339.0 303.5,2339.0 304.5,2339.0 305.5,2339.0 306.5,2339.0 307.5,2339.0 308.5,2339.0 309.5,2339.0 310.5,2339.0 311.5,2339.0 312.5,2339.0 313.5,2339.0 314.5,2339.0 315.5,2339.0 316.5,2339.0 317.5,2339.0 318.5,2339.0 319.5,2339.0 320.5,2339.0 321.5,2339.0 322.5,2339.0 323.5,2339.0 324.5,2339.0 325.5,2339.0 326.5,2339.0 327.5,2339.0 328.5,2339.0 329.5,2339.0 330.5,2339.0 331.5,2339.0 332.5,2339.0 333.5,2339.0 334.5,2339.0 335.5,2339.0 336.5,2339.0 337.5,2339.0 338.5,2339.0 339.5,2339.0 340.5,2339.0 341.5,2339.0 342.5,2339.0 343.5,2339.0 344.5,2339.0 345.5,2339.0 346.5,2339.0 347.5,2339.0 348.5,2339.0 349.5,2339.0 350.5,2339.0 351.5,2339.0 352.5,2339.0 353.5,2339.0 354.5,2339.0 355.5,2339.0 356.5,2339.0 357.5,2339.0 358.5,2339.0 359.5,2339.0 360.5,2339.0 361.5,2339.0 362.5,2339.0 363.5,2339.0 364.5,2339.0 365.5,2339.0 366.5,2339.0 367.5,2339.0 368.5,2339.0 369.5,2339.0 370.5,2339.0 371.5,2339.0 372.5,2339.0 373.5,2339.0 374.5,2339.0 375.5,2339.0 376.5,2339.0 377.5,2339.0 378.5,2339.0 379.5,2339.0 380.5,2339.0 381.5,2339.0 382.5,2339.0 383.5,2339.0 384.5,2339.0 385.5,2339.0 386.5,2339.0 387.5,2339.0 388.5,2339.0 389.5,2339.0 390.5,2339.0 391.5,2339.0 392.5,2339.0 393.5,2339.0 394.5,2339.0 395.5,2339.0 396.5,2339.0 397.5,2339.0 398.5,2339.0 399.5,2339.0 400.5,2339.0 401.5,2339.0 402.5,2339.0 403.5,2339.0 404.5,2339.0 405.5,2339.0 406.5,2338.9 407.5,2338.8 408.5,2338.5 409.5,2338.3 410.5,2338.1 411.5,2337.9 412.5,2337.7 413.5,2337.5 414.5,2337.4 415.5,2337.4 416.5,2337.4 417.5,2337.4 418.5,2337.4 419.5,2337.4 420.5,2337.4 421.5,2337.4 422.5,2337.4 423.5,2337.4 424.5,2337.4 425.5,2337.4 426.5,2337.4 427.5,2337.4 428.5,2337.4 429.5,2337.4 430.5,2337.4 431.5,2337.4 432.5,2337.4 433.5,2337.4 434.5,2337.4 435.5,2337.4 436.5,2337.4 437.5,2337.4 438.5,2337.4 439.5,2337.4 440.5,2337.4 441.5,2337.4 442.5,2337.4 443.5,2337.4 444.5,2337.4 445.5,2337.4 446.5,2337.4 447.5,2337.4 448.5,2337.4 449.5,2337.4 450.5,2337.4 451.5,2337.4 452.5,2337.4 453.5,2337.4 454.5,2337.4 455.5,2337.4 456.5,2337.4 457.5,2337.4 458.5,2337.4 459.5,2337.4 460.5,2337.5 461.5,2337.5 462.5,2337.5 463.5,2337.5 464.5,2337.5 465.5,2337.5 466.5,2337.5 467.5,2337.5 468.5,2337.5 469.5,2337.5 470.5,2337.5 471.5,2337.6 472.5,2337.6 473.5,2337.6 474.5,2337.6 475.5,2337.6 476.5,2337.7 477.5,2337.7 478.5,2337.7 479.5,2337.7 480.5,2337.8 481.5,2337.8 482.5,2337.8 483.5,2337.8 484.5,2337.9 485.5,2337.9 486.5,2337.9 487.5,2338.0 488.5,2338.1 489.5,2338.3 490.5,2338.7 491.5,2339.2 492.5,2339.7 493.5,2340.2 494.5,2340.7 495.5,2341.1 496.5,2341.4 497.5,2341.5 498.5,2341.5 499.5,2341.6 500.5,2341.6 501.5,2341.7 502.5,2341.8 503.5,2341.8 504.5,2341.9 505.5,2341.9 506.5,2342.0 507.5,2342.0 508.5,2342.1 509.5,2342.1 510.5,2342.1 511.5,2342.2 512.5,2342.2 513.5,2342.2 514.5,2342.2 515.5,2342.2 516.5,2342.2 517.5,2342.2 518.5,2342.2 519.5,2342.1 520.5,2342.1 521.5,2342.0 522.5,2341.9 523.5,2341.8 524.5,2341.7 525.5,2341.5 526.5,2341.3 527.5,2341.1 528.5,2340.8 529.5,2340.6 530.5,2340.2 531.5,2339.9 532.5,2339.5 533.5,2339.0 534.5,2338.6 535.5,2338.0 536.5,2337.4 537.5,2336.8 538.5,2336.1 539.5,2335.3 540.5,2334.5 541.5,2333.6 542.5,2332.6 543.5,2331.5 544.5,2330.4 545.5,2329.1 546.5,2327.8 547.5,2326.4 548.5,2324.9 549.5,2323.3 550.5,2321.6 551.5,2319.8 552.5,2317.9 553.5,2315.8 554.5,2313.7 555.5,2311.4 556.5,2309.0 557.5,2306.5 558.5,2303.8 559.5,2301.0 560.5,2298.1 561.5,2295.1 562.5,2291.9 563.5,2288.5 564.5,2285.1 565.5,2281.5 566.5,2277.7 567.5,2273.9 568.5,2269.8 569.5,2265.7 570.5,2261.4 571.5,2257.0 572.5,2252.5 573.5,2247.8 574.5,2243.1 575.5,2238.2 576.5,2233.2 577.5,2228.1 578.5,2222.9 579.5,2217.6 580.5,2212.3 581.5,2206.9 582.5,2201.4 583.5,2195.9 584.5,2190.3 585.5,2184.7 586.5,2179.1 587.5,2173.5 588.5,2167.9 589.5,2162.3 590.5,2156.8 591.5,2151.3 592.5,2145.8 593.5,2140.5 594.5,2135.2 595.5,2130.0 596.5,2124.9 597.5,2120.0 598.5,2115.2 599.5,2110.5 600.5,2106.1 601.5,2101.8 602.5,2097.7 603.5,2093.8 604.5,2090.2 605.5,2086.7 606.5,2083.5 607.5,2080.6 608.5,2077.9 609.5,2075.5 610.5,2073.4 611.5,2071.6 612.5,2070.0 613.5,2068.8 614.5,2067.8 615.5,2067.2 616.5,2066.9 617.5,2066.8 618.5,2067.1 619.5,2067.7 620.5,2068.6 621.5,2069.8 622.5,2071.4 623.5,2073.2 624.5,2075.3 625.5,2077.7 626.5,2080.3 627.5,2083.3 628.5,2086.5 629.5,2090.0 630.5,2093.7 631.5,2097.6 632.5,2101.7 633.5,2106.1 634.5,2110.7 635.5,2115.4 636.5,2120.3 637.5,2125.4 638.5,2130.6 639.5,2136.0 640.5,2141.4 641.5,2147.0 642.5,2152.6 643.5,2158.4 644.5,2164.2 645.5,2170.0 646.5,2175.8 647.5,2181.7 648.5,2187.6 649.5,2193.5 650.5,2199.4 651.5,2205.2 652.5,2211.0 653.5,2216.7 654.5,2222.4 655.5,2228.0 656.5,2233.6 657.5,2239.0 658.5,2244.3 659.5,2249.6 660.5,2254.7 661.5,2259.7 662.5,2264.6 663.5,2269.4 664.5,2274.1 665.5,2278.6 666.5,2282.9 667.5,2287.2 668.5,2291.3 669.5,2295.2 670.5,2299.1 671.5,2302.7 672.5,2306.3 673.5,2309.7 674.5,2312.9 675.5,2316.1 676.5,2319.0 677.5,2321.9 678.5,2324.6 679.5,2327.2 680.5,2329.7 681.5,2332.0 682.5,2334.2 683.5,2336.3 684.5,2338.3 685.5,2340.2 686.5,2342.0 687.5,2343.7 688.5,2345.2 689.5,2346.7 690.5,2348.1 691.5,2349.4 692.5,2350.6 693.5,2351.8 694.5,2352.8 695.5,2353.8 696.5,2354.8 697.5,2355.6 698.5,2356.4 699.5,2357.2 700.5,2357.9 701.5,2358.5 702.5,2359.1 703.5,2359.7 704.5,2360.2 705.5,2360.6 706.5,2361.1 707.5,2361.5 708.5,2361.8 709.5,2362.2 710.5,2362.5 711.5,2362.7 712.5,2363.0 713.5,2363.2 714.5,2363.4 715.5,2363.6 716.5,2363.8 717.5,2364.0 718.5,2364.1 719.5,2364.2 720.5,2364.4 721.5,2364.5 722.5,2364.6 723.5,2364.7 724.5,2364.7 725.5,2364.8 726.5,2364.9 727.5,2364.9 728.5,2365.0 729.5,2365.0 730.5,2365.1 731.5,2365.1 732.5,2365.1 733.5,2365.2 734.5,2365.2 735.5,2365.2 736.5,2365.2 737.5,2365.3 738.5,2365.3 739.5,2365.3 740.5,2365.3 741.5,2365.3 742.5,2365.3 743.5,2365.3 744.5,2365.3 745.5,2365.4 746.5,2365.4 747.5,2365.4 748.5,2365.4 749.5,2365.4 750.5,2365.4 751.5,2365.4 752.5,2365.4 753.5,2365.4 754.5,2365.4 755.5,2365.4 756.5,2365.4 757.5,2365.4 758.5,2365.4 759.5,2365.4 760.5,2365.4 761.5,2365.4 762.5,2365.4 763.5,2365.4 764.5,2365.4 765.5,2365.4 766.5,2365.4 767.5,2365.4 768.5,2365.4 769.5,2365.4 770.5,2365.4 771.5,2365.4 772.5,2365.4 773.5,2365.4 774.5,2365.4 775.5,2365.4 776.5,2365.4 777.5,2365.4 778.5,2365.4 779.5,2365.4 780.5,2365.4 781.5,2365.4 782.5,2365.4 783.5,2365.4 784.5,2365.4 785.5,2365.4 786.5,2365.4 787.5,2365.4 788.5,2365.4 789.5,2365.4 790.5,2365.4 791.5,2365.4 792.5,2365.4 793.5,2365.4 794.5,2365.4 795.5,2365.4 796.5,2365.4 797.5,2365.4 798.5,2365.4 799.5,2365.4 800.5,2365.4 801.5,2365.4 802.5,2365.4 803.5,2365.4 804.5,2365.4 805.5,2365.4 806.5,2365.4 807.5,2365.4 808.5,2365.4 809.5,2365.4 810.5,2365.4 811.5,2365.4 812.5,2365.4 813.5,2365.4 814.5,2365.4 815.5,2365.4 816.5,2365.4 817.5,2365.4 818.5,2365.4 819.5,2365.4 820.5,2365.4 821.5,2365.4 822.5,2365.4 823.5,2365.4 824.5,2365.4 825.5,2365.4 826.5,2365.4 827.5,2365.4 828.5,2365.4 829.5,2365.4 830.5,2365.4 831.5,2365.4 832.5,2365.4 833.5,2365.4 834.5,2365.4 835.5,2365.4 836.5,2365.4 837.5,2365.4 838.5,2365.4 839.5,2365.4 840.5,2365.4 841.5,2365.4 842.5,2365.4 843.5,2365.4 844.5,2365.4 845.5,2365.4 846.5,2365.4 847.5,2365.4 848.5,2365.4 849.5,2365.4 850.5,2365.4 851.5,2365.4 852.5,2365.4 853.5,2365.4 854.5,2365.4 855.5,2365.4 856.5,2365.4 857.5,2365.4 858.5,2365.4 859.5,2365.4 860.5,2365.4 861.5,2365.4 862.5,2365.4 863.5,2365.4 864.5,2365.4 865.5,2365.4 866.5,2365.4 867.5,2365.4 868.5,2365.4 869.5,2365.4 870.5,2365.4 871.5,2365.4 872.5,2365.4 873.5,2365.4 874.5,2365.4 875.5,2365.4 876.5,2365.4 877.5,2365.4 878.5,2365.4 879.5,2365.4 880.5,2365.4 881.5,2365.4 882.5,2365.4 883.5,2365.4 884.5,2365.4 885.5,2365.4 886.5,2365.4 887.5,2365.4 888.5,2365.4 889.5,2365.4 890.5,2365.4 891.5,2365.4 892.5,2365.4 893.5,2365.4 894.5,2365.4 895.5,2365.4 896.5,2365.4 897.5,2365.4 898.5,2365.4 899.5,2365.4 900.5,2365.4 901.5,2365.4 902.5,2365.4 903.5,2365.4 904.5,2365.4 905.5,2365.4 906.5,2365.4 907.5,2365.4 908.5,2365.4 909.5,2365.4 910.5,2365.4 911.5,2365.4 912.5,2365.4 913.5,2365.4 914.5,2365.4 915.5,2365.4 916.5,2365.4 917.5,2365.4 918.5,2365.4 919.5,2365.4 920.5,2365.4 921.5,2365.4 922.5,2365.4 923.5,2365.4 924.5,2365.4 925.5,2365.4 926.5,2365.4 927.5,2365.4 928.5,2365.4 929.5,2365.4 930.5,2365.4 931.5,2365.4 932.5,2365.4 933.5,2365.4 934.5,2365.4 935.5,2365.4 936.5,2365.4 937.5,2365.4 938.5,2365.4 939.5,2365.4 940.5,2365.4 941.5,2365.4 942.5,2365.4 943.5,2365.4 944.5,2365.4 945.5,2365.4 946.5,2365.4 947.5,2365.4 948.5,2365.4 949.5,2365.4 950.5,2365.4 951.5,2365.4 952.5,2365.4 953.5,2365.4 954.5,2365.4 955.5,2365.4 956.5,2365.4 957.5,2365.4 958.5,2365.4 959.5,2365.4 960.5,2365.4 961.5,2365.4 962.5,2365.4 963.5,2365.4 964.5,2365.4 965.5,2365.4 966.5,2365.4 967.5,2365.4 968.5,2365.4 969.5,2365.4 970.5,2365.4 971.5,2365.4 972.5,2365.4 973.5,2365.4 974.5,2365.4 975.5,2365.4 976.5,2365.4 977.5,2365.4 978.5,2365.4 979.5,2365.4 980.5,2365.4 981.5,2365.4 982.5,2365.4 983.5,2365.4 984.5,2365.4 985.5,2365.4 986.5,2365.4 987.5,2365.4 988.5,2365.4 989.5,2365.4 990.5,2365.4 991.5,2365.4 992.5,2365.4 993.5,2365.4 994.5,2365.4 995.5,2365.4 996.5,2365.4 997.5,2365.4 998.5,2365.4 999.5,2365.4 1000.5,2365.4 1001.5,2365.4 1002.5,2365.4 1003.5,2365.4 1004.5,2365.4 1005.5,2365.4 1006.5,2365.4 1007.5,2365.4 1008.5,2365.4 1009.5,2365.4 1010.5,2365.4 1011.5,2365.4 1012.5,2365.4 1013.5,2365.4 1014.5,2365.4 1015.5,2365.4 1016.5,2365.4 1017.5,2365.4 1018.5,2365.4 1019.5,2365.4 1020.5,2365.4 1021.5,2365.4 1022.5,2365.4 1023.5,2365.4 1024.5,2365.4 1025.5,2365.4 1026.5,2365.4 1027.5,2365.4 1028.5,2365.4 1029.5,2365.4 1030.5,2365.4 1031.5,2365.4 1032.5,2365.4 1033.5,2365.4 1034.5,2365.4 1035.5,2365.4 1036.5,2365.4 1037.5,2365.4 1038.5,2365.4 1039.5,2365.4 1040.5,2365.4 1041.5,2365.4 1042.5,2365.4 1043.5,2365.4 1044.5,2365.4 1045.5,2365.4 1046.5,2365.4 1047.5,2365.4 1048.5,2365.4 1049.5,2365.4 1050.5,2365.4 1051.5,2365.4 1052.5,2365.4 1053.5,2365.4 1054.5,2365.4 1055.5,2365.4 1056.5,2365.4 1057.5,2365.4 1058.5,2365.4 1059.5,2365.4 1060.5,2365.4 1061.5,2365.4 1062.5,2365.4 1063.5,2365.4 1064.5,2365.4 1065.5,2365.4 1066.5,2365.4 1067.5,2365.4 1068.5,2365.4 1069.5,2365.4 1070.5,2365.4 1071.5,2365.4 1072.5,2365.4 1073.5,2365.4 1074.5,2365.4 1075.5,2365.4 1076.5,2365.4 1077.5,2365.4 1078.5,2365.4 1079.5,2365.4 1080.5,2365.4 1081.5,2365.4 1082.5,2365.4" fill="none" stroke="#0000ff" stroke-width="4.0" stroke-linejoin="round" stroke-linecap="round"/>
<polyline points="1217.5,2237.3 1218.5,2238.5 1219.5,2239.4 1220.5,2236.6 1221.5,2233.6 1222.5,2234.7 1223.5,2235.4 1224.5,2235.1 1225.5,2235.9 1226.5,2239.0 1227.5,2239.4 1228.5,2237.5 1229.5,2238.7 1230.5,2237.3 1231.5,2235.5 1232.5,2233.5 1233.5,2232.6 1234.5,2236.5 1235.5,2237.2 1236.5,2235.6 1237.5,2238.7 1238.5,2241.8 1239.5,2239.6 1240.5,2235.6 1241.5,2233.3 1242.5,2234.6 1243.5,2234.8 1244.5,2234.6 1245.5,2235.5 1246.5,2235.3 1247.5,2235.5 1248.5,2237.5 1249.5,2237.8 1250.5,2238.4 1251.5,2238.0 1252.5,2237.9 1253.5,2237.0 1254.5,2234.9 1255.5,2235.8 1256.5,2233.7 1257.5,2237.4 1258.5,2239.2 1259.5,2234.4 1260.5,2231.7 1261.5,2234.0 1262.5,2237.4 1263.5,2236.7 1264.5,2234.5 1265.5,2233.5 1266.5,2232.4 1267.5,2232.2 1268.5,2233.5 1269.5,2235.3 1270.5,2237.1 1271.5,2234.3 1272.5,2229.8 1273.5,2234.3 1274.5,2237.5 1275.5,2233.4 1276.5,2233.5 1277.5,2233.3 1278.5,2232.1 1279.5,2229.4 1280.5,2229.4 1281.5,2235.7 1282.5,2237.5 1283.5,2234.5 1284.5,2233.3 1285.5,2234.7 1286.5,2236.1 1287.5,2233.8 1288.5,2231.7 1289.5,2233.1 1290.5,2234.9 1291.5,2234.0 1292.5,2233.3 1293.5,2235.0 1294.5,2234.3 1295.5,2233.9 1296.5,2235.7 1297.5,2232.9 1298.5,2231.3 1299.5,2233.7 1300.5,2236.7 1301.5,2233.2 1302.5,2228.6 1303.5,2229.2 1304.5,2228.8 1305.5,2231.5 1306.5,2231.5 1307.5,2230.7 1308.5,2232.2 1309.5,2232.0 1310.5,2233.3 1311.5,2234.1 1312.5,2231.5 1313.5,2230.2 1314.5,2231.9 1315.5,2231.6 1316.5,2231.9 1317.5,2232.7 1318.5,2231.1 1319.5,2230.6 1320.5,2229.6 1321.5,2230.5 1322.5,2231.2 1323.5,2229.6 1324.5,2229.9 1325.5,2234.3 1326.5,2236.5 1327.5,2232.0 1328.5,2228.6 1329.5,2230.5 1330.5,2230.5 1331.5,2231.1 1332.5,2231.5 1333.5,2231.3 1334.5,2235.4 1335.5,2233.1 1336.5,2230.9 1337.5,2232.5 1338.5,2235.1 1339.5,2237.6 1340.5,2232.5 1341.5,2230.7 1342.5,2233.5 1343.5,2231.9 1344.5,2231.0 1345.5,2228.8 1346.5,2226.5 1347.5,2228.0 1348.5,2227.2 1349.5,2227.8 1350.5,2230.1 1351.5,2231.9 1352.5,2229.9 1353.5,2229.6 1354.5,2231.8 1355.5,2230.2 1356.5,2229.6 1357.5,2229.1 1358.5,2228.1 1359.5,2226.6 1360.5,2229.6 1361.5,2227.6 1362.5,2227.2 1363.5,2231.3 1364.5,2230.2 1365.5,2231.2 1366.5,2230.9 1367.5,2229.7 1368.5,2230.7 1369.5,2230.2 1370.5,2230.7 1371.5,2232.3 1372.5,2230.6 1373.5,2229.9 1374.5,2228.6 1375.5,2228.4 1376.5,2230.0 1377.5,2227.4 1378.5,2227.2 1379.5,2230.2 1380.5,2228.8 1381.5,2225.9 1382.5,2227.4 1383.5,2228.5 1384.5,2227.1 1385.5,2228.1 1386.5,2228.1 1387.5,2228.2 1388.5,2231.4 1389.5,2231.8 1390.5,2230.4 1391.5,2228.4 1392.5,2230.1 1393.5,2231.4 1394.5,2232.1 1395.5,2231.7 1396.5,2229.1 1397.5,2228.0 1398.5,2228.4 1399.5,2228.3 1400.5,2228.0 1401.5,2232.7 1402.5,2233.8 1403.5,2229.2 1404.5,2229.6 1405.5,2229.8 1406.5,2227.9 1407.5,2228.9 1408.5,2228.8 1409.5,2229.6 1410.5,2226.6 1411.5,2228.3 1412.5,2232.0 1413.5,2228.9 1414.5,2229.8 1415.5,2233.9 1416.5,2232.1 1417.5,2231.1 1418.5,2232.9 1419.5,2232.4 1420.5,2232.0 1421.5,2232.3 1422.5,2234.5 1423.5,2232.4 1424.5,2230.6 1425.5,2232.6 1426.5,2233.3 1427.5,2231.9 1428.5,2232.2 1429.5,2233.4 1430.5,2235.2 1431.5,2237.4 1432.5,2237.4 1433.5,2238.3 1434.5,2237.6 1435.5,2235.7 1436.5,2237.7 1437.5,2238.8 1438.5,2236.9 1439.5,2240.2 1440.5,2239.0 1441.5,2237.9 1442.5,2242.3 1443.5,2240.6 1444.5,2237.6 1445.5,2238.8 1446.5,2238.5 1447.5,2234.9 1448.5,2237.9 1449.5,2243.5 1450.5,2239.8 1451.5,2238.4 1452.5,2240.8 1453.5,2239.7 1454.5,2240.6 1455.5,2240.0 1456.5,2238.5 1457.5,2239.4 1458.5,2240.4 1459.5,2236.4 1460.5,2237.8 1461.5,2242.6 1462.5,2242.4 1463.5,2241.3 1464.5,2238.0 1465.5,2239.2 1466.5,2241.6 1467.5,2242.3 1468.5,2242.6 1469.5,2239.8 1470.5,2237.0 1471.5,2238.1 1472.5,2240.4 1473.5,2240.7 1474.5,2239.3 1475.5,2239.7 1476.5,2237.7 1477.5,2237.4 1478.5,2236.9 1479.5,2239.7 1480.5,2240.4 1481.5,2240.7 1482.5,2245.0 1483.5,2244.0 1484.5,2244.0 1485.5,2241.9 1486.5,2241.0 1487.5,2244.2 1488.5,2242.6 1489.5,2240.0 1490.5,2243.4 1491.5,2242.9 1492.5,2244.3 1493.5,2243.8 1494.5,2240.2 1495.5,2242.4 1496.5,2242.6 1497.5,2242.3 1498.5,2243.8 1499.5,2244.1 1500.5,2245.0 1501.5,2246.1 1502.5,2246.4 1503.5,2246.4 1504.5,2246.2 1505.5,2246.7 1506.5,2247.5 1507.5,2248.5 1508.5,2250.7 1509.5,2248.7 1510.5,2249.2 1511.5,2251.8 1512.5,2250.8 1513.5,2248.9 1514.5,2247.9 1515.5,2249.5 1516.5,2248.8 1517.5,2249.6 1518.5,2248.3 1519.5,2246.0 1520.5,2249.2 1521.5,2251.3 1522.5,2247.5 1523.5,2247.6 1524.5,2250.5 1525.5,2251.2 1526.5,2250.9 1527.5,2249.6 1528.5,2248.2 1529.5,2248.1 1530.5,2249.0 1531.5,2250.1 1532.5,2247.6 1533.5,2246.8 1534.5,2251.7 1535.5,2247.6 1536.5,2246.9 1537.5,2251.9 1538.5,2251.1 1539.5,2251.1 1540.5,2249.8 1541.5,2250.7 1542.5,2252.2 1543.5,2248.2 1544.5,2248.8 1545.5,2249.9 1546.5,2247.4 1547.5,2249.8 1548.5,2250.7 1549.5,2250.5 1550.5,2251.6 1551.5,2251.2 1552.5,2251.5 1553.5,2249.4 1554.5,2251.4 1555.5,2255.3 1556.5,2251.7 1557.5,2250.2 1558.5,2253.6 1559.5,2252.6 1560.5,2247.8 1561.5,2252.6 1562.5,2257.3 1563.5,2254.8 1564.5,2255.5 1565.5,2255.8 1566.5,2254.4 1567.5,2254.8 1568.5,2255.0 1569.5,2252.7 1570.5,2251.8 1571.5,2253.9 1572.5,2252.3 1573.5,2250.0 1574.5,2251.6 1575.5,2256.2 1576.5,2256.3 1577.5,2255.6 1578.5,2257.9 1579.5,2258.5 1580.5,2257.7 1581.5,2253.1 1582.5,2248.9 1583.5,2250.0 1584.5,2253.0 1585.5,2254.7 1586.5,2254.6 1587.5,2254.3 1588.5,2256.2 1589.5,2255.0 1590.5,2255.1 1591.5,2258.0 1592.5,2254.4 1593.5,2253.9 1594.5,2256.7 1595.5,2257.4 1596.5,2258.3 1597.5,2254.2 1598.5,2256.6 1599.5,2260.3 1600.5,2258.9 1601.5,2260.2 1602.5,2257.3 1603.5,2255.9 1604.5,2257.2 1605.5,2260.8 1606.5,2259.1 1607.5,2258.2 1608.5,2261.7 1609.5,2259.3 1610.5,2256.3 1611.5,2256.3 1612.5,2259.0 1613.5,2257.9 1614.5,2257.3 1615.5,2259.8 1616.5,2260.6 1617.5,2259.2 1618.5,2259.2 1619.5,2261.0 1620.5,2256.9 1621.5,2253.9 1622.5,2254.9 1623.5,2255.7 1624.5,2259.1 1625.5,2261.2 1626.5,2260.7 1627.5,2259.1 1628.5,2260.2 1629.5,2258.6 1630.5,2254.9 1631.5,2258.6 1632.5,2260.4 1633.5,2261.1 1634.5,2263.0 1635.5,2262.9 1636.5,2260.4 1637.5,2258.1 1638.5,2256.9 1639.5,2257.9 1640.5,2260.6 1641.5,2259.8 1642.5,2259.5 1643.5,2260.9 1644.5,2262.9 1645.5,2261.8 1646.5,2259.6 1647.5,2260.5 1648.5,2262.6 1649.5,2265.8 1650.5,2266.7 1651.5,2260.2 1652.5,2256.2 1653.5,2258.9 1654.5,2257.8 1655.5,2260.3 1656.5,2263.1 1657.5,2260.2 1658.5,2261.5 1659.5,2264.3 1660.5,2264.2 1661.5,2263.9 1662.5,2266.2 1663.5,2264.7 1664.5,2263.5 1665.5,2262.4 1666.5,2260.7 1667.5,2265.5 1668.5,2266.4 1669.5,2263.4 1670.5,2266.0 1671.5,2267.1 1672.5,2267.4 1673.5,2271.3 1674.5,2273.5 1675.5,2270.3 1676.5,2267.5 1677.5,2267.1 1678.5,2269.4 1679.5,2271.3 1680.5,2273.1 1681.5,2271.6 1682.5,2267.2 1683.5,2263.5 1684.5,2262.5 1685.5,2266.1 1686.5,2268.0 1687.5,2270.7 1688.5,2268.7 1689.5,2267.1 1690.5,2269.3 1691.5,2269.4 1692.5,2269.6 1693.5,2272.2 1694.5,2270.3 1695.5,2268.4 1696.5,2271.2 1697.5,2270.9 1698.5,2271.6 1699.5,2271.0 1700.5,2270.4 1701.5,2271.4 1702.5,2270.6 1703.5,2269.2 1704.5,2270.1 1705.5,2269.4 1706.5,2269.4 1707.5,2271.3 1708.5,2270.1 1709.5,2272.2 1710.5,2269.7 1711.5,2268.9 1712.5,2271.8 1713.5,2269.8 1714.5,2270.6 1715.5,2271.5 1716.5,2273.2 1717.5,2272.6 1718.5,2272.2 1719.5,2275.3 1720.5,2273.5 1721.5,2270.4 1722.5,2269.9 1723.5,2269.0 1724.5,2268.1 1725.5,2269.3 1726.5,2271.1 1727.5,2270.0 1728.5,2270.3 1729.5,2272.0 1730.5,2273.0 1731.5,2274.8 1732.5,2272.5 1733.5,2272.2 1734.5,2273.6 1735.5,2272.6 1736.5,2272.1 1737.5,2272.9 1738.5,2271.9 1739.5,2270.4 1740.5,2272.5 1741.5,2271.9 1742.5,2272.5 1743.5,2276.7 1744.5,2275.5 1745.5,2275.1 1746.5,2274.8 1747.5,2275.3 1748.5,2281.5 1749.5,2281.4 1750.5,2276.7 1751.5,2276.1 1752.5,2274.1 1753.5,2273.2 1754.5,2275.1 1755.5,2275.4 1756.5,2276.2 1757.5,2279.2 1758.5,2277.1 1759.5,2274.3 1760.5,2276.8 1761.5,2276.1 1762.5,2274.6 1763.5,2277.4 1764.5,2279.8 1765.5,2279.7 1766.5,2277.4 1767.5,2277.9 1768.5,2280.9 1769.5,2279.5 1770.5,2278.4 1771.5,2278.9 1772.5,2278.6 1773.5,2278.3 1774.5,2279.5 1775.5,2279.2 1776.5,2281.4 1777.5,2283.8 1778.5,2281.0 1779.5,2283.6 1780.5,2284.4 1781.5,2277.6 1782.5,2279.3 1783.5,2284.0 1784.5,2282.5 1785.5,2281.7 1786.5,2281.0 1787.5,2279.3 1788.5,2278.7 1789.5,2284.6 1790.5,2285.5 1791.5,2282.1 1792.5,2286.1 1793.5,2285.0 1794.5,2282.3 1795.5,2282.9 1796.5,2281.0 1797.5,2282.7 1798.5,2286.2 1799.5,2285.3 1800.5,2284.3 1801.5,2285.9 1802.5,2287.6 1803.5,2290.0 1804.5,2290.4 1805.5,2289.0 1806.5,2287.4 1807.5,2284.5 1808.5,2287.9 1809.5,2289.1 1810.5,2288.7 1811.5,2290.6 1812.5,2288.7 1813.5,2289.5 1814.5,2293.9 1815.5,2296.1 1816.5,2293.2 1817.5,2291.2 1818.5,2289.2 1819.5,2288.2 1820.5,2290.9 1821.5,2293.2 1822.5,2295.2 1823.5,2294.9 1824.5,2296.5 1825.5,2296.2 1826.5,2295.7 1827.5,2295.9 1828.5,2294.6 1829.5,2296.6 1830.5,2298.6 1831.5,2297.5 1832.5,2295.9 1833.5,2296.8 1834.5,2298.0 1835.5,2300.8 1836.5,2301.6 1837.5,2299.1 1838.5,2297.7 1839.5,2300.3 1840.5,2303.0 1841.5,2302.8 1842.5,2300.9 1843.5,2298.1 1844.5,2297.1 1845.5,2298.7 1846.5,2298.4 1847.5,2298.1 1848.5,2303.1 1849.5,2304.1 1850.5,2302.2 1851.5,2300.3 1852.5,2301.3 1853.5,2302.3 1854.5,2300.4 1855.5,2301.4 1856.5,2301.6 1857.5,2300.6 1858.5,2301.6 1859.5,2305.6 1860.5,2304.3 1861.5,2302.6 1862.5,2301.6 1863.5,2301.0 1864.5,2301.8 1865.5,2303.7 1866.5,2304.1 1867.5,2303.1 1868.5,2304.1 1869.5,2301.5 1870.5,2301.6 1871.5,2303.6 1872.5,2304.9 1873.5,2304.9 1874.5,2301.2 1875.5,2300.1 1876.5,2302.2 1877.5,2305.0 1878.5,2305.5 1879.5,2306.0 1880.5,2306.4 1881.5,2305.8 1882.5,2308.0 1883.5,2307.9 1884.5,2304.1 1885.5,2305.8 1886.5,2308.3 1887.5,2308.0 1888.5,2304.4 1889.5,2303.3 1890.5,2307.7 1891.5,2307.3 1892.5,2307.4 1893.5,2306.8 1894.5,2305.8 1895.5,2308.3 1896.5,2309.6 1897.5,2310.3 1898.5,2311.4 1899.5,2309.5 1900.5,2309.2 1901.5,2310.0 1902.5,2311.0 1903.5,2314.3 1904.5,2313.8 1905.5,2310.8 1906.5,2314.2 1907.5,2314.8 1908.5,2310.7 1909.5,2310.8 1910.5,2308.9 1911.5,2312.1 1912.5,2317.3 1913.5,2316.9 1914.5,2316.3 1915.5,2314.6 1916.5,2313.3 1917.5,2312.6 1918.5,2314.8 1919.5,2317.7 1920.5,2318.0 1921.5,2315.2 1922.5,2317.2 1923.5,2317.9 1924.5,2315.3 1925.5,2316.6 1926.5,2316.1 1927.5,2313.0 1928.5,2312.1 1929.5,2314.9 1930.5,2318.5 1931.5,2319.0 1932.5,2318.2 1933.5,2317.2 1934.5,2316.4 1935.5,2320.3 1936.5,2323.9 1937.5,2322.8 1938.5,2321.1 1939.5,2321.0 1940.5,2320.1 1941.5,2320.3 1942.5,2322.2 1943.5,2321.2 1944.5,2318.2 1945.5,2320.3 1946.5,2321.3 1947.5,2321.2 1948.5,2320.7 1949.5,2320.6 1950.5,2321.8 1951.5,2320.7 1952.5,2322.6 1953.5,2322.6 1954.5,2318.1 1955.5,2317.3 1956.5,2320.8 1957.5,2325.4 1958.5,2325.3 1959.5,2321.2 1960.5,2321.1 1961.5,2324.7 1962.5,2326.3 1963.5,2325.6 1964.5,2326.0 1965.5,2327.8 1966.5,2325.2 1967.5,2325.1 1968.5,2328.1 1969.5,2324.9 1970.5,2325.2 1971.5,2328.9 1972.5,2327.7 1973.5,2327.3 1974.5,2324.6 1975.5,2321.0 1976.5,2325.1 1977.5,2327.7 1978.5,2328.1 1979.5,2329.0 1980.5,2329.5 1981.5,2326.7 1982.5,2323.3 1983.5,2327.5 1984.5,2330.4 1985.5,2329.0 1986.5,2328.4 1987.5,2331.0 1988.5,2330.4 1989.5,2328.7 1990.5,2332.2 1991.5,2331.0 1992.5,2328.1 1993.5,2328.7 1994.5,2326.8 1995.5,2329.2 1996.5,2333.9 1997.5,2335.2 1998.5,2334.0 1999.5,2332.1 2000.5,2333.5 2001.5,2335.6 2002.5,2335.3 2003.5,2333.8 2004.5,2332.5 2005.5,2332.5 2006.5,2333.8 2007.5,2335.1 2008.5,2336.5 2009.5,2333.4 2010.5,2330.8 2011.5,2333.3 2012.5,2334.5 2013.5,2334.7 2014.5,2337.3 2015.5,2335.1 2016.5,2334.2 2017.5,2334.9 2018.5,2334.4 2019.5,2335.9 2020.5,2334.5 2021.5,2331.3 2022.5,2332.5 2023.5,2334.4 2024.5,2335.4 2025.5,2337.6 2026.5,2338.9 2027.5,2339.8 2028.5,2335.6 2029.5,2332.3 2030.5,2334.0 2031.5,2336.6 2032.5,2338.5 2033.5,2337.8 2034.5,2338.1 2035.5,2337.9 2036.5,2339.2 2037.5,2340.1 2038.5,2337.8 2039.5,2337.9 2040.5,2338.9 2041.5,2342.1 2042.5,2342.5 2043.5,2341.9 2044.5,2340.6 2045.5,2340.3 2046.5,2342.8 2047.5,2343.4 2048.5,2341.0 2049.5,2338.3 2050.5,2339.9 2051.5,2342.3 2052.5,2341.1 2053.5,2340.6 2054.5,2344.4 2055.5,2341.3 2056.5,2337.1 2057.5,2339.9 2058.5,2342.6 2059.5,2343.0 2060.5,2343.2 2061.5,2345.6 2062.5,2344.2 2063.5,2340.9 2064.5,2343.9 2065.5,2342.8 2066.5,2342.1 2067.5,2346.8 2068.5,2346.0 2069.5,2343.3 2070.5,2343.3 2071.5,2343.4 2072.5,2346.3 2073.5,2348.2 2074.5,2345.4 2075.5,2345.3 2076.5,2346.1 2077.5,2347.2 2078.5,2347.0 2079.5,2344.4 2080.5,2343.6 2081.5,2343.3 2082.5,2341.7 2083.5,2343.9 2084.5,2345.3 2085.5,2344.8 2086.5,2346.7 2087.5,2348.5 2088.5,2347.9 2089.5,2345.8 2090.5,2346.8 2091.5,2346.5 2092.5,2348.0 2093.5,2348.7 2094.5,2348.2 2095.5,2347.5 2096.5,2347.1 2097.5,2349.5 2098.5,2348.2 2099.5,2349.3 2100.5,2350.4 2101.5,2349.1 2102.5,2348.3 2103.5,2349.0 2104.5,2349.5 2105.5,2347.8 2106.5,2346.6 2107.5,2347.7 2108.5,2347.1 2109.5,2344.5 2110.5,2347.7 2111.5,2349.9 2112.5,2352.2 2113.5,2353.5 2114.5,2351.4 2115.5,2352.4 2116.5,2351.3 2117.5,2349.7 2118.5,2347.4 2119.5,2346.4 2120.5,2346.8 2121.5,2346.4 2122.5,2346.2 2123.5,2348.8 2124.5,2348.3 2125.5,2350.5 2126.5,2352.4 2127.5,2350.7 2128.5,2352.5 2129.5,2352.6 2130.5,2352.1 2131.5,2351.3 2132.5,2351.7 2133.5,2353.5 2134.5,2354.5 2135.5,2353.5 2136.5,2350.3 2137.5,2348.8 2138.5,2351.3 2139.5,2354.5 2140.5,2356.7 2141.5,2354.1 2142.5,2352.5 2143.5,2352.6 2144.5,2350.8 2145.5,2351.9 2146.5,2354.3 2147.5,2354.6 2148.5,2350.3 2149.5,2351.8 2150.5,2352.2 2151.5,2352.2 2152.5,2357.6 2153.5,2360.9 2154.5,2356.6 2155.5,2351.1 2156.5,2353.6 2157.5,2355.2 2158.5,2354.4 2159.5,2355.5 2160.5,2355.7" fill="none" stroke="#000" stroke-width="3.6" stroke-linejoin="round" stroke-linecap="round"/>
<polyline points="1217.5,2136.0 1218.5,2134.4 1219.5,2131.1 1220.5,2133.9 1221.5,2137.0 1222.5,2136.0 1223.5,2134.3 1224.5,2134.5 1225.5,2133.6 1226.5,2134.1 1227.5,2138.7 1228.5,2137.5 1229.5,2136.0 1230.5,2135.2 1231.5,2134.3 1232.5,2135.1 1233.5,2135.2 1234.5,2135.1 1235.5,2132.5 1236.5,2134.1 1237.5,2134.8 1238.5,2134.8 1239.5,2134.8 1240.5,2134.4 1241.5,2136.3 1242.5,2134.7 1243.5,2135.4 1244.5,2136.4 1245.5,2137.1 1246.5,2137.6 1247.5,2137.2 1248.5,2133.9 1249.5,2134.0 1250.5,2136.2 1251.5,2134.3 1252.5,2133.0 1253.5,2132.3 1254.5,2133.6 1255.5,2134.5 1256.5,2135.0 1257.5,2134.4 1258.5,2134.5 1259.5,2136.0 1260.5,2135.2 1261.5,2133.4 1262.5,2135.3 1263.5,2136.6 1264.5,2134.1 1265.5,2134.4 1266.5,2136.1 1267.5,2138.0 1268.5,2138.5 1269.5,2136.8 1270.5,2135.7 1271.5,2133.5 1272.5,2133.5 1273.5,2134.3 1274.5,2134.1 1275.5,2135.8 1276.5,2134.9 1277.5,2135.6 1278.5,2135.6 1279.5,2131.8 1280.5,2134.2 1281.5,2135.6 1282.5,2133.5 1283.5,2134.3 1284.5,2134.6 1285.5,2134.2 1286.5,2134.4 1287.5,2134.4 1288.5,2133.8 1289.5,2134.5 1290.5,2135.0 1291.5,2134.2 1292.5,2132.1 1293.5,2132.5 1294.5,2134.4 1295.5,2133.6 1296.5,2133.8 1297.5,2133.4 1298.5,2132.6 1299.5,2134.4 1300.5,2135.0 1301.5,2133.6 1302.5,2133.7 1303.5,2133.1 1304.5,2134.8 1305.5,2134.9 1306.5,2133.9 1307.5,2133.8 1308.5,2131.5 1309.5,2130.7 1310.5,2133.1 1311.5,2132.4 1312.5,2129.7 1313.5,2131.3 1314.5,2134.1 1315.5,2134.0 1316.5,2134.6 1317.5,2135.2 1318.5,2133.6 1319.5,2135.7 1320.5,2136.6 1321.5,2134.2 1322.5,2132.9 1323.5,2134.4 1324.5,2136.8 1325.5,2135.4 1326.5,2133.6 1327.5,2135.2 1328.5,2134.6 1329.5,2133.8 1330.5,2134.9 1331.5,2134.2 1332.5,2132.8 1333.5,2130.1 1334.5,2131.0 1335.5,2132.3 1336.5,2132.9 1337.5,2133.7 1338.5,2132.9 1339.5,2135.3 1340.5,2136.6 1341.5,2133.7 1342.5,2133.9 1343.5,2134.6 1344.5,2132.0 1345.5,2132.6 1346.5,2134.2 1347.5,2135.2 1348.5,2136.4 1349.5,2136.6 1350.5,2134.5 1351.5,2133.1 1352.5,2131.7 1353.5,2132.2 1354.5,2134.1 1355.5,2131.1 1356.5,2132.1 1357.5,2135.2 1358.5,2132.5 1359.5,2129.3 1360.5,2130.7 1361.5,2133.7 1362.5,2134.0 1363.5,2135.4 1364.5,2138.4 1365.5,2136.8 1366.5,2133.7 1367.5,2133.0 1368.5,2135.8 1369.5,2136.4 1370.5,2134.7 1371.5,2135.7 1372.5,2136.2 1373.5,2135.6 1374.5,2136.6 1375.5,2136.8 1376.5,2134.7 1377.5,2132.7 1378.5,2132.1 1379.5,2133.3 1380.5,2135.0 1381.5,2134.4 1382.5,2133.4 1383.5,2133.8 1384.5,2130.2 1385.5,2130.8 1386.5,2136.1 1387.5,2134.0 1388.5,2133.3 1389.5,2133.6 1390.5,2131.7 1391.5,2133.0 1392.5,2134.7 1393.5,2134.8 1394.5,2133.7 1395.5,2134.9 1396.5,2136.0 1397.5,2134.7 1398.5,2134.1 1399.5,2136.0 1400.5,2136.0 1401.5,2133.1 1402.5,2132.5 1403.5,2131.9 1404.5,2134.5 1405.5,2136.6 1406.5,2131.8 1407.5,2131.0 1408.5,2133.5 1409.5,2135.0 1410.5,2134.2 1411.5,2132.8 1412.5,2131.8 1413.5,2133.4 1414.5,2136.1 1415.5,2135.4 1416.5,2134.1 1417.5,2133.9 1418.5,2132.9 1419.5,2132.3 1420.5,2133.6 1421.5,2134.4 1422.5,2134.2 1423.5,2132.9 1424.5,2133.3 1425.5,2133.0 1426.5,2133.5 1427.5,2134.6 1428.5,2133.4 1429.5,2132.7 1430.5,2132.2 1431.5,2132.1 1432.5,2132.4 1433.5,2131.1 1434.5,2132.3 1435.5,2134.7 1436.5,2134.2 1437.5,2133.7 1438.5,2133.5 1439.5,2132.7 1440.5,2131.0 1441.5,2131.3 1442.5,2130.6 1443.5,2132.0 1444.5,2133.4 1445.5,2132.1 1446.5,2131.5 1447.5,2132.4 1448.5,2134.8 1449.5,2133.7 1450.5,2133.7 1451.5,2134.5 1452.5,2133.4 1453.5,2130.8 1454.5,2129.4 1455.5,2133.0 1456.5,2135.4 1457.5,2136.6 1458.5,2134.5 1459.5,2132.8 1460.5,2131.7 1461.5,2129.6 1462.5,2130.1 1463.5,2130.1 1464.5,2131.8 1465.5,2134.6 1466.5,2134.4 1467.5,2131.0 1468.5,2132.3 1469.5,2134.2 1470.5,2130.5 1471.5,2131.5 1472.5,2133.3 1473.5,2132.2 1474.5,2130.9 1475.5,2128.8 1476.5,2129.4 1477.5,2127.3 1478.5,2126.0 1479.5,2128.2 1480.5,2127.6 1481.5,2125.3 1482.5,2123.0 1483.5,2121.5 1484.5,2122.8 1485.5,2122.8 1486.5,2120.3 1487.5,2118.2 1488.5,2118.1 1489.5,2120.1 1490.5,2116.9 1491.5,2118.3 1492.5,2122.7 1493.5,2121.1 1494.5,2118.6 1495.5,2122.8 1496.5,2126.8 1497.5,2123.9 1498.5,2122.0 1499.5,2124.7 1500.5,2124.8 1501.5,2124.0 1502.5,2126.3 1503.5,2125.1 1504.5,2124.7 1505.5,2125.4 1506.5,2127.5 1507.5,2128.9 1508.5,2129.2 1509.5,2127.2 1510.5,2127.3 1511.5,2128.8 1512.5,2128.6 1513.5,2127.6 1514.5,2126.4 1515.5,2125.3 1516.5,2126.0 1517.5,2127.0 1518.5,2124.5 1519.5,2124.0 1520.5,2124.5 1521.5,2122.0 1522.5,2121.7 1523.5,2122.3 1524.5,2121.6 1525.5,2122.7 1526.5,2125.4 1527.5,2125.2 1528.5,2119.9 1529.5,2119.4 1530.5,2118.9 1531.5,2116.1 1532.5,2115.8 1533.5,2117.3 1534.5,2119.4 1535.5,2118.0 1536.5,2113.0 1537.5,2111.1 1538.5,2112.6 1539.5,2108.0 1540.5,2105.2 1541.5,2110.5 1542.5,2108.1 1543.5,2102.4 1544.5,2101.7 1545.5,2103.9 1546.5,2105.7 1547.5,2104.2 1548.5,2103.7 1549.5,2101.2 1550.5,2096.6 1551.5,2097.4 1552.5,2097.0 1553.5,2096.3 1554.5,2098.2 1555.5,2096.6 1556.5,2096.6 1557.5,2095.7 1558.5,2091.1 1559.5,2088.1 1560.5,2088.9 1561.5,2087.4 1562.5,2085.4 1563.5,2083.9 1564.5,2081.3 1565.5,2078.2 1566.5,2075.2 1567.5,2071.9 1568.5,2068.6 1569.5,2068.7 1570.5,2065.9 1571.5,2061.1 1572.5,2060.1 1573.5,2059.2 1574.5,2053.4 1575.5,2049.5 1576.5,2048.2 1577.5,2043.4 1578.5,2038.2 1579.5,2035.6 1580.5,2034.8 1581.5,2031.2 1582.5,2025.4 1583.5,2018.1 1584.5,2014.7 1585.5,2015.3 1586.5,2009.4 1587.5,2005.0 1588.5,2002.8 1589.5,1998.6 1590.5,1993.9 1591.5,1988.7 1592.5,1987.7 1593.5,1985.7 1594.5,1977.1 1595.5,1968.4 1596.5,1965.8 1597.5,1964.3 1598.5,1959.7 1599.5,1954.8 1600.5,1952.4 1601.5,1944.7 1602.5,1937.6 1603.5,1938.4 1604.5,1936.5 1605.5,1932.6 1606.5,1927.4 1607.5,1925.5 1608.5,1924.3 1609.5,1920.0 1610.5,1916.3 1611.5,1910.5 1612.5,1906.4 1613.5,1904.1 1614.5,1902.4 1615.5,1900.0 1616.5,1898.0 1617.5,1897.3 1618.5,1895.7 1619.5,1892.5 1620.5,1890.1 1621.5,1892.2 1622.5,1894.0 1623.5,1891.9 1624.5,1891.8 1625.5,1896.9 1626.5,1896.4 1627.5,1892.9 1628.5,1891.8 1629.5,1891.9 1630.5,1895.1 1631.5,1898.5 1632.5,1901.9 1633.5,1906.8 1634.5,1907.5 1635.5,1908.2 1636.5,1914.1 1637.5,1917.7 1638.5,1919.4 1639.5,1922.3 1640.5,1924.0 1641.5,1925.8 1642.5,1932.4 1643.5,1939.9 1644.5,1944.5 1645.5,1948.4 1646.5,1953.5 1647.5,1958.6 1648.5,1960.6 1649.5,1963.7 1650.5,1966.0 1651.5,1971.7 1652.5,1979.6 1653.5,1983.2 1654.5,1989.1 1655.5,1992.1 1656.5,1995.9 1657.5,2001.3 1658.5,2007.9 1659.5,2012.2 1660.5,2014.2 1661.5,2021.1 1662.5,2028.6 1663.5,2032.7 1664.5,2033.3 1665.5,2036.9 1666.5,2043.6 1667.5,2049.5 1668.5,2051.8 1669.5,2056.8 1670.5,2061.3 1671.5,2062.7 1672.5,2067.5 1673.5,2070.9 1674.5,2073.4 1675.5,2078.2 1676.5,2080.2 1677.5,2083.5 1678.5,2088.3 1679.5,2092.3 1680.5,2095.7 1681.5,2099.5 1682.5,2104.0 1683.5,2106.3 1684.5,2108.8 1685.5,2109.6 1686.5,2112.3 1687.5,2116.5 1688.5,2118.4 1689.5,2120.2 1690.5,2122.5 1691.5,2123.7 1692.5,2124.5 1693.5,2126.7 1694.5,2129.2 1695.5,2131.4 1696.5,2134.3 1697.5,2134.5 1698.5,2133.7 1699.5,2137.8 1700.5,2139.5 1701.5,2138.1 1702.5,2138.1 1703.5,2139.6 1704.5,2138.8 1705.5,2138.2 1706.5,2141.4 1707.5,2142.1 1708.5,2143.4 1709.5,2146.3 1710.5,2147.0 1711.5,2145.6 1712.5,2142.6 1713.5,2142.5 1714.5,2147.4 1715.5,2150.6 1716.5,2150.1 1717.5,2149.6 1718.5,2150.1 1719.5,2147.4 1720.5,2146.0 1721.5,2147.4 1722.5,2148.8 1723.5,2150.9 1724.5,2150.4 1725.5,2151.4 1726.5,2151.3 1727.5,2148.3 1728.5,2147.8 1729.5,2145.9 1730.5,2147.5 1731.5,2149.5 1732.5,2149.4 1733.5,2150.6 1734.5,2150.5 1735.5,2147.8 1736.5,2146.7 1737.5,2148.4 1738.5,2149.2 1739.5,2148.3 1740.5,2146.5 1741.5,2149.2 1742.5,2148.7 1743.5,2147.5 1744.5,2147.8 1745.5,2148.5 1746.5,2149.2 1747.5,2147.7 1748.5,2147.1 1749.5,2145.1 1750.5,2148.4 1751.5,2150.7 1752.5,2150.3 1753.5,2151.2 1754.5,2148.1 1755.5,2146.5 1756.5,2148.4 1757.5,2149.1 1758.5,2147.4 1759.5,2147.7 1760.5,2149.6 1761.5,2150.5 1762.5,2151.4 1763.5,2149.9 1764.5,2147.2 1765.5,2146.5 1766.5,2143.6 1767.5,2145.5 1768.5,2150.6 1769.5,2144.0 1770.5,2141.8 1771.5,2145.6 1772.5,2144.8 1773.5,2142.9 1774.5,2142.7 1775.5,2141.9 1776.5,2142.5 1777.5,2145.9 1778.5,2146.2 1779.5,2142.4 1780.5,2138.8 1781.5,2139.5 1782.5,2142.2 1783.5,2142.1 1784.5,2141.6 1785.5,2141.4 1786.5,2139.5 1787.5,2136.6 1788.5,2132.7 1789.5,2132.6 1790.5,2132.2 1791.5,2130.2 1792.5,2131.4 1793.5,2134.1 1794.5,2131.2 1795.5,2127.8 1796.5,2129.1 1797.5,2127.8 1798.5,2125.6 1799.5,2124.8 1800.5,2123.7 1801.5,2122.5 1802.5,2119.5 1803.5,2114.9 1804.5,2113.9 1805.5,2111.6 1806.5,2108.2 1807.5,2107.9 1808.5,2109.0 1809.5,2106.9 1810.5,2101.2 1811.5,2097.1 1812.5,2093.5 1813.5,2089.1 1814.5,2083.4 1815.5,2082.0 1816.5,2081.9 1817.5,2078.1 1818.5,2074.1 1819.5,2070.8 1820.5,2069.7 1821.5,2065.5 1822.5,2061.8 1823.5,2057.7 1824.5,2050.9 1825.5,2047.5 1826.5,2044.2 1827.5,2041.8 1828.5,2037.8 1829.5,2032.8 1830.5,2027.2 1831.5,2021.0 1832.5,2015.6 1833.5,2009.1 1834.5,2007.0 1835.5,2003.3 1836.5,1994.4 1837.5,1987.7 1838.5,1982.9 1839.5,1977.7 1840.5,1974.0 1841.5,1971.4 1842.5,1963.7 1843.5,1958.4 1844.5,1954.8 1845.5,1948.1 1846.5,1942.0 1847.5,1935.7 1848.5,1931.2 1849.5,1924.0 1850.5,1918.4 1851.5,1915.3 1852.5,1906.2 1853.5,1900.9 1854.5,1899.1 1855.5,1895.6 1856.5,1890.9 1857.5,1884.4 1858.5,1880.4 1859.5,1877.7 1860.5,1869.4 1861.5,1864.2 1862.5,1864.6 1863.5,1862.2 1864.5,1860.1 1865.5,1861.2 1866.5,1858.9 1867.5,1853.9 1868.5,1852.4 1869.5,1850.8 1870.5,1849.4 1871.5,1849.4 1872.5,1851.0 1873.5,1851.8 1874.5,1852.0 1875.5,1854.4 1876.5,1854.6 1877.5,1856.9 1878.5,1862.7 1879.5,1864.4 1880.5,1865.8 1881.5,1871.0 1882.5,1876.1 1883.5,1879.1 1884.5,1881.4 1885.5,1886.4 1886.5,1890.1 1887.5,1893.5 1888.5,1899.5 1889.5,1906.6 1890.5,1911.5 1891.5,1917.2 1892.5,1922.5 1893.5,1927.0 1894.5,1934.2 1895.5,1942.5 1896.5,1952.4 1897.5,1956.1 1898.5,1960.6 1899.5,1969.0 1900.5,1975.7 1901.5,1981.7 1902.5,1988.8 1903.5,1993.4 1904.5,2000.0 1905.5,2011.0 1906.5,2015.2 1907.5,2019.9 1908.5,2025.8 1909.5,2031.4 1910.5,2038.6 1911.5,2041.7 1912.5,2049.1 1913.5,2059.3 1914.5,2066.4 1915.5,2071.1 1916.5,2074.5 1917.5,2081.6 1918.5,2084.4 1919.5,2088.8 1920.5,2095.9 1921.5,2102.6 1922.5,2107.8 1923.5,2111.4 1924.5,2115.7 1925.5,2114.7 1926.5,2121.5 1927.5,2131.4 1928.5,2135.0 1929.5,2137.3 1930.5,2141.5 1931.5,2144.4 1932.5,2145.5 1933.5,2151.5 1934.5,2157.0 1935.5,2161.5 1936.5,2162.8 1937.5,2164.1 1938.5,2168.7 1939.5,2172.5 1940.5,2173.1 1941.5,2174.5 1942.5,2178.0 1943.5,2181.0 1944.5,2187.7 1945.5,2190.3 1946.5,2190.7 1947.5,2192.7 1948.5,2192.3 1949.5,2193.8 1950.5,2196.1 1951.5,2197.4 1952.5,2200.2 1953.5,2202.7 1954.5,2202.1 1955.5,2200.2 1956.5,2202.0 1957.5,2206.6 1958.5,2210.4 1959.5,2211.4 1960.5,2211.5 1961.5,2213.7 1962.5,2215.7 1963.5,2214.4 1964.5,2213.7 1965.5,2216.5 1966.5,2216.9 1967.5,2215.8 1968.5,2217.0 1969.5,2219.0 1970.5,2221.5 1971.5,2221.6 1972.5,2219.9 1973.5,2220.7 1974.5,2223.5 1975.5,2222.3 1976.5,2222.3 1977.5,2226.5 1978.5,2226.1 1979.5,2224.6 1980.5,2224.1 1981.5,2224.1 1982.5,2225.9 1983.5,2229.1 1984.5,2230.5 1985.5,2228.7 1986.5,2226.6 1987.5,2225.9 1988.5,2229.5 1989.5,2229.6 1990.5,2229.8 1991.5,2232.1 1992.5,2232.5 1993.5,2233.1 1994.5,2231.4 1995.5,2231.1 1996.5,2231.6 1997.5,2230.3 1998.5,2230.8 1999.5,2232.5 2000.5,2231.6 2001.5,2231.6 2002.5,2234.2 2003.5,2234.7 2004.5,2232.6 2005.5,2234.8 2006.5,2235.5 2007.5,2235.2 2008.5,2236.8 2009.5,2237.0 2010.5,2237.1 2011.5,2234.4 2012.5,2235.9 2013.5,2236.5 2014.5,2233.3 2015.5,2232.5 2016.5,2235.1 2017.5,2236.5 2018.5,2235.5 2019.5,2234.5 2020.5,2237.7 2021.5,2240.7 2022.5,2239.8 2023.5,2239.3 2024.5,2239.7 2025.5,2239.0 2026.5,2239.4 2027.5,2240.1 2028.5,2238.0 2029.5,2239.2 2030.5,2240.5 2031.5,2240.2 2032.5,2237.8 2033.5,2236.2 2034.5,2236.8 2035.5,2237.1 2036.5,2239.1 2037.5,2239.0 2038.5,2239.0 2039.5,2239.1 2040.5,2238.8 2041.5,2241.0 2042.5,2243.1 2043.5,2244.9 2044.5,2243.9 2045.5,2242.1 2046.5,2243.9 2047.5,2241.6 2048.5,2238.5 2049.5,2241.9 2050.5,2244.7 2051.5,2246.1 2052.5,2247.2 2053.5,2247.0 2054.5,2246.0 2055.5,2244.2 2056.5,2244.8 2057.5,2242.6 2058.5,2240.9 2059.5,2241.5 2060.5,2241.5 2061.5,2240.0 2062.5,2240.9 2063.5,2244.6 2064.5,2245.6 2065.5,2243.8 2066.5,2242.0 2067.5,2245.3 2068.5,2243.7 2069.5,2242.4 2070.5,2242.0 2071.5,2244.8 2072.5,2246.5 2073.5,2244.2 2074.5,2245.9 2075.5,2243.7 2076.5,2242.6 2077.5,2242.9 2078.5,2244.5 2079.5,2248.6 2080.5,2245.1 2081.5,2243.3 2082.5,2244.5 2083.5,2245.2 2084.5,2247.9 2085.5,2248.7 2086.5,2248.9 2087.5,2245.7 2088.5,2243.4 2089.5,2245.5 2090.5,2248.1 2091.5,2247.3 2092.5,2246.0 2093.5,2247.8 2094.5,2248.6 2095.5,2249.5 2096.5,2248.0 2097.5,2247.4 2098.5,2249.1 2099.5,2248.7 2100.5,2248.4 2101.5,2247.7 2102.5,2249.7 2103.5,2249.7 2104.5,2248.6 2105.5,2249.7 2106.5,2248.4 2107.5,2248.7 2108.5,2250.1 2109.5,2251.8 2110.5,2250.5 2111.5,2249.4 2112.5,2251.1 2113.5,2251.7 2114.5,2250.2 2115.5,2249.4 2116.5,2248.8 2117.5,2248.9 2118.5,2252.0 2119.5,2253.6 2120.5,2249.4 2121.5,2247.0 2122.5,2250.4 2123.5,2248.7 2124.5,2251.5 2125.5,2254.3 2126.5,2249.0 2127.5,2252.6 2128.5,2255.5 2129.5,2249.0 2130.5,2247.4 2131.5,2249.0 2132.5,2250.1 2133.5,2253.2 2134.5,2252.5 2135.5,2249.8 2136.5,2250.7 2137.5,2252.2 2138.5,2252.6 2139.5,2250.2 2140.5,2251.0 2141.5,2251.6 2142.5,2249.5 2143.5,2253.8 2144.5,2252.6 2145.5,2249.5 2146.5,2250.4 2147.5,2251.5 2148.5,2253.4 2149.5,2251.3 2150.5,2250.3 2151.5,2250.8 2152.5,2252.1 2153.5,2250.6 2154.5,2250.4 2155.5,2253.0 2156.5,2252.6 2157.5,2251.8 2158.5,2252.7 2159.5,2254.0 2160.5,2253.5" fill="none" stroke="#ff0000" stroke-width="4.0" stroke-linejoin="round" stroke-linecap="round"/>
<polyline points="1217.5,2132.0 1218.5,2132.0 1219.5,2132.0 1220.5,2132.0 1221.5,2132.0 1222.5,2132.0 1223.5,2132.0 1224.5,2132.0 1225.5,2132.0 1226.5,2132.0 1227.5,2132.0 1228.5,2132.0 1229.5,2132.0 1230.5,2132.0 1231.5,2132.0 1232.5,2132.0 1233.5,2132.0 1234.5,2132.0 1235.5,2132.0 1236.5,2132.0 1237.5,2132.0 1238.5,2132.0 1239.5,2132.0 1240.5,2132.0 1241.5,2132.0 1242.5,2132.0 1243.5,2132.0 1244.5,2132.0 1245.5,2132.0 1246.5,2132.0 1247.5,2132.0 1248.5,2132.0 1249.5,2132.0 1250.5,2132.0 1251.5,2132.0 1252.5,2132.0 1253.5,2132.0 1254.5,2132.0 1255.5,2132.0 1256.5,2132.0 1257.5,2132.0 1258.5,2132.0 1259.5,2132.0 1260.5,2132.0 1261.5,2132.0 1262.5,2132.0 1263.5,2132.0 1264.5,2132.0 1265.5,2132.0 1266.5,2132.0 1267.5,2132.0 1268.5,2132.0 1269.5,2132.0 1270.5,2132.0 1271.5,2132.0 1272.5,2132.0 1273.5,2132.0 1274.5,2132.0 1275.5,2132.0 1276.5,2132.0 1277.5,2132.0 1278.5,2132.0 1279.5,2132.0 1280.5,2132.0 1281.5,2132.0 1282.5,2132.0 1283.5,2132.0 1284.5,2132.0 1285.5,2132.0 1286.5,2132.0 1287.5,2132.0 1288.5,2132.0 1289.5,2132.0 1290.5,2132.0 1291.5,2132.0 1292.5,2132.0 1293.5,2132.0 1294.5,2132.0 1295.5,2132.0 1296.5,2132.0 1297.5,2132.0 1298.5,2132.0 1299.5,2132.0 1300.5,2132.0 1301.5,2132.0 1302.5,2132.0 1303.5,2132.0 1304.5,2132.0 1305.5,2132.0 1306.5,2132.0 1307.5,2132.0 1308.5,2132.0 1309.5,2132.0 1310.5,2132.0 1311.5,2132.0 1312.5,2132.0 1313.5,2132.0 1314.5,2132.0 1315.5,2132.0 1316.5,2132.0 1317.5,2132.0 1318.5,2132.0 1319.5,2132.0 1320.5,2132.0 1321.5,2132.0 1322.5,2132.0 1323.5,2132.0 1324.5,2132.0 1325.5,2132.0 1326.5,2132.0 1327.5,2132.0 1328.5,2132.0 1329.5,2132.0 1330.5,2132.0 1331.5,2131.9 1332.5,2131.9 1333.5,2131.9 1334.5,2131.9 1335.5,2131.9 1336.5,2131.9 1337.5,2131.9 1338.5,2131.9 1339.5,2131.9 1340.5,2131.9 1341.5,2131.9 1342.5,2131.9 1343.5,2131.9 1344.5,2131.9 1345.5,2131.9 1346.5,2131.9 1347.5,2131.9 1348.5,2131.9 1349.5,2131.9 1350.5,2131.9 1351.5,2131.9 1352.5,2131.9 1353.5,2131.9 1354.5,2131.9 1355.5,2131.9 1356.5,2131.9 1357.5,2131.9 1358.5,2131.9 1359.5,2131.9 1360.5,2131.9 1361.5,2131.9 1362.5,2131.9 1363.5,2131.9 1364.5,2131.9 1365.5,2131.9 1366.5,2131.8 1367.5,2131.8 1368.5,2131.8 1369.5,2131.8 1370.5,2131.8 1371.5,2131.8 1372.5,2131.8 1373.5,2131.8 1374.5,2131.8 1375.5,2131.8 1376.5,2131.8 1377.5,2131.8 1378.5,2131.8 1379.5,2131.8 1380.5,2131.8 1381.5,2131.8 1382.5,2131.8 1383.5,2131.8 1384.5,2131.8 1385.5,2131.8 1386.5,2131.8 1387.5,2131.7 1388.5,2131.7 1389.5,2131.7 1390.5,2131.7 1391.5,2131.7 1392.5,2131.7 1393.5,2131.7 1394.5,2131.7 1395.5,2131.7 1396.5,2131.7 1397.5,2131.7 1398.5,2131.7 1399.5,2131.7 1400.5,2131.7 1401.5,2131.7 1402.5,2131.6 1403.5,2131.6 1404.5,2131.6 1405.5,2131.6 1406.5,2131.6 1407.5,2131.6 1408.5,2131.6 1409.5,2131.6 1410.5,2131.6 1411.5,2131.6 1412.5,2131.6 1413.5,2131.6 1414.5,2131.5 1415.5,2131.5 1416.5,2131.5 1417.5,2131.5 1418.5,2131.5 1419.5,2131.5 1420.5,2131.5 1421.5,2131.5 1422.5,2131.5 1423.5,2131.5 1424.5,2131.4 1425.5,2131.4 1426.5,2131.4 1427.5,2131.4 1428.5,2131.4 1429.5,2131.4 1430.5,2131.4 1431.5,2131.4 1432.5,2131.3 1433.5,2131.3 1434.5,2131.3 1435.5,2131.3 1436.5,2131.3 1437.5,2131.3 1438.5,2131.3 1439.5,2131.3 1440.5,2131.2 1441.5,2131.2 1442.5,2131.2 1443.5,2131.2 1444.5,2131.2 1445.5,2131.2 1446.5,2131.1 1447.5,2131.1 1448.5,2131.1 1449.5,2131.1 1450.5,2131.1 1451.5,2131.1 1452.5,2131.0 1453.5,2131.0 1454.5,2131.0 1455.5,2131.0 1456.5,2131.0 1457.5,2130.9 1458.5,2130.9 1459.5,2130.9 1460.5,2130.9 1461.5,2130.8 1462.5,2130.8 1463.5,2130.8 1464.5,2130.8 1465.5,2130.8 1466.5,2130.7 1467.5,2130.7 1468.5,2130.7 1469.5,2130.6 1470.5,2130.6 1471.5,2130.6 1472.5,2130.6 1473.5,2130.5 1474.5,2130.5 1475.5,2130.5 1476.5,2130.4 1477.5,2130.4 1478.5,2130.4 1479.5,2130.3 1480.5,2130.3 1481.5,2130.3 1482.5,2130.2 1483.5,2130.2 1484.5,2130.2 1485.5,2130.1 1486.5,2130.1 1487.5,2130.0 1488.5,2130.0 1489.5,2129.9 1490.5,2129.9 1491.5,2129.8 1492.5,2129.8 1493.5,2129.7 1494.5,2129.7 1495.5,2129.6 1496.5,2129.6 1497.5,2129.5 1498.5,2129.5 1499.5,2129.4 1500.5,2129.3 1501.5,2129.2 1502.5,2129.2 1503.5,2129.1 1504.5,2129.0 1505.5,2128.9 1506.5,2128.8 1507.5,2128.7 1508.5,2128.6 1509.5,2128.5 1510.5,2128.4 1511.5,2128.3 1512.5,2128.2 1513.5,2128.0 1514.5,2127.9 1515.5,2127.7 1516.5,2127.6 1517.5,2127.4 1518.5,2127.2 1519.5,2127.0 1520.5,2126.8 1521.5,2126.6 1522.5,2126.4 1523.5,2126.1 1524.5,2125.9 1525.5,2125.6 1526.5,2125.3 1527.5,2125.0 1528.5,2124.7 1529.5,2124.3 1530.5,2123.9 1531.5,2123.5 1532.5,2123.1 1533.5,2122.7 1534.5,2122.2 1535.5,2121.7 1536.5,2121.1 1537.5,2120.5 1538.5,2119.9 1539.5,2119.3 1540.5,2118.6 1541.5,2117.8 1542.5,2117.1 1543.5,2116.2 1544.5,2115.4 1545.5,2114.5 1546.5,2113.5 1547.5,2112.5 1548.5,2111.4 1549.5,2110.2 1550.5,2109.0 1551.5,2107.8 1552.5,2106.4 1553.5,2105.0 1554.5,2103.6 1555.5,2102.0 1556.5,2100.4 1557.5,2098.7 1558.5,2097.0 1559.5,2095.1 1560.5,2093.2 1561.5,2091.2 1562.5,2089.1 1563.5,2086.9 1564.5,2084.7 1565.5,2082.3 1566.5,2079.9 1567.5,2077.3 1568.5,2074.7 1569.5,2072.0 1570.5,2069.2 1571.5,2066.3 1572.5,2063.3 1573.5,2060.3 1574.5,2057.1 1575.5,2053.8 1576.5,2050.5 1577.5,2047.1 1578.5,2043.6 1579.5,2040.0 1580.5,2036.4 1581.5,2032.6 1582.5,2028.8 1583.5,2025.0 1584.5,2021.1 1585.5,2017.1 1586.5,2013.0 1587.5,2009.0 1588.5,2004.8 1589.5,2000.7 1590.5,1996.5 1591.5,1992.3 1592.5,1988.0 1593.5,1983.8 1594.5,1979.6 1595.5,1975.3 1596.5,1971.1 1597.5,1966.9 1598.5,1962.8 1599.5,1958.6 1600.5,1954.6 1601.5,1950.6 1602.5,1946.6 1603.5,1942.8 1604.5,1939.0 1605.5,1935.3 1606.5,1931.7 1607.5,1928.3 1608.5,1925.0 1609.5,1921.8 1610.5,1918.8 1611.5,1916.0 1612.5,1913.3 1613.5,1910.8 1614.5,1908.5 1615.5,1906.4 1616.5,1904.5 1617.5,1902.8 1618.5,1901.4 1619.5,1900.1 1620.5,1899.2 1621.5,1898.4 1622.5,1898.0 1623.5,1897.7 1624.5,1897.7 1625.5,1898.0 1626.5,1898.6 1627.5,1899.4 1628.5,1900.4 1629.5,1901.7 1630.5,1903.3 1631.5,1905.1 1632.5,1907.1 1633.5,1909.4 1634.5,1911.9 1635.5,1914.6 1636.5,1917.5 1637.5,1920.7 1638.5,1924.0 1639.5,1927.5 1640.5,1931.1 1641.5,1935.0 1642.5,1938.9 1643.5,1943.1 1644.5,1947.3 1645.5,1951.6 1646.5,1956.1 1647.5,1960.7 1648.5,1965.3 1649.5,1970.0 1650.5,1974.8 1651.5,1979.6 1652.5,1984.5 1653.5,1989.3 1654.5,1994.3 1655.5,1999.2 1656.5,2004.1 1657.5,2009.1 1658.5,2014.0 1659.5,2018.9 1660.5,2023.8 1661.5,2028.6 1662.5,2033.4 1663.5,2038.1 1664.5,2042.8 1665.5,2047.5 1666.5,2052.0 1667.5,2056.5 1668.5,2061.0 1669.5,2065.3 1670.5,2069.6 1671.5,2073.7 1672.5,2077.8 1673.5,2081.8 1674.5,2085.7 1675.5,2089.5 1676.5,2093.2 1677.5,2096.8 1678.5,2100.4 1679.5,2103.8 1680.5,2107.1 1681.5,2110.3 1682.5,2113.4 1683.5,2116.4 1684.5,2119.2 1685.5,2122.0 1686.5,2124.7 1687.5,2127.3 1688.5,2129.8 1689.5,2132.2 1690.5,2134.5 1691.5,2136.7 1692.5,2138.9 1693.5,2140.9 1694.5,2142.8 1695.5,2144.7 1696.5,2146.5 1697.5,2148.2 1698.5,2149.8 1699.5,2151.3 1700.5,2152.8 1701.5,2154.2 1702.5,2155.5 1703.5,2156.8 1704.5,2158.0 1705.5,2159.1 1706.5,2160.2 1707.5,2161.3 1708.5,2162.2 1709.5,2163.2 1710.5,2164.0 1711.5,2164.9 1712.5,2165.6 1713.5,2166.4 1714.5,2167.1 1715.5,2167.8 1716.5,2168.4 1717.5,2169.0 1718.5,2169.5 1719.5,2170.1 1720.5,2170.6 1721.5,2171.1 1722.5,2171.5 1723.5,2171.9 1724.5,2172.3 1725.5,2172.7 1726.5,2173.1 1727.5,2173.4 1728.5,2173.7 1729.5,2174.1 1730.5,2174.3 1731.5,2174.6 1732.5,2174.9 1733.5,2175.1 1734.5,2175.4 1735.5,2175.6 1736.5,2175.8 1737.5,2176.0 1738.5,2176.2 1739.5,2176.4 1740.5,2176.6 1741.5,2176.8 1742.5,2177.0 1743.5,2177.1 1744.5,2177.3 1745.5,2177.5 1746.5,2177.6 1747.5,2177.8 1748.5,2177.9 1749.5,2178.0 1750.5,2178.2 1751.5,2178.3 1752.5,2178.4 1753.5,2178.6 1754.5,2178.7 1755.5,2178.8 1756.5,2178.9 1757.5,2179.1 1758.5,2179.2 1759.5,2179.3 1760.5,2179.4 1761.5,2179.5 1762.5,2179.6 1763.5,2179.7 1764.5,2179.9 1765.5,2180.0 1766.5,2180.1 1767.5,2180.2 1768.5,2180.3 1769.5,2180.4 1770.5,2180.5 1771.5,2180.6 1772.5,2180.7 1773.5,2180.8 1774.5,2180.9 1775.5,2181.0 1776.5,2181.2 1777.5,2181.3 1778.5,2181.4 1779.5,2181.5 1780.5,2181.6 1781.5,2181.7 1782.5,2181.8 1783.5,2181.9 1784.5,2182.1 1785.5,2182.2 1786.5,2182.3 1787.5,2182.4 1788.5,2182.5 1789.5,2182.7 1790.5,2182.8 1791.5,2182.9 1792.5,2183.1 1793.5,2183.2 1794.5,2183.3 1795.5,2183.5 1796.5,2183.6 1797.5,2183.7 1798.5,2183.9 1799.5,2184.0 1800.5,2184.2 1801.5,2184.4 1802.5,2184.5 1803.5,2184.7 1804.5,2184.9 1805.5,2185.0 1806.5,2185.2 1807.5,2185.4 1808.5,2185.6 1809.5,2185.8 1810.5,2186.0 1811.5,2186.2 1812.5,2186.4 1813.5,2186.6 1814.5,2186.9 1815.5,2187.1 1816.5,2187.3 1817.5,2187.6 1818.5,2187.8 1819.5,2188.1 1820.5,2188.4 1821.5,2188.6 1822.5,2188.9 1823.5,2189.2 1824.5,2189.5 1825.5,2189.8 1826.5,2190.1 1827.5,2190.5 1828.5,2190.8 1829.5,2191.2 1830.5,2191.5 1831.5,2191.9 1832.5,2192.3 1833.5,2192.7 1834.5,2193.1 1835.5,2193.5 1836.5,2193.9 1837.5,2194.3 1838.5,2194.8 1839.5,2195.3 1840.5,2195.7 1841.5,2196.2 1842.5,2196.7 1843.5,2197.2 1844.5,2197.7 1845.5,2198.3 1846.5,2198.8 1847.5,2199.4 1848.5,2199.9 1849.5,2200.5 1850.5,2201.1 1851.5,2201.7 1852.5,2202.3 1853.5,2203.0 1854.5,2203.6 1855.5,2204.2 1856.5,2204.9 1857.5,2205.6 1858.5,2206.3 1859.5,2206.9 1860.5,2207.6 1861.5,2208.3 1862.5,2209.1 1863.5,2209.8 1864.5,2210.5 1865.5,2211.2 1866.5,2212.0 1867.5,2212.7 1868.5,2213.5 1869.5,2214.2 1870.5,2215.0 1871.5,2215.8 1872.5,2216.5 1873.5,2217.3 1874.5,2218.0 1875.5,2218.8 1876.5,2219.6 1877.5,2220.3 1878.5,2221.1 1879.5,2221.8 1880.5,2222.5 1881.5,2223.3 1882.5,2224.0 1883.5,2224.7 1884.5,2225.4 1885.5,2226.2 1886.5,2226.9 1887.5,2227.5 1888.5,2228.2 1889.5,2228.9 1890.5,2229.6 1891.5,2230.2 1892.5,2230.8 1893.5,2231.5 1894.5,2232.1 1895.5,2232.7 1896.5,2233.3 1897.5,2233.8 1898.5,2234.4 1899.5,2235.0 1900.5,2235.5 1901.5,2236.0 1902.5,2236.6 1903.5,2237.1 1904.5,2237.6 1905.5,2238.0 1906.5,2238.5 1907.5,2239.0 1908.5,2239.4 1909.5,2239.8 1910.5,2240.2 1911.5,2240.7 1912.5,2241.0 1913.5,2241.4 1914.5,2241.8 1915.5,2242.2 1916.5,2242.5 1917.5,2242.9 1918.5,2243.2 1919.5,2243.5 1920.5,2243.8 1921.5,2244.1 1922.5,2244.4 1923.5,2244.7 1924.5,2245.0 1925.5,2245.2 1926.5,2245.5 1927.5,2245.7 1928.5,2246.0 1929.5,2246.2 1930.5,2246.4 1931.5,2246.6 1932.5,2246.9 1933.5,2247.1 1934.5,2247.3 1935.5,2247.4 1936.5,2247.6 1937.5,2247.8 1938.5,2248.0 1939.5,2248.1 1940.5,2248.3 1941.5,2248.4 1942.5,2248.6 1943.5,2248.7 1944.5,2248.9 1945.5,2249.0 1946.5,2249.1 1947.5,2249.3 1948.5,2249.4 1949.5,2249.5 1950.5,2249.6 1951.5,2249.7 1952.5,2249.8 1953.5,2250.0 1954.5,2250.1 1955.5,2250.2 1956.5,2250.2 1957.5,2250.3 1958.5,2250.4 1959.5,2250.5 1960.5,2250.6 1961.5,2250.7 1962.5,2250.8 1963.5,2250.8 1964.5,2250.9 1965.5,2251.0 1966.5,2251.1 1967.5,2251.1 1968.5,2251.2 1969.5,2251.3 1970.5,2251.3 1971.5,2251.4 1972.5,2251.5 1973.5,2251.5 1974.5,2251.6 1975.5,2251.7 1976.5,2251.7 1977.5,2251.8 1978.5,2251.8 1979.5,2251.9 1980.5,2251.9 1981.5,2252.0 1982.5,2252.0 1983.5,2252.1 1984.5,2252.1 1985.5,2252.2 1986.5,2252.2 1987.5,2252.3 1988.5,2252.3 1989.5,2252.4 1990.5,2252.4 1991.5,2252.5 1992.5,2252.5 1993.5,2252.5 1994.5,2252.6 1995.5,2252.6 1996.5,2252.7 1997.5,2252.7 1998.5,2252.8 1999.5,2252.8 2000.5,2252.8 2001.5,2252.9 2002.5,2252.9 2003.5,2252.9 2004.5,2253.0 2005.5,2253.0 2006.5,2253.0 2007.5,2253.1 2008.5,2253.1 2009.5,2253.1 2010.5,2253.2 2011.5,2253.2 2012.5,2253.2 2013.5,2253.3 2014.5,2253.3 2015.5,2253.3 2016.5,2253.4 2017.5,2253.4 2018.5,2253.4 2019.5,2253.5 2020.5,2253.5 2021.5,2253.5 2022.5,2253.6 2023.5,2253.6 2024.5,2253.6 2025.5,2253.6 2026.5,2253.7 2027.5,2253.7 2028.5,2253.7 2029.5,2253.7 2030.5,2253.8 2031.5,2253.8 2032.5,2253.8 2033.5,2253.8 2034.5,2253.9 2035.5,2253.9 2036.5,2253.9 2037.5,2253.9 2038.5,2254.0 2039.5,2254.0 2040.5,2254.0 2041.5,2254.0 2042.5,2254.1 2043.5,2254.1 2044.5,2254.1 2045.5,2254.1 2046.5,2254.2 2047.5,2254.2 2048.5,2254.2 2049.5,2254.2 2050.5,2254.2 2051.5,2254.3 2052.5,2254.3 2053.5,2254.3 2054.5,2254.3 2055.5,2254.3 2056.5,2254.4 2057.5,2254.4 2058.5,2254.4 2059.5,2254.4 2060.5,2254.4 2061.5,2254.5 2062.5,2254.5 2063.5,2254.5 2064.5,2254.5 2065.5,2254.5 2066.5,2254.5 2067.5,2254.6 2068.5,2254.6 2069.5,2254.6 2070.5,2254.6 2071.5,2254.6 2072.5,2254.7 2073.5,2254.7 2074.5,2254.7 2075.5,2254.7 2076.5,2254.7 2077.5,2254.7 2078.5,2254.8 2079.5,2254.8 2080.5,2254.8 2081.5,2254.8 2082.5,2254.8 2083.5,2254.8 2084.5,2254.8 2085.5,2254.9 2086.5,2254.9 2087.5,2254.9 2088.5,2254.9 2089.5,2254.9 2090.5,2254.9 2091.5,2255.0 2092.5,2255.0 2093.5,2255.0 2094.5,2255.0 2095.5,2255.0 2096.5,2255.0 2097.5,2255.0 2098.5,2255.1 2099.5,2255.1 2100.5,2255.1 2101.5,2255.1 2102.5,2255.1 2103.5,2255.1 2104.5,2255.1 2105.5,2255.1 2106.5,2255.2 2107.5,2255.2 2108.5,2255.2 2109.5,2255.2 2110.5,2255.2 2111.5,2255.2 2112.5,2255.2 2113.5,2255.2 2114.5,2255.3 2115.5,2255.3 2116.5,2255.3 2117.5,2255.3 2118.5,2255.3 2119.5,2255.3 2120.5,2255.3 2121.5,2255.3 2122.5,2255.3 2123.5,2255.4 2124.5,2255.4 2125.5,2255.4 2126.5,2255.4 2127.5,2255.4 2128.5,2255.4 2129.5,2255.4 2130.5,2255.4 2131.5,2255.4 2132.5,2255.5 2133.5,2255.5 2134.5,2255.5 2135.5,2255.5 2136.5,2255.5 2137.5,2255.5 2138.5,2255.5 2139.5,2255.5 2140.5,2255.5 2141.5,2255.5 2142.5,2255.6 2143.5,2255.6 2144.5,2255.6 2145.5,2255.6 2146.5,2255.6 2147.5,2255.6 2148.5,2255.6 2149.5,2255.6 2150.5,2255.6 2151.5,2255.6 2152.5,2255.7 2153.5,2255.7 2154.5,2255.7 2155.5,2255.7 2156.5,2255.7 2157.5,2255.7 2158.5,2255.7 2159.5,2255.7 2160.5,2255.7" fill="none" stroke="#ff00ff" stroke-width="3.4" stroke-linejoin="round" stroke-linecap="round"/>
<polyline points="1217.5,2131.8 1218.5,2131.8 1219.5,2131.8 1220.5,2131.8 1221.5,2131.8 1222.5,2131.8 1223.5,2131.8 1224.5,2131.8 1225.5,2131.8 1226.5,2131.8 1227.5,2131.8 1228.5,2131.8 1229.5,2131.8 1230.5,2131.8 1231.5,2131.8 1232.5,2131.8 1233.5,2131.8 1234.5,2131.8 1235.5,2131.8 1236.5,2131.8 1237.5,2131.8 1238.5,2131.8 1239.5,2131.8 1240.5,2131.8 1241.5,2131.8 1242.5,2131.8 1243.5,2131.8 1244.5,2131.8 1245.5,2131.8 1246.5,2131.8 1247.5,2131.8 1248.5,2131.8 1249.5,2131.8 1250.5,2131.8 1251.5,2131.8 1252.5,2131.8 1253.5,2131.8 1254.5,2131.8 1255.5,2131.8 1256.5,2131.8 1257.5,2131.8 1258.5,2131.8 1259.5,2131.8 1260.5,2131.8 1261.5,2131.8 1262.5,2131.8 1263.5,2131.8 1264.5,2131.8 1265.5,2131.8 1266.5,2131.8 1267.5,2131.8 1268.5,2131.8 1269.5,2131.8 1270.5,2131.8 1271.5,2131.8 1272.5,2131.8 1273.5,2131.8 1274.5,2131.8 1275.5,2131.8 1276.5,2131.8 1277.5,2131.8 1278.5,2131.8 1279.5,2131.8 1280.5,2131.8 1281.5,2131.8 1282.5,2131.8 1283.5,2131.8 1284.5,2131.8 1285.5,2131.8 1286.5,2131.8 1287.5,2131.8 1288.5,2131.8 1289.5,2131.8 1290.5,2131.8 1291.5,2131.8 1292.5,2131.8 1293.5,2131.8 1294.5,2131.8 1295.5,2131.8 1296.5,2131.8 1297.5,2131.8 1298.5,2131.8 1299.5,2131.8 1300.5,2131.8 1301.5,2131.8 1302.5,2131.8 1303.5,2131.8 1304.5,2131.8 1305.5,2131.9 1306.5,2131.9 1307.5,2131.9 1308.5,2131.9 1309.5,2131.9 1310.5,2131.9 1311.5,2131.9 1312.5,2131.9 1313.5,2131.9 1314.5,2131.9 1315.5,2131.9 1316.5,2131.9 1317.5,2131.9 1318.5,2131.9 1319.5,2131.9 1320.5,2131.9 1321.5,2131.9 1322.5,2131.9 1323.5,2131.9 1324.5,2131.9 1325.5,2131.9 1326.5,2131.9 1327.5,2131.9 1328.5,2131.9 1329.5,2131.9 1330.5,2131.9 1331.5,2131.9 1332.5,2131.9 1333.5,2131.9 1334.5,2131.9 1335.5,2131.9 1336.5,2131.9 1337.5,2131.9 1338.5,2131.9 1339.5,2131.9 1340.5,2131.9 1341.5,2131.9 1342.5,2131.9 1343.5,2131.9 1344.5,2131.9 1345.5,2131.9 1346.5,2131.9 1347.5,2131.9 1348.5,2131.9 1349.5,2131.9 1350.5,2131.9 1351.5,2131.9 1352.5,2131.9 1353.5,2131.9 1354.5,2131.9 1355.5,2131.9 1356.5,2131.9 1357.5,2131.9 1358.5,2131.9 1359.5,2131.9 1360.5,2131.9 1361.5,2131.9 1362.5,2131.9 1363.5,2131.9 1364.5,2131.9 1365.5,2131.9 1366.5,2131.9 1367.5,2131.9 1368.5,2131.9 1369.5,2131.9 1370.5,2131.9 1371.5,2131.9 1372.5,2131.9 1373.5,2131.9 1374.5,2131.9 1375.5,2131.9 1376.5,2131.9 1377.5,2131.9 1378.5,2131.9 1379.5,2131.9 1380.5,2131.9 1381.5,2131.9 1382.5,2131.9 1383.5,2131.9 1384.5,2131.9 1385.5,2131.9 1386.5,2131.9 1387.5,2131.9 1388.5,2131.9 1389.5,2131.9 1390.5,2131.9 1391.5,2131.9 1392.5,2131.9 1393.5,2131.9 1394.5,2131.9 1395.5,2131.9 1396.5,2131.9 1397.5,2131.9 1398.5,2131.9 1399.5,2131.9 1400.5,2131.9 1401.5,2131.9 1402.5,2131.9 1403.5,2131.9 1404.5,2131.9 1405.5,2131.9 1406.5,2131.9 1407.5,2131.9 1408.5,2131.9 1409.5,2131.9 1410.5,2131.9 1411.5,2131.9 1412.5,2131.9 1413.5,2131.9 1414.5,2131.9 1415.5,2131.9 1416.5,2131.9 1417.5,2131.9 1418.5,2131.9 1419.5,2131.9 1420.5,2131.9 1421.5,2131.9 1422.5,2131.9 1423.5,2131.9 1424.5,2131.9 1425.5,2131.9 1426.5,2131.9 1427.5,2131.9 1428.5,2131.9 1429.5,2131.9 1430.5,2131.9 1431.5,2131.9 1432.5,2131.9 1433.5,2131.9 1434.5,2131.9 1435.5,2131.9 1436.5,2131.9 1437.5,2131.9 1438.5,2131.9 1439.5,2131.9 1440.5,2131.9 1441.5,2131.9 1442.5,2131.9 1443.5,2131.9 1444.5,2131.9 1445.5,2131.9 1446.5,2131.9 1447.5,2131.9 1448.5,2131.9 1449.5,2131.9 1450.5,2131.9 1451.5,2131.9 1452.5,2131.9 1453.5,2131.9 1454.5,2131.9 1455.5,2131.9 1456.5,2131.9 1457.5,2131.9 1458.5,2131.9 1459.5,2131.9 1460.5,2131.9 1461.5,2131.9 1462.5,2131.9 1463.5,2131.9 1464.5,2131.9 1465.5,2131.9 1466.5,2131.9 1467.5,2131.9 1468.5,2131.9 1469.5,2131.9 1470.5,2131.9 1471.5,2131.9 1472.5,2131.9 1473.5,2131.9 1474.5,2131.9 1475.5,2131.9 1476.5,2131.9 1477.5,2131.9 1478.5,2131.9 1479.5,2131.9 1480.5,2131.9 1481.5,2131.9 1482.5,2131.9 1483.5,2131.9 1484.5,2131.9 1485.5,2131.9 1486.5,2131.9 1487.5,2131.9 1488.5,2131.9 1489.5,2131.9 1490.5,2132.0 1491.5,2132.0 1492.5,2132.0 1493.5,2132.0 1494.5,2132.0 1495.5,2132.0 1496.5,2132.0 1497.5,2132.0 1498.5,2132.0 1499.5,2132.0 1500.5,2132.0 1501.5,2132.0 1502.5,2132.0 1503.5,2132.0 1504.5,2132.0 1505.5,2132.0 1506.5,2132.0 1507.5,2132.0 1508.5,2132.0 1509.5,2132.0 1510.5,2132.0 1511.5,2132.0 1512.5,2132.0 1513.5,2132.0 1514.5,2132.0 1515.5,2132.0 1516.5,2132.0 1517.5,2132.1 1518.5,2132.1 1519.5,2132.1 1520.5,2132.1 1521.5,2132.1 1522.5,2132.1 1523.5,2132.1 1524.5,2132.1 1525.5,2132.1 1526.5,2132.1 1527.5,2132.1 1528.5,2132.1 1529.5,2132.2 1530.5,2132.2 1531.5,2132.2 1532.5,2132.2 1533.5,2132.2 1534.5,2132.2 1535.5,2132.3 1536.5,2132.3 1537.5,2132.3 1538.5,2132.3 1539.5,2132.3 1540.5,2132.4 1541.5,2132.4 1542.5,2132.4 1543.5,2132.4 1544.5,2132.5 1545.5,2132.5 1546.5,2132.5 1547.5,2132.6 1548.5,2132.6 1549.5,2132.6 1550.5,2132.7 1551.5,2132.7 1552.5,2132.8 1553.5,2132.8 1554.5,2132.9 1555.5,2132.9 1556.5,2133.0 1557.5,2133.1 1558.5,2133.1 1559.5,2133.2 1560.5,2133.3 1561.5,2133.4 1562.5,2133.5 1563.5,2133.5 1564.5,2133.6 1565.5,2133.7 1566.5,2133.8 1567.5,2133.9 1568.5,2134.1 1569.5,2134.2 1570.5,2134.3 1571.5,2134.4 1572.5,2134.6 1573.5,2134.7 1574.5,2134.9 1575.5,2135.0 1576.5,2135.2 1577.5,2135.4 1578.5,2135.5 1579.5,2135.7 1580.5,2135.9 1581.5,2136.1 1582.5,2136.3 1583.5,2136.6 1584.5,2136.8 1585.5,2137.0 1586.5,2137.3 1587.5,2137.5 1588.5,2137.8 1589.5,2138.1 1590.5,2138.3 1591.5,2138.6 1592.5,2138.9 1593.5,2139.2 1594.5,2139.6 1595.5,2139.9 1596.5,2140.2 1597.5,2140.6 1598.5,2140.9 1599.5,2141.3 1600.5,2141.6 1601.5,2142.0 1602.5,2142.4 1603.5,2142.8 1604.5,2143.2 1605.5,2143.6 1606.5,2144.1 1607.5,2144.5 1608.5,2144.9 1609.5,2145.4 1610.5,2145.8 1611.5,2146.3 1612.5,2146.7 1613.5,2147.2 1614.5,2147.7 1615.5,2148.2 1616.5,2148.6 1617.5,2149.1 1618.5,2149.6 1619.5,2150.1 1620.5,2150.6 1621.5,2151.1 1622.5,2151.6 1623.5,2152.1 1624.5,2152.6 1625.5,2153.1 1626.5,2153.6 1627.5,2154.1 1628.5,2154.7 1629.5,2155.2 1630.5,2155.6 1631.5,2156.1 1632.5,2156.6 1633.5,2157.1 1634.5,2157.6 1635.5,2158.1 1636.5,2158.6 1637.5,2159.0 1638.5,2159.5 1639.5,2159.9 1640.5,2160.4 1641.5,2160.8 1642.5,2161.3 1643.5,2161.7 1644.5,2162.1 1645.5,2162.5 1646.5,2162.9 1647.5,2163.3 1648.5,2163.7 1649.5,2164.1 1650.5,2164.4 1651.5,2164.8 1652.5,2165.1 1653.5,2165.4 1654.5,2165.8 1655.5,2166.1 1656.5,2166.4 1657.5,2166.7 1658.5,2167.0 1659.5,2167.2 1660.5,2167.5 1661.5,2167.8 1662.5,2168.0 1663.5,2168.2 1664.5,2168.5 1665.5,2168.7 1666.5,2168.9 1667.5,2169.1 1668.5,2169.3 1669.5,2169.4 1670.5,2169.6 1671.5,2169.8 1672.5,2169.9 1673.5,2170.1 1674.5,2170.2 1675.5,2170.3 1676.5,2170.4 1677.5,2170.5 1678.5,2170.6 1679.5,2170.7 1680.5,2170.8 1681.5,2170.9 1682.5,2171.0 1683.5,2171.0 1684.5,2171.1 1685.5,2171.2 1686.5,2171.2 1687.5,2171.2 1688.5,2171.3 1689.5,2171.3 1690.5,2171.3 1691.5,2171.4 1692.5,2171.4 1693.5,2171.4 1694.5,2171.4 1695.5,2171.4 1696.5,2171.4 1697.5,2171.4 1698.5,2171.3 1699.5,2171.3 1700.5,2171.3 1701.5,2171.3 1702.5,2171.2 1703.5,2171.2 1704.5,2171.2 1705.5,2171.1 1706.5,2171.1 1707.5,2171.0 1708.5,2171.0 1709.5,2170.9 1710.5,2170.8 1711.5,2170.8 1712.5,2170.7 1713.5,2170.6 1714.5,2170.5 1715.5,2170.5 1716.5,2170.4 1717.5,2170.3 1718.5,2170.2 1719.5,2170.1 1720.5,2170.0 1721.5,2169.9 1722.5,2169.8 1723.5,2169.7 1724.5,2169.6 1725.5,2169.5 1726.5,2169.4 1727.5,2169.3 1728.5,2169.1 1729.5,2169.0 1730.5,2168.9 1731.5,2168.7 1732.5,2168.6 1733.5,2168.5 1734.5,2168.3 1735.5,2168.2 1736.5,2168.0 1737.5,2167.9 1738.5,2167.7 1739.5,2167.5 1740.5,2167.4 1741.5,2167.2 1742.5,2167.0 1743.5,2166.8 1744.5,2166.6 1745.5,2166.4 1746.5,2166.2 1747.5,2166.0 1748.5,2165.8 1749.5,2165.6 1750.5,2165.3 1751.5,2165.1 1752.5,2164.8 1753.5,2164.6 1754.5,2164.3 1755.5,2164.0 1756.5,2163.8 1757.5,2163.5 1758.5,2163.2 1759.5,2162.8 1760.5,2162.5 1761.5,2162.2 1762.5,2161.8 1763.5,2161.4 1764.5,2161.1 1765.5,2160.7 1766.5,2160.2 1767.5,2159.8 1768.5,2159.3 1769.5,2158.9 1770.5,2158.4 1771.5,2157.9 1772.5,2157.3 1773.5,2156.8 1774.5,2156.2 1775.5,2155.6 1776.5,2154.9 1777.5,2154.3 1778.5,2153.6 1779.5,2152.8 1780.5,2152.1 1781.5,2151.3 1782.5,2150.4 1783.5,2149.5 1784.5,2148.6 1785.5,2147.7 1786.5,2146.7 1787.5,2145.6 1788.5,2144.5 1789.5,2143.4 1790.5,2142.2 1791.5,2140.9 1792.5,2139.6 1793.5,2138.2 1794.5,2136.8 1795.5,2135.3 1796.5,2133.7 1797.5,2132.1 1798.5,2130.4 1799.5,2128.6 1800.5,2126.7 1801.5,2124.8 1802.5,2122.8 1803.5,2120.7 1804.5,2118.5 1805.5,2116.3 1806.5,2113.9 1807.5,2111.5 1808.5,2108.9 1809.5,2106.3 1810.5,2103.6 1811.5,2100.8 1812.5,2097.8 1813.5,2094.8 1814.5,2091.7 1815.5,2088.5 1816.5,2085.2 1817.5,2081.7 1818.5,2078.2 1819.5,2074.5 1820.5,2070.8 1821.5,2066.9 1822.5,2063.0 1823.5,2058.9 1824.5,2054.7 1825.5,2050.5 1826.5,2046.1 1827.5,2041.6 1828.5,2037.1 1829.5,2032.4 1830.5,2027.6 1831.5,2022.8 1832.5,2017.9 1833.5,2012.9 1834.5,2007.8 1835.5,2002.6 1836.5,1997.4 1837.5,1992.1 1838.5,1986.7 1839.5,1981.4 1840.5,1975.9 1841.5,1970.4 1842.5,1965.0 1843.5,1959.4 1844.5,1953.9 1845.5,1948.4 1846.5,1942.9 1847.5,1937.4 1848.5,1932.0 1849.5,1926.6 1850.5,1921.3 1851.5,1916.0 1852.5,1910.9 1853.5,1905.8 1854.5,1900.9 1855.5,1896.1 1856.5,1891.5 1857.5,1887.0 1858.5,1882.8 1859.5,1878.7 1860.5,1874.9 1861.5,1871.4 1862.5,1868.0 1863.5,1865.0 1864.5,1862.3 1865.5,1859.9 1866.5,1857.8 1867.5,1856.0 1868.5,1854.6 1869.5,1853.6 1870.5,1852.9 1871.5,1852.6 1872.5,1852.7 1873.5,1853.2 1874.5,1854.1 1875.5,1855.3 1876.5,1857.0 1877.5,1859.0 1878.5,1861.3 1879.5,1864.1 1880.5,1867.2 1881.5,1870.6 1882.5,1874.3 1883.5,1878.4 1884.5,1882.7 1885.5,1887.3 1886.5,1892.1 1887.5,1897.2 1888.5,1902.5 1889.5,1908.0 1890.5,1913.7 1891.5,1919.6 1892.5,1925.6 1893.5,1931.7 1894.5,1937.9 1895.5,1944.2 1896.5,1950.6 1897.5,1957.1 1898.5,1963.6 1899.5,1970.1 1900.5,1976.6 1901.5,1983.2 1902.5,1989.7 1903.5,1996.3 1904.5,2002.8 1905.5,2009.2 1906.5,2015.6 1907.5,2022.0 1908.5,2028.3 1909.5,2034.5 1910.5,2040.7 1911.5,2046.7 1912.5,2052.7 1913.5,2058.6 1914.5,2064.4 1915.5,2070.1 1916.5,2075.7 1917.5,2081.1 1918.5,2086.5 1919.5,2091.8 1920.5,2096.9 1921.5,2101.9 1922.5,2106.8 1923.5,2111.6 1924.5,2116.2 1925.5,2120.7 1926.5,2125.1 1927.5,2129.4 1928.5,2133.6 1929.5,2137.6 1930.5,2141.6 1931.5,2145.4 1932.5,2149.0 1933.5,2152.6 1934.5,2156.1 1935.5,2159.4 1936.5,2162.6 1937.5,2165.7 1938.5,2168.7 1939.5,2171.6 1940.5,2174.4 1941.5,2177.1 1942.5,2179.7 1943.5,2182.2 1944.5,2184.6 1945.5,2186.9 1946.5,2189.2 1947.5,2191.3 1948.5,2193.3 1949.5,2195.3 1950.5,2197.2 1951.5,2199.0 1952.5,2200.8 1953.5,2202.4 1954.5,2204.0 1955.5,2205.6 1956.5,2207.0 1957.5,2208.4 1958.5,2209.8 1959.5,2211.1 1960.5,2212.3 1961.5,2213.5 1962.5,2214.6 1963.5,2215.7 1964.5,2216.8 1965.5,2217.8 1966.5,2218.7 1967.5,2219.7 1968.5,2220.5 1969.5,2221.4 1970.5,2222.2 1971.5,2223.0 1972.5,2223.7 1973.5,2224.5 1974.5,2225.1 1975.5,2225.8 1976.5,2226.5 1977.5,2227.1 1978.5,2227.7 1979.5,2228.2 1980.5,2228.8 1981.5,2229.3 1982.5,2229.8 1983.5,2230.3 1984.5,2230.8 1985.5,2231.2 1986.5,2231.7 1987.5,2232.1 1988.5,2232.5 1989.5,2232.9 1990.5,2233.3 1991.5,2233.7 1992.5,2234.1 1993.5,2234.4 1994.5,2234.8 1995.5,2235.1 1996.5,2235.5 1997.5,2235.8 1998.5,2236.1 1999.5,2236.4 2000.5,2236.7 2001.5,2237.0 2002.5,2237.2 2003.5,2237.5 2004.5,2237.8 2005.5,2238.0 2006.5,2238.3 2007.5,2238.6 2008.5,2238.8 2009.5,2239.0 2010.5,2239.3 2011.5,2239.5 2012.5,2239.7 2013.5,2239.9 2014.5,2240.2 2015.5,2240.4 2016.5,2240.6 2017.5,2240.8 2018.5,2241.0 2019.5,2241.2 2020.5,2241.4 2021.5,2241.5 2022.5,2241.7 2023.5,2241.9 2024.5,2242.1 2025.5,2242.3 2026.5,2242.4 2027.5,2242.6 2028.5,2242.8 2029.5,2242.9 2030.5,2243.1 2031.5,2243.2 2032.5,2243.4 2033.5,2243.5 2034.5,2243.7 2035.5,2243.8 2036.5,2244.0 2037.5,2244.1 2038.5,2244.3 2039.5,2244.4 2040.5,2244.5 2041.5,2244.7 2042.5,2244.8 2043.5,2244.9 2044.5,2245.1 2045.5,2245.2 2046.5,2245.3 2047.5,2245.4 2048.5,2245.5 2049.5,2245.7 2050.5,2245.8 2051.5,2245.9 2052.5,2246.0 2053.5,2246.1 2054.5,2246.2 2055.5,2246.3 2056.5,2246.4 2057.5,2246.5 2058.5,2246.6 2059.5,2246.7 2060.5,2246.8 2061.5,2246.9 2062.5,2247.0 2063.5,2247.1 2064.5,2247.2 2065.5,2247.3 2066.5,2247.4 2067.5,2247.5 2068.5,2247.6 2069.5,2247.7 2070.5,2247.8 2071.5,2247.9 2072.5,2247.9 2073.5,2248.0 2074.5,2248.1 2075.5,2248.2 2076.5,2248.3 2077.5,2248.3 2078.5,2248.4 2079.5,2248.5 2080.5,2248.6 2081.5,2248.7 2082.5,2248.7 2083.5,2248.8 2084.5,2248.9 2085.5,2248.9 2086.5,2249.0 2087.5,2249.1 2088.5,2249.2 2089.5,2249.2 2090.5,2249.3 2091.5,2249.4 2092.5,2249.4 2093.5,2249.5 2094.5,2249.5 2095.5,2249.6 2096.5,2249.7 2097.5,2249.7 2098.5,2249.8 2099.5,2249.9 2100.5,2249.9 2101.5,2250.0 2102.5,2250.0 2103.5,2250.1 2104.5,2250.1 2105.5,2250.2 2106.5,2250.3 2107.5,2250.3 2108.5,2250.4 2109.5,2250.4 2110.5,2250.5 2111.5,2250.5 2112.5,2250.6 2113.5,2250.6 2114.5,2250.7 2115.5,2250.7 2116.5,2250.8 2117.5,2250.8 2118.5,2250.9 2119.5,2250.9 2120.5,2251.0 2121.5,2251.0 2122.5,2251.1 2123.5,2251.1 2124.5,2251.2 2125.5,2251.2 2126.5,2251.2 2127.5,2251.3 2128.5,2251.3 2129.5,2251.4 2130.5,2251.4 2131.5,2251.5 2132.5,2251.5 2133.5,2251.5 2134.5,2251.6 2135.5,2251.6 2136.5,2251.7 2137.5,2251.7 2138.5,2251.7 2139.5,2251.8 2140.5,2251.8 2141.5,2251.9 2142.5,2251.9 2143.5,2251.9 2144.5,2252.0 2145.5,2252.0 2146.5,2252.0 2147.5,2252.1 2148.5,2252.1 2149.5,2252.1 2150.5,2252.2 2151.5,2252.2 2152.5,2252.3 2153.5,2252.3 2154.5,2252.3 2155.5,2252.4 2156.5,2252.4 2157.5,2252.4 2158.5,2252.5 2159.5,2252.5 2160.5,2252.5" fill="none" stroke="#0000ff" stroke-width="4.2" stroke-linejoin="round" stroke-linecap="round"/>
<line x1="1396.7" y1="1060.5" x2="1422.5" y2="1060.5" stroke="#ff1a1a" stroke-width="2.6"/>
<path d="M1432 1060.5L1413 1055.3L1413 1065.7Z" fill="#ff1a1a"/>
<line x1="1839.8" y1="1051.4" x2="1868" y2="1051.4" stroke="#ff1a1a" stroke-width="2.6"/>
<path d="M1877.5 1051.4L1858.5 1046.2L1858.5 1056.6Z" fill="#ff1a1a"/>
<line x1="1483" y1="1429.5" x2="1453.9" y2="1429.5" stroke="#111" stroke-width="2.6"/>
<path d="M1444.4 1429.5L1463.4 1424.3L1463.4 1434.7Z" fill="#111"/>
<line x1="1935" y1="1417.7" x2="1900.5" y2="1417.7" stroke="#111" stroke-width="2.6"/>
<path d="M1891 1417.7L1910 1412.5L1910 1422.9Z" fill="#111"/>
<line x1="471.7" y1="1938.8" x2="505" y2="1938.8" stroke="#ff1a1a" stroke-width="2.6"/>
<path d="M514.5 1938.8L495.5 1933.6L495.5 1944Z" fill="#ff1a1a"/>
<line x1="668.5" y1="1937.8" x2="612.3" y2="1937.8" stroke="#ff1a1a" stroke-width="2.6"/>
<path d="M602.8 1937.8L621.8 1932.6L621.8 1943Z" fill="#ff1a1a"/>
<line x1="491" y1="2260.5" x2="514.3" y2="2260.5" stroke="#111" stroke-width="2.6"/>
<path d="M523.8 2260.5L504.8 2255.3L504.8 2265.7Z" fill="#111"/>
<line x1="677" y1="2260.8" x2="627.5" y2="2260.8" stroke="#111" stroke-width="2.6"/>
<path d="M618 2260.8L637 2255.6L637 2266Z" fill="#111"/>
<line x1="1578.4" y1="2014.6" x2="1619.5" y2="2014.6" stroke="#ff1a1a" stroke-width="2.6"/>
<path d="M1629 2014.6L1610 2009.4L1610 2019.8Z" fill="#ff1a1a"/>
<line x1="1931" y1="2014.7" x2="1883.2" y2="2014.7" stroke="#ff1a1a" stroke-width="2.6"/>
<path d="M1873.7 2014.7L1892.7 2009.5L1892.7 2019.9Z" fill="#ff1a1a"/>
</svg>
</body></html>
